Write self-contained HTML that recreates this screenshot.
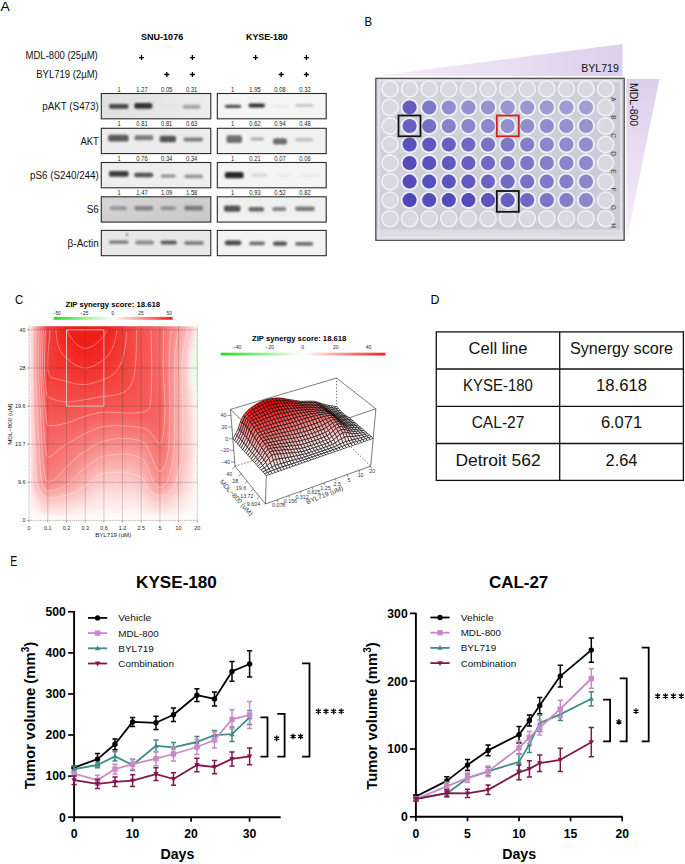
<!DOCTYPE html>
<html><head><meta charset="utf-8"><style>
html,body{margin:0;padding:0;background:#fff;}
svg{display:block;font-family:"Liberation Sans", sans-serif;}
</style></head><body>
<svg width="685" height="864" viewBox="0 0 685 864">
<defs><linearGradient id="gL0" x1="0" y1="0" x2="1" y2="0"><stop offset="0" stop-color="#e0e0e0"/><stop offset="1" stop-color="#ededed"/></linearGradient><linearGradient id="gL3" x1="0" y1="0" x2="1" y2="1"><stop offset="0" stop-color="#d6d6d6"/><stop offset="1" stop-color="#c8c8c8"/></linearGradient><filter id="bb" x="-30%" y="-80%" width="160%" height="260%"><feGaussianBlur stdDeviation="1.2 0.9"/></filter><linearGradient id="wedgeH" x1="0" y1="0" x2="1" y2="0"><stop offset="0" stop-color="#f6eefa"/><stop offset="1" stop-color="#ddd0ec"/></linearGradient><linearGradient id="wedgeV" x1="0" y1="0" x2="0" y2="1"><stop offset="0" stop-color="#dccfeb"/><stop offset="1" stop-color="#f6eefa"/></linearGradient><linearGradient id="plate" x1="0" y1="0" x2="1" y2="1"><stop offset="0" stop-color="#d4d4da"/><stop offset="1" stop-color="#c9c8d4"/></linearGradient><linearGradient id="cb" x1="0" y1="0" x2="1" y2="0"><stop offset="0" stop-color="#22dd22"/><stop offset="0.5" stop-color="#ffffff"/><stop offset="1" stop-color="#ff1a1a"/></linearGradient><clipPath id="hmclip"><rect x="29.1" y="326.2" width="168.6" height="194.3"/></clipPath><filter id="hmb" x="-5%" y="-5%" width="110%" height="110%"><feGaussianBlur stdDeviation="2.2"/></filter><linearGradient id="cb2" x1="0" y1="0" x2="1" y2="0"><stop offset="0" stop-color="#22dd22"/><stop offset="0.5" stop-color="#ffffff"/><stop offset="1" stop-color="#ff1a1a"/></linearGradient></defs>
<rect width="685" height="864" fill="#fff"/>
<text x="0.6" y="11.0" font-size="13" textLength="9.3" lengthAdjust="spacingAndGlyphs">A</text>
<text x="141.0" y="40.1" font-size="9" font-weight="bold" textLength="42.2" lengthAdjust="spacingAndGlyphs">SNU-1076</text>
<text x="246.0" y="40.1" font-size="9" font-weight="bold" textLength="41.8" lengthAdjust="spacingAndGlyphs">KYSE-180</text>
<text x="97.8" y="58.8" font-size="10.3" text-anchor="end" textLength="72.3" lengthAdjust="spacingAndGlyphs" fill="#111">MDL-800 (25µM)</text>
<text x="97.8" y="78.1" font-size="10.3" text-anchor="end" textLength="61.6" lengthAdjust="spacingAndGlyphs" fill="#111">BYL719 (2µM)</text>
<path d="M139.0 57.6h5M141.5 55.1v5" stroke="#000" stroke-width="1.3"/>
<path d="M189.9 57.6h5M192.4 55.1v5" stroke="#000" stroke-width="1.3"/>
<path d="M253.1 57.6h5M255.6 55.1v5" stroke="#000" stroke-width="1.3"/>
<path d="M303.9 57.6h5M306.4 55.1v5" stroke="#000" stroke-width="1.3"/>
<path d="M164.3 74.5h5M166.8 72.0v5" stroke="#000" stroke-width="1.3"/>
<path d="M189.9 74.5h5M192.4 72.0v5" stroke="#000" stroke-width="1.3"/>
<path d="M278.7 74.5h5M281.2 72.0v5" stroke="#000" stroke-width="1.3"/>
<path d="M303.9 74.5h5M306.4 72.0v5" stroke="#000" stroke-width="1.3"/>
<text x="98.8" y="109.8" font-size="10.0" text-anchor="end" textLength="56.6" lengthAdjust="spacingAndGlyphs" fill="#111">pAKT (S473)</text>
<rect x="101.3" y="93.5" width="109.5" height="25.3" fill="url(#gL0)" stroke="#2a2a2a" stroke-width="1.1"/>
<rect x="109.0" y="103.9" width="19.6" height="4.8" rx="2" fill="#464646" filter="url(#bb)"/>
<rect x="134.3" y="103.1" width="18.0" height="5.6" rx="2" fill="#303030" filter="url(#bb)"/>
<rect x="160.8" y="105.0" width="14.4" height="3.0" rx="2" fill="#e4e4e4" filter="url(#bb)"/>
<rect x="182.6" y="104.8" width="18.0" height="3.9" rx="2" fill="#a5a5a5" filter="url(#bb)"/>
<text x="119.2" y="91.5" font-size="6.6" text-anchor="middle" textLength="3.2" lengthAdjust="spacingAndGlyphs" fill="#222">1</text>
<text x="142.0" y="91.5" font-size="6.6" text-anchor="middle" textLength="11.3" lengthAdjust="spacingAndGlyphs" fill="#222">1.27</text>
<text x="166.7" y="91.5" font-size="6.6" text-anchor="middle" textLength="11.3" lengthAdjust="spacingAndGlyphs" fill="#222">0.05</text>
<text x="191.7" y="91.5" font-size="6.6" text-anchor="middle" textLength="11.3" lengthAdjust="spacingAndGlyphs" fill="#222">0.31</text>
<rect x="217.3" y="93.5" width="108.9" height="25.3" fill="#f5f5f5" stroke="#2a2a2a" stroke-width="1.1"/>
<rect x="224.8" y="104.8" width="16.4" height="3.1" rx="2" fill="#505050" filter="url(#bb)"/>
<rect x="248.5" y="103.6" width="16.4" height="3.9" rx="2" fill="#323232" filter="url(#bb)"/>
<rect x="272.8" y="105.0" width="16.4" height="2.5" rx="2" fill="#e8e8e8" filter="url(#bb)"/>
<rect x="295.1" y="103.9" width="18.8" height="3.1" rx="2" fill="#c8c8c8" filter="url(#bb)"/>
<text x="232.6" y="91.5" font-size="6.6" text-anchor="middle" textLength="3.2" lengthAdjust="spacingAndGlyphs" fill="#222">1</text>
<text x="255.0" y="91.5" font-size="6.6" text-anchor="middle" textLength="11.3" lengthAdjust="spacingAndGlyphs" fill="#222">1.95</text>
<text x="280.0" y="91.5" font-size="6.6" text-anchor="middle" textLength="11.3" lengthAdjust="spacingAndGlyphs" fill="#222">0.08</text>
<text x="305.0" y="91.5" font-size="6.6" text-anchor="middle" textLength="11.3" lengthAdjust="spacingAndGlyphs" fill="#222">0.32</text>
<text x="98.8" y="144.6" font-size="10.0" text-anchor="end" textLength="18.4" lengthAdjust="spacingAndGlyphs" fill="#111">AKT</text>
<rect x="101.3" y="128.3" width="109.5" height="25.3" fill="#ececec" stroke="#2a2a2a" stroke-width="1.1"/>
<rect x="108.2" y="134.7" width="20.4" height="6.7" rx="2" fill="#5a5a5a" filter="url(#bb)"/>
<rect x="134.3" y="135.3" width="18.9" height="4.9" rx="2" fill="#7a7a7a" filter="url(#bb)"/>
<rect x="159.7" y="135.8" width="16.3" height="6.4" rx="2" fill="#525252" filter="url(#bb)"/>
<rect x="183.4" y="137.5" width="19.6" height="3.9" rx="2" fill="#7a7a7a" filter="url(#bb)"/>
<text x="119.2" y="126.3" font-size="6.6" text-anchor="middle" textLength="3.2" lengthAdjust="spacingAndGlyphs" fill="#222">1</text>
<text x="142.0" y="126.3" font-size="6.6" text-anchor="middle" textLength="11.3" lengthAdjust="spacingAndGlyphs" fill="#222">0.81</text>
<text x="166.7" y="126.3" font-size="6.6" text-anchor="middle" textLength="11.3" lengthAdjust="spacingAndGlyphs" fill="#222">0.81</text>
<text x="191.7" y="126.3" font-size="6.6" text-anchor="middle" textLength="11.3" lengthAdjust="spacingAndGlyphs" fill="#222">0.63</text>
<rect x="217.3" y="128.3" width="108.9" height="25.3" fill="#f2f2f2" stroke="#2a2a2a" stroke-width="1.1"/>
<rect x="226.4" y="135.3" width="15.6" height="7.7" rx="2" fill="#6e6e6e" filter="url(#bb)"/>
<rect x="250.1" y="137.5" width="14.0" height="3.0" rx="2" fill="#aaaaaa" filter="url(#bb)"/>
<rect x="273.0" y="138.3" width="14.0" height="6.3" rx="2" fill="#6c6c6c" filter="url(#bb)"/>
<rect x="295.1" y="138.0" width="18.1" height="3.4" rx="2" fill="#c0c0c0" filter="url(#bb)"/>
<text x="232.6" y="126.3" font-size="6.6" text-anchor="middle" textLength="3.2" lengthAdjust="spacingAndGlyphs" fill="#222">1</text>
<text x="255.0" y="126.3" font-size="6.6" text-anchor="middle" textLength="11.3" lengthAdjust="spacingAndGlyphs" fill="#222">0.62</text>
<text x="280.0" y="126.3" font-size="6.6" text-anchor="middle" textLength="11.3" lengthAdjust="spacingAndGlyphs" fill="#222">0.94</text>
<text x="305.0" y="126.3" font-size="6.6" text-anchor="middle" textLength="11.3" lengthAdjust="spacingAndGlyphs" fill="#222">0.48</text>
<text x="98.8" y="178.8" font-size="10.0" text-anchor="end" textLength="68.7" lengthAdjust="spacingAndGlyphs" fill="#111">pS6 (S240/244)</text>
<rect x="101.3" y="162.5" width="109.5" height="25.3" fill="#efefef" stroke="#2a2a2a" stroke-width="1.1"/>
<rect x="109.0" y="171.1" width="19.6" height="5.6" rx="2" fill="#3c3c3c" filter="url(#bb)"/>
<rect x="134.3" y="172.8" width="18.9" height="4.4" rx="2" fill="#525252" filter="url(#bb)"/>
<rect x="160.5" y="174.4" width="15.5" height="3.1" rx="2" fill="#8c8c8c" filter="url(#bb)"/>
<rect x="184.2" y="174.4" width="18.8" height="3.9" rx="2" fill="#969696" filter="url(#bb)"/>
<text x="119.2" y="160.5" font-size="6.6" text-anchor="middle" textLength="3.2" lengthAdjust="spacingAndGlyphs" fill="#222">1</text>
<text x="142.0" y="160.5" font-size="6.6" text-anchor="middle" textLength="11.3" lengthAdjust="spacingAndGlyphs" fill="#222">0.76</text>
<text x="166.7" y="160.5" font-size="6.6" text-anchor="middle" textLength="11.3" lengthAdjust="spacingAndGlyphs" fill="#222">0.34</text>
<text x="191.7" y="160.5" font-size="6.6" text-anchor="middle" textLength="11.3" lengthAdjust="spacingAndGlyphs" fill="#222">0.34</text>
<rect x="217.3" y="162.5" width="108.9" height="25.3" fill="#f4f4f4" stroke="#2a2a2a" stroke-width="1.1"/>
<rect x="224.8" y="171.9" width="18.8" height="6.4" rx="2" fill="#282828" filter="url(#bb)"/>
<rect x="251.0" y="173.5" width="16.3" height="3.2" rx="2" fill="#d7d7d7" filter="url(#bb)"/>
<rect x="277.1" y="174.0" width="13.1" height="2.5" rx="2" fill="#e6e6e6" filter="url(#bb)"/>
<rect x="300.0" y="174.0" width="18.8" height="3.0" rx="2" fill="#eaeaea" filter="url(#bb)"/>
<text x="232.6" y="160.5" font-size="6.6" text-anchor="middle" textLength="3.2" lengthAdjust="spacingAndGlyphs" fill="#222">1</text>
<text x="255.0" y="160.5" font-size="6.6" text-anchor="middle" textLength="11.3" lengthAdjust="spacingAndGlyphs" fill="#222">0.21</text>
<text x="280.0" y="160.5" font-size="6.6" text-anchor="middle" textLength="11.3" lengthAdjust="spacingAndGlyphs" fill="#222">0.07</text>
<text x="305.0" y="160.5" font-size="6.6" text-anchor="middle" textLength="11.3" lengthAdjust="spacingAndGlyphs" fill="#222">0.06</text>
<text x="98.8" y="213.1" font-size="10.0" text-anchor="end" textLength="12.0" lengthAdjust="spacingAndGlyphs" fill="#111">S6</text>
<rect x="101.3" y="196.8" width="109.5" height="25.3" fill="url(#gL3)" stroke="#2a2a2a" stroke-width="1.1"/>
<rect x="109.8" y="206.3" width="17.2" height="3.9" rx="2" fill="#969696" filter="url(#bb)"/>
<rect x="134.3" y="206.0" width="18.9" height="4.5" rx="2" fill="#848484" filter="url(#bb)"/>
<rect x="160.5" y="206.3" width="15.5" height="3.9" rx="2" fill="#929292" filter="url(#bb)"/>
<rect x="184.2" y="205.7" width="18.8" height="4.8" rx="2" fill="#7a7a7a" filter="url(#bb)"/>
<text x="119.2" y="194.8" font-size="6.6" text-anchor="middle" textLength="3.2" lengthAdjust="spacingAndGlyphs" fill="#222">1</text>
<text x="142.0" y="194.8" font-size="6.6" text-anchor="middle" textLength="11.3" lengthAdjust="spacingAndGlyphs" fill="#222">1.47</text>
<text x="166.7" y="194.8" font-size="6.6" text-anchor="middle" textLength="11.3" lengthAdjust="spacingAndGlyphs" fill="#222">1.09</text>
<text x="191.7" y="194.8" font-size="6.6" text-anchor="middle" textLength="11.3" lengthAdjust="spacingAndGlyphs" fill="#222">1.58</text>
<rect x="217.3" y="196.8" width="108.9" height="25.3" fill="#f0f0f0" stroke="#2a2a2a" stroke-width="1.1"/>
<rect x="224.0" y="205.5" width="16.4" height="6.3" rx="2" fill="#525252" filter="url(#bb)"/>
<rect x="248.5" y="207.1" width="15.6" height="4.4" rx="2" fill="#666666" filter="url(#bb)"/>
<rect x="272.2" y="207.1" width="14.0" height="3.9" rx="2" fill="#828282" filter="url(#bb)"/>
<rect x="295.1" y="206.5" width="19.7" height="4.5" rx="2" fill="#787878" filter="url(#bb)"/>
<text x="232.6" y="194.8" font-size="6.6" text-anchor="middle" textLength="3.2" lengthAdjust="spacingAndGlyphs" fill="#222">1</text>
<text x="255.0" y="194.8" font-size="6.6" text-anchor="middle" textLength="11.3" lengthAdjust="spacingAndGlyphs" fill="#222">0.93</text>
<text x="280.0" y="194.8" font-size="6.6" text-anchor="middle" textLength="11.3" lengthAdjust="spacingAndGlyphs" fill="#222">0.52</text>
<text x="305.0" y="194.8" font-size="6.6" text-anchor="middle" textLength="11.3" lengthAdjust="spacingAndGlyphs" fill="#222">0.82</text>
<text x="98.8" y="246.7" font-size="10.0" text-anchor="end" textLength="31.2" lengthAdjust="spacingAndGlyphs" fill="#111">β-Actin</text>
<rect x="101.3" y="230.4" width="109.5" height="25.3" fill="#e8e8e8" stroke="#2a2a2a" stroke-width="1.1"/>
<rect x="109.0" y="240.6" width="19.6" height="3.1" rx="2" fill="#767676" filter="url(#bb)"/>
<rect x="135.1" y="240.6" width="18.9" height="3.9" rx="2" fill="#8c8c8c" filter="url(#bb)"/>
<rect x="160.5" y="240.6" width="16.4" height="3.9" rx="2" fill="#5c5c5c" filter="url(#bb)"/>
<rect x="184.2" y="241.1" width="19.6" height="3.9" rx="2" fill="#828282" filter="url(#bb)"/>
<rect x="217.3" y="230.4" width="108.9" height="25.3" fill="#f3f3f3" stroke="#2a2a2a" stroke-width="1.1"/>
<rect x="224.8" y="240.6" width="16.4" height="4.7" rx="2" fill="#484848" filter="url(#bb)"/>
<rect x="249.3" y="241.5" width="15.6" height="3.8" rx="2" fill="#6e6e6e" filter="url(#bb)"/>
<rect x="273.0" y="241.5" width="14.0" height="4.2" rx="2" fill="#525252" filter="url(#bb)"/>
<rect x="295.1" y="242.0" width="18.1" height="3.7" rx="2" fill="#6e6e6e" filter="url(#bb)"/>
<circle cx="127" cy="234.6" r="1.1" fill="#444" filter="url(#bb)"/>
<text x="364.6" y="25.7" font-size="13" textLength="7.6" lengthAdjust="spacingAndGlyphs">B</text>
<polygon points="376,76 622.5,44 622.5,76" fill="url(#wedgeH)"/>
<polygon points="626.5,79 659.5,79 626.5,240" fill="url(#wedgeV)"/>
<text x="618.8" y="71.8" font-size="10.5" text-anchor="end" textLength="37.6" lengthAdjust="spacingAndGlyphs" fill="#111">BYL719</text>
<text x="630.0" y="83.0" font-size="10.5" textLength="43.2" lengthAdjust="spacingAndGlyphs" fill="#111" transform="rotate(90 630.0 83.0)">MDL-800</text>
<rect x="375.8" y="78.3" width="248.4" height="162" fill="url(#plate)" stroke="#444" stroke-width="1.2"/>
<rect x="377" y="229.5" width="246" height="10" fill="#dcdce0"/>
<rect x="379" y="81" width="242" height="156" fill="none" stroke="#e6e6ea" stroke-width="1.5"/>
<circle cx="390.0" cy="88.9" r="8.0" fill="none" stroke="#efeff6" stroke-width="1.9"/>
<circle cx="390.0" cy="88.9" r="7.0" fill="#d9d9df"/>
<circle cx="409.6" cy="88.9" r="8.0" fill="none" stroke="#efeff6" stroke-width="1.9"/>
<circle cx="409.6" cy="88.9" r="7.0" fill="#d9d9df"/>
<circle cx="429.2" cy="88.9" r="8.0" fill="none" stroke="#efeff6" stroke-width="1.9"/>
<circle cx="429.2" cy="88.9" r="7.0" fill="#d9d9df"/>
<circle cx="448.8" cy="88.9" r="8.0" fill="none" stroke="#efeff6" stroke-width="1.9"/>
<circle cx="448.8" cy="88.9" r="7.0" fill="#d9d9df"/>
<circle cx="468.4" cy="88.9" r="8.0" fill="none" stroke="#efeff6" stroke-width="1.9"/>
<circle cx="468.4" cy="88.9" r="7.0" fill="#d9d9df"/>
<circle cx="488.0" cy="88.9" r="8.0" fill="none" stroke="#efeff6" stroke-width="1.9"/>
<circle cx="488.0" cy="88.9" r="7.0" fill="#d9d9df"/>
<circle cx="507.6" cy="88.9" r="8.0" fill="none" stroke="#efeff6" stroke-width="1.9"/>
<circle cx="507.6" cy="88.9" r="7.0" fill="#d9d9df"/>
<circle cx="527.2" cy="88.9" r="8.0" fill="none" stroke="#efeff6" stroke-width="1.9"/>
<circle cx="527.2" cy="88.9" r="7.0" fill="#d9d9df"/>
<circle cx="546.8" cy="88.9" r="8.0" fill="none" stroke="#efeff6" stroke-width="1.9"/>
<circle cx="546.8" cy="88.9" r="7.0" fill="#d9d9df"/>
<circle cx="566.4" cy="88.9" r="8.0" fill="none" stroke="#efeff6" stroke-width="1.9"/>
<circle cx="566.4" cy="88.9" r="7.0" fill="#d9d9df"/>
<circle cx="586.0" cy="88.9" r="8.0" fill="none" stroke="#efeff6" stroke-width="1.9"/>
<circle cx="586.0" cy="88.9" r="7.0" fill="#d9d9df"/>
<circle cx="605.6" cy="88.9" r="8.0" fill="none" stroke="#efeff6" stroke-width="1.9"/>
<circle cx="605.6" cy="88.9" r="7.0" fill="#d9d9df"/>
<circle cx="390.0" cy="107.4" r="8.0" fill="none" stroke="#efeff6" stroke-width="1.9"/>
<circle cx="390.0" cy="107.4" r="7.0" fill="#d9d9df"/>
<circle cx="409.6" cy="107.4" r="8.0" fill="none" stroke="#efeff6" stroke-width="1.9"/>
<circle cx="409.6" cy="107.4" r="7.0" fill="#645cc0"/>
<circle cx="429.2" cy="107.4" r="8.0" fill="none" stroke="#efeff6" stroke-width="1.9"/>
<circle cx="429.2" cy="107.4" r="7.0" fill="#7e78c8"/>
<circle cx="448.8" cy="107.4" r="8.0" fill="none" stroke="#efeff6" stroke-width="1.9"/>
<circle cx="448.8" cy="107.4" r="7.0" fill="#928dce"/>
<circle cx="468.4" cy="107.4" r="8.0" fill="none" stroke="#efeff6" stroke-width="1.9"/>
<circle cx="468.4" cy="107.4" r="7.0" fill="#9590cf"/>
<circle cx="488.0" cy="107.4" r="8.0" fill="none" stroke="#efeff6" stroke-width="1.9"/>
<circle cx="488.0" cy="107.4" r="7.0" fill="#9893d0"/>
<circle cx="507.6" cy="107.4" r="8.0" fill="none" stroke="#efeff6" stroke-width="1.9"/>
<circle cx="507.6" cy="107.4" r="7.0" fill="#9a96d0"/>
<circle cx="527.2" cy="107.4" r="8.0" fill="none" stroke="#efeff6" stroke-width="1.9"/>
<circle cx="527.2" cy="107.4" r="7.0" fill="#9c97d1"/>
<circle cx="546.8" cy="107.4" r="8.0" fill="none" stroke="#efeff6" stroke-width="1.9"/>
<circle cx="546.8" cy="107.4" r="7.0" fill="#9d99d1"/>
<circle cx="566.4" cy="107.4" r="8.0" fill="none" stroke="#efeff6" stroke-width="1.9"/>
<circle cx="566.4" cy="107.4" r="7.0" fill="#a09bd2"/>
<circle cx="586.0" cy="107.4" r="8.0" fill="none" stroke="#efeff6" stroke-width="1.9"/>
<circle cx="586.0" cy="107.4" r="7.0" fill="#a29ed3"/>
<circle cx="605.6" cy="107.4" r="8.0" fill="none" stroke="#efeff6" stroke-width="1.9"/>
<circle cx="605.6" cy="107.4" r="7.0" fill="#d9d9df"/>
<circle cx="390.0" cy="126.0" r="8.0" fill="none" stroke="#efeff6" stroke-width="1.9"/>
<circle cx="390.0" cy="126.0" r="7.0" fill="#d9d9df"/>
<circle cx="409.6" cy="126.0" r="8.0" fill="none" stroke="#efeff6" stroke-width="1.9"/>
<circle cx="409.6" cy="126.0" r="7.0" fill="#6860c1"/>
<circle cx="429.2" cy="126.0" r="8.0" fill="none" stroke="#efeff6" stroke-width="1.9"/>
<circle cx="429.2" cy="126.0" r="7.0" fill="#756ec5"/>
<circle cx="448.8" cy="126.0" r="8.0" fill="none" stroke="#efeff6" stroke-width="1.9"/>
<circle cx="448.8" cy="126.0" r="7.0" fill="#8882cb"/>
<circle cx="468.4" cy="126.0" r="8.0" fill="none" stroke="#efeff6" stroke-width="1.9"/>
<circle cx="468.4" cy="126.0" r="7.0" fill="#8a85cc"/>
<circle cx="488.0" cy="126.0" r="8.0" fill="none" stroke="#efeff6" stroke-width="1.9"/>
<circle cx="488.0" cy="126.0" r="7.0" fill="#8c86cc"/>
<circle cx="507.6" cy="126.0" r="8.0" fill="none" stroke="#efeff6" stroke-width="1.9"/>
<circle cx="507.6" cy="126.0" r="7.0" fill="#928dce"/>
<circle cx="527.2" cy="126.0" r="8.0" fill="none" stroke="#efeff6" stroke-width="1.9"/>
<circle cx="527.2" cy="126.0" r="7.0" fill="#928dce"/>
<circle cx="546.8" cy="126.0" r="8.0" fill="none" stroke="#efeff6" stroke-width="1.9"/>
<circle cx="546.8" cy="126.0" r="7.0" fill="#928dce"/>
<circle cx="566.4" cy="126.0" r="8.0" fill="none" stroke="#efeff6" stroke-width="1.9"/>
<circle cx="566.4" cy="126.0" r="7.0" fill="#9590cf"/>
<circle cx="586.0" cy="126.0" r="8.0" fill="none" stroke="#efeff6" stroke-width="1.9"/>
<circle cx="586.0" cy="126.0" r="7.0" fill="#9994d0"/>
<circle cx="605.6" cy="126.0" r="8.0" fill="none" stroke="#efeff6" stroke-width="1.9"/>
<circle cx="605.6" cy="126.0" r="7.0" fill="#d9d9df"/>
<circle cx="390.0" cy="144.5" r="8.0" fill="none" stroke="#efeff6" stroke-width="1.9"/>
<circle cx="390.0" cy="144.5" r="7.0" fill="#d9d9df"/>
<circle cx="409.6" cy="144.5" r="8.0" fill="none" stroke="#efeff6" stroke-width="1.9"/>
<circle cx="409.6" cy="144.5" r="7.0" fill="#5a52bd"/>
<circle cx="429.2" cy="144.5" r="8.0" fill="none" stroke="#efeff6" stroke-width="1.9"/>
<circle cx="429.2" cy="144.5" r="7.0" fill="#5f57bf"/>
<circle cx="448.8" cy="144.5" r="8.0" fill="none" stroke="#efeff6" stroke-width="1.9"/>
<circle cx="448.8" cy="144.5" r="7.0" fill="#6860c1"/>
<circle cx="468.4" cy="144.5" r="8.0" fill="none" stroke="#efeff6" stroke-width="1.9"/>
<circle cx="468.4" cy="144.5" r="7.0" fill="#7068c4"/>
<circle cx="488.0" cy="144.5" r="8.0" fill="none" stroke="#efeff6" stroke-width="1.9"/>
<circle cx="488.0" cy="144.5" r="7.0" fill="#7871c6"/>
<circle cx="507.6" cy="144.5" r="8.0" fill="none" stroke="#efeff6" stroke-width="1.9"/>
<circle cx="507.6" cy="144.5" r="7.0" fill="#7e78c8"/>
<circle cx="527.2" cy="144.5" r="8.0" fill="none" stroke="#efeff6" stroke-width="1.9"/>
<circle cx="527.2" cy="144.5" r="7.0" fill="#857fca"/>
<circle cx="546.8" cy="144.5" r="8.0" fill="none" stroke="#efeff6" stroke-width="1.9"/>
<circle cx="546.8" cy="144.5" r="7.0" fill="#8a85cc"/>
<circle cx="566.4" cy="144.5" r="8.0" fill="none" stroke="#efeff6" stroke-width="1.9"/>
<circle cx="566.4" cy="144.5" r="7.0" fill="#908acd"/>
<circle cx="586.0" cy="144.5" r="8.0" fill="none" stroke="#efeff6" stroke-width="1.9"/>
<circle cx="586.0" cy="144.5" r="7.0" fill="#928dce"/>
<circle cx="605.6" cy="144.5" r="8.0" fill="none" stroke="#efeff6" stroke-width="1.9"/>
<circle cx="605.6" cy="144.5" r="7.0" fill="#d9d9df"/>
<circle cx="390.0" cy="163.0" r="8.0" fill="none" stroke="#efeff6" stroke-width="1.9"/>
<circle cx="390.0" cy="163.0" r="7.0" fill="#d9d9df"/>
<circle cx="409.6" cy="163.0" r="8.0" fill="none" stroke="#efeff6" stroke-width="1.9"/>
<circle cx="409.6" cy="163.0" r="7.0" fill="#554cbc"/>
<circle cx="429.2" cy="163.0" r="8.0" fill="none" stroke="#efeff6" stroke-width="1.9"/>
<circle cx="429.2" cy="163.0" r="7.0" fill="#5a52bd"/>
<circle cx="448.8" cy="163.0" r="8.0" fill="none" stroke="#efeff6" stroke-width="1.9"/>
<circle cx="448.8" cy="163.0" r="7.0" fill="#625ac0"/>
<circle cx="468.4" cy="163.0" r="8.0" fill="none" stroke="#efeff6" stroke-width="1.9"/>
<circle cx="468.4" cy="163.0" r="7.0" fill="#6860c1"/>
<circle cx="488.0" cy="163.0" r="8.0" fill="none" stroke="#efeff6" stroke-width="1.9"/>
<circle cx="488.0" cy="163.0" r="7.0" fill="#7068c4"/>
<circle cx="507.6" cy="163.0" r="8.0" fill="none" stroke="#efeff6" stroke-width="1.9"/>
<circle cx="507.6" cy="163.0" r="7.0" fill="#7871c6"/>
<circle cx="527.2" cy="163.0" r="8.0" fill="none" stroke="#efeff6" stroke-width="1.9"/>
<circle cx="527.2" cy="163.0" r="7.0" fill="#7d76c8"/>
<circle cx="546.8" cy="163.0" r="8.0" fill="none" stroke="#efeff6" stroke-width="1.9"/>
<circle cx="546.8" cy="163.0" r="7.0" fill="#857fca"/>
<circle cx="566.4" cy="163.0" r="8.0" fill="none" stroke="#efeff6" stroke-width="1.9"/>
<circle cx="566.4" cy="163.0" r="7.0" fill="#8a85cc"/>
<circle cx="586.0" cy="163.0" r="8.0" fill="none" stroke="#efeff6" stroke-width="1.9"/>
<circle cx="586.0" cy="163.0" r="7.0" fill="#908acd"/>
<circle cx="605.6" cy="163.0" r="8.0" fill="none" stroke="#efeff6" stroke-width="1.9"/>
<circle cx="605.6" cy="163.0" r="7.0" fill="#d9d9df"/>
<circle cx="390.0" cy="181.6" r="8.0" fill="none" stroke="#efeff6" stroke-width="1.9"/>
<circle cx="390.0" cy="181.6" r="7.0" fill="#d9d9df"/>
<circle cx="409.6" cy="181.6" r="8.0" fill="none" stroke="#efeff6" stroke-width="1.9"/>
<circle cx="409.6" cy="181.6" r="7.0" fill="#554cbc"/>
<circle cx="429.2" cy="181.6" r="8.0" fill="none" stroke="#efeff6" stroke-width="1.9"/>
<circle cx="429.2" cy="181.6" r="7.0" fill="#574fbc"/>
<circle cx="448.8" cy="181.6" r="8.0" fill="none" stroke="#efeff6" stroke-width="1.9"/>
<circle cx="448.8" cy="181.6" r="7.0" fill="#5d54be"/>
<circle cx="468.4" cy="181.6" r="8.0" fill="none" stroke="#efeff6" stroke-width="1.9"/>
<circle cx="468.4" cy="181.6" r="7.0" fill="#625ac0"/>
<circle cx="488.0" cy="181.6" r="8.0" fill="none" stroke="#efeff6" stroke-width="1.9"/>
<circle cx="488.0" cy="181.6" r="7.0" fill="#6a63c2"/>
<circle cx="507.6" cy="181.6" r="8.0" fill="none" stroke="#efeff6" stroke-width="1.9"/>
<circle cx="507.6" cy="181.6" r="7.0" fill="#726bc4"/>
<circle cx="527.2" cy="181.6" r="8.0" fill="none" stroke="#efeff6" stroke-width="1.9"/>
<circle cx="527.2" cy="181.6" r="7.0" fill="#7871c6"/>
<circle cx="546.8" cy="181.6" r="8.0" fill="none" stroke="#efeff6" stroke-width="1.9"/>
<circle cx="546.8" cy="181.6" r="7.0" fill="#8079c8"/>
<circle cx="566.4" cy="181.6" r="8.0" fill="none" stroke="#efeff6" stroke-width="1.9"/>
<circle cx="566.4" cy="181.6" r="7.0" fill="#857fca"/>
<circle cx="586.0" cy="181.6" r="8.0" fill="none" stroke="#efeff6" stroke-width="1.9"/>
<circle cx="586.0" cy="181.6" r="7.0" fill="#8c86cc"/>
<circle cx="605.6" cy="181.6" r="8.0" fill="none" stroke="#efeff6" stroke-width="1.9"/>
<circle cx="605.6" cy="181.6" r="7.0" fill="#d9d9df"/>
<circle cx="390.0" cy="200.1" r="8.0" fill="none" stroke="#efeff6" stroke-width="1.9"/>
<circle cx="390.0" cy="200.1" r="7.0" fill="#d9d9df"/>
<circle cx="409.6" cy="200.1" r="8.0" fill="none" stroke="#efeff6" stroke-width="1.9"/>
<circle cx="409.6" cy="200.1" r="7.0" fill="#4f46ba"/>
<circle cx="429.2" cy="200.1" r="8.0" fill="none" stroke="#efeff6" stroke-width="1.9"/>
<circle cx="429.2" cy="200.1" r="7.0" fill="#554cbc"/>
<circle cx="448.8" cy="200.1" r="8.0" fill="none" stroke="#efeff6" stroke-width="1.9"/>
<circle cx="448.8" cy="200.1" r="7.0" fill="#554cbc"/>
<circle cx="468.4" cy="200.1" r="8.0" fill="none" stroke="#efeff6" stroke-width="1.9"/>
<circle cx="468.4" cy="200.1" r="7.0" fill="#554cbc"/>
<circle cx="488.0" cy="200.1" r="8.0" fill="none" stroke="#efeff6" stroke-width="1.9"/>
<circle cx="488.0" cy="200.1" r="7.0" fill="#5d54be"/>
<circle cx="507.6" cy="200.1" r="8.0" fill="none" stroke="#efeff6" stroke-width="1.9"/>
<circle cx="507.6" cy="200.1" r="7.0" fill="#6860c1"/>
<circle cx="527.2" cy="200.1" r="8.0" fill="none" stroke="#efeff6" stroke-width="1.9"/>
<circle cx="527.2" cy="200.1" r="7.0" fill="#7068c4"/>
<circle cx="546.8" cy="200.1" r="8.0" fill="none" stroke="#efeff6" stroke-width="1.9"/>
<circle cx="546.8" cy="200.1" r="7.0" fill="#7d76c8"/>
<circle cx="566.4" cy="200.1" r="8.0" fill="none" stroke="#efeff6" stroke-width="1.9"/>
<circle cx="566.4" cy="200.1" r="7.0" fill="#857fca"/>
<circle cx="586.0" cy="200.1" r="8.0" fill="none" stroke="#efeff6" stroke-width="1.9"/>
<circle cx="586.0" cy="200.1" r="7.0" fill="#8c86cc"/>
<circle cx="605.6" cy="200.1" r="8.0" fill="none" stroke="#efeff6" stroke-width="1.9"/>
<circle cx="605.6" cy="200.1" r="7.0" fill="#d9d9df"/>
<circle cx="390.0" cy="218.6" r="8.0" fill="none" stroke="#efeff6" stroke-width="1.9"/>
<circle cx="390.0" cy="218.6" r="7.0" fill="#d9d9df"/>
<circle cx="409.6" cy="218.6" r="8.0" fill="none" stroke="#efeff6" stroke-width="1.9"/>
<circle cx="409.6" cy="218.6" r="7.0" fill="#d9d9df"/>
<circle cx="429.2" cy="218.6" r="8.0" fill="none" stroke="#efeff6" stroke-width="1.9"/>
<circle cx="429.2" cy="218.6" r="7.0" fill="#d9d9df"/>
<circle cx="448.8" cy="218.6" r="8.0" fill="none" stroke="#efeff6" stroke-width="1.9"/>
<circle cx="448.8" cy="218.6" r="7.0" fill="#d9d9df"/>
<circle cx="468.4" cy="218.6" r="8.0" fill="none" stroke="#efeff6" stroke-width="1.9"/>
<circle cx="468.4" cy="218.6" r="7.0" fill="#d9d9df"/>
<circle cx="488.0" cy="218.6" r="8.0" fill="none" stroke="#efeff6" stroke-width="1.9"/>
<circle cx="488.0" cy="218.6" r="7.0" fill="#d9d9df"/>
<circle cx="507.6" cy="218.6" r="8.0" fill="none" stroke="#efeff6" stroke-width="1.9"/>
<circle cx="507.6" cy="218.6" r="7.0" fill="#d9d9df"/>
<circle cx="527.2" cy="218.6" r="8.0" fill="none" stroke="#efeff6" stroke-width="1.9"/>
<circle cx="527.2" cy="218.6" r="7.0" fill="#d9d9df"/>
<circle cx="546.8" cy="218.6" r="8.0" fill="none" stroke="#efeff6" stroke-width="1.9"/>
<circle cx="546.8" cy="218.6" r="7.0" fill="#d9d9df"/>
<circle cx="566.4" cy="218.6" r="8.0" fill="none" stroke="#efeff6" stroke-width="1.9"/>
<circle cx="566.4" cy="218.6" r="7.0" fill="#d9d9df"/>
<circle cx="586.0" cy="218.6" r="8.0" fill="none" stroke="#efeff6" stroke-width="1.9"/>
<circle cx="586.0" cy="218.6" r="7.0" fill="#d9d9df"/>
<circle cx="605.6" cy="218.6" r="8.0" fill="none" stroke="#efeff6" stroke-width="1.9"/>
<circle cx="605.6" cy="218.6" r="7.0" fill="#d9d9df"/>
<text x="613.2" y="99.5" font-size="6.5" text-anchor="middle" fill="#444" transform="rotate(90 613.2 99.5)" dominant-baseline="central">A</text>
<text x="613.2" y="117.5" font-size="6.5" text-anchor="middle" fill="#444" transform="rotate(90 613.2 117.5)" dominant-baseline="central">B</text>
<text x="613.2" y="135.5" font-size="6.5" text-anchor="middle" fill="#444" transform="rotate(90 613.2 135.5)" dominant-baseline="central">C</text>
<text x="613.2" y="153.5" font-size="6.5" text-anchor="middle" fill="#444" transform="rotate(90 613.2 153.5)" dominant-baseline="central">D</text>
<text x="613.2" y="171.5" font-size="6.5" text-anchor="middle" fill="#444" transform="rotate(90 613.2 171.5)" dominant-baseline="central">E</text>
<text x="613.2" y="189.5" font-size="6.5" text-anchor="middle" fill="#444" transform="rotate(90 613.2 189.5)" dominant-baseline="central">F</text>
<text x="613.2" y="207.5" font-size="6.5" text-anchor="middle" fill="#444" transform="rotate(90 613.2 207.5)" dominant-baseline="central">G</text>
<text x="613.2" y="225.5" font-size="6.5" text-anchor="middle" fill="#444" transform="rotate(90 613.2 225.5)" dominant-baseline="central">H</text>
<rect x="398.5" y="115.5" width="22" height="20.8" fill="none" stroke="#111" stroke-width="1.8"/>
<rect x="496.8" y="115.5" width="22" height="20.8" fill="none" stroke="#d42020" stroke-width="1.8"/>
<rect x="496.8" y="191.0" width="22" height="20.8" fill="none" stroke="#111" stroke-width="1.8"/>
<text x="15.0" y="304.2" font-size="13.5" textLength="8.2" lengthAdjust="spacingAndGlyphs">C</text>
<text x="112.8" y="306.6" font-size="7.6" text-anchor="middle" font-weight="bold" textLength="94.6" lengthAdjust="spacingAndGlyphs">ZIP synergy score: 18.618</text>
<rect x="53.6" y="316.9" width="119" height="2.9" fill="url(#cb)"/>
<text x="56.7" y="315.0" font-size="4.8" text-anchor="middle" fill="#222">−50</text>
<text x="84.3" y="315.0" font-size="4.8" text-anchor="middle" fill="#222">−25</text>
<text x="112.8" y="315.0" font-size="4.8" text-anchor="middle" fill="#222">0</text>
<text x="141.0" y="315.0" font-size="4.8" text-anchor="middle" fill="#222">25</text>
<text x="169.2" y="315.0" font-size="4.8" text-anchor="middle" fill="#222">50</text>
<g clip-path="url(#hmclip)"><g filter="url(#hmb)">
<rect x="23.1" y="320.2" width="4.3" height="4.3" fill="#ffffff"/>
<rect x="27.1" y="320.2" width="4.3" height="4.3" fill="#ffffff"/>
<rect x="31.1" y="320.2" width="4.3" height="4.3" fill="#fbb8b7"/>
<rect x="35.1" y="320.2" width="4.3" height="4.3" fill="#f99290"/>
<rect x="39.1" y="320.2" width="4.3" height="4.3" fill="#f66f6c"/>
<rect x="43.1" y="320.2" width="4.3" height="4.3" fill="#f44c48"/>
<rect x="47.1" y="320.2" width="4.3" height="4.3" fill="#f33a35"/>
<rect x="51.1" y="320.2" width="4.3" height="4.3" fill="#f32f2a"/>
<rect x="55.1" y="320.2" width="4.3" height="4.3" fill="#f22721"/>
<rect x="59.1" y="320.2" width="4.3" height="4.3" fill="#f2201b"/>
<rect x="63.1" y="320.2" width="4.3" height="4.3" fill="#f21b16"/>
<rect x="67.1" y="320.2" width="4.3" height="4.3" fill="#f11812"/>
<rect x="71.1" y="320.2" width="4.3" height="4.3" fill="#f1140f"/>
<rect x="75.1" y="320.2" width="4.3" height="4.3" fill="#f1120c"/>
<rect x="79.1" y="320.2" width="4.3" height="4.3" fill="#f1120c"/>
<rect x="83.1" y="320.2" width="4.3" height="4.3" fill="#f1120c"/>
<rect x="87.1" y="320.2" width="4.3" height="4.3" fill="#f1120c"/>
<rect x="91.1" y="320.2" width="4.3" height="4.3" fill="#f1120c"/>
<rect x="95.1" y="320.2" width="4.3" height="4.3" fill="#f1130e"/>
<rect x="99.1" y="320.2" width="4.3" height="4.3" fill="#f11610"/>
<rect x="103.1" y="320.2" width="4.3" height="4.3" fill="#f11813"/>
<rect x="107.1" y="320.2" width="4.3" height="4.3" fill="#f21d17"/>
<rect x="111.1" y="320.2" width="4.3" height="4.3" fill="#f2221d"/>
<rect x="115.1" y="320.2" width="4.3" height="4.3" fill="#f22924"/>
<rect x="119.1" y="320.2" width="4.3" height="4.3" fill="#f32f2a"/>
<rect x="123.1" y="320.2" width="4.3" height="4.3" fill="#f33531"/>
<rect x="127.1" y="320.2" width="4.3" height="4.3" fill="#f33c37"/>
<rect x="131.1" y="320.2" width="4.3" height="4.3" fill="#f4423e"/>
<rect x="135.1" y="320.2" width="4.3" height="4.3" fill="#f44944"/>
<rect x="139.1" y="320.2" width="4.3" height="4.3" fill="#f54f4a"/>
<rect x="143.1" y="320.2" width="4.3" height="4.3" fill="#f5534f"/>
<rect x="147.1" y="320.2" width="4.3" height="4.3" fill="#f55754"/>
<rect x="151.1" y="320.2" width="4.3" height="4.3" fill="#f55c58"/>
<rect x="155.1" y="320.2" width="4.3" height="4.3" fill="#f6605d"/>
<rect x="159.1" y="320.2" width="4.3" height="4.3" fill="#f66763"/>
<rect x="163.1" y="320.2" width="4.3" height="4.3" fill="#f7706c"/>
<rect x="167.1" y="320.2" width="4.3" height="4.3" fill="#f77b78"/>
<rect x="171.1" y="320.2" width="4.3" height="4.3" fill="#f88886"/>
<rect x="175.1" y="320.2" width="4.3" height="4.3" fill="#f99693"/>
<rect x="179.1" y="320.2" width="4.3" height="4.3" fill="#faa3a1"/>
<rect x="183.1" y="320.2" width="4.3" height="4.3" fill="#fab1af"/>
<rect x="187.1" y="320.2" width="4.3" height="4.3" fill="#fbc1c0"/>
<rect x="191.1" y="320.2" width="4.3" height="4.3" fill="#fdd5d4"/>
<rect x="195.1" y="320.2" width="4.3" height="4.3" fill="#fff7f7"/>
<rect x="199.1" y="320.2" width="4.3" height="4.3" fill="#ffffff"/>
<rect x="203.1" y="320.2" width="4.3" height="4.3" fill="#ffffff"/>
<rect x="23.1" y="324.2" width="4.3" height="4.3" fill="#ffffff"/>
<rect x="27.1" y="324.2" width="4.3" height="4.3" fill="#ffffff"/>
<rect x="31.1" y="324.2" width="4.3" height="4.3" fill="#fbb8b7"/>
<rect x="35.1" y="324.2" width="4.3" height="4.3" fill="#f99290"/>
<rect x="39.1" y="324.2" width="4.3" height="4.3" fill="#f66f6c"/>
<rect x="43.1" y="324.2" width="4.3" height="4.3" fill="#f44c48"/>
<rect x="47.1" y="324.2" width="4.3" height="4.3" fill="#f33a35"/>
<rect x="51.1" y="324.2" width="4.3" height="4.3" fill="#f32f2a"/>
<rect x="55.1" y="324.2" width="4.3" height="4.3" fill="#f22721"/>
<rect x="59.1" y="324.2" width="4.3" height="4.3" fill="#f2201b"/>
<rect x="63.1" y="324.2" width="4.3" height="4.3" fill="#f21b16"/>
<rect x="67.1" y="324.2" width="4.3" height="4.3" fill="#f11812"/>
<rect x="71.1" y="324.2" width="4.3" height="4.3" fill="#f1140f"/>
<rect x="75.1" y="324.2" width="4.3" height="4.3" fill="#f1120c"/>
<rect x="79.1" y="324.2" width="4.3" height="4.3" fill="#f1120c"/>
<rect x="83.1" y="324.2" width="4.3" height="4.3" fill="#f1120c"/>
<rect x="87.1" y="324.2" width="4.3" height="4.3" fill="#f1120c"/>
<rect x="91.1" y="324.2" width="4.3" height="4.3" fill="#f1120c"/>
<rect x="95.1" y="324.2" width="4.3" height="4.3" fill="#f1130e"/>
<rect x="99.1" y="324.2" width="4.3" height="4.3" fill="#f11610"/>
<rect x="103.1" y="324.2" width="4.3" height="4.3" fill="#f11813"/>
<rect x="107.1" y="324.2" width="4.3" height="4.3" fill="#f21d17"/>
<rect x="111.1" y="324.2" width="4.3" height="4.3" fill="#f2221d"/>
<rect x="115.1" y="324.2" width="4.3" height="4.3" fill="#f22924"/>
<rect x="119.1" y="324.2" width="4.3" height="4.3" fill="#f32f2a"/>
<rect x="123.1" y="324.2" width="4.3" height="4.3" fill="#f33531"/>
<rect x="127.1" y="324.2" width="4.3" height="4.3" fill="#f33c37"/>
<rect x="131.1" y="324.2" width="4.3" height="4.3" fill="#f4423e"/>
<rect x="135.1" y="324.2" width="4.3" height="4.3" fill="#f44944"/>
<rect x="139.1" y="324.2" width="4.3" height="4.3" fill="#f54f4a"/>
<rect x="143.1" y="324.2" width="4.3" height="4.3" fill="#f5534f"/>
<rect x="147.1" y="324.2" width="4.3" height="4.3" fill="#f55754"/>
<rect x="151.1" y="324.2" width="4.3" height="4.3" fill="#f55c58"/>
<rect x="155.1" y="324.2" width="4.3" height="4.3" fill="#f6605d"/>
<rect x="159.1" y="324.2" width="4.3" height="4.3" fill="#f66763"/>
<rect x="163.1" y="324.2" width="4.3" height="4.3" fill="#f7706c"/>
<rect x="167.1" y="324.2" width="4.3" height="4.3" fill="#f77b78"/>
<rect x="171.1" y="324.2" width="4.3" height="4.3" fill="#f88886"/>
<rect x="175.1" y="324.2" width="4.3" height="4.3" fill="#f99693"/>
<rect x="179.1" y="324.2" width="4.3" height="4.3" fill="#faa3a1"/>
<rect x="183.1" y="324.2" width="4.3" height="4.3" fill="#fab1af"/>
<rect x="187.1" y="324.2" width="4.3" height="4.3" fill="#fbc1c0"/>
<rect x="191.1" y="324.2" width="4.3" height="4.3" fill="#fdd5d4"/>
<rect x="195.1" y="324.2" width="4.3" height="4.3" fill="#fff7f7"/>
<rect x="199.1" y="324.2" width="4.3" height="4.3" fill="#ffffff"/>
<rect x="203.1" y="324.2" width="4.3" height="4.3" fill="#ffffff"/>
<rect x="23.1" y="328.2" width="4.3" height="4.3" fill="#ffffff"/>
<rect x="27.1" y="328.2" width="4.3" height="4.3" fill="#ffffff"/>
<rect x="31.1" y="328.2" width="4.3" height="4.3" fill="#fbb8b6"/>
<rect x="35.1" y="328.2" width="4.3" height="4.3" fill="#f99290"/>
<rect x="39.1" y="328.2" width="4.3" height="4.3" fill="#f66f6b"/>
<rect x="43.1" y="328.2" width="4.3" height="4.3" fill="#f44c48"/>
<rect x="47.1" y="328.2" width="4.3" height="4.3" fill="#f33a35"/>
<rect x="51.1" y="328.2" width="4.3" height="4.3" fill="#f32f2a"/>
<rect x="55.1" y="328.2" width="4.3" height="4.3" fill="#f22721"/>
<rect x="59.1" y="328.2" width="4.3" height="4.3" fill="#f2201b"/>
<rect x="63.1" y="328.2" width="4.3" height="4.3" fill="#f21c16"/>
<rect x="67.1" y="328.2" width="4.3" height="4.3" fill="#f11812"/>
<rect x="71.1" y="328.2" width="4.3" height="4.3" fill="#f1150f"/>
<rect x="75.1" y="328.2" width="4.3" height="4.3" fill="#f1120c"/>
<rect x="79.1" y="328.2" width="4.3" height="4.3" fill="#f1120c"/>
<rect x="83.1" y="328.2" width="4.3" height="4.3" fill="#f1120c"/>
<rect x="87.1" y="328.2" width="4.3" height="4.3" fill="#f1120c"/>
<rect x="91.1" y="328.2" width="4.3" height="4.3" fill="#f1120c"/>
<rect x="95.1" y="328.2" width="4.3" height="4.3" fill="#f1130e"/>
<rect x="99.1" y="328.2" width="4.3" height="4.3" fill="#f11610"/>
<rect x="103.1" y="328.2" width="4.3" height="4.3" fill="#f11813"/>
<rect x="107.1" y="328.2" width="4.3" height="4.3" fill="#f21d17"/>
<rect x="111.1" y="328.2" width="4.3" height="4.3" fill="#f2221d"/>
<rect x="115.1" y="328.2" width="4.3" height="4.3" fill="#f22924"/>
<rect x="119.1" y="328.2" width="4.3" height="4.3" fill="#f32f2a"/>
<rect x="123.1" y="328.2" width="4.3" height="4.3" fill="#f33531"/>
<rect x="127.1" y="328.2" width="4.3" height="4.3" fill="#f33c37"/>
<rect x="131.1" y="328.2" width="4.3" height="4.3" fill="#f4423e"/>
<rect x="135.1" y="328.2" width="4.3" height="4.3" fill="#f44944"/>
<rect x="139.1" y="328.2" width="4.3" height="4.3" fill="#f54f4a"/>
<rect x="143.1" y="328.2" width="4.3" height="4.3" fill="#f5534f"/>
<rect x="147.1" y="328.2" width="4.3" height="4.3" fill="#f55754"/>
<rect x="151.1" y="328.2" width="4.3" height="4.3" fill="#f55c58"/>
<rect x="155.1" y="328.2" width="4.3" height="4.3" fill="#f6605d"/>
<rect x="159.1" y="328.2" width="4.3" height="4.3" fill="#f66763"/>
<rect x="163.1" y="328.2" width="4.3" height="4.3" fill="#f7706c"/>
<rect x="167.1" y="328.2" width="4.3" height="4.3" fill="#f77b78"/>
<rect x="171.1" y="328.2" width="4.3" height="4.3" fill="#f88986"/>
<rect x="175.1" y="328.2" width="4.3" height="4.3" fill="#f99694"/>
<rect x="179.1" y="328.2" width="4.3" height="4.3" fill="#faa3a1"/>
<rect x="183.1" y="328.2" width="4.3" height="4.3" fill="#fab2b0"/>
<rect x="187.1" y="328.2" width="4.3" height="4.3" fill="#fbc2c0"/>
<rect x="191.1" y="328.2" width="4.3" height="4.3" fill="#fdd5d4"/>
<rect x="195.1" y="328.2" width="4.3" height="4.3" fill="#fff9f9"/>
<rect x="199.1" y="328.2" width="4.3" height="4.3" fill="#fbfffb"/>
<rect x="203.1" y="328.2" width="4.3" height="4.3" fill="#fbfffb"/>
<rect x="23.1" y="332.2" width="4.3" height="4.3" fill="#ffffff"/>
<rect x="27.1" y="332.2" width="4.3" height="4.3" fill="#ffffff"/>
<rect x="31.1" y="332.2" width="4.3" height="4.3" fill="#fbb7b6"/>
<rect x="35.1" y="332.2" width="4.3" height="4.3" fill="#f9918f"/>
<rect x="39.1" y="332.2" width="4.3" height="4.3" fill="#f66d6a"/>
<rect x="43.1" y="332.2" width="4.3" height="4.3" fill="#f44a46"/>
<rect x="47.1" y="332.2" width="4.3" height="4.3" fill="#f33934"/>
<rect x="51.1" y="332.2" width="4.3" height="4.3" fill="#f32f2a"/>
<rect x="55.1" y="332.2" width="4.3" height="4.3" fill="#f22722"/>
<rect x="59.1" y="332.2" width="4.3" height="4.3" fill="#f2221c"/>
<rect x="63.1" y="332.2" width="4.3" height="4.3" fill="#f21d18"/>
<rect x="67.1" y="332.2" width="4.3" height="4.3" fill="#f11a14"/>
<rect x="71.1" y="332.2" width="4.3" height="4.3" fill="#f11711"/>
<rect x="75.1" y="332.2" width="4.3" height="4.3" fill="#f1140f"/>
<rect x="79.1" y="332.2" width="4.3" height="4.3" fill="#f1120d"/>
<rect x="83.1" y="332.2" width="4.3" height="4.3" fill="#f1120c"/>
<rect x="87.1" y="332.2" width="4.3" height="4.3" fill="#f1120c"/>
<rect x="91.1" y="332.2" width="4.3" height="4.3" fill="#f1130e"/>
<rect x="95.1" y="332.2" width="4.3" height="4.3" fill="#f11510"/>
<rect x="99.1" y="332.2" width="4.3" height="4.3" fill="#f11812"/>
<rect x="103.1" y="332.2" width="4.3" height="4.3" fill="#f21a15"/>
<rect x="107.1" y="332.2" width="4.3" height="4.3" fill="#f21e19"/>
<rect x="111.1" y="332.2" width="4.3" height="4.3" fill="#f2241f"/>
<rect x="115.1" y="332.2" width="4.3" height="4.3" fill="#f22a25"/>
<rect x="119.1" y="332.2" width="4.3" height="4.3" fill="#f3302b"/>
<rect x="123.1" y="332.2" width="4.3" height="4.3" fill="#f33631"/>
<rect x="127.1" y="332.2" width="4.3" height="4.3" fill="#f33c37"/>
<rect x="131.1" y="332.2" width="4.3" height="4.3" fill="#f4423e"/>
<rect x="135.1" y="332.2" width="4.3" height="4.3" fill="#f44944"/>
<rect x="139.1" y="332.2" width="4.3" height="4.3" fill="#f54f4a"/>
<rect x="143.1" y="332.2" width="4.3" height="4.3" fill="#f5534f"/>
<rect x="147.1" y="332.2" width="4.3" height="4.3" fill="#f55753"/>
<rect x="151.1" y="332.2" width="4.3" height="4.3" fill="#f55b58"/>
<rect x="155.1" y="332.2" width="4.3" height="4.3" fill="#f6605d"/>
<rect x="159.1" y="332.2" width="4.3" height="4.3" fill="#f66763"/>
<rect x="163.1" y="332.2" width="4.3" height="4.3" fill="#f7706d"/>
<rect x="167.1" y="332.2" width="4.3" height="4.3" fill="#f77d79"/>
<rect x="171.1" y="332.2" width="4.3" height="4.3" fill="#f88a88"/>
<rect x="175.1" y="332.2" width="4.3" height="4.3" fill="#f99996"/>
<rect x="179.1" y="332.2" width="4.3" height="4.3" fill="#faa6a4"/>
<rect x="183.1" y="332.2" width="4.3" height="4.3" fill="#fbb5b3"/>
<rect x="187.1" y="332.2" width="4.3" height="4.3" fill="#fcc6c4"/>
<rect x="191.1" y="332.2" width="4.3" height="4.3" fill="#fddbda"/>
<rect x="195.1" y="332.2" width="4.3" height="4.3" fill="#f0fef0"/>
<rect x="199.1" y="332.2" width="4.3" height="4.3" fill="#eefeee"/>
<rect x="203.1" y="332.2" width="4.3" height="4.3" fill="#eefeee"/>
<rect x="23.1" y="336.2" width="4.3" height="4.3" fill="#ffffff"/>
<rect x="27.1" y="336.2" width="4.3" height="4.3" fill="#ffffff"/>
<rect x="31.1" y="336.2" width="4.3" height="4.3" fill="#fbb7b5"/>
<rect x="35.1" y="336.2" width="4.3" height="4.3" fill="#f8918e"/>
<rect x="39.1" y="336.2" width="4.3" height="4.3" fill="#f66c68"/>
<rect x="43.1" y="336.2" width="4.3" height="4.3" fill="#f44844"/>
<rect x="47.1" y="336.2" width="4.3" height="4.3" fill="#f33833"/>
<rect x="51.1" y="336.2" width="4.3" height="4.3" fill="#f32f2a"/>
<rect x="55.1" y="336.2" width="4.3" height="4.3" fill="#f22823"/>
<rect x="59.1" y="336.2" width="4.3" height="4.3" fill="#f2231e"/>
<rect x="63.1" y="336.2" width="4.3" height="4.3" fill="#f21f1a"/>
<rect x="67.1" y="336.2" width="4.3" height="4.3" fill="#f21c17"/>
<rect x="71.1" y="336.2" width="4.3" height="4.3" fill="#f11913"/>
<rect x="75.1" y="336.2" width="4.3" height="4.3" fill="#f11611"/>
<rect x="79.1" y="336.2" width="4.3" height="4.3" fill="#f1150f"/>
<rect x="83.1" y="336.2" width="4.3" height="4.3" fill="#f1140e"/>
<rect x="87.1" y="336.2" width="4.3" height="4.3" fill="#f1140f"/>
<rect x="91.1" y="336.2" width="4.3" height="4.3" fill="#f11610"/>
<rect x="95.1" y="336.2" width="4.3" height="4.3" fill="#f11712"/>
<rect x="99.1" y="336.2" width="4.3" height="4.3" fill="#f11a14"/>
<rect x="103.1" y="336.2" width="4.3" height="4.3" fill="#f21c17"/>
<rect x="107.1" y="336.2" width="4.3" height="4.3" fill="#f2201b"/>
<rect x="111.1" y="336.2" width="4.3" height="4.3" fill="#f22520"/>
<rect x="115.1" y="336.2" width="4.3" height="4.3" fill="#f22b26"/>
<rect x="119.1" y="336.2" width="4.3" height="4.3" fill="#f3312c"/>
<rect x="123.1" y="336.2" width="4.3" height="4.3" fill="#f33631"/>
<rect x="127.1" y="336.2" width="4.3" height="4.3" fill="#f33c38"/>
<rect x="131.1" y="336.2" width="4.3" height="4.3" fill="#f4433e"/>
<rect x="135.1" y="336.2" width="4.3" height="4.3" fill="#f44944"/>
<rect x="139.1" y="336.2" width="4.3" height="4.3" fill="#f54f4a"/>
<rect x="143.1" y="336.2" width="4.3" height="4.3" fill="#f5534f"/>
<rect x="147.1" y="336.2" width="4.3" height="4.3" fill="#f55753"/>
<rect x="151.1" y="336.2" width="4.3" height="4.3" fill="#f55b58"/>
<rect x="155.1" y="336.2" width="4.3" height="4.3" fill="#f6605d"/>
<rect x="159.1" y="336.2" width="4.3" height="4.3" fill="#f66763"/>
<rect x="163.1" y="336.2" width="4.3" height="4.3" fill="#f7716e"/>
<rect x="167.1" y="336.2" width="4.3" height="4.3" fill="#f77e7b"/>
<rect x="171.1" y="336.2" width="4.3" height="4.3" fill="#f88c89"/>
<rect x="175.1" y="336.2" width="4.3" height="4.3" fill="#f99b99"/>
<rect x="179.1" y="336.2" width="4.3" height="4.3" fill="#faa9a7"/>
<rect x="183.1" y="336.2" width="4.3" height="4.3" fill="#fbb8b7"/>
<rect x="187.1" y="336.2" width="4.3" height="4.3" fill="#fccac9"/>
<rect x="191.1" y="336.2" width="4.3" height="4.3" fill="#fde0e0"/>
<rect x="195.1" y="336.2" width="4.3" height="4.3" fill="#e9fde9"/>
<rect x="199.1" y="336.2" width="4.3" height="4.3" fill="#e7fde7"/>
<rect x="203.1" y="336.2" width="4.3" height="4.3" fill="#e7fde7"/>
<rect x="23.1" y="340.2" width="4.3" height="4.3" fill="#ffffff"/>
<rect x="27.1" y="340.2" width="4.3" height="4.3" fill="#ffffff"/>
<rect x="31.1" y="340.2" width="4.3" height="4.3" fill="#fbb7b5"/>
<rect x="35.1" y="340.2" width="4.3" height="4.3" fill="#f8908d"/>
<rect x="39.1" y="340.2" width="4.3" height="4.3" fill="#f66b67"/>
<rect x="43.1" y="340.2" width="4.3" height="4.3" fill="#f44642"/>
<rect x="47.1" y="340.2" width="4.3" height="4.3" fill="#f33733"/>
<rect x="51.1" y="340.2" width="4.3" height="4.3" fill="#f3302b"/>
<rect x="55.1" y="340.2" width="4.3" height="4.3" fill="#f22924"/>
<rect x="59.1" y="340.2" width="4.3" height="4.3" fill="#f2241f"/>
<rect x="63.1" y="340.2" width="4.3" height="4.3" fill="#f2211c"/>
<rect x="67.1" y="340.2" width="4.3" height="4.3" fill="#f21e19"/>
<rect x="71.1" y="340.2" width="4.3" height="4.3" fill="#f21b16"/>
<rect x="75.1" y="340.2" width="4.3" height="4.3" fill="#f11913"/>
<rect x="79.1" y="340.2" width="4.3" height="4.3" fill="#f11711"/>
<rect x="83.1" y="340.2" width="4.3" height="4.3" fill="#f11611"/>
<rect x="87.1" y="340.2" width="4.3" height="4.3" fill="#f11711"/>
<rect x="91.1" y="340.2" width="4.3" height="4.3" fill="#f11812"/>
<rect x="95.1" y="340.2" width="4.3" height="4.3" fill="#f11a14"/>
<rect x="99.1" y="340.2" width="4.3" height="4.3" fill="#f21c17"/>
<rect x="103.1" y="340.2" width="4.3" height="4.3" fill="#f21f19"/>
<rect x="107.1" y="340.2" width="4.3" height="4.3" fill="#f2221d"/>
<rect x="111.1" y="340.2" width="4.3" height="4.3" fill="#f22722"/>
<rect x="115.1" y="340.2" width="4.3" height="4.3" fill="#f32c27"/>
<rect x="119.1" y="340.2" width="4.3" height="4.3" fill="#f3312d"/>
<rect x="123.1" y="340.2" width="4.3" height="4.3" fill="#f33732"/>
<rect x="127.1" y="340.2" width="4.3" height="4.3" fill="#f43c38"/>
<rect x="131.1" y="340.2" width="4.3" height="4.3" fill="#f4433e"/>
<rect x="135.1" y="340.2" width="4.3" height="4.3" fill="#f44945"/>
<rect x="139.1" y="340.2" width="4.3" height="4.3" fill="#f54f4a"/>
<rect x="143.1" y="340.2" width="4.3" height="4.3" fill="#f5534f"/>
<rect x="147.1" y="340.2" width="4.3" height="4.3" fill="#f55753"/>
<rect x="151.1" y="340.2" width="4.3" height="4.3" fill="#f55b57"/>
<rect x="155.1" y="340.2" width="4.3" height="4.3" fill="#f6605d"/>
<rect x="159.1" y="340.2" width="4.3" height="4.3" fill="#f66763"/>
<rect x="163.1" y="340.2" width="4.3" height="4.3" fill="#f7716e"/>
<rect x="167.1" y="340.2" width="4.3" height="4.3" fill="#f77f7c"/>
<rect x="171.1" y="340.2" width="4.3" height="4.3" fill="#f88e8b"/>
<rect x="175.1" y="340.2" width="4.3" height="4.3" fill="#f99d9b"/>
<rect x="179.1" y="340.2" width="4.3" height="4.3" fill="#faacaa"/>
<rect x="183.1" y="340.2" width="4.3" height="4.3" fill="#fbbcba"/>
<rect x="187.1" y="340.2" width="4.3" height="4.3" fill="#fccecd"/>
<rect x="191.1" y="340.2" width="4.3" height="4.3" fill="#fee6e6"/>
<rect x="195.1" y="340.2" width="4.3" height="4.3" fill="#e4fde4"/>
<rect x="199.1" y="340.2" width="4.3" height="4.3" fill="#e2fde2"/>
<rect x="203.1" y="340.2" width="4.3" height="4.3" fill="#e2fde2"/>
<rect x="23.1" y="344.2" width="4.3" height="4.3" fill="#ffffff"/>
<rect x="27.1" y="344.2" width="4.3" height="4.3" fill="#ffffff"/>
<rect x="31.1" y="344.2" width="4.3" height="4.3" fill="#fbb6b5"/>
<rect x="35.1" y="344.2" width="4.3" height="4.3" fill="#f8908d"/>
<rect x="39.1" y="344.2" width="4.3" height="4.3" fill="#f66a66"/>
<rect x="43.1" y="344.2" width="4.3" height="4.3" fill="#f44541"/>
<rect x="47.1" y="344.2" width="4.3" height="4.3" fill="#f33732"/>
<rect x="51.1" y="344.2" width="4.3" height="4.3" fill="#f3302b"/>
<rect x="55.1" y="344.2" width="4.3" height="4.3" fill="#f22a25"/>
<rect x="59.1" y="344.2" width="4.3" height="4.3" fill="#f22621"/>
<rect x="63.1" y="344.2" width="4.3" height="4.3" fill="#f2231e"/>
<rect x="67.1" y="344.2" width="4.3" height="4.3" fill="#f2201b"/>
<rect x="71.1" y="344.2" width="4.3" height="4.3" fill="#f21d18"/>
<rect x="75.1" y="344.2" width="4.3" height="4.3" fill="#f21b16"/>
<rect x="79.1" y="344.2" width="4.3" height="4.3" fill="#f11914"/>
<rect x="83.1" y="344.2" width="4.3" height="4.3" fill="#f11913"/>
<rect x="87.1" y="344.2" width="4.3" height="4.3" fill="#f11914"/>
<rect x="91.1" y="344.2" width="4.3" height="4.3" fill="#f21a15"/>
<rect x="95.1" y="344.2" width="4.3" height="4.3" fill="#f21c17"/>
<rect x="99.1" y="344.2" width="4.3" height="4.3" fill="#f21e19"/>
<rect x="103.1" y="344.2" width="4.3" height="4.3" fill="#f2211c"/>
<rect x="107.1" y="344.2" width="4.3" height="4.3" fill="#f2241f"/>
<rect x="111.1" y="344.2" width="4.3" height="4.3" fill="#f22823"/>
<rect x="115.1" y="344.2" width="4.3" height="4.3" fill="#f32d28"/>
<rect x="119.1" y="344.2" width="4.3" height="4.3" fill="#f3322e"/>
<rect x="123.1" y="344.2" width="4.3" height="4.3" fill="#f33733"/>
<rect x="127.1" y="344.2" width="4.3" height="4.3" fill="#f43d38"/>
<rect x="131.1" y="344.2" width="4.3" height="4.3" fill="#f4433f"/>
<rect x="135.1" y="344.2" width="4.3" height="4.3" fill="#f44945"/>
<rect x="139.1" y="344.2" width="4.3" height="4.3" fill="#f54f4a"/>
<rect x="143.1" y="344.2" width="4.3" height="4.3" fill="#f5534f"/>
<rect x="147.1" y="344.2" width="4.3" height="4.3" fill="#f55753"/>
<rect x="151.1" y="344.2" width="4.3" height="4.3" fill="#f55b57"/>
<rect x="155.1" y="344.2" width="4.3" height="4.3" fill="#f6605d"/>
<rect x="159.1" y="344.2" width="4.3" height="4.3" fill="#f66763"/>
<rect x="163.1" y="344.2" width="4.3" height="4.3" fill="#f7726e"/>
<rect x="167.1" y="344.2" width="4.3" height="4.3" fill="#f7807d"/>
<rect x="171.1" y="344.2" width="4.3" height="4.3" fill="#f88f8d"/>
<rect x="175.1" y="344.2" width="4.3" height="4.3" fill="#f9a09d"/>
<rect x="179.1" y="344.2" width="4.3" height="4.3" fill="#faafad"/>
<rect x="183.1" y="344.2" width="4.3" height="4.3" fill="#fbbfbd"/>
<rect x="187.1" y="344.2" width="4.3" height="4.3" fill="#fcd2d1"/>
<rect x="191.1" y="344.2" width="4.3" height="4.3" fill="#feedec"/>
<rect x="195.1" y="344.2" width="4.3" height="4.3" fill="#e0fde0"/>
<rect x="199.1" y="344.2" width="4.3" height="4.3" fill="#dffcdf"/>
<rect x="203.1" y="344.2" width="4.3" height="4.3" fill="#dffcdf"/>
<rect x="23.1" y="348.2" width="4.3" height="4.3" fill="#ffffff"/>
<rect x="27.1" y="348.2" width="4.3" height="4.3" fill="#ffffff"/>
<rect x="31.1" y="348.2" width="4.3" height="4.3" fill="#fbb6b4"/>
<rect x="35.1" y="348.2" width="4.3" height="4.3" fill="#f88f8d"/>
<rect x="39.1" y="348.2" width="4.3" height="4.3" fill="#f66966"/>
<rect x="43.1" y="348.2" width="4.3" height="4.3" fill="#f44440"/>
<rect x="47.1" y="348.2" width="4.3" height="4.3" fill="#f33732"/>
<rect x="51.1" y="348.2" width="4.3" height="4.3" fill="#f3302c"/>
<rect x="55.1" y="348.2" width="4.3" height="4.3" fill="#f22b26"/>
<rect x="59.1" y="348.2" width="4.3" height="4.3" fill="#f22823"/>
<rect x="63.1" y="348.2" width="4.3" height="4.3" fill="#f22520"/>
<rect x="67.1" y="348.2" width="4.3" height="4.3" fill="#f2221d"/>
<rect x="71.1" y="348.2" width="4.3" height="4.3" fill="#f2201b"/>
<rect x="75.1" y="348.2" width="4.3" height="4.3" fill="#f21e18"/>
<rect x="79.1" y="348.2" width="4.3" height="4.3" fill="#f21c17"/>
<rect x="83.1" y="348.2" width="4.3" height="4.3" fill="#f21b16"/>
<rect x="87.1" y="348.2" width="4.3" height="4.3" fill="#f21c16"/>
<rect x="91.1" y="348.2" width="4.3" height="4.3" fill="#f21d18"/>
<rect x="95.1" y="348.2" width="4.3" height="4.3" fill="#f21f19"/>
<rect x="99.1" y="348.2" width="4.3" height="4.3" fill="#f2211c"/>
<rect x="103.1" y="348.2" width="4.3" height="4.3" fill="#f2231e"/>
<rect x="107.1" y="348.2" width="4.3" height="4.3" fill="#f22621"/>
<rect x="111.1" y="348.2" width="4.3" height="4.3" fill="#f22a25"/>
<rect x="115.1" y="348.2" width="4.3" height="4.3" fill="#f32f2a"/>
<rect x="119.1" y="348.2" width="4.3" height="4.3" fill="#f3342f"/>
<rect x="123.1" y="348.2" width="4.3" height="4.3" fill="#f33834"/>
<rect x="127.1" y="348.2" width="4.3" height="4.3" fill="#f43e39"/>
<rect x="131.1" y="348.2" width="4.3" height="4.3" fill="#f4433f"/>
<rect x="135.1" y="348.2" width="4.3" height="4.3" fill="#f44945"/>
<rect x="139.1" y="348.2" width="4.3" height="4.3" fill="#f54f4a"/>
<rect x="143.1" y="348.2" width="4.3" height="4.3" fill="#f5534f"/>
<rect x="147.1" y="348.2" width="4.3" height="4.3" fill="#f55753"/>
<rect x="151.1" y="348.2" width="4.3" height="4.3" fill="#f55b57"/>
<rect x="155.1" y="348.2" width="4.3" height="4.3" fill="#f6605d"/>
<rect x="159.1" y="348.2" width="4.3" height="4.3" fill="#f66763"/>
<rect x="163.1" y="348.2" width="4.3" height="4.3" fill="#f7726f"/>
<rect x="167.1" y="348.2" width="4.3" height="4.3" fill="#f8807d"/>
<rect x="171.1" y="348.2" width="4.3" height="4.3" fill="#f8918e"/>
<rect x="175.1" y="348.2" width="4.3" height="4.3" fill="#f9a29f"/>
<rect x="179.1" y="348.2" width="4.3" height="4.3" fill="#fab1af"/>
<rect x="183.1" y="348.2" width="4.3" height="4.3" fill="#fbc2c0"/>
<rect x="187.1" y="348.2" width="4.3" height="4.3" fill="#fdd5d4"/>
<rect x="191.1" y="348.2" width="4.3" height="4.3" fill="#fef5f5"/>
<rect x="195.1" y="348.2" width="4.3" height="4.3" fill="#ddfcdd"/>
<rect x="199.1" y="348.2" width="4.3" height="4.3" fill="#dcfcdc"/>
<rect x="203.1" y="348.2" width="4.3" height="4.3" fill="#dcfcdc"/>
<rect x="23.1" y="352.2" width="4.3" height="4.3" fill="#ffffff"/>
<rect x="27.1" y="352.2" width="4.3" height="4.3" fill="#ffffff"/>
<rect x="31.1" y="352.2" width="4.3" height="4.3" fill="#fbb6b4"/>
<rect x="35.1" y="352.2" width="4.3" height="4.3" fill="#f88f8c"/>
<rect x="39.1" y="352.2" width="4.3" height="4.3" fill="#f66965"/>
<rect x="43.1" y="352.2" width="4.3" height="4.3" fill="#f4443f"/>
<rect x="47.1" y="352.2" width="4.3" height="4.3" fill="#f33732"/>
<rect x="51.1" y="352.2" width="4.3" height="4.3" fill="#f3312c"/>
<rect x="55.1" y="352.2" width="4.3" height="4.3" fill="#f32c27"/>
<rect x="59.1" y="352.2" width="4.3" height="4.3" fill="#f22924"/>
<rect x="63.1" y="352.2" width="4.3" height="4.3" fill="#f22722"/>
<rect x="67.1" y="352.2" width="4.3" height="4.3" fill="#f22520"/>
<rect x="71.1" y="352.2" width="4.3" height="4.3" fill="#f2221d"/>
<rect x="75.1" y="352.2" width="4.3" height="4.3" fill="#f2201b"/>
<rect x="79.1" y="352.2" width="4.3" height="4.3" fill="#f21f19"/>
<rect x="83.1" y="352.2" width="4.3" height="4.3" fill="#f21e19"/>
<rect x="87.1" y="352.2" width="4.3" height="4.3" fill="#f21f19"/>
<rect x="91.1" y="352.2" width="4.3" height="4.3" fill="#f2201a"/>
<rect x="95.1" y="352.2" width="4.3" height="4.3" fill="#f2211c"/>
<rect x="99.1" y="352.2" width="4.3" height="4.3" fill="#f2231e"/>
<rect x="103.1" y="352.2" width="4.3" height="4.3" fill="#f22621"/>
<rect x="107.1" y="352.2" width="4.3" height="4.3" fill="#f22924"/>
<rect x="111.1" y="352.2" width="4.3" height="4.3" fill="#f32c27"/>
<rect x="115.1" y="352.2" width="4.3" height="4.3" fill="#f3302c"/>
<rect x="119.1" y="352.2" width="4.3" height="4.3" fill="#f33530"/>
<rect x="123.1" y="352.2" width="4.3" height="4.3" fill="#f33935"/>
<rect x="127.1" y="352.2" width="4.3" height="4.3" fill="#f43e3a"/>
<rect x="131.1" y="352.2" width="4.3" height="4.3" fill="#f4443f"/>
<rect x="135.1" y="352.2" width="4.3" height="4.3" fill="#f44945"/>
<rect x="139.1" y="352.2" width="4.3" height="4.3" fill="#f54f4a"/>
<rect x="143.1" y="352.2" width="4.3" height="4.3" fill="#f5534f"/>
<rect x="147.1" y="352.2" width="4.3" height="4.3" fill="#f55753"/>
<rect x="151.1" y="352.2" width="4.3" height="4.3" fill="#f55b57"/>
<rect x="155.1" y="352.2" width="4.3" height="4.3" fill="#f6605d"/>
<rect x="159.1" y="352.2" width="4.3" height="4.3" fill="#f66763"/>
<rect x="163.1" y="352.2" width="4.3" height="4.3" fill="#f7726f"/>
<rect x="167.1" y="352.2" width="4.3" height="4.3" fill="#f8817e"/>
<rect x="171.1" y="352.2" width="4.3" height="4.3" fill="#f99290"/>
<rect x="175.1" y="352.2" width="4.3" height="4.3" fill="#faa3a1"/>
<rect x="179.1" y="352.2" width="4.3" height="4.3" fill="#fbb3b1"/>
<rect x="183.1" y="352.2" width="4.3" height="4.3" fill="#fcc4c3"/>
<rect x="187.1" y="352.2" width="4.3" height="4.3" fill="#fdd9d8"/>
<rect x="191.1" y="352.2" width="4.3" height="4.3" fill="#f8fef8"/>
<rect x="195.1" y="352.2" width="4.3" height="4.3" fill="#dbfcdb"/>
<rect x="199.1" y="352.2" width="4.3" height="4.3" fill="#dafcda"/>
<rect x="203.1" y="352.2" width="4.3" height="4.3" fill="#dafcda"/>
<rect x="23.1" y="356.2" width="4.3" height="4.3" fill="#ffffff"/>
<rect x="27.1" y="356.2" width="4.3" height="4.3" fill="#ffffff"/>
<rect x="31.1" y="356.2" width="4.3" height="4.3" fill="#fbb6b4"/>
<rect x="35.1" y="356.2" width="4.3" height="4.3" fill="#f88f8c"/>
<rect x="39.1" y="356.2" width="4.3" height="4.3" fill="#f66965"/>
<rect x="43.1" y="356.2" width="4.3" height="4.3" fill="#f4433f"/>
<rect x="47.1" y="356.2" width="4.3" height="4.3" fill="#f33632"/>
<rect x="51.1" y="356.2" width="4.3" height="4.3" fill="#f3322d"/>
<rect x="55.1" y="356.2" width="4.3" height="4.3" fill="#f32e29"/>
<rect x="59.1" y="356.2" width="4.3" height="4.3" fill="#f32b26"/>
<rect x="63.1" y="356.2" width="4.3" height="4.3" fill="#f22924"/>
<rect x="67.1" y="356.2" width="4.3" height="4.3" fill="#f22722"/>
<rect x="71.1" y="356.2" width="4.3" height="4.3" fill="#f22520"/>
<rect x="75.1" y="356.2" width="4.3" height="4.3" fill="#f2231e"/>
<rect x="79.1" y="356.2" width="4.3" height="4.3" fill="#f2221c"/>
<rect x="83.1" y="356.2" width="4.3" height="4.3" fill="#f2211c"/>
<rect x="87.1" y="356.2" width="4.3" height="4.3" fill="#f2211c"/>
<rect x="91.1" y="356.2" width="4.3" height="4.3" fill="#f2231d"/>
<rect x="95.1" y="356.2" width="4.3" height="4.3" fill="#f2241f"/>
<rect x="99.1" y="356.2" width="4.3" height="4.3" fill="#f22621"/>
<rect x="103.1" y="356.2" width="4.3" height="4.3" fill="#f22823"/>
<rect x="107.1" y="356.2" width="4.3" height="4.3" fill="#f22b26"/>
<rect x="111.1" y="356.2" width="4.3" height="4.3" fill="#f32e29"/>
<rect x="115.1" y="356.2" width="4.3" height="4.3" fill="#f3322d"/>
<rect x="119.1" y="356.2" width="4.3" height="4.3" fill="#f33631"/>
<rect x="123.1" y="356.2" width="4.3" height="4.3" fill="#f33a36"/>
<rect x="127.1" y="356.2" width="4.3" height="4.3" fill="#f43f3a"/>
<rect x="131.1" y="356.2" width="4.3" height="4.3" fill="#f44440"/>
<rect x="135.1" y="356.2" width="4.3" height="4.3" fill="#f44945"/>
<rect x="139.1" y="356.2" width="4.3" height="4.3" fill="#f54f4a"/>
<rect x="143.1" y="356.2" width="4.3" height="4.3" fill="#f5534f"/>
<rect x="147.1" y="356.2" width="4.3" height="4.3" fill="#f55753"/>
<rect x="151.1" y="356.2" width="4.3" height="4.3" fill="#f55b57"/>
<rect x="155.1" y="356.2" width="4.3" height="4.3" fill="#f6605c"/>
<rect x="159.1" y="356.2" width="4.3" height="4.3" fill="#f66763"/>
<rect x="163.1" y="356.2" width="4.3" height="4.3" fill="#f7726f"/>
<rect x="167.1" y="356.2" width="4.3" height="4.3" fill="#f8817e"/>
<rect x="171.1" y="356.2" width="4.3" height="4.3" fill="#f99391"/>
<rect x="175.1" y="356.2" width="4.3" height="4.3" fill="#faa5a3"/>
<rect x="179.1" y="356.2" width="4.3" height="4.3" fill="#fbb5b3"/>
<rect x="183.1" y="356.2" width="4.3" height="4.3" fill="#fcc6c5"/>
<rect x="187.1" y="356.2" width="4.3" height="4.3" fill="#fddbdb"/>
<rect x="191.1" y="356.2" width="4.3" height="4.3" fill="#f2fef2"/>
<rect x="195.1" y="356.2" width="4.3" height="4.3" fill="#d9fcd9"/>
<rect x="199.1" y="356.2" width="4.3" height="4.3" fill="#d9fcd9"/>
<rect x="203.1" y="356.2" width="4.3" height="4.3" fill="#d9fcd9"/>
<rect x="23.1" y="360.2" width="4.3" height="4.3" fill="#ffffff"/>
<rect x="27.1" y="360.2" width="4.3" height="4.3" fill="#ffffff"/>
<rect x="31.1" y="360.2" width="4.3" height="4.3" fill="#fbb6b4"/>
<rect x="35.1" y="360.2" width="4.3" height="4.3" fill="#f88f8c"/>
<rect x="39.1" y="360.2" width="4.3" height="4.3" fill="#f66965"/>
<rect x="43.1" y="360.2" width="4.3" height="4.3" fill="#f4433f"/>
<rect x="47.1" y="360.2" width="4.3" height="4.3" fill="#f33632"/>
<rect x="51.1" y="360.2" width="4.3" height="4.3" fill="#f3322e"/>
<rect x="55.1" y="360.2" width="4.3" height="4.3" fill="#f32f2a"/>
<rect x="59.1" y="360.2" width="4.3" height="4.3" fill="#f32d28"/>
<rect x="63.1" y="360.2" width="4.3" height="4.3" fill="#f32c27"/>
<rect x="67.1" y="360.2" width="4.3" height="4.3" fill="#f22a25"/>
<rect x="71.1" y="360.2" width="4.3" height="4.3" fill="#f22823"/>
<rect x="75.1" y="360.2" width="4.3" height="4.3" fill="#f22621"/>
<rect x="79.1" y="360.2" width="4.3" height="4.3" fill="#f2251f"/>
<rect x="83.1" y="360.2" width="4.3" height="4.3" fill="#f2241f"/>
<rect x="87.1" y="360.2" width="4.3" height="4.3" fill="#f2241f"/>
<rect x="91.1" y="360.2" width="4.3" height="4.3" fill="#f22520"/>
<rect x="95.1" y="360.2" width="4.3" height="4.3" fill="#f22722"/>
<rect x="99.1" y="360.2" width="4.3" height="4.3" fill="#f22924"/>
<rect x="103.1" y="360.2" width="4.3" height="4.3" fill="#f22b26"/>
<rect x="107.1" y="360.2" width="4.3" height="4.3" fill="#f32d28"/>
<rect x="111.1" y="360.2" width="4.3" height="4.3" fill="#f3302c"/>
<rect x="115.1" y="360.2" width="4.3" height="4.3" fill="#f3342f"/>
<rect x="119.1" y="360.2" width="4.3" height="4.3" fill="#f33733"/>
<rect x="123.1" y="360.2" width="4.3" height="4.3" fill="#f33b37"/>
<rect x="127.1" y="360.2" width="4.3" height="4.3" fill="#f4403b"/>
<rect x="131.1" y="360.2" width="4.3" height="4.3" fill="#f44540"/>
<rect x="135.1" y="360.2" width="4.3" height="4.3" fill="#f44a45"/>
<rect x="139.1" y="360.2" width="4.3" height="4.3" fill="#f54f4a"/>
<rect x="143.1" y="360.2" width="4.3" height="4.3" fill="#f5534f"/>
<rect x="147.1" y="360.2" width="4.3" height="4.3" fill="#f55753"/>
<rect x="151.1" y="360.2" width="4.3" height="4.3" fill="#f55b57"/>
<rect x="155.1" y="360.2" width="4.3" height="4.3" fill="#f6605c"/>
<rect x="159.1" y="360.2" width="4.3" height="4.3" fill="#f66763"/>
<rect x="163.1" y="360.2" width="4.3" height="4.3" fill="#f7726f"/>
<rect x="167.1" y="360.2" width="4.3" height="4.3" fill="#f8827f"/>
<rect x="171.1" y="360.2" width="4.3" height="4.3" fill="#f99491"/>
<rect x="175.1" y="360.2" width="4.3" height="4.3" fill="#faa6a4"/>
<rect x="179.1" y="360.2" width="4.3" height="4.3" fill="#fbb6b4"/>
<rect x="183.1" y="360.2" width="4.3" height="4.3" fill="#fcc8c6"/>
<rect x="187.1" y="360.2" width="4.3" height="4.3" fill="#fddddd"/>
<rect x="191.1" y="360.2" width="4.3" height="4.3" fill="#effeef"/>
<rect x="195.1" y="360.2" width="4.3" height="4.3" fill="#d8fcd8"/>
<rect x="199.1" y="360.2" width="4.3" height="4.3" fill="#d8fcd8"/>
<rect x="203.1" y="360.2" width="4.3" height="4.3" fill="#d8fcd8"/>
<rect x="23.1" y="364.2" width="4.3" height="4.3" fill="#ffffff"/>
<rect x="27.1" y="364.2" width="4.3" height="4.3" fill="#ffffff"/>
<rect x="31.1" y="364.2" width="4.3" height="4.3" fill="#fbb6b4"/>
<rect x="35.1" y="364.2" width="4.3" height="4.3" fill="#f88f8c"/>
<rect x="39.1" y="364.2" width="4.3" height="4.3" fill="#f66965"/>
<rect x="43.1" y="364.2" width="4.3" height="4.3" fill="#f4433f"/>
<rect x="47.1" y="364.2" width="4.3" height="4.3" fill="#f33632"/>
<rect x="51.1" y="364.2" width="4.3" height="4.3" fill="#f3332e"/>
<rect x="55.1" y="364.2" width="4.3" height="4.3" fill="#f3312c"/>
<rect x="59.1" y="364.2" width="4.3" height="4.3" fill="#f32f2a"/>
<rect x="63.1" y="364.2" width="4.3" height="4.3" fill="#f32e29"/>
<rect x="67.1" y="364.2" width="4.3" height="4.3" fill="#f32c27"/>
<rect x="71.1" y="364.2" width="4.3" height="4.3" fill="#f22a25"/>
<rect x="75.1" y="364.2" width="4.3" height="4.3" fill="#f22924"/>
<rect x="79.1" y="364.2" width="4.3" height="4.3" fill="#f22822"/>
<rect x="83.1" y="364.2" width="4.3" height="4.3" fill="#f22722"/>
<rect x="87.1" y="364.2" width="4.3" height="4.3" fill="#f22722"/>
<rect x="91.1" y="364.2" width="4.3" height="4.3" fill="#f22923"/>
<rect x="95.1" y="364.2" width="4.3" height="4.3" fill="#f22a25"/>
<rect x="99.1" y="364.2" width="4.3" height="4.3" fill="#f32c27"/>
<rect x="103.1" y="364.2" width="4.3" height="4.3" fill="#f32e29"/>
<rect x="107.1" y="364.2" width="4.3" height="4.3" fill="#f3302b"/>
<rect x="111.1" y="364.2" width="4.3" height="4.3" fill="#f3332e"/>
<rect x="115.1" y="364.2" width="4.3" height="4.3" fill="#f33631"/>
<rect x="119.1" y="364.2" width="4.3" height="4.3" fill="#f33934"/>
<rect x="123.1" y="364.2" width="4.3" height="4.3" fill="#f43d38"/>
<rect x="127.1" y="364.2" width="4.3" height="4.3" fill="#f4413c"/>
<rect x="131.1" y="364.2" width="4.3" height="4.3" fill="#f44541"/>
<rect x="135.1" y="364.2" width="4.3" height="4.3" fill="#f44a46"/>
<rect x="139.1" y="364.2" width="4.3" height="4.3" fill="#f54f4a"/>
<rect x="143.1" y="364.2" width="4.3" height="4.3" fill="#f5534f"/>
<rect x="147.1" y="364.2" width="4.3" height="4.3" fill="#f55753"/>
<rect x="151.1" y="364.2" width="4.3" height="4.3" fill="#f55b57"/>
<rect x="155.1" y="364.2" width="4.3" height="4.3" fill="#f6605c"/>
<rect x="159.1" y="364.2" width="4.3" height="4.3" fill="#f66763"/>
<rect x="163.1" y="364.2" width="4.3" height="4.3" fill="#f7726f"/>
<rect x="167.1" y="364.2" width="4.3" height="4.3" fill="#f8827f"/>
<rect x="171.1" y="364.2" width="4.3" height="4.3" fill="#f99492"/>
<rect x="175.1" y="364.2" width="4.3" height="4.3" fill="#faa6a4"/>
<rect x="179.1" y="364.2" width="4.3" height="4.3" fill="#fbb7b5"/>
<rect x="183.1" y="364.2" width="4.3" height="4.3" fill="#fcc8c7"/>
<rect x="187.1" y="364.2" width="4.3" height="4.3" fill="#fddede"/>
<rect x="191.1" y="364.2" width="4.3" height="4.3" fill="#edfeed"/>
<rect x="195.1" y="364.2" width="4.3" height="4.3" fill="#d8fcd8"/>
<rect x="199.1" y="364.2" width="4.3" height="4.3" fill="#d7fcd7"/>
<rect x="203.1" y="364.2" width="4.3" height="4.3" fill="#d7fcd7"/>
<rect x="23.1" y="368.2" width="4.3" height="4.3" fill="#ffffff"/>
<rect x="27.1" y="368.2" width="4.3" height="4.3" fill="#ffffff"/>
<rect x="31.1" y="368.2" width="4.3" height="4.3" fill="#fbb6b4"/>
<rect x="35.1" y="368.2" width="4.3" height="4.3" fill="#f88f8c"/>
<rect x="39.1" y="368.2" width="4.3" height="4.3" fill="#f66965"/>
<rect x="43.1" y="368.2" width="4.3" height="4.3" fill="#f4433f"/>
<rect x="47.1" y="368.2" width="4.3" height="4.3" fill="#f33732"/>
<rect x="51.1" y="368.2" width="4.3" height="4.3" fill="#f3342f"/>
<rect x="55.1" y="368.2" width="4.3" height="4.3" fill="#f3332e"/>
<rect x="59.1" y="368.2" width="4.3" height="4.3" fill="#f3312d"/>
<rect x="63.1" y="368.2" width="4.3" height="4.3" fill="#f3302b"/>
<rect x="67.1" y="368.2" width="4.3" height="4.3" fill="#f32f2a"/>
<rect x="71.1" y="368.2" width="4.3" height="4.3" fill="#f32d28"/>
<rect x="75.1" y="368.2" width="4.3" height="4.3" fill="#f32c27"/>
<rect x="79.1" y="368.2" width="4.3" height="4.3" fill="#f22b26"/>
<rect x="83.1" y="368.2" width="4.3" height="4.3" fill="#f22a25"/>
<rect x="87.1" y="368.2" width="4.3" height="4.3" fill="#f22b26"/>
<rect x="91.1" y="368.2" width="4.3" height="4.3" fill="#f32c27"/>
<rect x="95.1" y="368.2" width="4.3" height="4.3" fill="#f32d28"/>
<rect x="99.1" y="368.2" width="4.3" height="4.3" fill="#f32f2a"/>
<rect x="103.1" y="368.2" width="4.3" height="4.3" fill="#f3312c"/>
<rect x="107.1" y="368.2" width="4.3" height="4.3" fill="#f3332e"/>
<rect x="111.1" y="368.2" width="4.3" height="4.3" fill="#f33530"/>
<rect x="115.1" y="368.2" width="4.3" height="4.3" fill="#f33833"/>
<rect x="119.1" y="368.2" width="4.3" height="4.3" fill="#f33b36"/>
<rect x="123.1" y="368.2" width="4.3" height="4.3" fill="#f43e39"/>
<rect x="127.1" y="368.2" width="4.3" height="4.3" fill="#f4423d"/>
<rect x="131.1" y="368.2" width="4.3" height="4.3" fill="#f44641"/>
<rect x="135.1" y="368.2" width="4.3" height="4.3" fill="#f44a46"/>
<rect x="139.1" y="368.2" width="4.3" height="4.3" fill="#f54f4a"/>
<rect x="143.1" y="368.2" width="4.3" height="4.3" fill="#f5534f"/>
<rect x="147.1" y="368.2" width="4.3" height="4.3" fill="#f55753"/>
<rect x="151.1" y="368.2" width="4.3" height="4.3" fill="#f55b57"/>
<rect x="155.1" y="368.2" width="4.3" height="4.3" fill="#f6605c"/>
<rect x="159.1" y="368.2" width="4.3" height="4.3" fill="#f66763"/>
<rect x="163.1" y="368.2" width="4.3" height="4.3" fill="#f7726f"/>
<rect x="167.1" y="368.2" width="4.3" height="4.3" fill="#f8827f"/>
<rect x="171.1" y="368.2" width="4.3" height="4.3" fill="#f99492"/>
<rect x="175.1" y="368.2" width="4.3" height="4.3" fill="#faa7a4"/>
<rect x="179.1" y="368.2" width="4.3" height="4.3" fill="#fbb7b5"/>
<rect x="183.1" y="368.2" width="4.3" height="4.3" fill="#fcc9c7"/>
<rect x="187.1" y="368.2" width="4.3" height="4.3" fill="#fddede"/>
<rect x="191.1" y="368.2" width="4.3" height="4.3" fill="#edfeed"/>
<rect x="195.1" y="368.2" width="4.3" height="4.3" fill="#d8fcd8"/>
<rect x="199.1" y="368.2" width="4.3" height="4.3" fill="#d7fcd7"/>
<rect x="203.1" y="368.2" width="4.3" height="4.3" fill="#d7fcd7"/>
<rect x="23.1" y="372.2" width="4.3" height="4.3" fill="#ffffff"/>
<rect x="27.1" y="372.2" width="4.3" height="4.3" fill="#ffffff"/>
<rect x="31.1" y="372.2" width="4.3" height="4.3" fill="#fbb6b5"/>
<rect x="35.1" y="372.2" width="4.3" height="4.3" fill="#f8908d"/>
<rect x="39.1" y="372.2" width="4.3" height="4.3" fill="#f66966"/>
<rect x="43.1" y="372.2" width="4.3" height="4.3" fill="#f44440"/>
<rect x="47.1" y="372.2" width="4.3" height="4.3" fill="#f33833"/>
<rect x="51.1" y="372.2" width="4.3" height="4.3" fill="#f33631"/>
<rect x="55.1" y="372.2" width="4.3" height="4.3" fill="#f33530"/>
<rect x="59.1" y="372.2" width="4.3" height="4.3" fill="#f3342f"/>
<rect x="63.1" y="372.2" width="4.3" height="4.3" fill="#f3332e"/>
<rect x="67.1" y="372.2" width="4.3" height="4.3" fill="#f3322d"/>
<rect x="71.1" y="372.2" width="4.3" height="4.3" fill="#f3302b"/>
<rect x="75.1" y="372.2" width="4.3" height="4.3" fill="#f32f2a"/>
<rect x="79.1" y="372.2" width="4.3" height="4.3" fill="#f32e29"/>
<rect x="83.1" y="372.2" width="4.3" height="4.3" fill="#f32e29"/>
<rect x="87.1" y="372.2" width="4.3" height="4.3" fill="#f32e29"/>
<rect x="91.1" y="372.2" width="4.3" height="4.3" fill="#f32f2a"/>
<rect x="95.1" y="372.2" width="4.3" height="4.3" fill="#f3312c"/>
<rect x="99.1" y="372.2" width="4.3" height="4.3" fill="#f3322d"/>
<rect x="103.1" y="372.2" width="4.3" height="4.3" fill="#f3342f"/>
<rect x="107.1" y="372.2" width="4.3" height="4.3" fill="#f33531"/>
<rect x="111.1" y="372.2" width="4.3" height="4.3" fill="#f33733"/>
<rect x="115.1" y="372.2" width="4.3" height="4.3" fill="#f33a35"/>
<rect x="119.1" y="372.2" width="4.3" height="4.3" fill="#f43c38"/>
<rect x="123.1" y="372.2" width="4.3" height="4.3" fill="#f43f3b"/>
<rect x="127.1" y="372.2" width="4.3" height="4.3" fill="#f4433e"/>
<rect x="131.1" y="372.2" width="4.3" height="4.3" fill="#f44642"/>
<rect x="135.1" y="372.2" width="4.3" height="4.3" fill="#f44b46"/>
<rect x="139.1" y="372.2" width="4.3" height="4.3" fill="#f54f4b"/>
<rect x="143.1" y="372.2" width="4.3" height="4.3" fill="#f5534f"/>
<rect x="147.1" y="372.2" width="4.3" height="4.3" fill="#f55753"/>
<rect x="151.1" y="372.2" width="4.3" height="4.3" fill="#f55b57"/>
<rect x="155.1" y="372.2" width="4.3" height="4.3" fill="#f6605c"/>
<rect x="159.1" y="372.2" width="4.3" height="4.3" fill="#f66763"/>
<rect x="163.1" y="372.2" width="4.3" height="4.3" fill="#f7726f"/>
<rect x="167.1" y="372.2" width="4.3" height="4.3" fill="#f8827f"/>
<rect x="171.1" y="372.2" width="4.3" height="4.3" fill="#f99492"/>
<rect x="175.1" y="372.2" width="4.3" height="4.3" fill="#faa7a5"/>
<rect x="179.1" y="372.2" width="4.3" height="4.3" fill="#fbb7b5"/>
<rect x="183.1" y="372.2" width="4.3" height="4.3" fill="#fcc8c7"/>
<rect x="187.1" y="372.2" width="4.3" height="4.3" fill="#fddedd"/>
<rect x="191.1" y="372.2" width="4.3" height="4.3" fill="#effeef"/>
<rect x="195.1" y="372.2" width="4.3" height="4.3" fill="#d9fcd9"/>
<rect x="199.1" y="372.2" width="4.3" height="4.3" fill="#d9fcd9"/>
<rect x="203.1" y="372.2" width="4.3" height="4.3" fill="#d9fcd9"/>
<rect x="23.1" y="376.2" width="4.3" height="4.3" fill="#ffffff"/>
<rect x="27.1" y="376.2" width="4.3" height="4.3" fill="#ffffff"/>
<rect x="31.1" y="376.2" width="4.3" height="4.3" fill="#fbb7b5"/>
<rect x="35.1" y="376.2" width="4.3" height="4.3" fill="#f8918e"/>
<rect x="39.1" y="376.2" width="4.3" height="4.3" fill="#f66b67"/>
<rect x="43.1" y="376.2" width="4.3" height="4.3" fill="#f44641"/>
<rect x="47.1" y="376.2" width="4.3" height="4.3" fill="#f33935"/>
<rect x="51.1" y="376.2" width="4.3" height="4.3" fill="#f33833"/>
<rect x="55.1" y="376.2" width="4.3" height="4.3" fill="#f33732"/>
<rect x="59.1" y="376.2" width="4.3" height="4.3" fill="#f33632"/>
<rect x="63.1" y="376.2" width="4.3" height="4.3" fill="#f33631"/>
<rect x="67.1" y="376.2" width="4.3" height="4.3" fill="#f33530"/>
<rect x="71.1" y="376.2" width="4.3" height="4.3" fill="#f3332f"/>
<rect x="75.1" y="376.2" width="4.3" height="4.3" fill="#f3322e"/>
<rect x="79.1" y="376.2" width="4.3" height="4.3" fill="#f3322d"/>
<rect x="83.1" y="376.2" width="4.3" height="4.3" fill="#f3312d"/>
<rect x="87.1" y="376.2" width="4.3" height="4.3" fill="#f3322d"/>
<rect x="91.1" y="376.2" width="4.3" height="4.3" fill="#f3332e"/>
<rect x="95.1" y="376.2" width="4.3" height="4.3" fill="#f3342f"/>
<rect x="99.1" y="376.2" width="4.3" height="4.3" fill="#f33631"/>
<rect x="103.1" y="376.2" width="4.3" height="4.3" fill="#f33732"/>
<rect x="107.1" y="376.2" width="4.3" height="4.3" fill="#f33834"/>
<rect x="111.1" y="376.2" width="4.3" height="4.3" fill="#f33a36"/>
<rect x="115.1" y="376.2" width="4.3" height="4.3" fill="#f33c38"/>
<rect x="119.1" y="376.2" width="4.3" height="4.3" fill="#f43e3a"/>
<rect x="123.1" y="376.2" width="4.3" height="4.3" fill="#f4413c"/>
<rect x="127.1" y="376.2" width="4.3" height="4.3" fill="#f44440"/>
<rect x="131.1" y="376.2" width="4.3" height="4.3" fill="#f44743"/>
<rect x="135.1" y="376.2" width="4.3" height="4.3" fill="#f44b47"/>
<rect x="139.1" y="376.2" width="4.3" height="4.3" fill="#f54f4b"/>
<rect x="143.1" y="376.2" width="4.3" height="4.3" fill="#f5534f"/>
<rect x="147.1" y="376.2" width="4.3" height="4.3" fill="#f55753"/>
<rect x="151.1" y="376.2" width="4.3" height="4.3" fill="#f55b57"/>
<rect x="155.1" y="376.2" width="4.3" height="4.3" fill="#f6605c"/>
<rect x="159.1" y="376.2" width="4.3" height="4.3" fill="#f66663"/>
<rect x="163.1" y="376.2" width="4.3" height="4.3" fill="#f7716e"/>
<rect x="167.1" y="376.2" width="4.3" height="4.3" fill="#f8817e"/>
<rect x="171.1" y="376.2" width="4.3" height="4.3" fill="#f99491"/>
<rect x="175.1" y="376.2" width="4.3" height="4.3" fill="#faa7a5"/>
<rect x="179.1" y="376.2" width="4.3" height="4.3" fill="#fbb7b5"/>
<rect x="183.1" y="376.2" width="4.3" height="4.3" fill="#fcc8c7"/>
<rect x="187.1" y="376.2" width="4.3" height="4.3" fill="#fddddc"/>
<rect x="191.1" y="376.2" width="4.3" height="4.3" fill="#f2fef2"/>
<rect x="195.1" y="376.2" width="4.3" height="4.3" fill="#dcfcdc"/>
<rect x="199.1" y="376.2" width="4.3" height="4.3" fill="#dbfcdb"/>
<rect x="203.1" y="376.2" width="4.3" height="4.3" fill="#dbfcdb"/>
<rect x="23.1" y="380.2" width="4.3" height="4.3" fill="#ffffff"/>
<rect x="27.1" y="380.2" width="4.3" height="4.3" fill="#ffffff"/>
<rect x="31.1" y="380.2" width="4.3" height="4.3" fill="#fbb8b6"/>
<rect x="35.1" y="380.2" width="4.3" height="4.3" fill="#f9928f"/>
<rect x="39.1" y="380.2" width="4.3" height="4.3" fill="#f66c69"/>
<rect x="43.1" y="380.2" width="4.3" height="4.3" fill="#f44843"/>
<rect x="47.1" y="380.2" width="4.3" height="4.3" fill="#f33c37"/>
<rect x="51.1" y="380.2" width="4.3" height="4.3" fill="#f33a36"/>
<rect x="55.1" y="380.2" width="4.3" height="4.3" fill="#f33a35"/>
<rect x="59.1" y="380.2" width="4.3" height="4.3" fill="#f33935"/>
<rect x="63.1" y="380.2" width="4.3" height="4.3" fill="#f33934"/>
<rect x="67.1" y="380.2" width="4.3" height="4.3" fill="#f33833"/>
<rect x="71.1" y="380.2" width="4.3" height="4.3" fill="#f33732"/>
<rect x="75.1" y="380.2" width="4.3" height="4.3" fill="#f33631"/>
<rect x="79.1" y="380.2" width="4.3" height="4.3" fill="#f33531"/>
<rect x="83.1" y="380.2" width="4.3" height="4.3" fill="#f33531"/>
<rect x="87.1" y="380.2" width="4.3" height="4.3" fill="#f33631"/>
<rect x="91.1" y="380.2" width="4.3" height="4.3" fill="#f33732"/>
<rect x="95.1" y="380.2" width="4.3" height="4.3" fill="#f33833"/>
<rect x="99.1" y="380.2" width="4.3" height="4.3" fill="#f33935"/>
<rect x="103.1" y="380.2" width="4.3" height="4.3" fill="#f33a36"/>
<rect x="107.1" y="380.2" width="4.3" height="4.3" fill="#f33c37"/>
<rect x="111.1" y="380.2" width="4.3" height="4.3" fill="#f43d39"/>
<rect x="115.1" y="380.2" width="4.3" height="4.3" fill="#f43f3a"/>
<rect x="119.1" y="380.2" width="4.3" height="4.3" fill="#f4413c"/>
<rect x="123.1" y="380.2" width="4.3" height="4.3" fill="#f4433e"/>
<rect x="127.1" y="380.2" width="4.3" height="4.3" fill="#f44541"/>
<rect x="131.1" y="380.2" width="4.3" height="4.3" fill="#f44944"/>
<rect x="135.1" y="380.2" width="4.3" height="4.3" fill="#f44c48"/>
<rect x="139.1" y="380.2" width="4.3" height="4.3" fill="#f5504c"/>
<rect x="143.1" y="380.2" width="4.3" height="4.3" fill="#f5534f"/>
<rect x="147.1" y="380.2" width="4.3" height="4.3" fill="#f55753"/>
<rect x="151.1" y="380.2" width="4.3" height="4.3" fill="#f55b57"/>
<rect x="155.1" y="380.2" width="4.3" height="4.3" fill="#f65f5c"/>
<rect x="159.1" y="380.2" width="4.3" height="4.3" fill="#f66562"/>
<rect x="163.1" y="380.2" width="4.3" height="4.3" fill="#f7716d"/>
<rect x="167.1" y="380.2" width="4.3" height="4.3" fill="#f8817e"/>
<rect x="171.1" y="380.2" width="4.3" height="4.3" fill="#f99491"/>
<rect x="175.1" y="380.2" width="4.3" height="4.3" fill="#faa7a5"/>
<rect x="179.1" y="380.2" width="4.3" height="4.3" fill="#fbb6b5"/>
<rect x="183.1" y="380.2" width="4.3" height="4.3" fill="#fcc7c6"/>
<rect x="187.1" y="380.2" width="4.3" height="4.3" fill="#fddbdb"/>
<rect x="191.1" y="380.2" width="4.3" height="4.3" fill="#f8fef8"/>
<rect x="195.1" y="380.2" width="4.3" height="4.3" fill="#dffddf"/>
<rect x="199.1" y="380.2" width="4.3" height="4.3" fill="#defcde"/>
<rect x="203.1" y="380.2" width="4.3" height="4.3" fill="#defcde"/>
<rect x="23.1" y="384.2" width="4.3" height="4.3" fill="#ffffff"/>
<rect x="27.1" y="384.2" width="4.3" height="4.3" fill="#ffffff"/>
<rect x="31.1" y="384.2" width="4.3" height="4.3" fill="#fbb9b7"/>
<rect x="35.1" y="384.2" width="4.3" height="4.3" fill="#f99391"/>
<rect x="39.1" y="384.2" width="4.3" height="4.3" fill="#f66e6b"/>
<rect x="43.1" y="384.2" width="4.3" height="4.3" fill="#f44a46"/>
<rect x="47.1" y="384.2" width="4.3" height="4.3" fill="#f43f3a"/>
<rect x="51.1" y="384.2" width="4.3" height="4.3" fill="#f43d39"/>
<rect x="55.1" y="384.2" width="4.3" height="4.3" fill="#f43d38"/>
<rect x="59.1" y="384.2" width="4.3" height="4.3" fill="#f33c38"/>
<rect x="63.1" y="384.2" width="4.3" height="4.3" fill="#f33c37"/>
<rect x="67.1" y="384.2" width="4.3" height="4.3" fill="#f33b36"/>
<rect x="71.1" y="384.2" width="4.3" height="4.3" fill="#f33a36"/>
<rect x="75.1" y="384.2" width="4.3" height="4.3" fill="#f33a35"/>
<rect x="79.1" y="384.2" width="4.3" height="4.3" fill="#f33935"/>
<rect x="83.1" y="384.2" width="4.3" height="4.3" fill="#f33935"/>
<rect x="87.1" y="384.2" width="4.3" height="4.3" fill="#f33a35"/>
<rect x="91.1" y="384.2" width="4.3" height="4.3" fill="#f33b36"/>
<rect x="95.1" y="384.2" width="4.3" height="4.3" fill="#f33c37"/>
<rect x="99.1" y="384.2" width="4.3" height="4.3" fill="#f43d39"/>
<rect x="103.1" y="384.2" width="4.3" height="4.3" fill="#f43e39"/>
<rect x="107.1" y="384.2" width="4.3" height="4.3" fill="#f43f3a"/>
<rect x="111.1" y="384.2" width="4.3" height="4.3" fill="#f4403c"/>
<rect x="115.1" y="384.2" width="4.3" height="4.3" fill="#f4413d"/>
<rect x="119.1" y="384.2" width="4.3" height="4.3" fill="#f4433f"/>
<rect x="123.1" y="384.2" width="4.3" height="4.3" fill="#f44540"/>
<rect x="127.1" y="384.2" width="4.3" height="4.3" fill="#f44743"/>
<rect x="131.1" y="384.2" width="4.3" height="4.3" fill="#f44a46"/>
<rect x="135.1" y="384.2" width="4.3" height="4.3" fill="#f54d49"/>
<rect x="139.1" y="384.2" width="4.3" height="4.3" fill="#f5504c"/>
<rect x="143.1" y="384.2" width="4.3" height="4.3" fill="#f55450"/>
<rect x="147.1" y="384.2" width="4.3" height="4.3" fill="#f55753"/>
<rect x="151.1" y="384.2" width="4.3" height="4.3" fill="#f55b57"/>
<rect x="155.1" y="384.2" width="4.3" height="4.3" fill="#f65f5b"/>
<rect x="159.1" y="384.2" width="4.3" height="4.3" fill="#f66561"/>
<rect x="163.1" y="384.2" width="4.3" height="4.3" fill="#f7706d"/>
<rect x="167.1" y="384.2" width="4.3" height="4.3" fill="#f8807d"/>
<rect x="171.1" y="384.2" width="4.3" height="4.3" fill="#f99491"/>
<rect x="175.1" y="384.2" width="4.3" height="4.3" fill="#faa7a5"/>
<rect x="179.1" y="384.2" width="4.3" height="4.3" fill="#fbb6b4"/>
<rect x="183.1" y="384.2" width="4.3" height="4.3" fill="#fcc7c5"/>
<rect x="187.1" y="384.2" width="4.3" height="4.3" fill="#fddad9"/>
<rect x="191.1" y="384.2" width="4.3" height="4.3" fill="#fff7f7"/>
<rect x="195.1" y="384.2" width="4.3" height="4.3" fill="#e3fde3"/>
<rect x="199.1" y="384.2" width="4.3" height="4.3" fill="#e3fde3"/>
<rect x="203.1" y="384.2" width="4.3" height="4.3" fill="#e3fde3"/>
<rect x="23.1" y="388.2" width="4.3" height="4.3" fill="#ffffff"/>
<rect x="27.1" y="388.2" width="4.3" height="4.3" fill="#ffffff"/>
<rect x="31.1" y="388.2" width="4.3" height="4.3" fill="#fbbab8"/>
<rect x="35.1" y="388.2" width="4.3" height="4.3" fill="#f99593"/>
<rect x="39.1" y="388.2" width="4.3" height="4.3" fill="#f7716d"/>
<rect x="43.1" y="388.2" width="4.3" height="4.3" fill="#f44d49"/>
<rect x="47.1" y="388.2" width="4.3" height="4.3" fill="#f4423d"/>
<rect x="51.1" y="388.2" width="4.3" height="4.3" fill="#f4403c"/>
<rect x="55.1" y="388.2" width="4.3" height="4.3" fill="#f4403b"/>
<rect x="59.1" y="388.2" width="4.3" height="4.3" fill="#f43f3b"/>
<rect x="63.1" y="388.2" width="4.3" height="4.3" fill="#f43f3a"/>
<rect x="67.1" y="388.2" width="4.3" height="4.3" fill="#f43e3a"/>
<rect x="71.1" y="388.2" width="4.3" height="4.3" fill="#f43e39"/>
<rect x="75.1" y="388.2" width="4.3" height="4.3" fill="#f43d39"/>
<rect x="79.1" y="388.2" width="4.3" height="4.3" fill="#f43d39"/>
<rect x="83.1" y="388.2" width="4.3" height="4.3" fill="#f43e39"/>
<rect x="87.1" y="388.2" width="4.3" height="4.3" fill="#f43e3a"/>
<rect x="91.1" y="388.2" width="4.3" height="4.3" fill="#f43f3b"/>
<rect x="95.1" y="388.2" width="4.3" height="4.3" fill="#f4403c"/>
<rect x="99.1" y="388.2" width="4.3" height="4.3" fill="#f4413d"/>
<rect x="103.1" y="388.2" width="4.3" height="4.3" fill="#f4423d"/>
<rect x="107.1" y="388.2" width="4.3" height="4.3" fill="#f4433e"/>
<rect x="111.1" y="388.2" width="4.3" height="4.3" fill="#f4433f"/>
<rect x="115.1" y="388.2" width="4.3" height="4.3" fill="#f44440"/>
<rect x="119.1" y="388.2" width="4.3" height="4.3" fill="#f44641"/>
<rect x="123.1" y="388.2" width="4.3" height="4.3" fill="#f44743"/>
<rect x="127.1" y="388.2" width="4.3" height="4.3" fill="#f44945"/>
<rect x="131.1" y="388.2" width="4.3" height="4.3" fill="#f44c47"/>
<rect x="135.1" y="388.2" width="4.3" height="4.3" fill="#f54e4a"/>
<rect x="139.1" y="388.2" width="4.3" height="4.3" fill="#f5514d"/>
<rect x="143.1" y="388.2" width="4.3" height="4.3" fill="#f55450"/>
<rect x="147.1" y="388.2" width="4.3" height="4.3" fill="#f55753"/>
<rect x="151.1" y="388.2" width="4.3" height="4.3" fill="#f55b57"/>
<rect x="155.1" y="388.2" width="4.3" height="4.3" fill="#f65f5b"/>
<rect x="159.1" y="388.2" width="4.3" height="4.3" fill="#f66460"/>
<rect x="163.1" y="388.2" width="4.3" height="4.3" fill="#f76f6c"/>
<rect x="167.1" y="388.2" width="4.3" height="4.3" fill="#f7807d"/>
<rect x="171.1" y="388.2" width="4.3" height="4.3" fill="#f99391"/>
<rect x="175.1" y="388.2" width="4.3" height="4.3" fill="#faa7a5"/>
<rect x="179.1" y="388.2" width="4.3" height="4.3" fill="#fbb6b4"/>
<rect x="183.1" y="388.2" width="4.3" height="4.3" fill="#fcc6c5"/>
<rect x="187.1" y="388.2" width="4.3" height="4.3" fill="#fdd8d7"/>
<rect x="191.1" y="388.2" width="4.3" height="4.3" fill="#fef0f0"/>
<rect x="195.1" y="388.2" width="4.3" height="4.3" fill="#e8fde8"/>
<rect x="199.1" y="388.2" width="4.3" height="4.3" fill="#e8fde8"/>
<rect x="203.1" y="388.2" width="4.3" height="4.3" fill="#e8fde8"/>
<rect x="23.1" y="392.2" width="4.3" height="4.3" fill="#ffffff"/>
<rect x="27.1" y="392.2" width="4.3" height="4.3" fill="#ffffff"/>
<rect x="31.1" y="392.2" width="4.3" height="4.3" fill="#fbbbba"/>
<rect x="35.1" y="392.2" width="4.3" height="4.3" fill="#f99794"/>
<rect x="39.1" y="392.2" width="4.3" height="4.3" fill="#f77370"/>
<rect x="43.1" y="392.2" width="4.3" height="4.3" fill="#f5504c"/>
<rect x="47.1" y="392.2" width="4.3" height="4.3" fill="#f44541"/>
<rect x="51.1" y="392.2" width="4.3" height="4.3" fill="#f4443f"/>
<rect x="55.1" y="392.2" width="4.3" height="4.3" fill="#f4433f"/>
<rect x="59.1" y="392.2" width="4.3" height="4.3" fill="#f4423e"/>
<rect x="63.1" y="392.2" width="4.3" height="4.3" fill="#f4423d"/>
<rect x="67.1" y="392.2" width="4.3" height="4.3" fill="#f4413d"/>
<rect x="71.1" y="392.2" width="4.3" height="4.3" fill="#f4413d"/>
<rect x="75.1" y="392.2" width="4.3" height="4.3" fill="#f4413d"/>
<rect x="79.1" y="392.2" width="4.3" height="4.3" fill="#f4423d"/>
<rect x="83.1" y="392.2" width="4.3" height="4.3" fill="#f4423d"/>
<rect x="87.1" y="392.2" width="4.3" height="4.3" fill="#f4433e"/>
<rect x="91.1" y="392.2" width="4.3" height="4.3" fill="#f4433f"/>
<rect x="95.1" y="392.2" width="4.3" height="4.3" fill="#f44440"/>
<rect x="99.1" y="392.2" width="4.3" height="4.3" fill="#f44541"/>
<rect x="103.1" y="392.2" width="4.3" height="4.3" fill="#f44641"/>
<rect x="107.1" y="392.2" width="4.3" height="4.3" fill="#f44642"/>
<rect x="111.1" y="392.2" width="4.3" height="4.3" fill="#f44743"/>
<rect x="115.1" y="392.2" width="4.3" height="4.3" fill="#f44843"/>
<rect x="119.1" y="392.2" width="4.3" height="4.3" fill="#f44844"/>
<rect x="123.1" y="392.2" width="4.3" height="4.3" fill="#f44a45"/>
<rect x="127.1" y="392.2" width="4.3" height="4.3" fill="#f44b47"/>
<rect x="131.1" y="392.2" width="4.3" height="4.3" fill="#f54d49"/>
<rect x="135.1" y="392.2" width="4.3" height="4.3" fill="#f5504c"/>
<rect x="139.1" y="392.2" width="4.3" height="4.3" fill="#f5524e"/>
<rect x="143.1" y="392.2" width="4.3" height="4.3" fill="#f55551"/>
<rect x="147.1" y="392.2" width="4.3" height="4.3" fill="#f55854"/>
<rect x="151.1" y="392.2" width="4.3" height="4.3" fill="#f55b57"/>
<rect x="155.1" y="392.2" width="4.3" height="4.3" fill="#f65f5b"/>
<rect x="159.1" y="392.2" width="4.3" height="4.3" fill="#f66360"/>
<rect x="163.1" y="392.2" width="4.3" height="4.3" fill="#f66e6b"/>
<rect x="167.1" y="392.2" width="4.3" height="4.3" fill="#f77f7c"/>
<rect x="171.1" y="392.2" width="4.3" height="4.3" fill="#f99391"/>
<rect x="175.1" y="392.2" width="4.3" height="4.3" fill="#faa7a5"/>
<rect x="179.1" y="392.2" width="4.3" height="4.3" fill="#fbb6b4"/>
<rect x="183.1" y="392.2" width="4.3" height="4.3" fill="#fcc6c4"/>
<rect x="187.1" y="392.2" width="4.3" height="4.3" fill="#fdd7d6"/>
<rect x="191.1" y="392.2" width="4.3" height="4.3" fill="#feeceb"/>
<rect x="195.1" y="392.2" width="4.3" height="4.3" fill="#eefeee"/>
<rect x="199.1" y="392.2" width="4.3" height="4.3" fill="#edfeed"/>
<rect x="203.1" y="392.2" width="4.3" height="4.3" fill="#edfeed"/>
<rect x="23.1" y="396.2" width="4.3" height="4.3" fill="#ffffff"/>
<rect x="27.1" y="396.2" width="4.3" height="4.3" fill="#ffffff"/>
<rect x="31.1" y="396.2" width="4.3" height="4.3" fill="#fbbcbb"/>
<rect x="35.1" y="396.2" width="4.3" height="4.3" fill="#f99996"/>
<rect x="39.1" y="396.2" width="4.3" height="4.3" fill="#f77572"/>
<rect x="43.1" y="396.2" width="4.3" height="4.3" fill="#f5534f"/>
<rect x="47.1" y="396.2" width="4.3" height="4.3" fill="#f44844"/>
<rect x="51.1" y="396.2" width="4.3" height="4.3" fill="#f44743"/>
<rect x="55.1" y="396.2" width="4.3" height="4.3" fill="#f44642"/>
<rect x="59.1" y="396.2" width="4.3" height="4.3" fill="#f44541"/>
<rect x="63.1" y="396.2" width="4.3" height="4.3" fill="#f44541"/>
<rect x="67.1" y="396.2" width="4.3" height="4.3" fill="#f44540"/>
<rect x="71.1" y="396.2" width="4.3" height="4.3" fill="#f44540"/>
<rect x="75.1" y="396.2" width="4.3" height="4.3" fill="#f44541"/>
<rect x="79.1" y="396.2" width="4.3" height="4.3" fill="#f44641"/>
<rect x="83.1" y="396.2" width="4.3" height="4.3" fill="#f44642"/>
<rect x="87.1" y="396.2" width="4.3" height="4.3" fill="#f44743"/>
<rect x="91.1" y="396.2" width="4.3" height="4.3" fill="#f44843"/>
<rect x="95.1" y="396.2" width="4.3" height="4.3" fill="#f44944"/>
<rect x="99.1" y="396.2" width="4.3" height="4.3" fill="#f44945"/>
<rect x="103.1" y="396.2" width="4.3" height="4.3" fill="#f44a46"/>
<rect x="107.1" y="396.2" width="4.3" height="4.3" fill="#f44a46"/>
<rect x="111.1" y="396.2" width="4.3" height="4.3" fill="#f44a46"/>
<rect x="115.1" y="396.2" width="4.3" height="4.3" fill="#f44b47"/>
<rect x="119.1" y="396.2" width="4.3" height="4.3" fill="#f44c47"/>
<rect x="123.1" y="396.2" width="4.3" height="4.3" fill="#f44c48"/>
<rect x="127.1" y="396.2" width="4.3" height="4.3" fill="#f54e49"/>
<rect x="131.1" y="396.2" width="4.3" height="4.3" fill="#f54f4b"/>
<rect x="135.1" y="396.2" width="4.3" height="4.3" fill="#f5514d"/>
<rect x="139.1" y="396.2" width="4.3" height="4.3" fill="#f5534f"/>
<rect x="143.1" y="396.2" width="4.3" height="4.3" fill="#f55652"/>
<rect x="147.1" y="396.2" width="4.3" height="4.3" fill="#f55854"/>
<rect x="151.1" y="396.2" width="4.3" height="4.3" fill="#f55b57"/>
<rect x="155.1" y="396.2" width="4.3" height="4.3" fill="#f65e5b"/>
<rect x="159.1" y="396.2" width="4.3" height="4.3" fill="#f6635f"/>
<rect x="163.1" y="396.2" width="4.3" height="4.3" fill="#f66e6a"/>
<rect x="167.1" y="396.2" width="4.3" height="4.3" fill="#f77f7c"/>
<rect x="171.1" y="396.2" width="4.3" height="4.3" fill="#f99391"/>
<rect x="175.1" y="396.2" width="4.3" height="4.3" fill="#faa7a5"/>
<rect x="179.1" y="396.2" width="4.3" height="4.3" fill="#fbb6b4"/>
<rect x="183.1" y="396.2" width="4.3" height="4.3" fill="#fcc5c4"/>
<rect x="187.1" y="396.2" width="4.3" height="4.3" fill="#fdd6d5"/>
<rect x="191.1" y="396.2" width="4.3" height="4.3" fill="#fee9e8"/>
<rect x="195.1" y="396.2" width="4.3" height="4.3" fill="#f4fef4"/>
<rect x="199.1" y="396.2" width="4.3" height="4.3" fill="#f3fef3"/>
<rect x="203.1" y="396.2" width="4.3" height="4.3" fill="#f3fef3"/>
<rect x="23.1" y="400.2" width="4.3" height="4.3" fill="#ffffff"/>
<rect x="27.1" y="400.2" width="4.3" height="4.3" fill="#ffffff"/>
<rect x="31.1" y="400.2" width="4.3" height="4.3" fill="#fbbdbc"/>
<rect x="35.1" y="400.2" width="4.3" height="4.3" fill="#f99a98"/>
<rect x="39.1" y="400.2" width="4.3" height="4.3" fill="#f77874"/>
<rect x="43.1" y="400.2" width="4.3" height="4.3" fill="#f55652"/>
<rect x="47.1" y="400.2" width="4.3" height="4.3" fill="#f44c47"/>
<rect x="51.1" y="400.2" width="4.3" height="4.3" fill="#f44a46"/>
<rect x="55.1" y="400.2" width="4.3" height="4.3" fill="#f44945"/>
<rect x="59.1" y="400.2" width="4.3" height="4.3" fill="#f44944"/>
<rect x="63.1" y="400.2" width="4.3" height="4.3" fill="#f44844"/>
<rect x="67.1" y="400.2" width="4.3" height="4.3" fill="#f44844"/>
<rect x="71.1" y="400.2" width="4.3" height="4.3" fill="#f44844"/>
<rect x="75.1" y="400.2" width="4.3" height="4.3" fill="#f44945"/>
<rect x="79.1" y="400.2" width="4.3" height="4.3" fill="#f44a46"/>
<rect x="83.1" y="400.2" width="4.3" height="4.3" fill="#f44b46"/>
<rect x="87.1" y="400.2" width="4.3" height="4.3" fill="#f44b47"/>
<rect x="91.1" y="400.2" width="4.3" height="4.3" fill="#f44c48"/>
<rect x="95.1" y="400.2" width="4.3" height="4.3" fill="#f44d49"/>
<rect x="99.1" y="400.2" width="4.3" height="4.3" fill="#f54e4a"/>
<rect x="103.1" y="400.2" width="4.3" height="4.3" fill="#f54e4a"/>
<rect x="107.1" y="400.2" width="4.3" height="4.3" fill="#f54e4a"/>
<rect x="111.1" y="400.2" width="4.3" height="4.3" fill="#f54e4a"/>
<rect x="115.1" y="400.2" width="4.3" height="4.3" fill="#f54f4a"/>
<rect x="119.1" y="400.2" width="4.3" height="4.3" fill="#f54f4b"/>
<rect x="123.1" y="400.2" width="4.3" height="4.3" fill="#f54f4b"/>
<rect x="127.1" y="400.2" width="4.3" height="4.3" fill="#f5504c"/>
<rect x="131.1" y="400.2" width="4.3" height="4.3" fill="#f5514d"/>
<rect x="135.1" y="400.2" width="4.3" height="4.3" fill="#f5534f"/>
<rect x="139.1" y="400.2" width="4.3" height="4.3" fill="#f55450"/>
<rect x="143.1" y="400.2" width="4.3" height="4.3" fill="#f55652"/>
<rect x="147.1" y="400.2" width="4.3" height="4.3" fill="#f55854"/>
<rect x="151.1" y="400.2" width="4.3" height="4.3" fill="#f55b57"/>
<rect x="155.1" y="400.2" width="4.3" height="4.3" fill="#f65e5a"/>
<rect x="159.1" y="400.2" width="4.3" height="4.3" fill="#f6635f"/>
<rect x="163.1" y="400.2" width="4.3" height="4.3" fill="#f66d6a"/>
<rect x="167.1" y="400.2" width="4.3" height="4.3" fill="#f77f7c"/>
<rect x="171.1" y="400.2" width="4.3" height="4.3" fill="#f99391"/>
<rect x="175.1" y="400.2" width="4.3" height="4.3" fill="#faa7a5"/>
<rect x="179.1" y="400.2" width="4.3" height="4.3" fill="#fbb5b4"/>
<rect x="183.1" y="400.2" width="4.3" height="4.3" fill="#fcc4c3"/>
<rect x="187.1" y="400.2" width="4.3" height="4.3" fill="#fcd5d4"/>
<rect x="191.1" y="400.2" width="4.3" height="4.3" fill="#fee6e6"/>
<rect x="195.1" y="400.2" width="4.3" height="4.3" fill="#fbfffb"/>
<rect x="199.1" y="400.2" width="4.3" height="4.3" fill="#f9fff9"/>
<rect x="203.1" y="400.2" width="4.3" height="4.3" fill="#f9fff9"/>
<rect x="23.1" y="404.2" width="4.3" height="4.3" fill="#ffffff"/>
<rect x="27.1" y="404.2" width="4.3" height="4.3" fill="#ffffff"/>
<rect x="31.1" y="404.2" width="4.3" height="4.3" fill="#fbbebd"/>
<rect x="35.1" y="404.2" width="4.3" height="4.3" fill="#f99c9a"/>
<rect x="39.1" y="404.2" width="4.3" height="4.3" fill="#f77a76"/>
<rect x="43.1" y="404.2" width="4.3" height="4.3" fill="#f55854"/>
<rect x="47.1" y="404.2" width="4.3" height="4.3" fill="#f54e4a"/>
<rect x="51.1" y="404.2" width="4.3" height="4.3" fill="#f44d49"/>
<rect x="55.1" y="404.2" width="4.3" height="4.3" fill="#f44c48"/>
<rect x="59.1" y="404.2" width="4.3" height="4.3" fill="#f44c47"/>
<rect x="63.1" y="404.2" width="4.3" height="4.3" fill="#f44b47"/>
<rect x="67.1" y="404.2" width="4.3" height="4.3" fill="#f44b47"/>
<rect x="71.1" y="404.2" width="4.3" height="4.3" fill="#f44c48"/>
<rect x="75.1" y="404.2" width="4.3" height="4.3" fill="#f44d49"/>
<rect x="79.1" y="404.2" width="4.3" height="4.3" fill="#f54e4a"/>
<rect x="83.1" y="404.2" width="4.3" height="4.3" fill="#f54f4b"/>
<rect x="87.1" y="404.2" width="4.3" height="4.3" fill="#f5504c"/>
<rect x="91.1" y="404.2" width="4.3" height="4.3" fill="#f5514d"/>
<rect x="95.1" y="404.2" width="4.3" height="4.3" fill="#f5524d"/>
<rect x="99.1" y="404.2" width="4.3" height="4.3" fill="#f5524e"/>
<rect x="103.1" y="404.2" width="4.3" height="4.3" fill="#f5524e"/>
<rect x="107.1" y="404.2" width="4.3" height="4.3" fill="#f5524e"/>
<rect x="111.1" y="404.2" width="4.3" height="4.3" fill="#f5524e"/>
<rect x="115.1" y="404.2" width="4.3" height="4.3" fill="#f5524e"/>
<rect x="119.1" y="404.2" width="4.3" height="4.3" fill="#f5524e"/>
<rect x="123.1" y="404.2" width="4.3" height="4.3" fill="#f5524e"/>
<rect x="127.1" y="404.2" width="4.3" height="4.3" fill="#f5534f"/>
<rect x="131.1" y="404.2" width="4.3" height="4.3" fill="#f55450"/>
<rect x="135.1" y="404.2" width="4.3" height="4.3" fill="#f55551"/>
<rect x="139.1" y="404.2" width="4.3" height="4.3" fill="#f55652"/>
<rect x="143.1" y="404.2" width="4.3" height="4.3" fill="#f55753"/>
<rect x="147.1" y="404.2" width="4.3" height="4.3" fill="#f55955"/>
<rect x="151.1" y="404.2" width="4.3" height="4.3" fill="#f55b57"/>
<rect x="155.1" y="404.2" width="4.3" height="4.3" fill="#f65e5a"/>
<rect x="159.1" y="404.2" width="4.3" height="4.3" fill="#f6625f"/>
<rect x="163.1" y="404.2" width="4.3" height="4.3" fill="#f66d6a"/>
<rect x="167.1" y="404.2" width="4.3" height="4.3" fill="#f77e7b"/>
<rect x="171.1" y="404.2" width="4.3" height="4.3" fill="#f99391"/>
<rect x="175.1" y="404.2" width="4.3" height="4.3" fill="#faa7a5"/>
<rect x="179.1" y="404.2" width="4.3" height="4.3" fill="#fbb5b4"/>
<rect x="183.1" y="404.2" width="4.3" height="4.3" fill="#fcc4c3"/>
<rect x="187.1" y="404.2" width="4.3" height="4.3" fill="#fcd4d3"/>
<rect x="191.1" y="404.2" width="4.3" height="4.3" fill="#fde5e4"/>
<rect x="195.1" y="404.2" width="4.3" height="4.3" fill="#fffbfb"/>
<rect x="199.1" y="404.2" width="4.3" height="4.3" fill="#ffffff"/>
<rect x="203.1" y="404.2" width="4.3" height="4.3" fill="#ffffff"/>
<rect x="23.1" y="408.2" width="4.3" height="4.3" fill="#ffffff"/>
<rect x="27.1" y="408.2" width="4.3" height="4.3" fill="#ffffff"/>
<rect x="31.1" y="408.2" width="4.3" height="4.3" fill="#fbbfbe"/>
<rect x="35.1" y="408.2" width="4.3" height="4.3" fill="#f99d9b"/>
<rect x="39.1" y="408.2" width="4.3" height="4.3" fill="#f77b78"/>
<rect x="43.1" y="408.2" width="4.3" height="4.3" fill="#f55a56"/>
<rect x="47.1" y="408.2" width="4.3" height="4.3" fill="#f5514d"/>
<rect x="51.1" y="408.2" width="4.3" height="4.3" fill="#f5504b"/>
<rect x="55.1" y="408.2" width="4.3" height="4.3" fill="#f54f4b"/>
<rect x="59.1" y="408.2" width="4.3" height="4.3" fill="#f54f4a"/>
<rect x="63.1" y="408.2" width="4.3" height="4.3" fill="#f54f4a"/>
<rect x="67.1" y="408.2" width="4.3" height="4.3" fill="#f54f4b"/>
<rect x="71.1" y="408.2" width="4.3" height="4.3" fill="#f5504c"/>
<rect x="75.1" y="408.2" width="4.3" height="4.3" fill="#f5514d"/>
<rect x="79.1" y="408.2" width="4.3" height="4.3" fill="#f5524e"/>
<rect x="83.1" y="408.2" width="4.3" height="4.3" fill="#f5534f"/>
<rect x="87.1" y="408.2" width="4.3" height="4.3" fill="#f55450"/>
<rect x="91.1" y="408.2" width="4.3" height="4.3" fill="#f55551"/>
<rect x="95.1" y="408.2" width="4.3" height="4.3" fill="#f55652"/>
<rect x="99.1" y="408.2" width="4.3" height="4.3" fill="#f55753"/>
<rect x="103.1" y="408.2" width="4.3" height="4.3" fill="#f55753"/>
<rect x="107.1" y="408.2" width="4.3" height="4.3" fill="#f55753"/>
<rect x="111.1" y="408.2" width="4.3" height="4.3" fill="#f55753"/>
<rect x="115.1" y="408.2" width="4.3" height="4.3" fill="#f55753"/>
<rect x="119.1" y="408.2" width="4.3" height="4.3" fill="#f55652"/>
<rect x="123.1" y="408.2" width="4.3" height="4.3" fill="#f55652"/>
<rect x="127.1" y="408.2" width="4.3" height="4.3" fill="#f55652"/>
<rect x="131.1" y="408.2" width="4.3" height="4.3" fill="#f55753"/>
<rect x="135.1" y="408.2" width="4.3" height="4.3" fill="#f55753"/>
<rect x="139.1" y="408.2" width="4.3" height="4.3" fill="#f55854"/>
<rect x="143.1" y="408.2" width="4.3" height="4.3" fill="#f55955"/>
<rect x="147.1" y="408.2" width="4.3" height="4.3" fill="#f55a56"/>
<rect x="151.1" y="408.2" width="4.3" height="4.3" fill="#f55c58"/>
<rect x="155.1" y="408.2" width="4.3" height="4.3" fill="#f65e5b"/>
<rect x="159.1" y="408.2" width="4.3" height="4.3" fill="#f6635f"/>
<rect x="163.1" y="408.2" width="4.3" height="4.3" fill="#f66d6a"/>
<rect x="167.1" y="408.2" width="4.3" height="4.3" fill="#f77f7b"/>
<rect x="171.1" y="408.2" width="4.3" height="4.3" fill="#f99391"/>
<rect x="175.1" y="408.2" width="4.3" height="4.3" fill="#faa7a5"/>
<rect x="179.1" y="408.2" width="4.3" height="4.3" fill="#fbb5b4"/>
<rect x="183.1" y="408.2" width="4.3" height="4.3" fill="#fcc4c2"/>
<rect x="187.1" y="408.2" width="4.3" height="4.3" fill="#fcd4d2"/>
<rect x="191.1" y="408.2" width="4.3" height="4.3" fill="#fde4e4"/>
<rect x="195.1" y="408.2" width="4.3" height="4.3" fill="#fffbfb"/>
<rect x="199.1" y="408.2" width="4.3" height="4.3" fill="#ffffff"/>
<rect x="203.1" y="408.2" width="4.3" height="4.3" fill="#ffffff"/>
<rect x="23.1" y="412.2" width="4.3" height="4.3" fill="#ffffff"/>
<rect x="27.1" y="412.2" width="4.3" height="4.3" fill="#ffffff"/>
<rect x="31.1" y="412.2" width="4.3" height="4.3" fill="#fbc0bf"/>
<rect x="35.1" y="412.2" width="4.3" height="4.3" fill="#f99e9c"/>
<rect x="39.1" y="412.2" width="4.3" height="4.3" fill="#f77d7a"/>
<rect x="43.1" y="412.2" width="4.3" height="4.3" fill="#f55c58"/>
<rect x="47.1" y="412.2" width="4.3" height="4.3" fill="#f5534f"/>
<rect x="51.1" y="412.2" width="4.3" height="4.3" fill="#f5524e"/>
<rect x="55.1" y="412.2" width="4.3" height="4.3" fill="#f5524e"/>
<rect x="59.1" y="412.2" width="4.3" height="4.3" fill="#f5524d"/>
<rect x="63.1" y="412.2" width="4.3" height="4.3" fill="#f5524e"/>
<rect x="67.1" y="412.2" width="4.3" height="4.3" fill="#f5524e"/>
<rect x="71.1" y="412.2" width="4.3" height="4.3" fill="#f5534f"/>
<rect x="75.1" y="412.2" width="4.3" height="4.3" fill="#f55551"/>
<rect x="79.1" y="412.2" width="4.3" height="4.3" fill="#f55652"/>
<rect x="83.1" y="412.2" width="4.3" height="4.3" fill="#f55753"/>
<rect x="87.1" y="412.2" width="4.3" height="4.3" fill="#f55854"/>
<rect x="91.1" y="412.2" width="4.3" height="4.3" fill="#f55a56"/>
<rect x="95.1" y="412.2" width="4.3" height="4.3" fill="#f55b57"/>
<rect x="99.1" y="412.2" width="4.3" height="4.3" fill="#f55c58"/>
<rect x="103.1" y="412.2" width="4.3" height="4.3" fill="#f55c58"/>
<rect x="107.1" y="412.2" width="4.3" height="4.3" fill="#f55c58"/>
<rect x="111.1" y="412.2" width="4.3" height="4.3" fill="#f55c58"/>
<rect x="115.1" y="412.2" width="4.3" height="4.3" fill="#f55b58"/>
<rect x="119.1" y="412.2" width="4.3" height="4.3" fill="#f55b57"/>
<rect x="123.1" y="412.2" width="4.3" height="4.3" fill="#f55b57"/>
<rect x="127.1" y="412.2" width="4.3" height="4.3" fill="#f55b57"/>
<rect x="131.1" y="412.2" width="4.3" height="4.3" fill="#f55b57"/>
<rect x="135.1" y="412.2" width="4.3" height="4.3" fill="#f55b57"/>
<rect x="139.1" y="412.2" width="4.3" height="4.3" fill="#f55b57"/>
<rect x="143.1" y="412.2" width="4.3" height="4.3" fill="#f55b57"/>
<rect x="147.1" y="412.2" width="4.3" height="4.3" fill="#f55c58"/>
<rect x="151.1" y="412.2" width="4.3" height="4.3" fill="#f55d59"/>
<rect x="155.1" y="412.2" width="4.3" height="4.3" fill="#f65f5b"/>
<rect x="159.1" y="412.2" width="4.3" height="4.3" fill="#f6635f"/>
<rect x="163.1" y="412.2" width="4.3" height="4.3" fill="#f66e6a"/>
<rect x="167.1" y="412.2" width="4.3" height="4.3" fill="#f77f7c"/>
<rect x="171.1" y="412.2" width="4.3" height="4.3" fill="#f99391"/>
<rect x="175.1" y="412.2" width="4.3" height="4.3" fill="#faa7a5"/>
<rect x="179.1" y="412.2" width="4.3" height="4.3" fill="#fbb5b3"/>
<rect x="183.1" y="412.2" width="4.3" height="4.3" fill="#fbc4c2"/>
<rect x="187.1" y="412.2" width="4.3" height="4.3" fill="#fcd3d2"/>
<rect x="191.1" y="412.2" width="4.3" height="4.3" fill="#fde4e3"/>
<rect x="195.1" y="412.2" width="4.3" height="4.3" fill="#fffbfb"/>
<rect x="199.1" y="412.2" width="4.3" height="4.3" fill="#ffffff"/>
<rect x="203.1" y="412.2" width="4.3" height="4.3" fill="#ffffff"/>
<rect x="23.1" y="416.2" width="4.3" height="4.3" fill="#ffffff"/>
<rect x="27.1" y="416.2" width="4.3" height="4.3" fill="#ffffff"/>
<rect x="31.1" y="416.2" width="4.3" height="4.3" fill="#fbc1bf"/>
<rect x="35.1" y="416.2" width="4.3" height="4.3" fill="#f9a09d"/>
<rect x="39.1" y="416.2" width="4.3" height="4.3" fill="#f77f7c"/>
<rect x="43.1" y="416.2" width="4.3" height="4.3" fill="#f65e5a"/>
<rect x="47.1" y="416.2" width="4.3" height="4.3" fill="#f55551"/>
<rect x="51.1" y="416.2" width="4.3" height="4.3" fill="#f55551"/>
<rect x="55.1" y="416.2" width="4.3" height="4.3" fill="#f55450"/>
<rect x="59.1" y="416.2" width="4.3" height="4.3" fill="#f55551"/>
<rect x="63.1" y="416.2" width="4.3" height="4.3" fill="#f55551"/>
<rect x="67.1" y="416.2" width="4.3" height="4.3" fill="#f55652"/>
<rect x="71.1" y="416.2" width="4.3" height="4.3" fill="#f55753"/>
<rect x="75.1" y="416.2" width="4.3" height="4.3" fill="#f55854"/>
<rect x="79.1" y="416.2" width="4.3" height="4.3" fill="#f55a56"/>
<rect x="83.1" y="416.2" width="4.3" height="4.3" fill="#f55b58"/>
<rect x="87.1" y="416.2" width="4.3" height="4.3" fill="#f55d59"/>
<rect x="91.1" y="416.2" width="4.3" height="4.3" fill="#f65e5b"/>
<rect x="95.1" y="416.2" width="4.3" height="4.3" fill="#f6605c"/>
<rect x="99.1" y="416.2" width="4.3" height="4.3" fill="#f6615d"/>
<rect x="103.1" y="416.2" width="4.3" height="4.3" fill="#f6615d"/>
<rect x="107.1" y="416.2" width="4.3" height="4.3" fill="#f6615d"/>
<rect x="111.1" y="416.2" width="4.3" height="4.3" fill="#f6615d"/>
<rect x="115.1" y="416.2" width="4.3" height="4.3" fill="#f6615d"/>
<rect x="119.1" y="416.2" width="4.3" height="4.3" fill="#f6615d"/>
<rect x="123.1" y="416.2" width="4.3" height="4.3" fill="#f6605c"/>
<rect x="127.1" y="416.2" width="4.3" height="4.3" fill="#f6605c"/>
<rect x="131.1" y="416.2" width="4.3" height="4.3" fill="#f6605c"/>
<rect x="135.1" y="416.2" width="4.3" height="4.3" fill="#f65f5c"/>
<rect x="139.1" y="416.2" width="4.3" height="4.3" fill="#f65f5c"/>
<rect x="143.1" y="416.2" width="4.3" height="4.3" fill="#f65f5b"/>
<rect x="147.1" y="416.2" width="4.3" height="4.3" fill="#f65f5b"/>
<rect x="151.1" y="416.2" width="4.3" height="4.3" fill="#f65f5b"/>
<rect x="155.1" y="416.2" width="4.3" height="4.3" fill="#f6605d"/>
<rect x="159.1" y="416.2" width="4.3" height="4.3" fill="#f66460"/>
<rect x="163.1" y="416.2" width="4.3" height="4.3" fill="#f66e6b"/>
<rect x="167.1" y="416.2" width="4.3" height="4.3" fill="#f77f7c"/>
<rect x="171.1" y="416.2" width="4.3" height="4.3" fill="#f99391"/>
<rect x="175.1" y="416.2" width="4.3" height="4.3" fill="#faa7a5"/>
<rect x="179.1" y="416.2" width="4.3" height="4.3" fill="#fbb5b3"/>
<rect x="183.1" y="416.2" width="4.3" height="4.3" fill="#fbc3c2"/>
<rect x="187.1" y="416.2" width="4.3" height="4.3" fill="#fcd3d2"/>
<rect x="191.1" y="416.2" width="4.3" height="4.3" fill="#fde3e3"/>
<rect x="195.1" y="416.2" width="4.3" height="4.3" fill="#fffafa"/>
<rect x="199.1" y="416.2" width="4.3" height="4.3" fill="#ffffff"/>
<rect x="203.1" y="416.2" width="4.3" height="4.3" fill="#ffffff"/>
<rect x="23.1" y="420.2" width="4.3" height="4.3" fill="#ffffff"/>
<rect x="27.1" y="420.2" width="4.3" height="4.3" fill="#ffffff"/>
<rect x="31.1" y="420.2" width="4.3" height="4.3" fill="#fbc2c0"/>
<rect x="35.1" y="420.2" width="4.3" height="4.3" fill="#f9a19f"/>
<rect x="39.1" y="420.2" width="4.3" height="4.3" fill="#f8807d"/>
<rect x="43.1" y="420.2" width="4.3" height="4.3" fill="#f6605d"/>
<rect x="47.1" y="420.2" width="4.3" height="4.3" fill="#f55754"/>
<rect x="51.1" y="420.2" width="4.3" height="4.3" fill="#f55753"/>
<rect x="55.1" y="420.2" width="4.3" height="4.3" fill="#f55753"/>
<rect x="59.1" y="420.2" width="4.3" height="4.3" fill="#f55854"/>
<rect x="63.1" y="420.2" width="4.3" height="4.3" fill="#f55854"/>
<rect x="67.1" y="420.2" width="4.3" height="4.3" fill="#f55955"/>
<rect x="71.1" y="420.2" width="4.3" height="4.3" fill="#f55b57"/>
<rect x="75.1" y="420.2" width="4.3" height="4.3" fill="#f55c58"/>
<rect x="79.1" y="420.2" width="4.3" height="4.3" fill="#f55e5a"/>
<rect x="83.1" y="420.2" width="4.3" height="4.3" fill="#f6605c"/>
<rect x="87.1" y="420.2" width="4.3" height="4.3" fill="#f6615e"/>
<rect x="91.1" y="420.2" width="4.3" height="4.3" fill="#f6635f"/>
<rect x="95.1" y="420.2" width="4.3" height="4.3" fill="#f66561"/>
<rect x="99.1" y="420.2" width="4.3" height="4.3" fill="#f66662"/>
<rect x="103.1" y="420.2" width="4.3" height="4.3" fill="#f66663"/>
<rect x="107.1" y="420.2" width="4.3" height="4.3" fill="#f66763"/>
<rect x="111.1" y="420.2" width="4.3" height="4.3" fill="#f66763"/>
<rect x="115.1" y="420.2" width="4.3" height="4.3" fill="#f66763"/>
<rect x="119.1" y="420.2" width="4.3" height="4.3" fill="#f66763"/>
<rect x="123.1" y="420.2" width="4.3" height="4.3" fill="#f66663"/>
<rect x="127.1" y="420.2" width="4.3" height="4.3" fill="#f66662"/>
<rect x="131.1" y="420.2" width="4.3" height="4.3" fill="#f66562"/>
<rect x="135.1" y="420.2" width="4.3" height="4.3" fill="#f66561"/>
<rect x="139.1" y="420.2" width="4.3" height="4.3" fill="#f66561"/>
<rect x="143.1" y="420.2" width="4.3" height="4.3" fill="#f66460"/>
<rect x="147.1" y="420.2" width="4.3" height="4.3" fill="#f6625f"/>
<rect x="151.1" y="420.2" width="4.3" height="4.3" fill="#f6615e"/>
<rect x="155.1" y="420.2" width="4.3" height="4.3" fill="#f6625e"/>
<rect x="159.1" y="420.2" width="4.3" height="4.3" fill="#f66561"/>
<rect x="163.1" y="420.2" width="4.3" height="4.3" fill="#f66f6b"/>
<rect x="167.1" y="420.2" width="4.3" height="4.3" fill="#f77f7c"/>
<rect x="171.1" y="420.2" width="4.3" height="4.3" fill="#f99391"/>
<rect x="175.1" y="420.2" width="4.3" height="4.3" fill="#faa7a5"/>
<rect x="179.1" y="420.2" width="4.3" height="4.3" fill="#fbb5b3"/>
<rect x="183.1" y="420.2" width="4.3" height="4.3" fill="#fbc3c2"/>
<rect x="187.1" y="420.2" width="4.3" height="4.3" fill="#fcd2d1"/>
<rect x="191.1" y="420.2" width="4.3" height="4.3" fill="#fde3e2"/>
<rect x="195.1" y="420.2" width="4.3" height="4.3" fill="#fffafa"/>
<rect x="199.1" y="420.2" width="4.3" height="4.3" fill="#ffffff"/>
<rect x="203.1" y="420.2" width="4.3" height="4.3" fill="#ffffff"/>
<rect x="23.1" y="424.2" width="4.3" height="4.3" fill="#ffffff"/>
<rect x="27.1" y="424.2" width="4.3" height="4.3" fill="#ffffff"/>
<rect x="31.1" y="424.2" width="4.3" height="4.3" fill="#fbc2c1"/>
<rect x="35.1" y="424.2" width="4.3" height="4.3" fill="#faa2a0"/>
<rect x="39.1" y="424.2" width="4.3" height="4.3" fill="#f8827f"/>
<rect x="43.1" y="424.2" width="4.3" height="4.3" fill="#f6625f"/>
<rect x="47.1" y="424.2" width="4.3" height="4.3" fill="#f55a56"/>
<rect x="51.1" y="424.2" width="4.3" height="4.3" fill="#f55a56"/>
<rect x="55.1" y="424.2" width="4.3" height="4.3" fill="#f55a56"/>
<rect x="59.1" y="424.2" width="4.3" height="4.3" fill="#f55b57"/>
<rect x="63.1" y="424.2" width="4.3" height="4.3" fill="#f55c58"/>
<rect x="67.1" y="424.2" width="4.3" height="4.3" fill="#f55d59"/>
<rect x="71.1" y="424.2" width="4.3" height="4.3" fill="#f65e5b"/>
<rect x="75.1" y="424.2" width="4.3" height="4.3" fill="#f6605d"/>
<rect x="79.1" y="424.2" width="4.3" height="4.3" fill="#f6625e"/>
<rect x="83.1" y="424.2" width="4.3" height="4.3" fill="#f66460"/>
<rect x="87.1" y="424.2" width="4.3" height="4.3" fill="#f66662"/>
<rect x="91.1" y="424.2" width="4.3" height="4.3" fill="#f66864"/>
<rect x="95.1" y="424.2" width="4.3" height="4.3" fill="#f66a66"/>
<rect x="99.1" y="424.2" width="4.3" height="4.3" fill="#f66b68"/>
<rect x="103.1" y="424.2" width="4.3" height="4.3" fill="#f66c69"/>
<rect x="107.1" y="424.2" width="4.3" height="4.3" fill="#f66d69"/>
<rect x="111.1" y="424.2" width="4.3" height="4.3" fill="#f66d6a"/>
<rect x="115.1" y="424.2" width="4.3" height="4.3" fill="#f66d6a"/>
<rect x="119.1" y="424.2" width="4.3" height="4.3" fill="#f66d6a"/>
<rect x="123.1" y="424.2" width="4.3" height="4.3" fill="#f66d69"/>
<rect x="127.1" y="424.2" width="4.3" height="4.3" fill="#f66c69"/>
<rect x="131.1" y="424.2" width="4.3" height="4.3" fill="#f66c68"/>
<rect x="135.1" y="424.2" width="4.3" height="4.3" fill="#f66b68"/>
<rect x="139.1" y="424.2" width="4.3" height="4.3" fill="#f66a67"/>
<rect x="143.1" y="424.2" width="4.3" height="4.3" fill="#f66965"/>
<rect x="147.1" y="424.2" width="4.3" height="4.3" fill="#f66663"/>
<rect x="151.1" y="424.2" width="4.3" height="4.3" fill="#f66461"/>
<rect x="155.1" y="424.2" width="4.3" height="4.3" fill="#f66460"/>
<rect x="159.1" y="424.2" width="4.3" height="4.3" fill="#f66662"/>
<rect x="163.1" y="424.2" width="4.3" height="4.3" fill="#f7706c"/>
<rect x="167.1" y="424.2" width="4.3" height="4.3" fill="#f7807d"/>
<rect x="171.1" y="424.2" width="4.3" height="4.3" fill="#f99491"/>
<rect x="175.1" y="424.2" width="4.3" height="4.3" fill="#faa7a5"/>
<rect x="179.1" y="424.2" width="4.3" height="4.3" fill="#fbb5b3"/>
<rect x="183.1" y="424.2" width="4.3" height="4.3" fill="#fbc3c1"/>
<rect x="187.1" y="424.2" width="4.3" height="4.3" fill="#fcd2d1"/>
<rect x="191.1" y="424.2" width="4.3" height="4.3" fill="#fde2e2"/>
<rect x="195.1" y="424.2" width="4.3" height="4.3" fill="#fffafa"/>
<rect x="199.1" y="424.2" width="4.3" height="4.3" fill="#ffffff"/>
<rect x="203.1" y="424.2" width="4.3" height="4.3" fill="#ffffff"/>
<rect x="23.1" y="428.2" width="4.3" height="4.3" fill="#ffffff"/>
<rect x="27.1" y="428.2" width="4.3" height="4.3" fill="#ffffff"/>
<rect x="31.1" y="428.2" width="4.3" height="4.3" fill="#fbc3c2"/>
<rect x="35.1" y="428.2" width="4.3" height="4.3" fill="#faa3a1"/>
<rect x="39.1" y="428.2" width="4.3" height="4.3" fill="#f88481"/>
<rect x="43.1" y="428.2" width="4.3" height="4.3" fill="#f66461"/>
<rect x="47.1" y="428.2" width="4.3" height="4.3" fill="#f55c58"/>
<rect x="51.1" y="428.2" width="4.3" height="4.3" fill="#f55c58"/>
<rect x="55.1" y="428.2" width="4.3" height="4.3" fill="#f55d59"/>
<rect x="59.1" y="428.2" width="4.3" height="4.3" fill="#f55e5a"/>
<rect x="63.1" y="428.2" width="4.3" height="4.3" fill="#f65f5b"/>
<rect x="67.1" y="428.2" width="4.3" height="4.3" fill="#f6615d"/>
<rect x="71.1" y="428.2" width="4.3" height="4.3" fill="#f6625f"/>
<rect x="75.1" y="428.2" width="4.3" height="4.3" fill="#f66461"/>
<rect x="79.1" y="428.2" width="4.3" height="4.3" fill="#f66663"/>
<rect x="83.1" y="428.2" width="4.3" height="4.3" fill="#f66865"/>
<rect x="87.1" y="428.2" width="4.3" height="4.3" fill="#f66b67"/>
<rect x="91.1" y="428.2" width="4.3" height="4.3" fill="#f66d69"/>
<rect x="95.1" y="428.2" width="4.3" height="4.3" fill="#f76f6c"/>
<rect x="99.1" y="428.2" width="4.3" height="4.3" fill="#f7716e"/>
<rect x="103.1" y="428.2" width="4.3" height="4.3" fill="#f7726f"/>
<rect x="107.1" y="428.2" width="4.3" height="4.3" fill="#f77370"/>
<rect x="111.1" y="428.2" width="4.3" height="4.3" fill="#f77470"/>
<rect x="115.1" y="428.2" width="4.3" height="4.3" fill="#f77471"/>
<rect x="119.1" y="428.2" width="4.3" height="4.3" fill="#f77471"/>
<rect x="123.1" y="428.2" width="4.3" height="4.3" fill="#f77470"/>
<rect x="127.1" y="428.2" width="4.3" height="4.3" fill="#f77370"/>
<rect x="131.1" y="428.2" width="4.3" height="4.3" fill="#f7726f"/>
<rect x="135.1" y="428.2" width="4.3" height="4.3" fill="#f7726e"/>
<rect x="139.1" y="428.2" width="4.3" height="4.3" fill="#f7716d"/>
<rect x="143.1" y="428.2" width="4.3" height="4.3" fill="#f66f6b"/>
<rect x="147.1" y="428.2" width="4.3" height="4.3" fill="#f66b67"/>
<rect x="151.1" y="428.2" width="4.3" height="4.3" fill="#f66764"/>
<rect x="155.1" y="428.2" width="4.3" height="4.3" fill="#f66662"/>
<rect x="159.1" y="428.2" width="4.3" height="4.3" fill="#f66764"/>
<rect x="163.1" y="428.2" width="4.3" height="4.3" fill="#f7716d"/>
<rect x="167.1" y="428.2" width="4.3" height="4.3" fill="#f8807d"/>
<rect x="171.1" y="428.2" width="4.3" height="4.3" fill="#f99491"/>
<rect x="175.1" y="428.2" width="4.3" height="4.3" fill="#faa7a5"/>
<rect x="179.1" y="428.2" width="4.3" height="4.3" fill="#fbb5b3"/>
<rect x="183.1" y="428.2" width="4.3" height="4.3" fill="#fbc3c1"/>
<rect x="187.1" y="428.2" width="4.3" height="4.3" fill="#fcd2d0"/>
<rect x="191.1" y="428.2" width="4.3" height="4.3" fill="#fde2e1"/>
<rect x="195.1" y="428.2" width="4.3" height="4.3" fill="#fffafa"/>
<rect x="199.1" y="428.2" width="4.3" height="4.3" fill="#ffffff"/>
<rect x="203.1" y="428.2" width="4.3" height="4.3" fill="#ffffff"/>
<rect x="23.1" y="432.2" width="4.3" height="4.3" fill="#ffffff"/>
<rect x="27.1" y="432.2" width="4.3" height="4.3" fill="#ffffff"/>
<rect x="31.1" y="432.2" width="4.3" height="4.3" fill="#fcc4c3"/>
<rect x="35.1" y="432.2" width="4.3" height="4.3" fill="#faa5a3"/>
<rect x="39.1" y="432.2" width="4.3" height="4.3" fill="#f88582"/>
<rect x="43.1" y="432.2" width="4.3" height="4.3" fill="#f66663"/>
<rect x="47.1" y="432.2" width="4.3" height="4.3" fill="#f65e5b"/>
<rect x="51.1" y="432.2" width="4.3" height="4.3" fill="#f65f5b"/>
<rect x="55.1" y="432.2" width="4.3" height="4.3" fill="#f6605c"/>
<rect x="59.1" y="432.2" width="4.3" height="4.3" fill="#f6615d"/>
<rect x="63.1" y="432.2" width="4.3" height="4.3" fill="#f6635f"/>
<rect x="67.1" y="432.2" width="4.3" height="4.3" fill="#f66461"/>
<rect x="71.1" y="432.2" width="4.3" height="4.3" fill="#f66663"/>
<rect x="75.1" y="432.2" width="4.3" height="4.3" fill="#f66865"/>
<rect x="79.1" y="432.2" width="4.3" height="4.3" fill="#f66b67"/>
<rect x="83.1" y="432.2" width="4.3" height="4.3" fill="#f66d6a"/>
<rect x="87.1" y="432.2" width="4.3" height="4.3" fill="#f76f6c"/>
<rect x="91.1" y="432.2" width="4.3" height="4.3" fill="#f7726f"/>
<rect x="95.1" y="432.2" width="4.3" height="4.3" fill="#f77571"/>
<rect x="99.1" y="432.2" width="4.3" height="4.3" fill="#f77773"/>
<rect x="103.1" y="432.2" width="4.3" height="4.3" fill="#f77875"/>
<rect x="107.1" y="432.2" width="4.3" height="4.3" fill="#f77976"/>
<rect x="111.1" y="432.2" width="4.3" height="4.3" fill="#f77a77"/>
<rect x="115.1" y="432.2" width="4.3" height="4.3" fill="#f77b78"/>
<rect x="119.1" y="432.2" width="4.3" height="4.3" fill="#f77b78"/>
<rect x="123.1" y="432.2" width="4.3" height="4.3" fill="#f77b78"/>
<rect x="127.1" y="432.2" width="4.3" height="4.3" fill="#f77a77"/>
<rect x="131.1" y="432.2" width="4.3" height="4.3" fill="#f77976"/>
<rect x="135.1" y="432.2" width="4.3" height="4.3" fill="#f77875"/>
<rect x="139.1" y="432.2" width="4.3" height="4.3" fill="#f77774"/>
<rect x="143.1" y="432.2" width="4.3" height="4.3" fill="#f77471"/>
<rect x="147.1" y="432.2" width="4.3" height="4.3" fill="#f7706c"/>
<rect x="151.1" y="432.2" width="4.3" height="4.3" fill="#f66b67"/>
<rect x="155.1" y="432.2" width="4.3" height="4.3" fill="#f66864"/>
<rect x="159.1" y="432.2" width="4.3" height="4.3" fill="#f66965"/>
<rect x="163.1" y="432.2" width="4.3" height="4.3" fill="#f7726e"/>
<rect x="167.1" y="432.2" width="4.3" height="4.3" fill="#f8817e"/>
<rect x="171.1" y="432.2" width="4.3" height="4.3" fill="#f99492"/>
<rect x="175.1" y="432.2" width="4.3" height="4.3" fill="#faa7a5"/>
<rect x="179.1" y="432.2" width="4.3" height="4.3" fill="#fbb5b3"/>
<rect x="183.1" y="432.2" width="4.3" height="4.3" fill="#fbc3c1"/>
<rect x="187.1" y="432.2" width="4.3" height="4.3" fill="#fcd1d0"/>
<rect x="191.1" y="432.2" width="4.3" height="4.3" fill="#fde2e1"/>
<rect x="195.1" y="432.2" width="4.3" height="4.3" fill="#fffafa"/>
<rect x="199.1" y="432.2" width="4.3" height="4.3" fill="#ffffff"/>
<rect x="203.1" y="432.2" width="4.3" height="4.3" fill="#ffffff"/>
<rect x="23.1" y="436.2" width="4.3" height="4.3" fill="#ffffff"/>
<rect x="27.1" y="436.2" width="4.3" height="4.3" fill="#ffffff"/>
<rect x="31.1" y="436.2" width="4.3" height="4.3" fill="#fcc5c4"/>
<rect x="35.1" y="436.2" width="4.3" height="4.3" fill="#faa6a4"/>
<rect x="39.1" y="436.2" width="4.3" height="4.3" fill="#f88784"/>
<rect x="43.1" y="436.2" width="4.3" height="4.3" fill="#f66965"/>
<rect x="47.1" y="436.2" width="4.3" height="4.3" fill="#f6615d"/>
<rect x="51.1" y="436.2" width="4.3" height="4.3" fill="#f6615e"/>
<rect x="55.1" y="436.2" width="4.3" height="4.3" fill="#f6635f"/>
<rect x="59.1" y="436.2" width="4.3" height="4.3" fill="#f66461"/>
<rect x="63.1" y="436.2" width="4.3" height="4.3" fill="#f66663"/>
<rect x="67.1" y="436.2" width="4.3" height="4.3" fill="#f66865"/>
<rect x="71.1" y="436.2" width="4.3" height="4.3" fill="#f66a67"/>
<rect x="75.1" y="436.2" width="4.3" height="4.3" fill="#f66d69"/>
<rect x="79.1" y="436.2" width="4.3" height="4.3" fill="#f76f6c"/>
<rect x="83.1" y="436.2" width="4.3" height="4.3" fill="#f7726e"/>
<rect x="87.1" y="436.2" width="4.3" height="4.3" fill="#f77471"/>
<rect x="91.1" y="436.2" width="4.3" height="4.3" fill="#f77774"/>
<rect x="95.1" y="436.2" width="4.3" height="4.3" fill="#f77a77"/>
<rect x="99.1" y="436.2" width="4.3" height="4.3" fill="#f77c79"/>
<rect x="103.1" y="436.2" width="4.3" height="4.3" fill="#f77e7b"/>
<rect x="107.1" y="436.2" width="4.3" height="4.3" fill="#f77f7c"/>
<rect x="111.1" y="436.2" width="4.3" height="4.3" fill="#f8807e"/>
<rect x="115.1" y="436.2" width="4.3" height="4.3" fill="#f8817e"/>
<rect x="119.1" y="436.2" width="4.3" height="4.3" fill="#f8827f"/>
<rect x="123.1" y="436.2" width="4.3" height="4.3" fill="#f8827f"/>
<rect x="127.1" y="436.2" width="4.3" height="4.3" fill="#f8817e"/>
<rect x="131.1" y="436.2" width="4.3" height="4.3" fill="#f8807d"/>
<rect x="135.1" y="436.2" width="4.3" height="4.3" fill="#f77f7c"/>
<rect x="139.1" y="436.2" width="4.3" height="4.3" fill="#f77e7b"/>
<rect x="143.1" y="436.2" width="4.3" height="4.3" fill="#f77a77"/>
<rect x="147.1" y="436.2" width="4.3" height="4.3" fill="#f77471"/>
<rect x="151.1" y="436.2" width="4.3" height="4.3" fill="#f66e6b"/>
<rect x="155.1" y="436.2" width="4.3" height="4.3" fill="#f66a67"/>
<rect x="159.1" y="436.2" width="4.3" height="4.3" fill="#f66a67"/>
<rect x="163.1" y="436.2" width="4.3" height="4.3" fill="#f7736f"/>
<rect x="167.1" y="436.2" width="4.3" height="4.3" fill="#f8827f"/>
<rect x="171.1" y="436.2" width="4.3" height="4.3" fill="#f99592"/>
<rect x="175.1" y="436.2" width="4.3" height="4.3" fill="#faa7a5"/>
<rect x="179.1" y="436.2" width="4.3" height="4.3" fill="#fbb5b3"/>
<rect x="183.1" y="436.2" width="4.3" height="4.3" fill="#fbc2c1"/>
<rect x="187.1" y="436.2" width="4.3" height="4.3" fill="#fcd1d0"/>
<rect x="191.1" y="436.2" width="4.3" height="4.3" fill="#fde2e1"/>
<rect x="195.1" y="436.2" width="4.3" height="4.3" fill="#fffafa"/>
<rect x="199.1" y="436.2" width="4.3" height="4.3" fill="#ffffff"/>
<rect x="203.1" y="436.2" width="4.3" height="4.3" fill="#ffffff"/>
<rect x="23.1" y="440.2" width="4.3" height="4.3" fill="#ffffff"/>
<rect x="27.1" y="440.2" width="4.3" height="4.3" fill="#ffffff"/>
<rect x="31.1" y="440.2" width="4.3" height="4.3" fill="#fcc6c5"/>
<rect x="35.1" y="440.2" width="4.3" height="4.3" fill="#faa7a5"/>
<rect x="39.1" y="440.2" width="4.3" height="4.3" fill="#f88986"/>
<rect x="43.1" y="440.2" width="4.3" height="4.3" fill="#f66b68"/>
<rect x="47.1" y="440.2" width="4.3" height="4.3" fill="#f66360"/>
<rect x="51.1" y="440.2" width="4.3" height="4.3" fill="#f66461"/>
<rect x="55.1" y="440.2" width="4.3" height="4.3" fill="#f66662"/>
<rect x="59.1" y="440.2" width="4.3" height="4.3" fill="#f66864"/>
<rect x="63.1" y="440.2" width="4.3" height="4.3" fill="#f66a66"/>
<rect x="67.1" y="440.2" width="4.3" height="4.3" fill="#f66c68"/>
<rect x="71.1" y="440.2" width="4.3" height="4.3" fill="#f66e6b"/>
<rect x="75.1" y="440.2" width="4.3" height="4.3" fill="#f7716e"/>
<rect x="79.1" y="440.2" width="4.3" height="4.3" fill="#f77470"/>
<rect x="83.1" y="440.2" width="4.3" height="4.3" fill="#f77673"/>
<rect x="87.1" y="440.2" width="4.3" height="4.3" fill="#f77976"/>
<rect x="91.1" y="440.2" width="4.3" height="4.3" fill="#f77d7a"/>
<rect x="95.1" y="440.2" width="4.3" height="4.3" fill="#f7807d"/>
<rect x="99.1" y="440.2" width="4.3" height="4.3" fill="#f8827f"/>
<rect x="103.1" y="440.2" width="4.3" height="4.3" fill="#f88481"/>
<rect x="107.1" y="440.2" width="4.3" height="4.3" fill="#f88683"/>
<rect x="111.1" y="440.2" width="4.3" height="4.3" fill="#f88784"/>
<rect x="115.1" y="440.2" width="4.3" height="4.3" fill="#f88885"/>
<rect x="119.1" y="440.2" width="4.3" height="4.3" fill="#f88885"/>
<rect x="123.1" y="440.2" width="4.3" height="4.3" fill="#f88885"/>
<rect x="127.1" y="440.2" width="4.3" height="4.3" fill="#f88885"/>
<rect x="131.1" y="440.2" width="4.3" height="4.3" fill="#f88784"/>
<rect x="135.1" y="440.2" width="4.3" height="4.3" fill="#f88582"/>
<rect x="139.1" y="440.2" width="4.3" height="4.3" fill="#f88481"/>
<rect x="143.1" y="440.2" width="4.3" height="4.3" fill="#f7807d"/>
<rect x="147.1" y="440.2" width="4.3" height="4.3" fill="#f77976"/>
<rect x="151.1" y="440.2" width="4.3" height="4.3" fill="#f7726e"/>
<rect x="155.1" y="440.2" width="4.3" height="4.3" fill="#f66d69"/>
<rect x="159.1" y="440.2" width="4.3" height="4.3" fill="#f66c69"/>
<rect x="163.1" y="440.2" width="4.3" height="4.3" fill="#f77471"/>
<rect x="167.1" y="440.2" width="4.3" height="4.3" fill="#f88280"/>
<rect x="171.1" y="440.2" width="4.3" height="4.3" fill="#f99593"/>
<rect x="175.1" y="440.2" width="4.3" height="4.3" fill="#faa7a5"/>
<rect x="179.1" y="440.2" width="4.3" height="4.3" fill="#fbb5b3"/>
<rect x="183.1" y="440.2" width="4.3" height="4.3" fill="#fbc2c1"/>
<rect x="187.1" y="440.2" width="4.3" height="4.3" fill="#fcd1d0"/>
<rect x="191.1" y="440.2" width="4.3" height="4.3" fill="#fde2e1"/>
<rect x="195.1" y="440.2" width="4.3" height="4.3" fill="#fffafa"/>
<rect x="199.1" y="440.2" width="4.3" height="4.3" fill="#ffffff"/>
<rect x="203.1" y="440.2" width="4.3" height="4.3" fill="#ffffff"/>
<rect x="23.1" y="444.2" width="4.3" height="4.3" fill="#ffffff"/>
<rect x="27.1" y="444.2" width="4.3" height="4.3" fill="#ffffff"/>
<rect x="31.1" y="444.2" width="4.3" height="4.3" fill="#fcc7c5"/>
<rect x="35.1" y="444.2" width="4.3" height="4.3" fill="#faa9a7"/>
<rect x="39.1" y="444.2" width="4.3" height="4.3" fill="#f88b88"/>
<rect x="43.1" y="444.2" width="4.3" height="4.3" fill="#f66d6a"/>
<rect x="47.1" y="444.2" width="4.3" height="4.3" fill="#f66662"/>
<rect x="51.1" y="444.2" width="4.3" height="4.3" fill="#f66763"/>
<rect x="55.1" y="444.2" width="4.3" height="4.3" fill="#f66965"/>
<rect x="59.1" y="444.2" width="4.3" height="4.3" fill="#f66b68"/>
<rect x="63.1" y="444.2" width="4.3" height="4.3" fill="#f66e6a"/>
<rect x="67.1" y="444.2" width="4.3" height="4.3" fill="#f7706d"/>
<rect x="71.1" y="444.2" width="4.3" height="4.3" fill="#f7736f"/>
<rect x="75.1" y="444.2" width="4.3" height="4.3" fill="#f77572"/>
<rect x="79.1" y="444.2" width="4.3" height="4.3" fill="#f77975"/>
<rect x="83.1" y="444.2" width="4.3" height="4.3" fill="#f77b78"/>
<rect x="87.1" y="444.2" width="4.3" height="4.3" fill="#f77f7c"/>
<rect x="91.1" y="444.2" width="4.3" height="4.3" fill="#f8827f"/>
<rect x="95.1" y="444.2" width="4.3" height="4.3" fill="#f88583"/>
<rect x="99.1" y="444.2" width="4.3" height="4.3" fill="#f88885"/>
<rect x="103.1" y="444.2" width="4.3" height="4.3" fill="#f88a87"/>
<rect x="107.1" y="444.2" width="4.3" height="4.3" fill="#f88c89"/>
<rect x="111.1" y="444.2" width="4.3" height="4.3" fill="#f88d8a"/>
<rect x="115.1" y="444.2" width="4.3" height="4.3" fill="#f88e8b"/>
<rect x="119.1" y="444.2" width="4.3" height="4.3" fill="#f88e8c"/>
<rect x="123.1" y="444.2" width="4.3" height="4.3" fill="#f88e8c"/>
<rect x="127.1" y="444.2" width="4.3" height="4.3" fill="#f88e8b"/>
<rect x="131.1" y="444.2" width="4.3" height="4.3" fill="#f88d8a"/>
<rect x="135.1" y="444.2" width="4.3" height="4.3" fill="#f88b88"/>
<rect x="139.1" y="444.2" width="4.3" height="4.3" fill="#f88987"/>
<rect x="143.1" y="444.2" width="4.3" height="4.3" fill="#f88582"/>
<rect x="147.1" y="444.2" width="4.3" height="4.3" fill="#f77d7a"/>
<rect x="151.1" y="444.2" width="4.3" height="4.3" fill="#f77572"/>
<rect x="155.1" y="444.2" width="4.3" height="4.3" fill="#f66f6c"/>
<rect x="159.1" y="444.2" width="4.3" height="4.3" fill="#f66e6a"/>
<rect x="163.1" y="444.2" width="4.3" height="4.3" fill="#f77572"/>
<rect x="167.1" y="444.2" width="4.3" height="4.3" fill="#f88380"/>
<rect x="171.1" y="444.2" width="4.3" height="4.3" fill="#f99693"/>
<rect x="175.1" y="444.2" width="4.3" height="4.3" fill="#faa7a5"/>
<rect x="179.1" y="444.2" width="4.3" height="4.3" fill="#fbb5b3"/>
<rect x="183.1" y="444.2" width="4.3" height="4.3" fill="#fbc2c1"/>
<rect x="187.1" y="444.2" width="4.3" height="4.3" fill="#fcd1d0"/>
<rect x="191.1" y="444.2" width="4.3" height="4.3" fill="#fde2e1"/>
<rect x="195.1" y="444.2" width="4.3" height="4.3" fill="#fffafa"/>
<rect x="199.1" y="444.2" width="4.3" height="4.3" fill="#ffffff"/>
<rect x="203.1" y="444.2" width="4.3" height="4.3" fill="#ffffff"/>
<rect x="23.1" y="448.2" width="4.3" height="4.3" fill="#ffffff"/>
<rect x="27.1" y="448.2" width="4.3" height="4.3" fill="#ffffff"/>
<rect x="31.1" y="448.2" width="4.3" height="4.3" fill="#fcc8c6"/>
<rect x="35.1" y="448.2" width="4.3" height="4.3" fill="#faaaa8"/>
<rect x="39.1" y="448.2" width="4.3" height="4.3" fill="#f88d8a"/>
<rect x="43.1" y="448.2" width="4.3" height="4.3" fill="#f7706c"/>
<rect x="47.1" y="448.2" width="4.3" height="4.3" fill="#f66865"/>
<rect x="51.1" y="448.2" width="4.3" height="4.3" fill="#f66a66"/>
<rect x="55.1" y="448.2" width="4.3" height="4.3" fill="#f66c68"/>
<rect x="59.1" y="448.2" width="4.3" height="4.3" fill="#f66e6b"/>
<rect x="63.1" y="448.2" width="4.3" height="4.3" fill="#f7716e"/>
<rect x="67.1" y="448.2" width="4.3" height="4.3" fill="#f77470"/>
<rect x="71.1" y="448.2" width="4.3" height="4.3" fill="#f77774"/>
<rect x="75.1" y="448.2" width="4.3" height="4.3" fill="#f77a77"/>
<rect x="79.1" y="448.2" width="4.3" height="4.3" fill="#f77d7a"/>
<rect x="83.1" y="448.2" width="4.3" height="4.3" fill="#f8817e"/>
<rect x="87.1" y="448.2" width="4.3" height="4.3" fill="#f88481"/>
<rect x="91.1" y="448.2" width="4.3" height="4.3" fill="#f88885"/>
<rect x="95.1" y="448.2" width="4.3" height="4.3" fill="#f88c89"/>
<rect x="99.1" y="448.2" width="4.3" height="4.3" fill="#f88f8c"/>
<rect x="103.1" y="448.2" width="4.3" height="4.3" fill="#f8918e"/>
<rect x="107.1" y="448.2" width="4.3" height="4.3" fill="#f9928f"/>
<rect x="111.1" y="448.2" width="4.3" height="4.3" fill="#f99391"/>
<rect x="115.1" y="448.2" width="4.3" height="4.3" fill="#f99492"/>
<rect x="119.1" y="448.2" width="4.3" height="4.3" fill="#f99592"/>
<rect x="123.1" y="448.2" width="4.3" height="4.3" fill="#f99592"/>
<rect x="127.1" y="448.2" width="4.3" height="4.3" fill="#f99491"/>
<rect x="131.1" y="448.2" width="4.3" height="4.3" fill="#f99390"/>
<rect x="135.1" y="448.2" width="4.3" height="4.3" fill="#f9918e"/>
<rect x="139.1" y="448.2" width="4.3" height="4.3" fill="#f88f8c"/>
<rect x="143.1" y="448.2" width="4.3" height="4.3" fill="#f88a87"/>
<rect x="147.1" y="448.2" width="4.3" height="4.3" fill="#f8817e"/>
<rect x="151.1" y="448.2" width="4.3" height="4.3" fill="#f77875"/>
<rect x="155.1" y="448.2" width="4.3" height="4.3" fill="#f7726e"/>
<rect x="159.1" y="448.2" width="4.3" height="4.3" fill="#f7706d"/>
<rect x="163.1" y="448.2" width="4.3" height="4.3" fill="#f77774"/>
<rect x="167.1" y="448.2" width="4.3" height="4.3" fill="#f88582"/>
<rect x="171.1" y="448.2" width="4.3" height="4.3" fill="#f99794"/>
<rect x="175.1" y="448.2" width="4.3" height="4.3" fill="#faa8a6"/>
<rect x="179.1" y="448.2" width="4.3" height="4.3" fill="#fbb5b4"/>
<rect x="183.1" y="448.2" width="4.3" height="4.3" fill="#fbc3c1"/>
<rect x="187.1" y="448.2" width="4.3" height="4.3" fill="#fcd1d0"/>
<rect x="191.1" y="448.2" width="4.3" height="4.3" fill="#fde2e1"/>
<rect x="195.1" y="448.2" width="4.3" height="4.3" fill="#fffafa"/>
<rect x="199.1" y="448.2" width="4.3" height="4.3" fill="#ffffff"/>
<rect x="203.1" y="448.2" width="4.3" height="4.3" fill="#ffffff"/>
<rect x="23.1" y="452.2" width="4.3" height="4.3" fill="#ffffff"/>
<rect x="27.1" y="452.2" width="4.3" height="4.3" fill="#ffffff"/>
<rect x="31.1" y="452.2" width="4.3" height="4.3" fill="#fcc9c7"/>
<rect x="35.1" y="452.2" width="4.3" height="4.3" fill="#faacaa"/>
<rect x="39.1" y="452.2" width="4.3" height="4.3" fill="#f88e8c"/>
<rect x="43.1" y="452.2" width="4.3" height="4.3" fill="#f7726f"/>
<rect x="47.1" y="452.2" width="4.3" height="4.3" fill="#f66b67"/>
<rect x="51.1" y="452.2" width="4.3" height="4.3" fill="#f66c69"/>
<rect x="55.1" y="452.2" width="4.3" height="4.3" fill="#f66f6b"/>
<rect x="59.1" y="452.2" width="4.3" height="4.3" fill="#f7726e"/>
<rect x="63.1" y="452.2" width="4.3" height="4.3" fill="#f77571"/>
<rect x="67.1" y="452.2" width="4.3" height="4.3" fill="#f77874"/>
<rect x="71.1" y="452.2" width="4.3" height="4.3" fill="#f77b78"/>
<rect x="75.1" y="452.2" width="4.3" height="4.3" fill="#f77f7c"/>
<rect x="79.1" y="452.2" width="4.3" height="4.3" fill="#f88380"/>
<rect x="83.1" y="452.2" width="4.3" height="4.3" fill="#f88683"/>
<rect x="87.1" y="452.2" width="4.3" height="4.3" fill="#f88a87"/>
<rect x="91.1" y="452.2" width="4.3" height="4.3" fill="#f88e8c"/>
<rect x="95.1" y="452.2" width="4.3" height="4.3" fill="#f99290"/>
<rect x="99.1" y="452.2" width="4.3" height="4.3" fill="#f99693"/>
<rect x="103.1" y="452.2" width="4.3" height="4.3" fill="#f99795"/>
<rect x="107.1" y="452.2" width="4.3" height="4.3" fill="#f99996"/>
<rect x="111.1" y="452.2" width="4.3" height="4.3" fill="#f99a98"/>
<rect x="115.1" y="452.2" width="4.3" height="4.3" fill="#f99b98"/>
<rect x="119.1" y="452.2" width="4.3" height="4.3" fill="#f99b99"/>
<rect x="123.1" y="452.2" width="4.3" height="4.3" fill="#f99b99"/>
<rect x="127.1" y="452.2" width="4.3" height="4.3" fill="#f99a98"/>
<rect x="131.1" y="452.2" width="4.3" height="4.3" fill="#f99997"/>
<rect x="135.1" y="452.2" width="4.3" height="4.3" fill="#f99795"/>
<rect x="139.1" y="452.2" width="4.3" height="4.3" fill="#f99593"/>
<rect x="143.1" y="452.2" width="4.3" height="4.3" fill="#f88f8d"/>
<rect x="147.1" y="452.2" width="4.3" height="4.3" fill="#f88683"/>
<rect x="151.1" y="452.2" width="4.3" height="4.3" fill="#f77c79"/>
<rect x="155.1" y="452.2" width="4.3" height="4.3" fill="#f77471"/>
<rect x="159.1" y="452.2" width="4.3" height="4.3" fill="#f7726f"/>
<rect x="163.1" y="452.2" width="4.3" height="4.3" fill="#f77976"/>
<rect x="167.1" y="452.2" width="4.3" height="4.3" fill="#f88784"/>
<rect x="171.1" y="452.2" width="4.3" height="4.3" fill="#f99896"/>
<rect x="175.1" y="452.2" width="4.3" height="4.3" fill="#faaaa7"/>
<rect x="179.1" y="452.2" width="4.3" height="4.3" fill="#fbb7b5"/>
<rect x="183.1" y="452.2" width="4.3" height="4.3" fill="#fcc4c2"/>
<rect x="187.1" y="452.2" width="4.3" height="4.3" fill="#fcd2d1"/>
<rect x="191.1" y="452.2" width="4.3" height="4.3" fill="#fde2e2"/>
<rect x="195.1" y="452.2" width="4.3" height="4.3" fill="#fffafa"/>
<rect x="199.1" y="452.2" width="4.3" height="4.3" fill="#ffffff"/>
<rect x="203.1" y="452.2" width="4.3" height="4.3" fill="#ffffff"/>
<rect x="23.1" y="456.2" width="4.3" height="4.3" fill="#ffffff"/>
<rect x="27.1" y="456.2" width="4.3" height="4.3" fill="#ffffff"/>
<rect x="31.1" y="456.2" width="4.3" height="4.3" fill="#fcc9c8"/>
<rect x="35.1" y="456.2" width="4.3" height="4.3" fill="#faadab"/>
<rect x="39.1" y="456.2" width="4.3" height="4.3" fill="#f8908e"/>
<rect x="43.1" y="456.2" width="4.3" height="4.3" fill="#f77471"/>
<rect x="47.1" y="456.2" width="4.3" height="4.3" fill="#f66d6a"/>
<rect x="51.1" y="456.2" width="4.3" height="4.3" fill="#f66f6b"/>
<rect x="55.1" y="456.2" width="4.3" height="4.3" fill="#f7716e"/>
<rect x="59.1" y="456.2" width="4.3" height="4.3" fill="#f77571"/>
<rect x="63.1" y="456.2" width="4.3" height="4.3" fill="#f77875"/>
<rect x="67.1" y="456.2" width="4.3" height="4.3" fill="#f77b78"/>
<rect x="71.1" y="456.2" width="4.3" height="4.3" fill="#f77f7c"/>
<rect x="75.1" y="456.2" width="4.3" height="4.3" fill="#f88481"/>
<rect x="79.1" y="456.2" width="4.3" height="4.3" fill="#f88885"/>
<rect x="83.1" y="456.2" width="4.3" height="4.3" fill="#f88c89"/>
<rect x="87.1" y="456.2" width="4.3" height="4.3" fill="#f8908e"/>
<rect x="91.1" y="456.2" width="4.3" height="4.3" fill="#f99592"/>
<rect x="95.1" y="456.2" width="4.3" height="4.3" fill="#f99997"/>
<rect x="99.1" y="456.2" width="4.3" height="4.3" fill="#f99d9b"/>
<rect x="103.1" y="456.2" width="4.3" height="4.3" fill="#f99f9c"/>
<rect x="107.1" y="456.2" width="4.3" height="4.3" fill="#f9a09e"/>
<rect x="111.1" y="456.2" width="4.3" height="4.3" fill="#f9a19f"/>
<rect x="115.1" y="456.2" width="4.3" height="4.3" fill="#f9a29f"/>
<rect x="119.1" y="456.2" width="4.3" height="4.3" fill="#faa2a0"/>
<rect x="123.1" y="456.2" width="4.3" height="4.3" fill="#faa2a0"/>
<rect x="127.1" y="456.2" width="4.3" height="4.3" fill="#f9a19f"/>
<rect x="131.1" y="456.2" width="4.3" height="4.3" fill="#f9a09d"/>
<rect x="135.1" y="456.2" width="4.3" height="4.3" fill="#f99e9b"/>
<rect x="139.1" y="456.2" width="4.3" height="4.3" fill="#f99b99"/>
<rect x="143.1" y="456.2" width="4.3" height="4.3" fill="#f99592"/>
<rect x="147.1" y="456.2" width="4.3" height="4.3" fill="#f88a87"/>
<rect x="151.1" y="456.2" width="4.3" height="4.3" fill="#f77f7c"/>
<rect x="155.1" y="456.2" width="4.3" height="4.3" fill="#f77774"/>
<rect x="159.1" y="456.2" width="4.3" height="4.3" fill="#f77572"/>
<rect x="163.1" y="456.2" width="4.3" height="4.3" fill="#f77c79"/>
<rect x="167.1" y="456.2" width="4.3" height="4.3" fill="#f88986"/>
<rect x="171.1" y="456.2" width="4.3" height="4.3" fill="#f99a98"/>
<rect x="175.1" y="456.2" width="4.3" height="4.3" fill="#faaba9"/>
<rect x="179.1" y="456.2" width="4.3" height="4.3" fill="#fbb8b6"/>
<rect x="183.1" y="456.2" width="4.3" height="4.3" fill="#fcc5c4"/>
<rect x="187.1" y="456.2" width="4.3" height="4.3" fill="#fcd3d2"/>
<rect x="191.1" y="456.2" width="4.3" height="4.3" fill="#fde3e2"/>
<rect x="195.1" y="456.2" width="4.3" height="4.3" fill="#fffafa"/>
<rect x="199.1" y="456.2" width="4.3" height="4.3" fill="#ffffff"/>
<rect x="203.1" y="456.2" width="4.3" height="4.3" fill="#ffffff"/>
<rect x="23.1" y="460.2" width="4.3" height="4.3" fill="#ffffff"/>
<rect x="27.1" y="460.2" width="4.3" height="4.3" fill="#ffffff"/>
<rect x="31.1" y="460.2" width="4.3" height="4.3" fill="#fccac9"/>
<rect x="35.1" y="460.2" width="4.3" height="4.3" fill="#faaeac"/>
<rect x="39.1" y="460.2" width="4.3" height="4.3" fill="#f99290"/>
<rect x="43.1" y="460.2" width="4.3" height="4.3" fill="#f77673"/>
<rect x="47.1" y="460.2" width="4.3" height="4.3" fill="#f7706c"/>
<rect x="51.1" y="460.2" width="4.3" height="4.3" fill="#f7716e"/>
<rect x="55.1" y="460.2" width="4.3" height="4.3" fill="#f77471"/>
<rect x="59.1" y="460.2" width="4.3" height="4.3" fill="#f77875"/>
<rect x="63.1" y="460.2" width="4.3" height="4.3" fill="#f77c79"/>
<rect x="67.1" y="460.2" width="4.3" height="4.3" fill="#f77f7c"/>
<rect x="71.1" y="460.2" width="4.3" height="4.3" fill="#f88481"/>
<rect x="75.1" y="460.2" width="4.3" height="4.3" fill="#f88886"/>
<rect x="79.1" y="460.2" width="4.3" height="4.3" fill="#f88d8b"/>
<rect x="83.1" y="460.2" width="4.3" height="4.3" fill="#f9928f"/>
<rect x="87.1" y="460.2" width="4.3" height="4.3" fill="#f99794"/>
<rect x="91.1" y="460.2" width="4.3" height="4.3" fill="#f99c9a"/>
<rect x="95.1" y="460.2" width="4.3" height="4.3" fill="#f9a19f"/>
<rect x="99.1" y="460.2" width="4.3" height="4.3" fill="#faa4a2"/>
<rect x="103.1" y="460.2" width="4.3" height="4.3" fill="#faa6a4"/>
<rect x="107.1" y="460.2" width="4.3" height="4.3" fill="#faa7a5"/>
<rect x="111.1" y="460.2" width="4.3" height="4.3" fill="#faa8a6"/>
<rect x="115.1" y="460.2" width="4.3" height="4.3" fill="#faa9a7"/>
<rect x="119.1" y="460.2" width="4.3" height="4.3" fill="#faa9a7"/>
<rect x="123.1" y="460.2" width="4.3" height="4.3" fill="#faa9a7"/>
<rect x="127.1" y="460.2" width="4.3" height="4.3" fill="#faa8a6"/>
<rect x="131.1" y="460.2" width="4.3" height="4.3" fill="#faa6a4"/>
<rect x="135.1" y="460.2" width="4.3" height="4.3" fill="#faa4a2"/>
<rect x="139.1" y="460.2" width="4.3" height="4.3" fill="#f9a29f"/>
<rect x="143.1" y="460.2" width="4.3" height="4.3" fill="#f99b98"/>
<rect x="147.1" y="460.2" width="4.3" height="4.3" fill="#f88f8c"/>
<rect x="151.1" y="460.2" width="4.3" height="4.3" fill="#f88380"/>
<rect x="155.1" y="460.2" width="4.3" height="4.3" fill="#f77b78"/>
<rect x="159.1" y="460.2" width="4.3" height="4.3" fill="#f77976"/>
<rect x="163.1" y="460.2" width="4.3" height="4.3" fill="#f77f7c"/>
<rect x="167.1" y="460.2" width="4.3" height="4.3" fill="#f88c8a"/>
<rect x="171.1" y="460.2" width="4.3" height="4.3" fill="#f99d9b"/>
<rect x="175.1" y="460.2" width="4.3" height="4.3" fill="#faaeac"/>
<rect x="179.1" y="460.2" width="4.3" height="4.3" fill="#fbbab9"/>
<rect x="183.1" y="460.2" width="4.3" height="4.3" fill="#fcc7c6"/>
<rect x="187.1" y="460.2" width="4.3" height="4.3" fill="#fcd5d4"/>
<rect x="191.1" y="460.2" width="4.3" height="4.3" fill="#fde4e3"/>
<rect x="195.1" y="460.2" width="4.3" height="4.3" fill="#fffafa"/>
<rect x="199.1" y="460.2" width="4.3" height="4.3" fill="#ffffff"/>
<rect x="203.1" y="460.2" width="4.3" height="4.3" fill="#ffffff"/>
<rect x="23.1" y="464.2" width="4.3" height="4.3" fill="#ffffff"/>
<rect x="27.1" y="464.2" width="4.3" height="4.3" fill="#ffffff"/>
<rect x="31.1" y="464.2" width="4.3" height="4.3" fill="#fccbca"/>
<rect x="35.1" y="464.2" width="4.3" height="4.3" fill="#fab0ae"/>
<rect x="39.1" y="464.2" width="4.3" height="4.3" fill="#f99492"/>
<rect x="43.1" y="464.2" width="4.3" height="4.3" fill="#f77976"/>
<rect x="47.1" y="464.2" width="4.3" height="4.3" fill="#f7726f"/>
<rect x="51.1" y="464.2" width="4.3" height="4.3" fill="#f77471"/>
<rect x="55.1" y="464.2" width="4.3" height="4.3" fill="#f77774"/>
<rect x="59.1" y="464.2" width="4.3" height="4.3" fill="#f77b78"/>
<rect x="63.1" y="464.2" width="4.3" height="4.3" fill="#f77f7c"/>
<rect x="67.1" y="464.2" width="4.3" height="4.3" fill="#f88481"/>
<rect x="71.1" y="464.2" width="4.3" height="4.3" fill="#f88886"/>
<rect x="75.1" y="464.2" width="4.3" height="4.3" fill="#f88e8b"/>
<rect x="79.1" y="464.2" width="4.3" height="4.3" fill="#f99391"/>
<rect x="83.1" y="464.2" width="4.3" height="4.3" fill="#f99896"/>
<rect x="87.1" y="464.2" width="4.3" height="4.3" fill="#f99d9b"/>
<rect x="91.1" y="464.2" width="4.3" height="4.3" fill="#faa3a1"/>
<rect x="95.1" y="464.2" width="4.3" height="4.3" fill="#faa8a6"/>
<rect x="99.1" y="464.2" width="4.3" height="4.3" fill="#faacaa"/>
<rect x="103.1" y="464.2" width="4.3" height="4.3" fill="#faaeac"/>
<rect x="107.1" y="464.2" width="4.3" height="4.3" fill="#faafad"/>
<rect x="111.1" y="464.2" width="4.3" height="4.3" fill="#faafad"/>
<rect x="115.1" y="464.2" width="4.3" height="4.3" fill="#fab0ae"/>
<rect x="119.1" y="464.2" width="4.3" height="4.3" fill="#fab0ae"/>
<rect x="123.1" y="464.2" width="4.3" height="4.3" fill="#fab0ae"/>
<rect x="127.1" y="464.2" width="4.3" height="4.3" fill="#faafad"/>
<rect x="131.1" y="464.2" width="4.3" height="4.3" fill="#faadab"/>
<rect x="135.1" y="464.2" width="4.3" height="4.3" fill="#faaba9"/>
<rect x="139.1" y="464.2" width="4.3" height="4.3" fill="#faa8a6"/>
<rect x="143.1" y="464.2" width="4.3" height="4.3" fill="#f9a09e"/>
<rect x="147.1" y="464.2" width="4.3" height="4.3" fill="#f99491"/>
<rect x="151.1" y="464.2" width="4.3" height="4.3" fill="#f88784"/>
<rect x="155.1" y="464.2" width="4.3" height="4.3" fill="#f77f7c"/>
<rect x="159.1" y="464.2" width="4.3" height="4.3" fill="#f77d79"/>
<rect x="163.1" y="464.2" width="4.3" height="4.3" fill="#f88380"/>
<rect x="167.1" y="464.2" width="4.3" height="4.3" fill="#f8908d"/>
<rect x="171.1" y="464.2" width="4.3" height="4.3" fill="#f9a09e"/>
<rect x="175.1" y="464.2" width="4.3" height="4.3" fill="#fab0af"/>
<rect x="179.1" y="464.2" width="4.3" height="4.3" fill="#fbbdbb"/>
<rect x="183.1" y="464.2" width="4.3" height="4.3" fill="#fcc9c8"/>
<rect x="187.1" y="464.2" width="4.3" height="4.3" fill="#fdd6d5"/>
<rect x="191.1" y="464.2" width="4.3" height="4.3" fill="#fde5e4"/>
<rect x="195.1" y="464.2" width="4.3" height="4.3" fill="#fffbfb"/>
<rect x="199.1" y="464.2" width="4.3" height="4.3" fill="#ffffff"/>
<rect x="203.1" y="464.2" width="4.3" height="4.3" fill="#ffffff"/>
<rect x="23.1" y="468.2" width="4.3" height="4.3" fill="#ffffff"/>
<rect x="27.1" y="468.2" width="4.3" height="4.3" fill="#ffffff"/>
<rect x="31.1" y="468.2" width="4.3" height="4.3" fill="#fccccb"/>
<rect x="35.1" y="468.2" width="4.3" height="4.3" fill="#fab1b0"/>
<rect x="39.1" y="468.2" width="4.3" height="4.3" fill="#f99694"/>
<rect x="43.1" y="468.2" width="4.3" height="4.3" fill="#f77c79"/>
<rect x="47.1" y="468.2" width="4.3" height="4.3" fill="#f77572"/>
<rect x="51.1" y="468.2" width="4.3" height="4.3" fill="#f77774"/>
<rect x="55.1" y="468.2" width="4.3" height="4.3" fill="#f77b77"/>
<rect x="59.1" y="468.2" width="4.3" height="4.3" fill="#f77f7c"/>
<rect x="63.1" y="468.2" width="4.3" height="4.3" fill="#f88481"/>
<rect x="67.1" y="468.2" width="4.3" height="4.3" fill="#f88885"/>
<rect x="71.1" y="468.2" width="4.3" height="4.3" fill="#f88d8b"/>
<rect x="75.1" y="468.2" width="4.3" height="4.3" fill="#f99391"/>
<rect x="79.1" y="468.2" width="4.3" height="4.3" fill="#f99997"/>
<rect x="83.1" y="468.2" width="4.3" height="4.3" fill="#f99f9c"/>
<rect x="87.1" y="468.2" width="4.3" height="4.3" fill="#faa4a2"/>
<rect x="91.1" y="468.2" width="4.3" height="4.3" fill="#faaaa8"/>
<rect x="95.1" y="468.2" width="4.3" height="4.3" fill="#fab0ae"/>
<rect x="99.1" y="468.2" width="4.3" height="4.3" fill="#fbb4b2"/>
<rect x="103.1" y="468.2" width="4.3" height="4.3" fill="#fbb6b4"/>
<rect x="107.1" y="468.2" width="4.3" height="4.3" fill="#fbb6b4"/>
<rect x="111.1" y="468.2" width="4.3" height="4.3" fill="#fbb7b5"/>
<rect x="115.1" y="468.2" width="4.3" height="4.3" fill="#fbb7b5"/>
<rect x="119.1" y="468.2" width="4.3" height="4.3" fill="#fbb7b6"/>
<rect x="123.1" y="468.2" width="4.3" height="4.3" fill="#fbb7b5"/>
<rect x="127.1" y="468.2" width="4.3" height="4.3" fill="#fbb6b4"/>
<rect x="131.1" y="468.2" width="4.3" height="4.3" fill="#fbb4b2"/>
<rect x="135.1" y="468.2" width="4.3" height="4.3" fill="#fab2b0"/>
<rect x="139.1" y="468.2" width="4.3" height="4.3" fill="#faafad"/>
<rect x="143.1" y="468.2" width="4.3" height="4.3" fill="#faa6a4"/>
<rect x="147.1" y="468.2" width="4.3" height="4.3" fill="#f99996"/>
<rect x="151.1" y="468.2" width="4.3" height="4.3" fill="#f88c89"/>
<rect x="155.1" y="468.2" width="4.3" height="4.3" fill="#f88380"/>
<rect x="159.1" y="468.2" width="4.3" height="4.3" fill="#f8817e"/>
<rect x="163.1" y="468.2" width="4.3" height="4.3" fill="#f88784"/>
<rect x="167.1" y="468.2" width="4.3" height="4.3" fill="#f99491"/>
<rect x="171.1" y="468.2" width="4.3" height="4.3" fill="#faa4a2"/>
<rect x="175.1" y="468.2" width="4.3" height="4.3" fill="#fbb3b2"/>
<rect x="179.1" y="468.2" width="4.3" height="4.3" fill="#fbbfbe"/>
<rect x="183.1" y="468.2" width="4.3" height="4.3" fill="#fccbca"/>
<rect x="187.1" y="468.2" width="4.3" height="4.3" fill="#fdd8d7"/>
<rect x="191.1" y="468.2" width="4.3" height="4.3" fill="#fee6e6"/>
<rect x="195.1" y="468.2" width="4.3" height="4.3" fill="#fffbfb"/>
<rect x="199.1" y="468.2" width="4.3" height="4.3" fill="#ffffff"/>
<rect x="203.1" y="468.2" width="4.3" height="4.3" fill="#ffffff"/>
<rect x="23.1" y="472.2" width="4.3" height="4.3" fill="#ffffff"/>
<rect x="27.1" y="472.2" width="4.3" height="4.3" fill="#ffffff"/>
<rect x="31.1" y="472.2" width="4.3" height="4.3" fill="#fccecd"/>
<rect x="35.1" y="472.2" width="4.3" height="4.3" fill="#fbb3b2"/>
<rect x="39.1" y="472.2" width="4.3" height="4.3" fill="#f99997"/>
<rect x="43.1" y="472.2" width="4.3" height="4.3" fill="#f77f7c"/>
<rect x="47.1" y="472.2" width="4.3" height="4.3" fill="#f77976"/>
<rect x="51.1" y="472.2" width="4.3" height="4.3" fill="#f77b78"/>
<rect x="55.1" y="472.2" width="4.3" height="4.3" fill="#f77f7b"/>
<rect x="59.1" y="472.2" width="4.3" height="4.3" fill="#f88380"/>
<rect x="63.1" y="472.2" width="4.3" height="4.3" fill="#f88885"/>
<rect x="67.1" y="472.2" width="4.3" height="4.3" fill="#f88d8a"/>
<rect x="71.1" y="472.2" width="4.3" height="4.3" fill="#f99390"/>
<rect x="75.1" y="472.2" width="4.3" height="4.3" fill="#f99997"/>
<rect x="79.1" y="472.2" width="4.3" height="4.3" fill="#f99f9d"/>
<rect x="83.1" y="472.2" width="4.3" height="4.3" fill="#faa5a3"/>
<rect x="87.1" y="472.2" width="4.3" height="4.3" fill="#faaba9"/>
<rect x="91.1" y="472.2" width="4.3" height="4.3" fill="#fab2b0"/>
<rect x="95.1" y="472.2" width="4.3" height="4.3" fill="#fbb8b6"/>
<rect x="99.1" y="472.2" width="4.3" height="4.3" fill="#fbbcba"/>
<rect x="103.1" y="472.2" width="4.3" height="4.3" fill="#fbbdbc"/>
<rect x="107.1" y="472.2" width="4.3" height="4.3" fill="#fbbebc"/>
<rect x="111.1" y="472.2" width="4.3" height="4.3" fill="#fbbebc"/>
<rect x="115.1" y="472.2" width="4.3" height="4.3" fill="#fbbebd"/>
<rect x="119.1" y="472.2" width="4.3" height="4.3" fill="#fbbebd"/>
<rect x="123.1" y="472.2" width="4.3" height="4.3" fill="#fbbebc"/>
<rect x="127.1" y="472.2" width="4.3" height="4.3" fill="#fbbdbb"/>
<rect x="131.1" y="472.2" width="4.3" height="4.3" fill="#fbbbb9"/>
<rect x="135.1" y="472.2" width="4.3" height="4.3" fill="#fbb8b7"/>
<rect x="139.1" y="472.2" width="4.3" height="4.3" fill="#fbb5b4"/>
<rect x="143.1" y="472.2" width="4.3" height="4.3" fill="#faadab"/>
<rect x="147.1" y="472.2" width="4.3" height="4.3" fill="#f99e9c"/>
<rect x="151.1" y="472.2" width="4.3" height="4.3" fill="#f8918e"/>
<rect x="155.1" y="472.2" width="4.3" height="4.3" fill="#f88785"/>
<rect x="159.1" y="472.2" width="4.3" height="4.3" fill="#f88683"/>
<rect x="163.1" y="472.2" width="4.3" height="4.3" fill="#f88c89"/>
<rect x="167.1" y="472.2" width="4.3" height="4.3" fill="#f99896"/>
<rect x="171.1" y="472.2" width="4.3" height="4.3" fill="#faa8a6"/>
<rect x="175.1" y="472.2" width="4.3" height="4.3" fill="#fbb7b5"/>
<rect x="179.1" y="472.2" width="4.3" height="4.3" fill="#fbc2c1"/>
<rect x="183.1" y="472.2" width="4.3" height="4.3" fill="#fccecc"/>
<rect x="187.1" y="472.2" width="4.3" height="4.3" fill="#fddad9"/>
<rect x="191.1" y="472.2" width="4.3" height="4.3" fill="#fee7e7"/>
<rect x="195.1" y="472.2" width="4.3" height="4.3" fill="#fffbfb"/>
<rect x="199.1" y="472.2" width="4.3" height="4.3" fill="#ffffff"/>
<rect x="203.1" y="472.2" width="4.3" height="4.3" fill="#ffffff"/>
<rect x="23.1" y="476.2" width="4.3" height="4.3" fill="#ffffff"/>
<rect x="27.1" y="476.2" width="4.3" height="4.3" fill="#ffffff"/>
<rect x="31.1" y="476.2" width="4.3" height="4.3" fill="#fccfce"/>
<rect x="35.1" y="476.2" width="4.3" height="4.3" fill="#fbb6b4"/>
<rect x="39.1" y="476.2" width="4.3" height="4.3" fill="#f99c9a"/>
<rect x="43.1" y="476.2" width="4.3" height="4.3" fill="#f88380"/>
<rect x="47.1" y="476.2" width="4.3" height="4.3" fill="#f77d7a"/>
<rect x="51.1" y="476.2" width="4.3" height="4.3" fill="#f77f7c"/>
<rect x="55.1" y="476.2" width="4.3" height="4.3" fill="#f88380"/>
<rect x="59.1" y="476.2" width="4.3" height="4.3" fill="#f88885"/>
<rect x="63.1" y="476.2" width="4.3" height="4.3" fill="#f88e8b"/>
<rect x="67.1" y="476.2" width="4.3" height="4.3" fill="#f99390"/>
<rect x="71.1" y="476.2" width="4.3" height="4.3" fill="#f99996"/>
<rect x="75.1" y="476.2" width="4.3" height="4.3" fill="#f99f9d"/>
<rect x="79.1" y="476.2" width="4.3" height="4.3" fill="#faa6a4"/>
<rect x="83.1" y="476.2" width="4.3" height="4.3" fill="#faacaa"/>
<rect x="87.1" y="476.2" width="4.3" height="4.3" fill="#fab2b0"/>
<rect x="91.1" y="476.2" width="4.3" height="4.3" fill="#fbb9b7"/>
<rect x="95.1" y="476.2" width="4.3" height="4.3" fill="#fbbfbe"/>
<rect x="99.1" y="476.2" width="4.3" height="4.3" fill="#fbc4c2"/>
<rect x="103.1" y="476.2" width="4.3" height="4.3" fill="#fcc5c3"/>
<rect x="107.1" y="476.2" width="4.3" height="4.3" fill="#fcc5c3"/>
<rect x="111.1" y="476.2" width="4.3" height="4.3" fill="#fcc5c3"/>
<rect x="115.1" y="476.2" width="4.3" height="4.3" fill="#fcc5c4"/>
<rect x="119.1" y="476.2" width="4.3" height="4.3" fill="#fcc5c4"/>
<rect x="123.1" y="476.2" width="4.3" height="4.3" fill="#fcc5c3"/>
<rect x="127.1" y="476.2" width="4.3" height="4.3" fill="#fbc4c2"/>
<rect x="131.1" y="476.2" width="4.3" height="4.3" fill="#fbc2c0"/>
<rect x="135.1" y="476.2" width="4.3" height="4.3" fill="#fbbfbe"/>
<rect x="139.1" y="476.2" width="4.3" height="4.3" fill="#fbbcba"/>
<rect x="143.1" y="476.2" width="4.3" height="4.3" fill="#fbb3b1"/>
<rect x="147.1" y="476.2" width="4.3" height="4.3" fill="#faa4a2"/>
<rect x="151.1" y="476.2" width="4.3" height="4.3" fill="#f99694"/>
<rect x="155.1" y="476.2" width="4.3" height="4.3" fill="#f88d8a"/>
<rect x="159.1" y="476.2" width="4.3" height="4.3" fill="#f88b88"/>
<rect x="163.1" y="476.2" width="4.3" height="4.3" fill="#f8918e"/>
<rect x="167.1" y="476.2" width="4.3" height="4.3" fill="#f99d9a"/>
<rect x="171.1" y="476.2" width="4.3" height="4.3" fill="#faacaa"/>
<rect x="175.1" y="476.2" width="4.3" height="4.3" fill="#fbbbb9"/>
<rect x="179.1" y="476.2" width="4.3" height="4.3" fill="#fcc5c4"/>
<rect x="183.1" y="476.2" width="4.3" height="4.3" fill="#fcd0cf"/>
<rect x="187.1" y="476.2" width="4.3" height="4.3" fill="#fddcdb"/>
<rect x="191.1" y="476.2" width="4.3" height="4.3" fill="#fee9e8"/>
<rect x="195.1" y="476.2" width="4.3" height="4.3" fill="#fffbfb"/>
<rect x="199.1" y="476.2" width="4.3" height="4.3" fill="#ffffff"/>
<rect x="203.1" y="476.2" width="4.3" height="4.3" fill="#ffffff"/>
<rect x="23.1" y="480.2" width="4.3" height="4.3" fill="#ffffff"/>
<rect x="27.1" y="480.2" width="4.3" height="4.3" fill="#ffffff"/>
<rect x="31.1" y="480.2" width="4.3" height="4.3" fill="#fcd1d0"/>
<rect x="35.1" y="480.2" width="4.3" height="4.3" fill="#fbb9b7"/>
<rect x="39.1" y="480.2" width="4.3" height="4.3" fill="#f9a09e"/>
<rect x="43.1" y="480.2" width="4.3" height="4.3" fill="#f88885"/>
<rect x="47.1" y="480.2" width="4.3" height="4.3" fill="#f8827f"/>
<rect x="51.1" y="480.2" width="4.3" height="4.3" fill="#f88481"/>
<rect x="55.1" y="480.2" width="4.3" height="4.3" fill="#f88986"/>
<rect x="59.1" y="480.2" width="4.3" height="4.3" fill="#f88e8b"/>
<rect x="63.1" y="480.2" width="4.3" height="4.3" fill="#f99491"/>
<rect x="67.1" y="480.2" width="4.3" height="4.3" fill="#f99997"/>
<rect x="71.1" y="480.2" width="4.3" height="4.3" fill="#f99f9d"/>
<rect x="75.1" y="480.2" width="4.3" height="4.3" fill="#faa6a4"/>
<rect x="79.1" y="480.2" width="4.3" height="4.3" fill="#faadab"/>
<rect x="83.1" y="480.2" width="4.3" height="4.3" fill="#fbb3b1"/>
<rect x="87.1" y="480.2" width="4.3" height="4.3" fill="#fbb9b8"/>
<rect x="91.1" y="480.2" width="4.3" height="4.3" fill="#fbc0be"/>
<rect x="95.1" y="480.2" width="4.3" height="4.3" fill="#fcc6c5"/>
<rect x="99.1" y="480.2" width="4.3" height="4.3" fill="#fccac9"/>
<rect x="103.1" y="480.2" width="4.3" height="4.3" fill="#fccbca"/>
<rect x="107.1" y="480.2" width="4.3" height="4.3" fill="#fccbca"/>
<rect x="111.1" y="480.2" width="4.3" height="4.3" fill="#fccbca"/>
<rect x="115.1" y="480.2" width="4.3" height="4.3" fill="#fccbca"/>
<rect x="119.1" y="480.2" width="4.3" height="4.3" fill="#fccbca"/>
<rect x="123.1" y="480.2" width="4.3" height="4.3" fill="#fccbca"/>
<rect x="127.1" y="480.2" width="4.3" height="4.3" fill="#fccac9"/>
<rect x="131.1" y="480.2" width="4.3" height="4.3" fill="#fcc8c7"/>
<rect x="135.1" y="480.2" width="4.3" height="4.3" fill="#fcc5c4"/>
<rect x="139.1" y="480.2" width="4.3" height="4.3" fill="#fbc2c1"/>
<rect x="143.1" y="480.2" width="4.3" height="4.3" fill="#fbbab8"/>
<rect x="147.1" y="480.2" width="4.3" height="4.3" fill="#faaba9"/>
<rect x="151.1" y="480.2" width="4.3" height="4.3" fill="#f99c9a"/>
<rect x="155.1" y="480.2" width="4.3" height="4.3" fill="#f99390"/>
<rect x="159.1" y="480.2" width="4.3" height="4.3" fill="#f8918e"/>
<rect x="163.1" y="480.2" width="4.3" height="4.3" fill="#f99694"/>
<rect x="167.1" y="480.2" width="4.3" height="4.3" fill="#f9a2a0"/>
<rect x="171.1" y="480.2" width="4.3" height="4.3" fill="#fab0ae"/>
<rect x="175.1" y="480.2" width="4.3" height="4.3" fill="#fbbebd"/>
<rect x="179.1" y="480.2" width="4.3" height="4.3" fill="#fcc8c7"/>
<rect x="183.1" y="480.2" width="4.3" height="4.3" fill="#fcd3d2"/>
<rect x="187.1" y="480.2" width="4.3" height="4.3" fill="#fddedd"/>
<rect x="191.1" y="480.2" width="4.3" height="4.3" fill="#feeaea"/>
<rect x="195.1" y="480.2" width="4.3" height="4.3" fill="#fffcfb"/>
<rect x="199.1" y="480.2" width="4.3" height="4.3" fill="#ffffff"/>
<rect x="203.1" y="480.2" width="4.3" height="4.3" fill="#ffffff"/>
<rect x="23.1" y="484.2" width="4.3" height="4.3" fill="#ffffff"/>
<rect x="27.1" y="484.2" width="4.3" height="4.3" fill="#ffffff"/>
<rect x="31.1" y="484.2" width="4.3" height="4.3" fill="#fcd4d3"/>
<rect x="35.1" y="484.2" width="4.3" height="4.3" fill="#fbbdbc"/>
<rect x="39.1" y="484.2" width="4.3" height="4.3" fill="#faa6a4"/>
<rect x="43.1" y="484.2" width="4.3" height="4.3" fill="#f8908d"/>
<rect x="47.1" y="484.2" width="4.3" height="4.3" fill="#f88a88"/>
<rect x="51.1" y="484.2" width="4.3" height="4.3" fill="#f88d8a"/>
<rect x="55.1" y="484.2" width="4.3" height="4.3" fill="#f9918e"/>
<rect x="59.1" y="484.2" width="4.3" height="4.3" fill="#f99794"/>
<rect x="63.1" y="484.2" width="4.3" height="4.3" fill="#f99c9a"/>
<rect x="67.1" y="484.2" width="4.3" height="4.3" fill="#f9a19f"/>
<rect x="71.1" y="484.2" width="4.3" height="4.3" fill="#faa8a6"/>
<rect x="75.1" y="484.2" width="4.3" height="4.3" fill="#faaeac"/>
<rect x="79.1" y="484.2" width="4.3" height="4.3" fill="#fbb5b3"/>
<rect x="83.1" y="484.2" width="4.3" height="4.3" fill="#fbbbb9"/>
<rect x="87.1" y="484.2" width="4.3" height="4.3" fill="#fbc1bf"/>
<rect x="91.1" y="484.2" width="4.3" height="4.3" fill="#fcc7c6"/>
<rect x="95.1" y="484.2" width="4.3" height="4.3" fill="#fccdcb"/>
<rect x="99.1" y="484.2" width="4.3" height="4.3" fill="#fcd0cf"/>
<rect x="103.1" y="484.2" width="4.3" height="4.3" fill="#fcd1d0"/>
<rect x="107.1" y="484.2" width="4.3" height="4.3" fill="#fcd1d0"/>
<rect x="111.1" y="484.2" width="4.3" height="4.3" fill="#fcd1d0"/>
<rect x="115.1" y="484.2" width="4.3" height="4.3" fill="#fcd1d0"/>
<rect x="119.1" y="484.2" width="4.3" height="4.3" fill="#fcd1d0"/>
<rect x="123.1" y="484.2" width="4.3" height="4.3" fill="#fcd1d0"/>
<rect x="127.1" y="484.2" width="4.3" height="4.3" fill="#fcd0cf"/>
<rect x="131.1" y="484.2" width="4.3" height="4.3" fill="#fccecd"/>
<rect x="135.1" y="484.2" width="4.3" height="4.3" fill="#fccccb"/>
<rect x="139.1" y="484.2" width="4.3" height="4.3" fill="#fcc9c8"/>
<rect x="143.1" y="484.2" width="4.3" height="4.3" fill="#fbc1bf"/>
<rect x="147.1" y="484.2" width="4.3" height="4.3" fill="#fab2b1"/>
<rect x="151.1" y="484.2" width="4.3" height="4.3" fill="#faa4a2"/>
<rect x="155.1" y="484.2" width="4.3" height="4.3" fill="#f99b99"/>
<rect x="159.1" y="484.2" width="4.3" height="4.3" fill="#f99997"/>
<rect x="163.1" y="484.2" width="4.3" height="4.3" fill="#f99e9c"/>
<rect x="167.1" y="484.2" width="4.3" height="4.3" fill="#faa9a7"/>
<rect x="171.1" y="484.2" width="4.3" height="4.3" fill="#fbb6b5"/>
<rect x="175.1" y="484.2" width="4.3" height="4.3" fill="#fbc3c2"/>
<rect x="179.1" y="484.2" width="4.3" height="4.3" fill="#fccdcc"/>
<rect x="183.1" y="484.2" width="4.3" height="4.3" fill="#fdd6d5"/>
<rect x="187.1" y="484.2" width="4.3" height="4.3" fill="#fde1e0"/>
<rect x="191.1" y="484.2" width="4.3" height="4.3" fill="#feeceb"/>
<rect x="195.1" y="484.2" width="4.3" height="4.3" fill="#fffcfc"/>
<rect x="199.1" y="484.2" width="4.3" height="4.3" fill="#ffffff"/>
<rect x="203.1" y="484.2" width="4.3" height="4.3" fill="#ffffff"/>
<rect x="23.1" y="488.2" width="4.3" height="4.3" fill="#ffffff"/>
<rect x="27.1" y="488.2" width="4.3" height="4.3" fill="#ffffff"/>
<rect x="31.1" y="488.2" width="4.3" height="4.3" fill="#fdd9d8"/>
<rect x="35.1" y="488.2" width="4.3" height="4.3" fill="#fcc5c4"/>
<rect x="39.1" y="488.2" width="4.3" height="4.3" fill="#fab1af"/>
<rect x="43.1" y="488.2" width="4.3" height="4.3" fill="#f99d9b"/>
<rect x="47.1" y="488.2" width="4.3" height="4.3" fill="#f99896"/>
<rect x="51.1" y="488.2" width="4.3" height="4.3" fill="#f99a98"/>
<rect x="55.1" y="488.2" width="4.3" height="4.3" fill="#f99e9c"/>
<rect x="59.1" y="488.2" width="4.3" height="4.3" fill="#faa3a1"/>
<rect x="63.1" y="488.2" width="4.3" height="4.3" fill="#faa8a6"/>
<rect x="67.1" y="488.2" width="4.3" height="4.3" fill="#faadab"/>
<rect x="71.1" y="488.2" width="4.3" height="4.3" fill="#fab2b1"/>
<rect x="75.1" y="488.2" width="4.3" height="4.3" fill="#fbb8b7"/>
<rect x="79.1" y="488.2" width="4.3" height="4.3" fill="#fbbebd"/>
<rect x="83.1" y="488.2" width="4.3" height="4.3" fill="#fbc4c2"/>
<rect x="87.1" y="488.2" width="4.3" height="4.3" fill="#fcc9c8"/>
<rect x="91.1" y="488.2" width="4.3" height="4.3" fill="#fccecd"/>
<rect x="95.1" y="488.2" width="4.3" height="4.3" fill="#fcd3d2"/>
<rect x="99.1" y="488.2" width="4.3" height="4.3" fill="#fdd7d6"/>
<rect x="103.1" y="488.2" width="4.3" height="4.3" fill="#fdd8d7"/>
<rect x="107.1" y="488.2" width="4.3" height="4.3" fill="#fdd8d7"/>
<rect x="111.1" y="488.2" width="4.3" height="4.3" fill="#fdd7d7"/>
<rect x="115.1" y="488.2" width="4.3" height="4.3" fill="#fdd7d7"/>
<rect x="119.1" y="488.2" width="4.3" height="4.3" fill="#fdd7d7"/>
<rect x="123.1" y="488.2" width="4.3" height="4.3" fill="#fdd7d6"/>
<rect x="127.1" y="488.2" width="4.3" height="4.3" fill="#fdd6d5"/>
<rect x="131.1" y="488.2" width="4.3" height="4.3" fill="#fdd5d4"/>
<rect x="135.1" y="488.2" width="4.3" height="4.3" fill="#fcd3d2"/>
<rect x="139.1" y="488.2" width="4.3" height="4.3" fill="#fcd0cf"/>
<rect x="143.1" y="488.2" width="4.3" height="4.3" fill="#fcc9c8"/>
<rect x="147.1" y="488.2" width="4.3" height="4.3" fill="#fbbcba"/>
<rect x="151.1" y="488.2" width="4.3" height="4.3" fill="#faafae"/>
<rect x="155.1" y="488.2" width="4.3" height="4.3" fill="#faa7a5"/>
<rect x="159.1" y="488.2" width="4.3" height="4.3" fill="#faa5a3"/>
<rect x="163.1" y="488.2" width="4.3" height="4.3" fill="#faaaa8"/>
<rect x="167.1" y="488.2" width="4.3" height="4.3" fill="#fbb3b1"/>
<rect x="171.1" y="488.2" width="4.3" height="4.3" fill="#fbbfbe"/>
<rect x="175.1" y="488.2" width="4.3" height="4.3" fill="#fccbc9"/>
<rect x="179.1" y="488.2" width="4.3" height="4.3" fill="#fcd3d2"/>
<rect x="183.1" y="488.2" width="4.3" height="4.3" fill="#fddbda"/>
<rect x="187.1" y="488.2" width="4.3" height="4.3" fill="#fde4e4"/>
<rect x="191.1" y="488.2" width="4.3" height="4.3" fill="#feeeee"/>
<rect x="195.1" y="488.2" width="4.3" height="4.3" fill="#fffcfc"/>
<rect x="199.1" y="488.2" width="4.3" height="4.3" fill="#ffffff"/>
<rect x="203.1" y="488.2" width="4.3" height="4.3" fill="#ffffff"/>
<rect x="23.1" y="492.2" width="4.3" height="4.3" fill="#ffffff"/>
<rect x="27.1" y="492.2" width="4.3" height="4.3" fill="#ffffff"/>
<rect x="31.1" y="492.2" width="4.3" height="4.3" fill="#fddfdf"/>
<rect x="35.1" y="492.2" width="4.3" height="4.3" fill="#fccecd"/>
<rect x="39.1" y="492.2" width="4.3" height="4.3" fill="#fbbebc"/>
<rect x="43.1" y="492.2" width="4.3" height="4.3" fill="#faadab"/>
<rect x="47.1" y="492.2" width="4.3" height="4.3" fill="#faa9a7"/>
<rect x="51.1" y="492.2" width="4.3" height="4.3" fill="#faaba9"/>
<rect x="55.1" y="492.2" width="4.3" height="4.3" fill="#faaeac"/>
<rect x="59.1" y="492.2" width="4.3" height="4.3" fill="#fab2b0"/>
<rect x="63.1" y="492.2" width="4.3" height="4.3" fill="#fbb6b4"/>
<rect x="67.1" y="492.2" width="4.3" height="4.3" fill="#fbbab8"/>
<rect x="71.1" y="492.2" width="4.3" height="4.3" fill="#fbbfbd"/>
<rect x="75.1" y="492.2" width="4.3" height="4.3" fill="#fbc4c2"/>
<rect x="79.1" y="492.2" width="4.3" height="4.3" fill="#fcc9c7"/>
<rect x="83.1" y="492.2" width="4.3" height="4.3" fill="#fccdcc"/>
<rect x="87.1" y="492.2" width="4.3" height="4.3" fill="#fcd1d0"/>
<rect x="91.1" y="492.2" width="4.3" height="4.3" fill="#fdd6d5"/>
<rect x="95.1" y="492.2" width="4.3" height="4.3" fill="#fddad9"/>
<rect x="99.1" y="492.2" width="4.3" height="4.3" fill="#fddddc"/>
<rect x="103.1" y="492.2" width="4.3" height="4.3" fill="#fddedd"/>
<rect x="107.1" y="492.2" width="4.3" height="4.3" fill="#fddedd"/>
<rect x="111.1" y="492.2" width="4.3" height="4.3" fill="#fddedd"/>
<rect x="115.1" y="492.2" width="4.3" height="4.3" fill="#fddedd"/>
<rect x="119.1" y="492.2" width="4.3" height="4.3" fill="#fddedd"/>
<rect x="123.1" y="492.2" width="4.3" height="4.3" fill="#fddddd"/>
<rect x="127.1" y="492.2" width="4.3" height="4.3" fill="#fddddc"/>
<rect x="131.1" y="492.2" width="4.3" height="4.3" fill="#fddbda"/>
<rect x="135.1" y="492.2" width="4.3" height="4.3" fill="#fddad9"/>
<rect x="139.1" y="492.2" width="4.3" height="4.3" fill="#fdd8d7"/>
<rect x="143.1" y="492.2" width="4.3" height="4.3" fill="#fcd1d0"/>
<rect x="147.1" y="492.2" width="4.3" height="4.3" fill="#fcc7c5"/>
<rect x="151.1" y="492.2" width="4.3" height="4.3" fill="#fbbcbb"/>
<rect x="155.1" y="492.2" width="4.3" height="4.3" fill="#fbb5b3"/>
<rect x="159.1" y="492.2" width="4.3" height="4.3" fill="#fbb4b2"/>
<rect x="163.1" y="492.2" width="4.3" height="4.3" fill="#fbb8b6"/>
<rect x="167.1" y="492.2" width="4.3" height="4.3" fill="#fbbfbe"/>
<rect x="171.1" y="492.2" width="4.3" height="4.3" fill="#fcc9c8"/>
<rect x="175.1" y="492.2" width="4.3" height="4.3" fill="#fcd3d2"/>
<rect x="179.1" y="492.2" width="4.3" height="4.3" fill="#fddad9"/>
<rect x="183.1" y="492.2" width="4.3" height="4.3" fill="#fde1e0"/>
<rect x="187.1" y="492.2" width="4.3" height="4.3" fill="#fee9e8"/>
<rect x="191.1" y="492.2" width="4.3" height="4.3" fill="#fef1f1"/>
<rect x="195.1" y="492.2" width="4.3" height="4.3" fill="#fffdfd"/>
<rect x="199.1" y="492.2" width="4.3" height="4.3" fill="#ffffff"/>
<rect x="203.1" y="492.2" width="4.3" height="4.3" fill="#ffffff"/>
<rect x="23.1" y="496.2" width="4.3" height="4.3" fill="#ffffff"/>
<rect x="27.1" y="496.2" width="4.3" height="4.3" fill="#ffffff"/>
<rect x="31.1" y="496.2" width="4.3" height="4.3" fill="#fee6e5"/>
<rect x="35.1" y="496.2" width="4.3" height="4.3" fill="#fdd8d7"/>
<rect x="39.1" y="496.2" width="4.3" height="4.3" fill="#fccbc9"/>
<rect x="43.1" y="496.2" width="4.3" height="4.3" fill="#fbbdbc"/>
<rect x="47.1" y="496.2" width="4.3" height="4.3" fill="#fbbab8"/>
<rect x="51.1" y="496.2" width="4.3" height="4.3" fill="#fbbbba"/>
<rect x="55.1" y="496.2" width="4.3" height="4.3" fill="#fbbebc"/>
<rect x="59.1" y="496.2" width="4.3" height="4.3" fill="#fbc1bf"/>
<rect x="63.1" y="496.2" width="4.3" height="4.3" fill="#fcc4c3"/>
<rect x="67.1" y="496.2" width="4.3" height="4.3" fill="#fcc7c6"/>
<rect x="71.1" y="496.2" width="4.3" height="4.3" fill="#fccbc9"/>
<rect x="75.1" y="496.2" width="4.3" height="4.3" fill="#fccfcd"/>
<rect x="79.1" y="496.2" width="4.3" height="4.3" fill="#fcd2d1"/>
<rect x="83.1" y="496.2" width="4.3" height="4.3" fill="#fdd6d5"/>
<rect x="87.1" y="496.2" width="4.3" height="4.3" fill="#fdd9d8"/>
<rect x="91.1" y="496.2" width="4.3" height="4.3" fill="#fddddc"/>
<rect x="95.1" y="496.2" width="4.3" height="4.3" fill="#fde0e0"/>
<rect x="99.1" y="496.2" width="4.3" height="4.3" fill="#fde3e2"/>
<rect x="103.1" y="496.2" width="4.3" height="4.3" fill="#fde3e3"/>
<rect x="107.1" y="496.2" width="4.3" height="4.3" fill="#fde3e3"/>
<rect x="111.1" y="496.2" width="4.3" height="4.3" fill="#fde3e3"/>
<rect x="115.1" y="496.2" width="4.3" height="4.3" fill="#fde3e3"/>
<rect x="119.1" y="496.2" width="4.3" height="4.3" fill="#fde3e3"/>
<rect x="123.1" y="496.2" width="4.3" height="4.3" fill="#fde3e2"/>
<rect x="127.1" y="496.2" width="4.3" height="4.3" fill="#fde2e2"/>
<rect x="131.1" y="496.2" width="4.3" height="4.3" fill="#fde1e1"/>
<rect x="135.1" y="496.2" width="4.3" height="4.3" fill="#fde0df"/>
<rect x="139.1" y="496.2" width="4.3" height="4.3" fill="#fddede"/>
<rect x="143.1" y="496.2" width="4.3" height="4.3" fill="#fdd9d9"/>
<rect x="147.1" y="496.2" width="4.3" height="4.3" fill="#fcd1d0"/>
<rect x="151.1" y="496.2" width="4.3" height="4.3" fill="#fcc9c8"/>
<rect x="155.1" y="496.2" width="4.3" height="4.3" fill="#fbc4c2"/>
<rect x="159.1" y="496.2" width="4.3" height="4.3" fill="#fbc2c1"/>
<rect x="163.1" y="496.2" width="4.3" height="4.3" fill="#fcc6c4"/>
<rect x="167.1" y="496.2" width="4.3" height="4.3" fill="#fccccb"/>
<rect x="171.1" y="496.2" width="4.3" height="4.3" fill="#fcd4d3"/>
<rect x="175.1" y="496.2" width="4.3" height="4.3" fill="#fddcdb"/>
<rect x="179.1" y="496.2" width="4.3" height="4.3" fill="#fde1e0"/>
<rect x="183.1" y="496.2" width="4.3" height="4.3" fill="#fee7e6"/>
<rect x="187.1" y="496.2" width="4.3" height="4.3" fill="#feedec"/>
<rect x="191.1" y="496.2" width="4.3" height="4.3" fill="#fef4f3"/>
<rect x="195.1" y="496.2" width="4.3" height="4.3" fill="#fffdfd"/>
<rect x="199.1" y="496.2" width="4.3" height="4.3" fill="#ffffff"/>
<rect x="203.1" y="496.2" width="4.3" height="4.3" fill="#ffffff"/>
<rect x="23.1" y="500.2" width="4.3" height="4.3" fill="#ffffff"/>
<rect x="27.1" y="500.2" width="4.3" height="4.3" fill="#ffffff"/>
<rect x="31.1" y="500.2" width="4.3" height="4.3" fill="#feeaea"/>
<rect x="35.1" y="500.2" width="4.3" height="4.3" fill="#fddfdf"/>
<rect x="39.1" y="500.2" width="4.3" height="4.3" fill="#fcd4d3"/>
<rect x="43.1" y="500.2" width="4.3" height="4.3" fill="#fccac8"/>
<rect x="47.1" y="500.2" width="4.3" height="4.3" fill="#fcc7c6"/>
<rect x="51.1" y="500.2" width="4.3" height="4.3" fill="#fcc8c7"/>
<rect x="55.1" y="500.2" width="4.3" height="4.3" fill="#fccac9"/>
<rect x="59.1" y="500.2" width="4.3" height="4.3" fill="#fccccb"/>
<rect x="63.1" y="500.2" width="4.3" height="4.3" fill="#fccfce"/>
<rect x="67.1" y="500.2" width="4.3" height="4.3" fill="#fcd1d0"/>
<rect x="71.1" y="500.2" width="4.3" height="4.3" fill="#fcd4d3"/>
<rect x="75.1" y="500.2" width="4.3" height="4.3" fill="#fdd7d6"/>
<rect x="79.1" y="500.2" width="4.3" height="4.3" fill="#fddad9"/>
<rect x="83.1" y="500.2" width="4.3" height="4.3" fill="#fddddc"/>
<rect x="87.1" y="500.2" width="4.3" height="4.3" fill="#fde0df"/>
<rect x="91.1" y="500.2" width="4.3" height="4.3" fill="#fde3e2"/>
<rect x="95.1" y="500.2" width="4.3" height="4.3" fill="#fde5e5"/>
<rect x="99.1" y="500.2" width="4.3" height="4.3" fill="#fee7e7"/>
<rect x="103.1" y="500.2" width="4.3" height="4.3" fill="#fee8e7"/>
<rect x="107.1" y="500.2" width="4.3" height="4.3" fill="#fee8e7"/>
<rect x="111.1" y="500.2" width="4.3" height="4.3" fill="#fee8e7"/>
<rect x="115.1" y="500.2" width="4.3" height="4.3" fill="#fee8e7"/>
<rect x="119.1" y="500.2" width="4.3" height="4.3" fill="#fee8e7"/>
<rect x="123.1" y="500.2" width="4.3" height="4.3" fill="#fee8e7"/>
<rect x="127.1" y="500.2" width="4.3" height="4.3" fill="#fee7e7"/>
<rect x="131.1" y="500.2" width="4.3" height="4.3" fill="#fee6e6"/>
<rect x="135.1" y="500.2" width="4.3" height="4.3" fill="#fde5e5"/>
<rect x="139.1" y="500.2" width="4.3" height="4.3" fill="#fde4e3"/>
<rect x="143.1" y="500.2" width="4.3" height="4.3" fill="#fde0df"/>
<rect x="147.1" y="500.2" width="4.3" height="4.3" fill="#fdd9d8"/>
<rect x="151.1" y="500.2" width="4.3" height="4.3" fill="#fcd3d2"/>
<rect x="155.1" y="500.2" width="4.3" height="4.3" fill="#fccecd"/>
<rect x="159.1" y="500.2" width="4.3" height="4.3" fill="#fccdcc"/>
<rect x="163.1" y="500.2" width="4.3" height="4.3" fill="#fcd0cf"/>
<rect x="167.1" y="500.2" width="4.3" height="4.3" fill="#fdd5d4"/>
<rect x="171.1" y="500.2" width="4.3" height="4.3" fill="#fddcdb"/>
<rect x="175.1" y="500.2" width="4.3" height="4.3" fill="#fde2e1"/>
<rect x="179.1" y="500.2" width="4.3" height="4.3" fill="#fee7e6"/>
<rect x="183.1" y="500.2" width="4.3" height="4.3" fill="#feebeb"/>
<rect x="187.1" y="500.2" width="4.3" height="4.3" fill="#fef0f0"/>
<rect x="191.1" y="500.2" width="4.3" height="4.3" fill="#fef6f5"/>
<rect x="195.1" y="500.2" width="4.3" height="4.3" fill="#fffdfd"/>
<rect x="199.1" y="500.2" width="4.3" height="4.3" fill="#ffffff"/>
<rect x="203.1" y="500.2" width="4.3" height="4.3" fill="#ffffff"/>
<rect x="23.1" y="504.2" width="4.3" height="4.3" fill="#ffffff"/>
<rect x="27.1" y="504.2" width="4.3" height="4.3" fill="#ffffff"/>
<rect x="31.1" y="504.2" width="4.3" height="4.3" fill="#feeeee"/>
<rect x="35.1" y="504.2" width="4.3" height="4.3" fill="#fee6e5"/>
<rect x="39.1" y="504.2" width="4.3" height="4.3" fill="#fddddc"/>
<rect x="43.1" y="504.2" width="4.3" height="4.3" fill="#fcd4d3"/>
<rect x="47.1" y="504.2" width="4.3" height="4.3" fill="#fcd2d1"/>
<rect x="51.1" y="504.2" width="4.3" height="4.3" fill="#fcd3d2"/>
<rect x="55.1" y="504.2" width="4.3" height="4.3" fill="#fcd4d3"/>
<rect x="59.1" y="504.2" width="4.3" height="4.3" fill="#fdd6d5"/>
<rect x="63.1" y="504.2" width="4.3" height="4.3" fill="#fdd8d7"/>
<rect x="67.1" y="504.2" width="4.3" height="4.3" fill="#fddad9"/>
<rect x="71.1" y="504.2" width="4.3" height="4.3" fill="#fddddc"/>
<rect x="75.1" y="504.2" width="4.3" height="4.3" fill="#fddfde"/>
<rect x="79.1" y="504.2" width="4.3" height="4.3" fill="#fde1e1"/>
<rect x="83.1" y="504.2" width="4.3" height="4.3" fill="#fde4e3"/>
<rect x="87.1" y="504.2" width="4.3" height="4.3" fill="#fee6e5"/>
<rect x="91.1" y="504.2" width="4.3" height="4.3" fill="#fee8e8"/>
<rect x="95.1" y="504.2" width="4.3" height="4.3" fill="#feeaea"/>
<rect x="99.1" y="504.2" width="4.3" height="4.3" fill="#feecec"/>
<rect x="103.1" y="504.2" width="4.3" height="4.3" fill="#feecec"/>
<rect x="107.1" y="504.2" width="4.3" height="4.3" fill="#feecec"/>
<rect x="111.1" y="504.2" width="4.3" height="4.3" fill="#feecec"/>
<rect x="115.1" y="504.2" width="4.3" height="4.3" fill="#feecec"/>
<rect x="119.1" y="504.2" width="4.3" height="4.3" fill="#feecec"/>
<rect x="123.1" y="504.2" width="4.3" height="4.3" fill="#feecec"/>
<rect x="127.1" y="504.2" width="4.3" height="4.3" fill="#feeceb"/>
<rect x="131.1" y="504.2" width="4.3" height="4.3" fill="#feebeb"/>
<rect x="135.1" y="504.2" width="4.3" height="4.3" fill="#feeaea"/>
<rect x="139.1" y="504.2" width="4.3" height="4.3" fill="#fee9e9"/>
<rect x="143.1" y="504.2" width="4.3" height="4.3" fill="#fee6e5"/>
<rect x="147.1" y="504.2" width="4.3" height="4.3" fill="#fde1e0"/>
<rect x="151.1" y="504.2" width="4.3" height="4.3" fill="#fddbdb"/>
<rect x="155.1" y="504.2" width="4.3" height="4.3" fill="#fdd8d7"/>
<rect x="159.1" y="504.2" width="4.3" height="4.3" fill="#fdd7d6"/>
<rect x="163.1" y="504.2" width="4.3" height="4.3" fill="#fdd9d8"/>
<rect x="167.1" y="504.2" width="4.3" height="4.3" fill="#fddddd"/>
<rect x="171.1" y="504.2" width="4.3" height="4.3" fill="#fde3e2"/>
<rect x="175.1" y="504.2" width="4.3" height="4.3" fill="#fee8e7"/>
<rect x="179.1" y="504.2" width="4.3" height="4.3" fill="#feebeb"/>
<rect x="183.1" y="504.2" width="4.3" height="4.3" fill="#feefef"/>
<rect x="187.1" y="504.2" width="4.3" height="4.3" fill="#fef3f3"/>
<rect x="191.1" y="504.2" width="4.3" height="4.3" fill="#fff7f7"/>
<rect x="195.1" y="504.2" width="4.3" height="4.3" fill="#fffefe"/>
<rect x="199.1" y="504.2" width="4.3" height="4.3" fill="#ffffff"/>
<rect x="203.1" y="504.2" width="4.3" height="4.3" fill="#ffffff"/>
<rect x="23.1" y="508.2" width="4.3" height="4.3" fill="#ffffff"/>
<rect x="27.1" y="508.2" width="4.3" height="4.3" fill="#ffffff"/>
<rect x="31.1" y="508.2" width="4.3" height="4.3" fill="#fef3f3"/>
<rect x="35.1" y="508.2" width="4.3" height="4.3" fill="#feecec"/>
<rect x="39.1" y="508.2" width="4.3" height="4.3" fill="#fee6e5"/>
<rect x="43.1" y="508.2" width="4.3" height="4.3" fill="#fde0df"/>
<rect x="47.1" y="508.2" width="4.3" height="4.3" fill="#fddedd"/>
<rect x="51.1" y="508.2" width="4.3" height="4.3" fill="#fddfde"/>
<rect x="55.1" y="508.2" width="4.3" height="4.3" fill="#fde0df"/>
<rect x="59.1" y="508.2" width="4.3" height="4.3" fill="#fde1e1"/>
<rect x="63.1" y="508.2" width="4.3" height="4.3" fill="#fde3e2"/>
<rect x="67.1" y="508.2" width="4.3" height="4.3" fill="#fde4e4"/>
<rect x="71.1" y="508.2" width="4.3" height="4.3" fill="#fee6e5"/>
<rect x="75.1" y="508.2" width="4.3" height="4.3" fill="#fee8e7"/>
<rect x="79.1" y="508.2" width="4.3" height="4.3" fill="#fee9e9"/>
<rect x="83.1" y="508.2" width="4.3" height="4.3" fill="#feebeb"/>
<rect x="87.1" y="508.2" width="4.3" height="4.3" fill="#feedec"/>
<rect x="91.1" y="508.2" width="4.3" height="4.3" fill="#feeeee"/>
<rect x="95.1" y="508.2" width="4.3" height="4.3" fill="#fef0f0"/>
<rect x="99.1" y="508.2" width="4.3" height="4.3" fill="#fef1f1"/>
<rect x="103.1" y="508.2" width="4.3" height="4.3" fill="#fef1f1"/>
<rect x="107.1" y="508.2" width="4.3" height="4.3" fill="#fef1f1"/>
<rect x="111.1" y="508.2" width="4.3" height="4.3" fill="#fef1f1"/>
<rect x="115.1" y="508.2" width="4.3" height="4.3" fill="#fef1f1"/>
<rect x="119.1" y="508.2" width="4.3" height="4.3" fill="#fef1f1"/>
<rect x="123.1" y="508.2" width="4.3" height="4.3" fill="#fef1f1"/>
<rect x="127.1" y="508.2" width="4.3" height="4.3" fill="#fef1f1"/>
<rect x="131.1" y="508.2" width="4.3" height="4.3" fill="#fef1f0"/>
<rect x="135.1" y="508.2" width="4.3" height="4.3" fill="#fef0f0"/>
<rect x="139.1" y="508.2" width="4.3" height="4.3" fill="#feefef"/>
<rect x="143.1" y="508.2" width="4.3" height="4.3" fill="#feedec"/>
<rect x="147.1" y="508.2" width="4.3" height="4.3" fill="#fee9e8"/>
<rect x="151.1" y="508.2" width="4.3" height="4.3" fill="#fde5e4"/>
<rect x="155.1" y="508.2" width="4.3" height="4.3" fill="#fde2e2"/>
<rect x="159.1" y="508.2" width="4.3" height="4.3" fill="#fde2e1"/>
<rect x="163.1" y="508.2" width="4.3" height="4.3" fill="#fde4e3"/>
<rect x="167.1" y="508.2" width="4.3" height="4.3" fill="#fee7e6"/>
<rect x="171.1" y="508.2" width="4.3" height="4.3" fill="#feeaea"/>
<rect x="175.1" y="508.2" width="4.3" height="4.3" fill="#feeeee"/>
<rect x="179.1" y="508.2" width="4.3" height="4.3" fill="#fef1f0"/>
<rect x="183.1" y="508.2" width="4.3" height="4.3" fill="#fef3f3"/>
<rect x="187.1" y="508.2" width="4.3" height="4.3" fill="#fef6f6"/>
<rect x="191.1" y="508.2" width="4.3" height="4.3" fill="#fffaf9"/>
<rect x="195.1" y="508.2" width="4.3" height="4.3" fill="#fffefe"/>
<rect x="199.1" y="508.2" width="4.3" height="4.3" fill="#ffffff"/>
<rect x="203.1" y="508.2" width="4.3" height="4.3" fill="#ffffff"/>
<rect x="23.1" y="512.2" width="4.3" height="4.3" fill="#ffffff"/>
<rect x="27.1" y="512.2" width="4.3" height="4.3" fill="#ffffff"/>
<rect x="31.1" y="512.2" width="4.3" height="4.3" fill="#fff8f8"/>
<rect x="35.1" y="512.2" width="4.3" height="4.3" fill="#fef4f4"/>
<rect x="39.1" y="512.2" width="4.3" height="4.3" fill="#fef0f0"/>
<rect x="43.1" y="512.2" width="4.3" height="4.3" fill="#feecec"/>
<rect x="47.1" y="512.2" width="4.3" height="4.3" fill="#feebeb"/>
<rect x="51.1" y="512.2" width="4.3" height="4.3" fill="#feebeb"/>
<rect x="55.1" y="512.2" width="4.3" height="4.3" fill="#feecec"/>
<rect x="59.1" y="512.2" width="4.3" height="4.3" fill="#feeded"/>
<rect x="63.1" y="512.2" width="4.3" height="4.3" fill="#feeeee"/>
<rect x="67.1" y="512.2" width="4.3" height="4.3" fill="#feefee"/>
<rect x="71.1" y="512.2" width="4.3" height="4.3" fill="#fef0ef"/>
<rect x="75.1" y="512.2" width="4.3" height="4.3" fill="#fef1f1"/>
<rect x="79.1" y="512.2" width="4.3" height="4.3" fill="#fef2f2"/>
<rect x="83.1" y="512.2" width="4.3" height="4.3" fill="#fef3f3"/>
<rect x="87.1" y="512.2" width="4.3" height="4.3" fill="#fef4f4"/>
<rect x="91.1" y="512.2" width="4.3" height="4.3" fill="#fef5f5"/>
<rect x="95.1" y="512.2" width="4.3" height="4.3" fill="#fef6f6"/>
<rect x="99.1" y="512.2" width="4.3" height="4.3" fill="#fff7f6"/>
<rect x="103.1" y="512.2" width="4.3" height="4.3" fill="#fff7f7"/>
<rect x="107.1" y="512.2" width="4.3" height="4.3" fill="#fff7f7"/>
<rect x="111.1" y="512.2" width="4.3" height="4.3" fill="#fff7f7"/>
<rect x="115.1" y="512.2" width="4.3" height="4.3" fill="#fff7f7"/>
<rect x="119.1" y="512.2" width="4.3" height="4.3" fill="#fff7f7"/>
<rect x="123.1" y="512.2" width="4.3" height="4.3" fill="#fff7f7"/>
<rect x="127.1" y="512.2" width="4.3" height="4.3" fill="#fff7f6"/>
<rect x="131.1" y="512.2" width="4.3" height="4.3" fill="#fef6f6"/>
<rect x="135.1" y="512.2" width="4.3" height="4.3" fill="#fef6f6"/>
<rect x="139.1" y="512.2" width="4.3" height="4.3" fill="#fef5f5"/>
<rect x="143.1" y="512.2" width="4.3" height="4.3" fill="#fef4f4"/>
<rect x="147.1" y="512.2" width="4.3" height="4.3" fill="#fef2f1"/>
<rect x="151.1" y="512.2" width="4.3" height="4.3" fill="#feefef"/>
<rect x="155.1" y="512.2" width="4.3" height="4.3" fill="#feeeed"/>
<rect x="159.1" y="512.2" width="4.3" height="4.3" fill="#feeded"/>
<rect x="163.1" y="512.2" width="4.3" height="4.3" fill="#feeeee"/>
<rect x="167.1" y="512.2" width="4.3" height="4.3" fill="#fef0f0"/>
<rect x="171.1" y="512.2" width="4.3" height="4.3" fill="#fef2f2"/>
<rect x="175.1" y="512.2" width="4.3" height="4.3" fill="#fef5f4"/>
<rect x="179.1" y="512.2" width="4.3" height="4.3" fill="#fef6f6"/>
<rect x="183.1" y="512.2" width="4.3" height="4.3" fill="#fff8f8"/>
<rect x="187.1" y="512.2" width="4.3" height="4.3" fill="#fffafa"/>
<rect x="191.1" y="512.2" width="4.3" height="4.3" fill="#fffcfc"/>
<rect x="195.1" y="512.2" width="4.3" height="4.3" fill="#fffefe"/>
<rect x="199.1" y="512.2" width="4.3" height="4.3" fill="#ffffff"/>
<rect x="203.1" y="512.2" width="4.3" height="4.3" fill="#ffffff"/>
<rect x="23.1" y="516.2" width="4.3" height="4.3" fill="#ffffff"/>
<rect x="27.1" y="516.2" width="4.3" height="4.3" fill="#ffffff"/>
<rect x="31.1" y="516.2" width="4.3" height="4.3" fill="#fffdfd"/>
<rect x="35.1" y="516.2" width="4.3" height="4.3" fill="#fffbfb"/>
<rect x="39.1" y="516.2" width="4.3" height="4.3" fill="#fffafa"/>
<rect x="43.1" y="516.2" width="4.3" height="4.3" fill="#fff9f9"/>
<rect x="47.1" y="516.2" width="4.3" height="4.3" fill="#fff8f8"/>
<rect x="51.1" y="516.2" width="4.3" height="4.3" fill="#fff8f8"/>
<rect x="55.1" y="516.2" width="4.3" height="4.3" fill="#fff9f9"/>
<rect x="59.1" y="516.2" width="4.3" height="4.3" fill="#fff9f9"/>
<rect x="63.1" y="516.2" width="4.3" height="4.3" fill="#fff9f9"/>
<rect x="67.1" y="516.2" width="4.3" height="4.3" fill="#fffaf9"/>
<rect x="71.1" y="516.2" width="4.3" height="4.3" fill="#fffafa"/>
<rect x="75.1" y="516.2" width="4.3" height="4.3" fill="#fffafa"/>
<rect x="79.1" y="516.2" width="4.3" height="4.3" fill="#fffbfb"/>
<rect x="83.1" y="516.2" width="4.3" height="4.3" fill="#fffbfb"/>
<rect x="87.1" y="516.2" width="4.3" height="4.3" fill="#fffbfb"/>
<rect x="91.1" y="516.2" width="4.3" height="4.3" fill="#fffcfc"/>
<rect x="95.1" y="516.2" width="4.3" height="4.3" fill="#fffcfc"/>
<rect x="99.1" y="516.2" width="4.3" height="4.3" fill="#fffcfc"/>
<rect x="103.1" y="516.2" width="4.3" height="4.3" fill="#fffcfc"/>
<rect x="107.1" y="516.2" width="4.3" height="4.3" fill="#fffcfc"/>
<rect x="111.1" y="516.2" width="4.3" height="4.3" fill="#fffcfc"/>
<rect x="115.1" y="516.2" width="4.3" height="4.3" fill="#fffcfc"/>
<rect x="119.1" y="516.2" width="4.3" height="4.3" fill="#fffcfc"/>
<rect x="123.1" y="516.2" width="4.3" height="4.3" fill="#fffcfc"/>
<rect x="127.1" y="516.2" width="4.3" height="4.3" fill="#fffcfc"/>
<rect x="131.1" y="516.2" width="4.3" height="4.3" fill="#fffcfc"/>
<rect x="135.1" y="516.2" width="4.3" height="4.3" fill="#fffcfc"/>
<rect x="139.1" y="516.2" width="4.3" height="4.3" fill="#fffcfc"/>
<rect x="143.1" y="516.2" width="4.3" height="4.3" fill="#fffbfb"/>
<rect x="147.1" y="516.2" width="4.3" height="4.3" fill="#fffbfa"/>
<rect x="151.1" y="516.2" width="4.3" height="4.3" fill="#fffafa"/>
<rect x="155.1" y="516.2" width="4.3" height="4.3" fill="#fff9f9"/>
<rect x="159.1" y="516.2" width="4.3" height="4.3" fill="#fff9f9"/>
<rect x="163.1" y="516.2" width="4.3" height="4.3" fill="#fff9f9"/>
<rect x="167.1" y="516.2" width="4.3" height="4.3" fill="#fffafa"/>
<rect x="171.1" y="516.2" width="4.3" height="4.3" fill="#fffbfb"/>
<rect x="175.1" y="516.2" width="4.3" height="4.3" fill="#fffcfb"/>
<rect x="179.1" y="516.2" width="4.3" height="4.3" fill="#fffcfc"/>
<rect x="183.1" y="516.2" width="4.3" height="4.3" fill="#fffdfd"/>
<rect x="187.1" y="516.2" width="4.3" height="4.3" fill="#fffdfd"/>
<rect x="191.1" y="516.2" width="4.3" height="4.3" fill="#fffefe"/>
<rect x="195.1" y="516.2" width="4.3" height="4.3" fill="#ffffff"/>
<rect x="199.1" y="516.2" width="4.3" height="4.3" fill="#ffffff"/>
<rect x="203.1" y="516.2" width="4.3" height="4.3" fill="#ffffff"/>
<rect x="23.1" y="520.2" width="4.3" height="4.3" fill="#ffffff"/>
<rect x="27.1" y="520.2" width="4.3" height="4.3" fill="#ffffff"/>
<rect x="31.1" y="520.2" width="4.3" height="4.3" fill="#ffffff"/>
<rect x="35.1" y="520.2" width="4.3" height="4.3" fill="#ffffff"/>
<rect x="39.1" y="520.2" width="4.3" height="4.3" fill="#ffffff"/>
<rect x="43.1" y="520.2" width="4.3" height="4.3" fill="#ffffff"/>
<rect x="47.1" y="520.2" width="4.3" height="4.3" fill="#ffffff"/>
<rect x="51.1" y="520.2" width="4.3" height="4.3" fill="#ffffff"/>
<rect x="55.1" y="520.2" width="4.3" height="4.3" fill="#ffffff"/>
<rect x="59.1" y="520.2" width="4.3" height="4.3" fill="#ffffff"/>
<rect x="63.1" y="520.2" width="4.3" height="4.3" fill="#ffffff"/>
<rect x="67.1" y="520.2" width="4.3" height="4.3" fill="#ffffff"/>
<rect x="71.1" y="520.2" width="4.3" height="4.3" fill="#ffffff"/>
<rect x="75.1" y="520.2" width="4.3" height="4.3" fill="#ffffff"/>
<rect x="79.1" y="520.2" width="4.3" height="4.3" fill="#ffffff"/>
<rect x="83.1" y="520.2" width="4.3" height="4.3" fill="#ffffff"/>
<rect x="87.1" y="520.2" width="4.3" height="4.3" fill="#ffffff"/>
<rect x="91.1" y="520.2" width="4.3" height="4.3" fill="#ffffff"/>
<rect x="95.1" y="520.2" width="4.3" height="4.3" fill="#ffffff"/>
<rect x="99.1" y="520.2" width="4.3" height="4.3" fill="#ffffff"/>
<rect x="103.1" y="520.2" width="4.3" height="4.3" fill="#ffffff"/>
<rect x="107.1" y="520.2" width="4.3" height="4.3" fill="#ffffff"/>
<rect x="111.1" y="520.2" width="4.3" height="4.3" fill="#ffffff"/>
<rect x="115.1" y="520.2" width="4.3" height="4.3" fill="#ffffff"/>
<rect x="119.1" y="520.2" width="4.3" height="4.3" fill="#ffffff"/>
<rect x="123.1" y="520.2" width="4.3" height="4.3" fill="#ffffff"/>
<rect x="127.1" y="520.2" width="4.3" height="4.3" fill="#ffffff"/>
<rect x="131.1" y="520.2" width="4.3" height="4.3" fill="#ffffff"/>
<rect x="135.1" y="520.2" width="4.3" height="4.3" fill="#ffffff"/>
<rect x="139.1" y="520.2" width="4.3" height="4.3" fill="#ffffff"/>
<rect x="143.1" y="520.2" width="4.3" height="4.3" fill="#ffffff"/>
<rect x="147.1" y="520.2" width="4.3" height="4.3" fill="#ffffff"/>
<rect x="151.1" y="520.2" width="4.3" height="4.3" fill="#ffffff"/>
<rect x="155.1" y="520.2" width="4.3" height="4.3" fill="#ffffff"/>
<rect x="159.1" y="520.2" width="4.3" height="4.3" fill="#ffffff"/>
<rect x="163.1" y="520.2" width="4.3" height="4.3" fill="#ffffff"/>
<rect x="167.1" y="520.2" width="4.3" height="4.3" fill="#ffffff"/>
<rect x="171.1" y="520.2" width="4.3" height="4.3" fill="#ffffff"/>
<rect x="175.1" y="520.2" width="4.3" height="4.3" fill="#ffffff"/>
<rect x="179.1" y="520.2" width="4.3" height="4.3" fill="#ffffff"/>
<rect x="183.1" y="520.2" width="4.3" height="4.3" fill="#ffffff"/>
<rect x="187.1" y="520.2" width="4.3" height="4.3" fill="#ffffff"/>
<rect x="191.1" y="520.2" width="4.3" height="4.3" fill="#ffffff"/>
<rect x="195.1" y="520.2" width="4.3" height="4.3" fill="#ffffff"/>
<rect x="199.1" y="520.2" width="4.3" height="4.3" fill="#ffffff"/>
<rect x="203.1" y="520.2" width="4.3" height="4.3" fill="#ffffff"/>
<rect x="23.1" y="524.2" width="4.3" height="4.3" fill="#ffffff"/>
<rect x="27.1" y="524.2" width="4.3" height="4.3" fill="#ffffff"/>
<rect x="31.1" y="524.2" width="4.3" height="4.3" fill="#ffffff"/>
<rect x="35.1" y="524.2" width="4.3" height="4.3" fill="#ffffff"/>
<rect x="39.1" y="524.2" width="4.3" height="4.3" fill="#ffffff"/>
<rect x="43.1" y="524.2" width="4.3" height="4.3" fill="#ffffff"/>
<rect x="47.1" y="524.2" width="4.3" height="4.3" fill="#ffffff"/>
<rect x="51.1" y="524.2" width="4.3" height="4.3" fill="#ffffff"/>
<rect x="55.1" y="524.2" width="4.3" height="4.3" fill="#ffffff"/>
<rect x="59.1" y="524.2" width="4.3" height="4.3" fill="#ffffff"/>
<rect x="63.1" y="524.2" width="4.3" height="4.3" fill="#ffffff"/>
<rect x="67.1" y="524.2" width="4.3" height="4.3" fill="#ffffff"/>
<rect x="71.1" y="524.2" width="4.3" height="4.3" fill="#ffffff"/>
<rect x="75.1" y="524.2" width="4.3" height="4.3" fill="#ffffff"/>
<rect x="79.1" y="524.2" width="4.3" height="4.3" fill="#ffffff"/>
<rect x="83.1" y="524.2" width="4.3" height="4.3" fill="#ffffff"/>
<rect x="87.1" y="524.2" width="4.3" height="4.3" fill="#ffffff"/>
<rect x="91.1" y="524.2" width="4.3" height="4.3" fill="#ffffff"/>
<rect x="95.1" y="524.2" width="4.3" height="4.3" fill="#ffffff"/>
<rect x="99.1" y="524.2" width="4.3" height="4.3" fill="#ffffff"/>
<rect x="103.1" y="524.2" width="4.3" height="4.3" fill="#ffffff"/>
<rect x="107.1" y="524.2" width="4.3" height="4.3" fill="#ffffff"/>
<rect x="111.1" y="524.2" width="4.3" height="4.3" fill="#ffffff"/>
<rect x="115.1" y="524.2" width="4.3" height="4.3" fill="#ffffff"/>
<rect x="119.1" y="524.2" width="4.3" height="4.3" fill="#ffffff"/>
<rect x="123.1" y="524.2" width="4.3" height="4.3" fill="#ffffff"/>
<rect x="127.1" y="524.2" width="4.3" height="4.3" fill="#ffffff"/>
<rect x="131.1" y="524.2" width="4.3" height="4.3" fill="#ffffff"/>
<rect x="135.1" y="524.2" width="4.3" height="4.3" fill="#ffffff"/>
<rect x="139.1" y="524.2" width="4.3" height="4.3" fill="#ffffff"/>
<rect x="143.1" y="524.2" width="4.3" height="4.3" fill="#ffffff"/>
<rect x="147.1" y="524.2" width="4.3" height="4.3" fill="#ffffff"/>
<rect x="151.1" y="524.2" width="4.3" height="4.3" fill="#ffffff"/>
<rect x="155.1" y="524.2" width="4.3" height="4.3" fill="#ffffff"/>
<rect x="159.1" y="524.2" width="4.3" height="4.3" fill="#ffffff"/>
<rect x="163.1" y="524.2" width="4.3" height="4.3" fill="#ffffff"/>
<rect x="167.1" y="524.2" width="4.3" height="4.3" fill="#ffffff"/>
<rect x="171.1" y="524.2" width="4.3" height="4.3" fill="#ffffff"/>
<rect x="175.1" y="524.2" width="4.3" height="4.3" fill="#ffffff"/>
<rect x="179.1" y="524.2" width="4.3" height="4.3" fill="#ffffff"/>
<rect x="183.1" y="524.2" width="4.3" height="4.3" fill="#ffffff"/>
<rect x="187.1" y="524.2" width="4.3" height="4.3" fill="#ffffff"/>
<rect x="191.1" y="524.2" width="4.3" height="4.3" fill="#ffffff"/>
<rect x="195.1" y="524.2" width="4.3" height="4.3" fill="#ffffff"/>
<rect x="199.1" y="524.2" width="4.3" height="4.3" fill="#ffffff"/>
<rect x="203.1" y="524.2" width="4.3" height="4.3" fill="#ffffff"/>
</g>
<path d="M32.9,329.9 32.8,332.1 32.8,335.6 32.8,339.4 32.7,343.2 32.7,347.0 32.7,350.9 32.7,354.7 32.7,358.5 32.7,362.3 32.7,366.1 32.7,369.9 32.7,373.7 32.7,377.5 32.8,381.3 32.9,383.2 32.9,387.0 33.0,390.9 33.2,394.7 33.3,398.5 33.4,402.3 33.5,406.1 33.6,409.9 33.7,413.7 33.8,417.5 33.8,419.4 33.9,423.2 34.0,427.1 34.1,430.9 34.2,434.7 34.3,438.5 34.5,442.3 34.6,446.1 34.7,448.5 34.8,451.8 35.0,455.6 35.1,459.4 35.3,463.2 35.5,467.1 35.6,470.1 35.8,472.8 36.1,476.6 36.5,480.4 36.7,482.3 37.5,485.8 38.3,488.0 39.2,489.9 40.2,491.8 41.2,493.6 42.2,494.8 43.1,495.9 45.0,497.4 45.9,498.0 47.8,498.4 49.7,498.4 51.5,498.2 53.4,498.0 55.3,497.7 56.2,497.5 58.1,497.2 59.9,496.8 61.8,496.3 63.7,495.8 64.6,495.6 66.5,495.1 68.3,494.6 70.2,494.0 71.2,493.7 73.0,493.0 74.9,492.1 75.8,491.7 77.7,490.7 79.0,489.9 80.5,489.0 82.1,488.0 83.3,487.2 85.0,486.1 86.1,485.4 87.7,484.2 88.9,483.2 89.9,482.3 91.7,480.5 92.6,479.6 93.9,478.5 95.4,477.1 96.4,476.3 98.2,475.0 99.2,474.4 101.1,473.5 102.9,473.0 104.8,472.8 105.7,472.7 107.6,472.7 109.5,472.6 111.3,472.5 113.2,472.4 115.1,472.3 116.9,472.2 118.8,472.2 120.7,472.2 122.5,472.1 124.4,472.2 126.3,472.4 128.2,472.7 129.1,472.9 131.0,473.4 132.8,473.9 134.7,474.6 135.6,474.9 137.5,475.7 139.4,476.6 140.3,477.0 142.2,478.2 143.1,479.3 144.0,480.8 145.0,482.6 145.9,484.4 146.8,486.1 148.0,488.0 149.3,489.9 150.6,491.5 151.5,492.4 153.1,493.7 154.3,494.5 156.2,495.4 157.1,495.7 159.0,496.1 160.9,496.1 162.7,495.8 163.7,495.5 165.5,494.9 167.4,493.9 168.3,493.2 170.1,491.8 171.1,490.8 172.1,489.7 173.3,488.0 174.4,486.1 175.3,484.2 176.0,482.3 176.7,479.6 177.6,476.6 178.2,474.7 178.8,472.8 179.5,470.0 180.3,467.1 180.7,465.2 181.4,461.3 181.7,459.4 182.2,455.6 182.4,453.7 182.7,449.9 182.9,446.1 182.9,442.3 182.9,438.5 182.8,434.7 182.8,430.9 182.8,427.1 182.7,423.2 182.7,419.4 182.7,415.6 182.6,411.8 182.6,408.0 182.5,404.2 182.5,400.4 182.4,396.6 182.3,393.0 182.3,390.9 182.2,387.0 182.2,383.2 182.1,379.4 182.1,375.6 182.0,371.8 182.0,368.0 182.1,364.2 182.3,360.4 182.5,358.5 182.9,354.7 183.3,351.6 183.7,348.9 184.2,345.7 184.7,343.2 185.2,340.7 185.8,337.5 186.2,335.6 187.0,332.0 187.5,329.9 M36.1,329.9 36.0,333.7 36.0,337.5 35.9,341.3 35.8,345.1 35.8,348.9 35.8,352.8 35.8,356.6 35.8,360.4 35.8,364.2 35.8,368.0 35.8,371.8 35.9,375.6 36.0,379.4 36.1,383.2 36.3,387.0 36.4,390.9 36.6,393.4 36.7,396.6 36.9,400.4 37.1,404.2 37.3,408.0 37.5,411.8 37.5,413.7 37.7,417.5 37.9,421.3 38.1,425.1 38.2,429.0 38.4,432.8 38.5,434.7 38.7,438.5 38.9,442.3 39.1,446.1 39.4,449.9 39.4,451.8 39.6,455.6 39.8,459.4 40.0,463.2 40.3,467.1 40.4,469.0 40.7,472.8 41.1,476.6 41.3,478.5 41.8,482.3 42.3,484.2 43.1,486.6 44.1,488.3 45.4,489.9 46.9,490.8 48.7,490.9 50.6,490.8 52.5,490.5 54.3,490.1 55.3,489.9 57.1,489.3 59.0,488.6 60.5,488.0 61.8,487.4 63.7,486.5 64.6,486.0 66.5,484.9 67.8,484.2 69.3,483.1 70.3,482.3 72.1,480.7 73.0,479.7 74.3,478.5 75.8,476.8 76.8,475.8 77.9,474.7 79.6,472.9 80.5,472.0 81.6,470.9 83.3,469.4 84.2,468.6 86.1,467.1 87.0,466.4 88.6,465.2 89.8,464.1 91.0,463.2 92.6,462.0 93.6,461.3 95.4,460.0 96.4,459.4 98.2,458.4 100.1,457.5 101.1,457.2 102.9,456.6 104.8,456.2 106.7,455.9 108.1,455.6 109.5,455.4 111.3,455.1 113.2,454.8 115.1,454.5 116.9,454.3 118.8,454.1 120.7,454.0 122.5,454.0 124.4,454.0 126.3,454.2 128.2,454.4 130.0,454.7 131.9,455.1 133.8,455.6 134.7,455.8 136.6,456.4 138.4,457.0 139.9,457.5 141.2,458.1 143.1,459.4 144.0,460.7 145.0,462.2 145.9,464.0 146.8,466.1 147.8,468.3 148.7,470.8 149.5,472.8 150.2,474.7 151.0,476.6 151.8,478.5 152.6,480.4 153.6,482.3 154.9,484.2 156.2,485.5 157.1,486.2 159.0,486.9 160.9,486.9 162.7,486.4 163.7,485.8 165.5,484.2 166.5,482.9 167.4,481.1 168.3,478.8 169.1,476.6 169.8,474.7 170.3,472.8 171.1,469.5 171.7,467.1 172.1,465.2 172.8,461.3 173.0,459.4 173.5,455.6 173.9,451.8 174.1,449.9 174.3,446.1 174.3,442.3 174.4,438.5 174.4,434.7 174.5,430.9 174.5,427.1 174.5,423.2 174.6,419.4 174.6,415.6 174.6,411.8 174.6,408.0 174.6,404.2 174.6,400.4 174.6,396.6 174.6,392.8 174.6,389.0 174.6,385.1 174.6,381.3 174.6,377.5 174.6,373.7 174.6,369.9 174.6,366.1 174.7,362.3 174.8,358.5 174.9,356.6 175.2,352.8 175.6,348.9 175.8,347.0 176.3,343.2 176.7,340.3 177.2,337.5 177.7,334.8 178.2,331.8 M39.1,329.9 38.9,333.7 38.8,337.5 38.7,341.3 38.7,345.1 38.6,348.9 38.6,352.8 38.6,356.6 38.6,360.4 38.6,364.2 38.6,368.0 38.6,371.8 38.7,375.6 38.8,379.4 39.0,383.2 39.2,387.0 39.4,390.1 39.5,392.8 39.7,396.6 39.9,400.4 40.1,404.2 40.3,407.9 40.4,409.9 40.6,413.7 40.7,417.5 40.9,421.3 41.0,425.1 41.2,429.0 41.3,430.9 41.5,434.7 41.7,438.5 41.9,442.3 42.1,446.1 42.3,448.0 42.5,451.8 42.7,455.6 43.0,459.4 43.1,461.3 43.5,465.2 43.8,469.0 44.1,470.9 44.7,474.7 45.0,476.6 45.9,479.8 46.9,481.7 48.7,482.2 50.6,481.8 52.5,480.9 53.4,480.3 55.3,478.9 56.2,478.1 57.8,476.6 59.0,475.3 59.9,474.3 61.3,472.8 62.7,471.1 63.7,470.1 64.7,469.0 66.5,467.2 67.4,466.3 68.6,465.2 70.2,463.5 71.2,462.6 72.4,461.3 74.0,459.8 74.9,458.9 76.4,457.5 77.7,456.4 78.6,455.6 80.5,454.2 81.4,453.5 83.3,452.2 84.2,451.6 86.1,450.4 87.0,449.9 88.9,448.7 90.0,448.0 91.7,446.9 93.0,446.1 94.5,445.2 96.3,444.2 97.3,443.6 99.2,442.7 100.2,442.3 102.0,441.6 103.9,441.1 105.7,440.6 106.7,440.4 108.5,440.0 110.4,439.6 112.3,439.2 114.1,438.9 116.0,438.7 117.9,438.5 118.8,438.4 120.7,438.3 122.5,438.3 124.4,438.4 126.3,438.5 127.2,438.5 129.1,438.7 131.0,438.9 132.8,439.2 134.7,439.5 136.6,439.9 138.4,440.3 139.4,440.5 141.2,441.0 143.1,441.9 144.0,442.6 145.4,444.2 146.7,446.1 147.8,448.0 148.7,449.9 149.5,451.8 150.3,453.7 151.1,455.6 151.8,457.5 152.5,459.4 153.4,461.8 154.3,464.1 155.2,466.2 156.2,468.0 157.1,469.4 158.5,470.9 159.9,471.5 161.6,470.9 162.7,469.7 163.7,468.3 164.6,466.4 165.5,463.9 166.3,461.3 166.8,459.4 167.4,456.7 167.9,453.7 168.3,450.6 168.6,448.0 168.9,444.2 169.0,440.4 169.2,436.6 169.3,434.7 169.4,430.9 169.5,427.1 169.6,423.2 169.7,419.4 169.7,415.6 169.8,411.8 169.8,408.0 169.8,404.2 169.8,400.4 169.7,396.6 169.6,392.8 169.5,389.0 169.4,385.1 169.3,381.3 169.3,379.4 169.2,375.6 169.1,371.8 169.1,368.0 169.1,364.2 169.2,360.4 169.3,356.6 169.3,354.7 169.5,350.9 169.7,347.0 169.9,343.2 170.2,339.7 170.4,337.5 170.8,333.7 171.1,330.2 M41.4,329.9 41.2,332.1 41.1,335.6 41.0,339.4 40.9,343.2 40.8,347.0 40.8,350.9 40.8,354.7 40.7,358.5 40.7,362.3 40.7,366.1 40.7,369.9 40.8,373.7 40.9,377.5 41.0,381.3 41.2,385.1 41.3,387.0 41.5,390.9 41.8,394.7 42.0,398.5 42.2,401.0 42.4,404.2 42.6,408.0 42.8,411.8 43.0,415.6 43.1,418.3 43.3,421.3 43.5,425.1 43.8,429.0 44.0,432.8 44.2,434.7 44.5,438.5 44.8,442.3 45.1,444.2 45.5,448.0 45.9,451.0 46.4,453.7 46.9,455.8 48.7,457.2 50.6,456.5 52.0,455.6 53.4,454.6 54.4,453.7 56.2,452.1 57.1,451.2 58.6,449.9 59.9,448.8 60.9,448.0 62.7,446.6 63.7,445.9 65.5,444.7 66.5,444.2 68.3,443.2 69.9,442.3 71.2,441.5 73.0,440.4 74.0,439.9 75.8,438.8 76.8,438.3 78.6,437.2 79.7,436.6 81.4,435.6 83.2,434.7 84.2,434.2 86.1,433.3 87.1,432.8 88.9,431.9 90.8,431.0 91.7,430.5 93.6,429.6 95.1,429.0 96.4,428.5 98.2,427.8 100.1,427.3 101.1,427.0 102.9,426.7 104.8,426.5 106.7,426.3 108.5,426.1 110.4,425.9 112.3,425.8 114.1,425.7 116.0,425.7 117.9,425.7 119.7,425.7 121.6,425.8 123.5,425.9 125.3,426.0 127.2,426.2 129.1,426.3 131.0,426.5 132.8,426.7 134.7,426.8 136.6,427.0 137.5,427.1 139.4,427.4 141.2,427.6 143.1,428.0 145.0,428.7 145.9,429.2 147.8,430.4 148.7,431.2 150.4,432.8 151.5,434.1 152.4,435.2 153.5,436.6 154.8,438.5 156.1,440.4 157.1,441.9 158.1,443.0 159.9,444.2 161.4,442.3 162.0,440.4 162.7,437.4 163.2,434.7 163.7,430.9 163.8,429.0 164.2,425.1 164.4,421.3 164.6,418.4 164.7,415.6 164.8,411.8 164.9,408.0 164.9,404.2 164.8,400.4 164.6,396.6 164.6,394.7 164.3,390.9 164.1,387.0 163.9,383.2 163.7,379.8 163.5,377.5 163.4,373.7 163.3,369.9 163.2,366.1 163.2,362.3 163.3,358.5 163.3,354.7 163.3,350.9 163.3,347.0 163.4,343.2 163.4,339.4 163.6,335.6 163.7,332.7 163.8,329.9 M43.4,329.9 43.2,333.7 43.1,335.6 42.9,339.4 42.8,343.2 42.7,347.0 42.6,350.9 42.6,354.7 42.6,358.5 42.5,362.3 42.5,366.1 42.6,369.9 42.6,373.7 42.7,377.5 42.9,381.3 43.1,384.8 43.3,387.0 43.6,390.9 43.9,394.7 44.1,396.8 44.4,400.4 44.7,404.2 45.0,407.4 45.2,409.9 45.6,413.7 45.9,416.9 46.3,419.4 46.9,422.9 47.8,425.1 48.7,425.4 50.6,425.7 52.5,425.7 54.3,425.6 56.2,425.4 57.4,425.1 59.0,424.8 60.9,424.4 62.7,424.0 64.6,423.5 65.6,423.2 67.4,422.8 69.3,422.2 71.2,421.6 72.1,421.2 74.0,420.5 75.8,419.7 76.8,419.3 78.6,418.5 80.5,417.8 81.4,417.5 83.3,416.8 85.2,416.3 87.0,415.7 88.0,415.4 89.8,414.9 91.7,414.3 93.6,413.8 94.5,413.6 96.4,413.1 98.2,412.8 100.1,412.5 102.0,412.3 103.9,412.2 105.7,412.3 107.6,412.3 109.5,412.3 111.3,412.3 113.2,412.4 115.1,412.4 116.9,412.5 118.8,412.6 120.7,412.8 122.5,412.9 124.4,413.0 126.3,413.1 128.2,413.1 130.0,413.1 131.9,413.1 133.8,413.0 135.6,412.8 137.5,412.7 139.4,412.5 141.2,412.3 143.1,412.0 144.1,411.8 145.9,411.2 147.8,410.2 148.7,409.3 149.6,408.0 150.4,404.2 150.6,402.3 150.9,398.5 151.2,394.7 151.3,390.9 151.5,387.0 151.5,384.6 151.6,381.3 151.6,377.5 151.7,373.7 151.7,369.9 151.7,366.1 151.7,362.3 151.6,358.5 151.6,354.7 151.5,350.9 151.5,348.9 151.4,345.1 151.3,341.3 151.2,337.5 151.1,333.7 150.9,329.9 M45.8,329.9 45.4,333.7 45.2,337.5 45.0,340.3 44.9,343.2 44.7,347.0 44.6,350.9 44.5,354.7 44.5,358.5 44.5,362.3 44.5,366.1 44.5,369.9 44.6,373.7 44.7,377.5 45.0,381.2 45.2,383.2 45.6,387.0 45.9,389.7 46.5,392.8 46.9,394.7 47.8,396.6 49.7,397.8 51.0,398.5 52.5,399.0 54.3,399.6 56.2,400.2 57.1,400.5 59.0,400.9 60.9,401.3 62.7,401.6 64.6,401.8 66.5,401.9 68.3,402.0 70.2,401.9 72.1,401.7 74.0,401.4 75.8,401.1 77.7,400.8 79.6,400.5 80.5,400.4 82.4,400.1 84.2,399.8 86.1,399.6 88.0,399.3 89.8,398.9 91.7,398.6 92.6,398.4 94.5,398.0 96.4,397.6 98.2,397.2 100.1,396.9 102.0,396.6 102.9,396.5 104.8,396.4 106.7,396.2 108.5,396.0 110.4,395.8 112.3,395.5 114.1,395.2 116.0,394.8 116.9,394.6 118.8,394.1 120.7,393.5 122.5,392.9 123.5,392.4 125.3,391.3 126.3,390.6 128.0,389.0 129.1,387.7 130.0,386.4 131.0,384.8 131.9,382.9 132.8,380.5 133.7,377.5 134.2,375.6 134.7,372.8 135.1,369.9 135.4,366.1 135.6,362.9 135.8,360.4 136.0,356.6 136.1,352.8 136.3,348.9 136.4,345.1 136.5,341.3 136.5,337.5 136.5,333.7 136.6,329.9 M49.8,329.9 49.7,332.8 49.5,335.6 49.2,339.4 48.9,343.2 48.7,345.1 48.4,348.9 48.1,352.8 48.0,356.6 47.8,360.4 47.8,364.2 47.8,368.0 48.2,371.8 48.8,373.7 49.7,375.7 51.2,377.5 52.5,377.9 54.3,378.5 56.2,378.9 58.1,379.4 59.0,379.6 60.9,380.0 62.7,380.4 64.6,380.8 66.3,381.3 67.4,381.7 69.3,382.3 71.2,382.8 72.8,383.2 74.0,383.5 75.8,383.9 77.7,384.1 79.6,384.3 81.4,384.5 83.3,384.5 85.2,384.5 87.0,384.3 88.9,384.0 90.8,383.7 92.5,383.2 93.6,383.0 95.4,382.4 97.3,381.8 98.7,381.3 100.1,380.8 102.0,380.1 103.9,379.5 104.8,379.1 106.7,378.4 108.4,377.5 109.5,377.0 111.3,375.8 112.3,375.1 114.0,373.7 115.1,372.7 116.0,371.7 117.4,369.9 118.6,368.0 119.6,366.1 120.5,364.2 121.3,362.3 122.0,360.4 122.6,358.5 123.5,355.3 124.1,352.8 124.5,350.9 125.2,347.0 125.4,345.1 125.9,341.3 126.2,337.5 126.4,335.6 126.5,331.8 M56.1,329.9 56.2,332.6 56.4,335.6 56.9,339.4 57.2,341.3 58.0,345.1 58.7,347.0 59.4,348.9 60.3,350.9 61.5,352.8 62.7,354.4 63.7,355.4 64.8,356.6 66.5,358.1 67.4,358.9 69.1,360.4 70.2,361.3 71.5,362.3 73.0,363.4 74.2,364.2 75.8,365.2 77.6,366.1 78.6,366.5 80.5,367.2 82.4,367.7 84.2,368.0 86.1,368.0 88.0,367.7 89.8,367.3 91.7,366.7 93.2,366.1 94.5,365.5 96.4,364.5 97.3,363.9 99.2,362.8 100.1,362.2 102.0,360.9 102.9,360.2 104.8,358.8 105.7,358.0 107.1,356.6 108.5,354.9 109.5,353.5 110.4,352.0 111.3,350.3 112.3,348.3 113.2,346.0 114.1,343.2 114.7,341.3 115.2,339.4 116.0,335.7 116.4,333.7 116.9,329.9 M66.5,329.9 67.5,331.8 68.5,333.7 69.7,335.6 70.9,337.5 72.1,339.1 73.0,340.3 74.0,341.4 75.7,343.2 76.8,344.3 77.8,345.1 79.6,346.4 80.7,347.0 82.4,347.8 84.2,348.2 86.1,348.3 88.0,348.0 89.8,347.4 90.8,347.0 92.6,346.1 94.1,345.1 95.4,344.1 96.6,343.2 98.2,341.7 99.2,340.8 100.5,339.4 102.0,337.8 102.9,336.7 103.9,335.5 105.1,333.7 106.2,331.8 107.0,329.9" fill="none" stroke="#fff" stroke-opacity="0.6" stroke-width="0.6"/>
</g>
<path d="M29.1 326.2V520.5M47.8 326.2V520.5M66.5 326.2V520.5M85.2 326.2V520.5M103.9 326.2V520.5M122.5 326.2V520.5M141.2 326.2V520.5M159.9 326.2V520.5M178.6 326.2V520.5M197.3 326.2V520.5M29.1 329.9H197.7M29.1 368.0H197.7M29.1 406.1H197.7M29.1 444.2H197.7M29.1 482.3H197.7M29.1 520.4H197.7" stroke="#333" stroke-opacity="0.7" stroke-width="0.55" stroke-dasharray="1 0.8"/>
<rect x="66.5" y="329.9" width="37.4" height="76.2" fill="none" stroke="#e2e2e2" stroke-width="0.8"/>
<path d="M29.1 520.5v1.8" stroke="#333" stroke-width="0.5"/>
<text x="29.1" y="530.4" font-size="5.4" text-anchor="middle" fill="#222">0</text>
<path d="M47.8 520.5v1.8" stroke="#333" stroke-width="0.5"/>
<text x="47.8" y="530.4" font-size="5.4" text-anchor="middle" fill="#222">0.1</text>
<path d="M66.5 520.5v1.8" stroke="#333" stroke-width="0.5"/>
<text x="66.5" y="530.4" font-size="5.4" text-anchor="middle" fill="#222">0.2</text>
<path d="M85.2 520.5v1.8" stroke="#333" stroke-width="0.5"/>
<text x="85.2" y="530.4" font-size="5.4" text-anchor="middle" fill="#222">0.3</text>
<path d="M103.9 520.5v1.8" stroke="#333" stroke-width="0.5"/>
<text x="103.9" y="530.4" font-size="5.4" text-anchor="middle" fill="#222">0.6</text>
<path d="M122.5 520.5v1.8" stroke="#333" stroke-width="0.5"/>
<text x="122.5" y="530.4" font-size="5.4" text-anchor="middle" fill="#222">1.2</text>
<path d="M141.2 520.5v1.8" stroke="#333" stroke-width="0.5"/>
<text x="141.2" y="530.4" font-size="5.4" text-anchor="middle" fill="#222">2.5</text>
<path d="M159.9 520.5v1.8" stroke="#333" stroke-width="0.5"/>
<text x="159.9" y="530.4" font-size="5.4" text-anchor="middle" fill="#222">5</text>
<path d="M178.6 520.5v1.8" stroke="#333" stroke-width="0.5"/>
<text x="178.6" y="530.4" font-size="5.4" text-anchor="middle" fill="#222">10</text>
<path d="M197.3 520.5v1.8" stroke="#333" stroke-width="0.5"/>
<text x="197.3" y="530.4" font-size="5.4" text-anchor="middle" fill="#222">20</text>
<path d="M29.1 520.4h-1.8" stroke="#333" stroke-width="0.5"/>
<text x="25.4" y="522.3" font-size="5.4" text-anchor="end" fill="#222">0</text>
<path d="M29.1 482.3h-1.8" stroke="#333" stroke-width="0.5"/>
<text x="25.4" y="484.2" font-size="5.4" text-anchor="end" fill="#222">9.6</text>
<path d="M29.1 444.2h-1.8" stroke="#333" stroke-width="0.5"/>
<text x="25.4" y="446.1" font-size="5.4" text-anchor="end" fill="#222">13.7</text>
<path d="M29.1 406.1h-1.8" stroke="#333" stroke-width="0.5"/>
<text x="25.4" y="408.0" font-size="5.4" text-anchor="end" fill="#222">19.6</text>
<path d="M29.1 368.0h-1.8" stroke="#333" stroke-width="0.5"/>
<text x="25.4" y="369.9" font-size="5.4" text-anchor="end" fill="#222">28</text>
<path d="M29.1 329.9h-1.8" stroke="#333" stroke-width="0.5"/>
<text x="25.4" y="331.8" font-size="5.4" text-anchor="end" fill="#222">40</text>
<text x="113.2" y="537.4" font-size="5.9" text-anchor="middle" textLength="36.0" lengthAdjust="spacingAndGlyphs" fill="#222">BYL719 (uM)</text>
<text x="11.6" y="424.1" font-size="5.9" text-anchor="middle" textLength="41.4" lengthAdjust="spacingAndGlyphs" fill="#222" transform="rotate(-90 11.6 424.1)">MDL−800 (uM)</text>
<text x="299.2" y="341.4" font-size="7.6" text-anchor="middle" font-weight="bold" textLength="94.4" lengthAdjust="spacingAndGlyphs">ZIP synergy score: 18.618</text>
<rect x="220.7" y="352.7" width="164.7" height="2.8" fill="url(#cb2)"/>
<text x="237.0" y="349.3" font-size="5.0" text-anchor="middle" fill="#222">−40</text>
<text x="269.8" y="349.3" font-size="5.0" text-anchor="middle" fill="#222">−20</text>
<text x="302.6" y="349.3" font-size="5.0" text-anchor="middle" fill="#222">0</text>
<text x="335.7" y="349.3" font-size="5.0" text-anchor="middle" fill="#222">20</text>
<text x="368.5" y="349.3" font-size="5.0" text-anchor="middle" fill="#222">40</text>
<path d="M337.0 433.5L336.5 378.1" stroke="#222" stroke-width="0.6" stroke-dasharray="1.6 1.6"/>
<path d="M235.0 466.2L337.0 433.5" stroke="#222" stroke-width="0.6" stroke-dasharray="1.6 1.6"/>
<path d="M337.0 433.5L370.7 466.1" stroke="#222" stroke-width="0.6" stroke-dasharray="1.6 1.6"/>
<path d="M230.5 409.4L267.3 445.3" stroke="#222" stroke-width="0.6"/>
<path d="M375.9 408.8L267.3 445.3" stroke="#222" stroke-width="0.6"/>
<path d="M265.4 504.0L267.3 445.3" stroke="#222" stroke-width="0.6"/>
<g stroke="#000" stroke-width="0.6" stroke-linejoin="round">
<path d="M335.7 408.4L338.6 408.7L336.8 406.7L333.9 406.2z" fill="#fffbfb"/>
<path d="M332.8 408.0L335.7 408.4L333.9 406.2L330.9 405.7z" fill="#ffefef"/>
<path d="M337.5 410.5L340.4 410.7L338.6 408.7L335.7 408.4z" fill="#fefffe"/>
<path d="M329.9 407.4L332.8 408.0L330.9 405.7L328.0 405.1z" fill="#ffe1e1"/>
<path d="M334.6 410.1L337.5 410.5L335.7 408.4L332.8 408.0z" fill="#fff4f4"/>
<path d="M327.0 406.7L329.9 407.4L328.0 405.1L325.1 404.5z" fill="#ffd3d3"/>
<path d="M339.3 412.4L342.2 412.5L340.4 410.7L337.5 410.5z" fill="#fbfffb"/>
<path d="M331.7 409.5L334.6 410.1L332.8 408.0L329.9 407.4z" fill="#ffe7e7"/>
<path d="M324.0 405.8L327.0 406.7L325.1 404.5L322.2 403.7z" fill="#ffc3c3"/>
<path d="M336.4 412.0L339.3 412.4L337.5 410.5L334.6 410.1z" fill="#fff8f8"/>
<path d="M328.8 408.9L331.7 409.5L329.9 407.4L327.0 406.7z" fill="#ffd9d9"/>
<path d="M321.1 404.6L324.0 405.8L322.2 403.7L319.2 402.6z" fill="#ffb1b1"/>
<path d="M341.1 414.1L344.0 414.1L342.2 412.5L339.3 412.4z" fill="#f9fff9"/>
<path d="M333.5 411.5L336.4 412.0L334.6 410.1L331.7 409.5z" fill="#ffebeb"/>
<path d="M325.9 407.9L328.8 408.9L327.0 406.7L324.0 405.8z" fill="#ffc8c8"/>
<path d="M318.1 403.5L321.1 404.6L319.2 402.6L316.3 401.7z" fill="#ff9f9f"/>
<path d="M338.3 413.8L341.1 414.1L339.3 412.4L336.4 412.0z" fill="#fffafa"/>
<path d="M330.6 410.9L333.5 411.5L331.7 409.5L328.8 408.9z" fill="#ffdddd"/>
<path d="M322.9 406.5L325.9 407.9L324.0 405.8L321.1 404.6z" fill="#ffb5b5"/>
<path d="M315.2 402.8L318.1 403.5L316.3 401.7L313.3 401.2z" fill="#ff8e8e"/>
<path d="M343.0 415.6L345.9 415.5L344.0 414.1L341.1 414.1z" fill="#f9fff9"/>
<path d="M335.4 413.3L338.3 413.8L336.4 412.0L333.5 411.5z" fill="#ffeeee"/>
<path d="M327.7 409.8L330.6 410.9L328.8 408.9L325.9 407.9z" fill="#ffcccc"/>
<path d="M320.0 405.2L322.9 406.5L321.1 404.6L318.1 403.5z" fill="#ffa1a1"/>
<path d="M312.3 402.7L315.2 402.8L313.3 401.2L310.4 401.1z" fill="#ff8282"/>
<path d="M340.1 415.3L343.0 415.6L341.1 414.1L338.3 413.8z" fill="#fffafa"/>
<path d="M332.5 412.6L335.4 413.3L333.5 411.5L330.6 410.9z" fill="#ffe0e0"/>
<path d="M324.8 408.3L327.7 409.8L325.9 407.9L322.9 406.5z" fill="#ffb8b8"/>
<path d="M317.1 404.4L320.0 405.2L318.1 403.5L315.2 402.8z" fill="#ff8f8f"/>
<path d="M309.3 402.7L312.3 402.7L310.4 401.1L307.5 401.2z" fill="#ff7a7a"/>
<path d="M344.8 416.9L347.7 416.7L345.9 415.5L343.0 415.6z" fill="#fbfffb"/>
<path d="M337.2 414.9L340.1 415.3L338.3 413.8L335.4 413.3z" fill="#ffeeee"/>
<path d="M329.5 411.5L332.5 412.6L330.6 410.9L327.7 409.8z" fill="#ffcfcf"/>
<path d="M321.9 406.9L324.8 408.3L322.9 406.5L320.0 405.2z" fill="#ffa2a2"/>
<path d="M314.1 404.3L317.1 404.4L315.2 402.8L312.3 402.7z" fill="#ff8282"/>
<path d="M306.4 402.9L309.3 402.7L307.5 401.2L304.5 401.3z" fill="#ff7272"/>
<path d="M341.9 416.8L344.8 416.9L343.0 415.6L340.1 415.3z" fill="#fff9f9"/>
<path d="M334.3 414.2L337.2 414.9L335.4 413.3L332.5 412.6z" fill="#ffe0e0"/>
<path d="M326.6 410.0L329.5 411.5L327.7 409.8L324.8 408.3z" fill="#ffbaba"/>
<path d="M318.9 406.0L321.9 406.9L320.0 405.2L317.1 404.4z" fill="#ff8f8f"/>
<path d="M311.2 404.3L314.1 404.3L312.3 402.7L309.3 402.7z" fill="#ff7a7a"/>
<path d="M346.6 418.3L349.5 417.9L347.7 416.7L344.8 416.9z" fill="#ffffff"/>
<path d="M303.4 402.9L306.4 402.9L304.5 401.3L301.6 401.3z" fill="#ff6b6b"/>
<path d="M339.0 416.4L341.9 416.8L340.1 415.3L337.2 414.9z" fill="#ffeded"/>
<path d="M331.4 413.1L334.3 414.2L332.5 412.6L329.5 411.5z" fill="#ffcfcf"/>
<path d="M323.7 408.5L326.6 410.0L324.8 408.3L321.9 406.9z" fill="#ffa3a3"/>
<path d="M316.0 405.9L318.9 406.0L317.1 404.4L314.1 404.3z" fill="#ff8282"/>
<path d="M308.2 404.5L311.2 404.3L309.3 402.7L306.4 402.9z" fill="#ff7272"/>
<path d="M343.7 418.2L346.6 418.3L344.8 416.9L341.9 416.8z" fill="#fff7f7"/>
<path d="M300.5 402.7L303.4 402.9L301.6 401.3L298.6 401.0z" fill="#ff6161"/>
<path d="M336.1 415.9L339.0 416.4L337.2 414.9L334.3 414.2z" fill="#ffe0e0"/>
<path d="M328.5 411.5L331.4 413.1L329.5 411.5L326.6 410.0z" fill="#ffbaba"/>
<path d="M320.8 407.7L323.7 408.5L321.9 406.9L318.9 406.0z" fill="#ff8f8f"/>
<path d="M313.0 405.9L316.0 405.9L314.1 404.3L311.2 404.3z" fill="#ff7979"/>
<path d="M348.4 419.7L351.3 419.3L349.5 417.9L346.6 418.3z" fill="#fffdfd"/>
<path d="M305.3 404.6L308.2 404.5L306.4 402.9L303.4 402.9z" fill="#ff6a6a"/>
<path d="M340.8 417.9L343.7 418.2L341.9 416.8L339.0 416.4z" fill="#ffecec"/>
<path d="M297.5 402.3L300.5 402.7L298.6 401.0L295.7 400.6z" fill="#ff5656"/>
<path d="M333.2 414.7L336.1 415.9L334.3 414.2L331.4 413.1z" fill="#ffcfcf"/>
<path d="M325.6 410.0L328.5 411.5L326.6 410.0L323.7 408.5z" fill="#ffa3a3"/>
<path d="M317.8 407.5L320.8 407.7L318.9 406.0L316.0 405.9z" fill="#ff8282"/>
<path d="M310.1 406.1L313.0 405.9L311.2 404.3L308.2 404.5z" fill="#ff7272"/>
<path d="M345.5 419.7L348.4 419.7L346.6 418.3L343.7 418.2z" fill="#fff6f6"/>
<path d="M302.3 404.4L305.3 404.6L303.4 402.9L300.5 402.7z" fill="#ff6161"/>
<path d="M337.9 417.5L340.8 417.9L339.0 416.4L336.1 415.9z" fill="#ffe0e0"/>
<path d="M294.6 401.8L297.5 402.3L295.7 400.6L292.7 400.1z" fill="#ff4949"/>
<path d="M330.3 413.0L333.2 414.7L331.4 413.1L328.5 411.5z" fill="#ffb9b9"/>
<path d="M322.6 409.2L325.6 410.0L323.7 408.5L320.8 407.7z" fill="#ff8f8f"/>
<path d="M314.9 407.6L317.8 407.5L316.0 405.9L313.0 405.9z" fill="#ff7979"/>
<path d="M350.3 421.2L353.2 420.9L351.3 419.3L348.4 419.7z" fill="#fffcfc"/>
<path d="M307.2 406.2L310.1 406.1L308.2 404.5L305.3 404.6z" fill="#ff6a6a"/>
<path d="M342.7 419.5L345.5 419.7L343.7 418.2L340.8 417.9z" fill="#ffecec"/>
<path d="M299.4 404.1L302.3 404.4L300.5 402.7L297.5 402.3z" fill="#ff5656"/>
<path d="M335.0 416.3L337.9 417.5L336.1 415.9L333.2 414.7z" fill="#ffcfcf"/>
<path d="M291.6 401.5L294.6 401.8L292.7 400.1L289.7 399.6z" fill="#ff3d3d"/>
<path d="M327.4 411.4L330.3 413.0L328.5 411.5L325.6 410.0z" fill="#ffa1a1"/>
<path d="M319.7 409.1L322.6 409.2L320.8 407.7L317.8 407.5z" fill="#ff8282"/>
<path d="M312.0 407.7L314.9 407.6L313.0 405.9L310.1 406.1z" fill="#ff7272"/>
<path d="M347.4 421.3L350.3 421.2L348.4 419.7L345.5 419.7z" fill="#fff5f5"/>
<path d="M304.2 406.1L307.2 406.2L305.3 404.6L302.3 404.4z" fill="#ff6262"/>
<path d="M339.8 419.1L342.7 419.5L340.8 417.9L337.9 417.5z" fill="#ffdfdf"/>
<path d="M296.4 403.8L299.4 404.1L297.5 402.3L294.6 401.8z" fill="#ff4a4a"/>
<path d="M332.2 414.4L335.0 416.3L333.2 414.7L330.3 413.0z" fill="#ffb8b8"/>
<path d="M288.6 401.2L291.6 401.5L289.7 399.6L286.7 399.1z" fill="#ff3030"/>
<path d="M324.5 410.6L327.4 411.4L325.6 410.0L322.6 409.2z" fill="#ff8d8d"/>
<path d="M316.8 409.2L319.7 409.1L317.8 407.5L314.9 407.6z" fill="#ff7979"/>
<path d="M352.1 422.8L355.0 422.5L353.2 420.9L350.3 421.2z" fill="#fffcfc"/>
<path d="M309.0 407.8L312.0 407.7L310.1 406.1L307.2 406.2z" fill="#ff6a6a"/>
<path d="M344.5 421.0L347.4 421.3L345.5 419.7L342.7 419.5z" fill="#ffebeb"/>
<path d="M301.3 405.9L304.2 406.1L302.3 404.4L299.4 404.1z" fill="#ff5757"/>
<path d="M336.9 417.9L339.8 419.1L337.9 417.5L335.0 416.3z" fill="#ffcfcf"/>
<path d="M293.5 403.6L296.4 403.8L294.6 401.8L291.6 401.5z" fill="#ff3f3f"/>
<path d="M329.3 412.7L332.2 414.4L330.3 413.0L327.4 411.4z" fill="#ff9f9f"/>
<path d="M285.6 400.8L288.6 401.2L286.7 399.1L283.7 398.4z" fill="#ff2424"/>
<path d="M321.6 410.7L324.5 410.6L322.6 409.2L319.7 409.1z" fill="#ff8181"/>
<path d="M313.8 409.4L316.8 409.2L314.9 407.6L312.0 407.7z" fill="#ff7272"/>
<path d="M349.2 422.8L352.1 422.8L350.3 421.2L347.4 421.3z" fill="#fff5f5"/>
<path d="M306.1 407.8L309.0 407.8L307.2 406.2L304.2 406.1z" fill="#ff6262"/>
<path d="M341.6 420.7L344.5 421.0L342.7 419.5L339.8 419.1z" fill="#ffdfdf"/>
<path d="M298.3 405.8L301.3 405.9L299.4 404.1L296.4 403.8z" fill="#ff4d4d"/>
<path d="M334.0 416.0L336.9 417.9L335.0 416.3L332.2 414.4z" fill="#ffb8b8"/>
<path d="M290.5 403.4L293.5 403.6L291.6 401.5L288.6 401.2z" fill="#ff3434"/>
<path d="M326.3 412.0L329.3 412.7L327.4 411.4L324.5 410.6z" fill="#ff8b8b"/>
<path d="M282.6 400.5L285.6 400.8L283.7 398.4L280.7 398.0z" fill="#ff1717"/>
<path d="M318.6 410.9L321.6 410.7L319.7 409.1L316.8 409.2z" fill="#ff7979"/>
<path d="M353.9 424.3L356.8 424.1L355.0 422.5L352.1 422.8z" fill="#fffcfc"/>
<path d="M310.9 409.6L313.8 409.4L312.0 407.7L309.0 407.8z" fill="#ff6b6b"/>
<path d="M346.3 422.6L349.2 422.8L347.4 421.3L344.5 421.0z" fill="#ffebeb"/>
<path d="M303.1 407.8L306.1 407.8L304.2 406.1L301.3 405.9z" fill="#ff5959"/>
<path d="M338.7 419.5L341.6 420.7L339.8 419.1L336.9 417.9z" fill="#ffcfcf"/>
<path d="M295.3 405.7L298.3 405.8L296.4 403.8L293.5 403.6z" fill="#ff4343"/>
<path d="M331.1 414.2L334.0 416.0L332.2 414.4L329.3 412.7z" fill="#ff9e9e"/>
<path d="M287.5 403.2L290.5 403.4L288.6 401.2L285.6 400.8z" fill="#ff2929"/>
<path d="M323.4 412.3L326.3 412.0L324.5 410.6L321.6 410.7z" fill="#ff8080"/>
<path d="M279.7 400.6L282.6 400.5L280.7 398.0L277.7 397.9z" fill="#ff0d0d"/>
<path d="M315.7 411.2L318.6 410.9L316.8 409.2L313.8 409.4z" fill="#ff7272"/>
<path d="M351.0 424.4L353.9 424.3L352.1 422.8L349.2 422.8z" fill="#fff4f4"/>
<path d="M307.9 409.7L310.9 409.6L309.0 407.8L306.1 407.8z" fill="#ff6363"/>
<path d="M343.4 422.3L346.3 422.6L344.5 421.0L341.6 420.7z" fill="#ffdfdf"/>
<path d="M300.2 407.9L303.1 407.8L301.3 405.9L298.3 405.8z" fill="#ff5050"/>
<path d="M335.9 417.6L338.7 419.5L336.9 417.9L334.0 416.0z" fill="#ffb8b8"/>
<path d="M292.4 405.8L295.3 405.7L293.5 403.6L290.5 403.4z" fill="#ff3939"/>
<path d="M328.2 413.6L331.1 414.2L329.3 412.7L326.3 412.0z" fill="#ff8a8a"/>
<path d="M284.5 403.2L287.5 403.2L285.6 400.8L282.6 400.5z" fill="#ff1f1f"/>
<path d="M320.5 412.6L323.4 412.3L321.6 410.7L318.6 410.9z" fill="#ff7979"/>
<path d="M355.7 425.9L358.6 425.7L356.8 424.1L353.9 424.3z" fill="#fffcfc"/>
<path d="M276.7 400.9L279.7 400.6L277.7 397.9L274.8 398.1z" fill="#ff0a0a"/>
<path d="M312.7 411.5L315.7 411.2L313.8 409.4L310.9 409.6z" fill="#ff6c6c"/>
<path d="M348.1 424.2L351.0 424.4L349.2 422.8L346.3 422.6z" fill="#ffeaea"/>
<path d="M305.0 409.9L307.9 409.7L306.1 407.8L303.1 407.8z" fill="#ff5b5b"/>
<path d="M340.5 421.2L343.4 422.3L341.6 420.7L338.7 419.5z" fill="#ffcfcf"/>
<path d="M297.2 408.0L300.2 407.9L298.3 405.8L295.3 405.7z" fill="#ff4747"/>
<path d="M333.0 415.9L335.9 417.6L334.0 416.0L331.1 414.2z" fill="#ff9e9e"/>
<path d="M289.4 405.8L292.4 405.8L290.5 403.4L287.5 403.2z" fill="#ff3030"/>
<path d="M325.3 413.9L328.2 413.6L326.3 412.0L323.4 412.3z" fill="#ff7f7f"/>
<path d="M281.6 403.4L284.5 403.2L282.6 400.5L279.7 400.6z" fill="#ff1717"/>
<path d="M317.5 413.0L320.5 412.6L318.6 410.9L315.7 411.2z" fill="#ff7373"/>
<path d="M352.8 425.9L355.7 425.9L353.9 424.3L351.0 424.4z" fill="#fff4f4"/>
<path d="M273.7 401.3L276.7 400.9L274.8 398.1L271.8 398.5z" fill="#ff0a0a"/>
<path d="M309.8 411.8L312.7 411.5L310.9 409.6L307.9 409.7z" fill="#ff6565"/>
<path d="M345.2 423.9L348.1 424.2L346.3 422.6L343.4 422.3z" fill="#ffdfdf"/>
<path d="M302.0 410.1L305.0 409.9L303.1 407.8L300.2 407.9z" fill="#ff5353"/>
<path d="M337.7 419.4L340.5 421.2L338.7 419.5L335.9 417.6z" fill="#ffb8b8"/>
<path d="M294.3 408.2L297.2 408.0L295.3 405.7L292.4 405.8z" fill="#ff3f3f"/>
<path d="M330.1 415.3L333.0 415.9L331.1 414.2L328.2 413.6z" fill="#ff8a8a"/>
<path d="M286.5 406.0L289.4 405.8L287.5 403.2L284.5 403.2z" fill="#ff2828"/>
<path d="M322.3 414.3L325.3 413.9L323.4 412.3L320.5 412.6z" fill="#ff7979"/>
<path d="M357.6 427.5L360.5 427.2L358.6 425.7L355.7 425.9z" fill="#fffcfc"/>
<path d="M278.6 403.8L281.6 403.4L279.7 400.6L276.7 400.9z" fill="#ff1111"/>
<path d="M314.6 413.5L317.5 413.0L315.7 411.2L312.7 411.5z" fill="#ff6e6e"/>
<path d="M350.0 425.8L352.8 425.9L351.0 424.4L348.1 424.2z" fill="#ffeaea"/>
<path d="M270.8 401.8L273.7 401.3L271.8 398.5L268.8 398.9z" fill="#ff0a0a"/>
<path d="M306.9 412.1L309.8 411.8L307.9 409.7L305.0 409.9z" fill="#ff5f5f"/>
<path d="M342.4 422.8L345.2 423.9L343.4 422.3L340.5 421.2z" fill="#ffcfcf"/>
<path d="M299.1 410.4L302.0 410.1L300.2 407.9L297.2 408.0z" fill="#ff4c4c"/>
<path d="M334.8 417.8L337.7 419.4L335.9 417.6L333.0 415.9z" fill="#ff9f9f"/>
<path d="M291.3 408.5L294.3 408.2L292.4 405.8L289.4 405.8z" fill="#ff3838"/>
<path d="M327.1 415.8L330.1 415.3L328.2 413.6L325.3 413.9z" fill="#ff8080"/>
<path d="M283.5 406.3L286.5 406.0L284.5 403.2L281.6 403.4z" fill="#ff2121"/>
<path d="M319.4 414.9L322.3 414.3L320.5 412.6L317.5 413.0z" fill="#ff7575"/>
<path d="M354.7 427.6L357.6 427.5L355.7 425.9L352.8 425.9z" fill="#fff4f4"/>
<path d="M275.7 404.2L278.6 403.8L276.7 400.9L273.7 401.3z" fill="#ff0c0c"/>
<path d="M311.7 414.0L314.6 413.5L312.7 411.5L309.8 411.8z" fill="#ff6969"/>
<path d="M347.1 425.5L350.0 425.8L348.1 424.2L345.2 423.9z" fill="#ffdfdf"/>
<path d="M267.8 402.5L270.8 401.8L268.8 398.9L265.9 399.7z" fill="#ff0a0a"/>
<path d="M303.9 412.5L306.9 412.1L305.0 409.9L302.0 410.1z" fill="#ff5959"/>
<path d="M339.5 421.2L342.4 422.8L340.5 421.2L337.7 419.4z" fill="#ffb9b9"/>
<path d="M296.1 410.8L299.1 410.4L297.2 408.0L294.3 408.2z" fill="#ff4747"/>
<path d="M331.9 417.4L334.8 417.8L333.0 415.9L330.1 415.3z" fill="#ff8c8c"/>
<path d="M288.3 408.8L291.3 408.5L289.4 405.8L286.5 406.0z" fill="#ff3232"/>
<path d="M324.2 416.5L327.1 415.8L325.3 413.9L322.3 414.3z" fill="#ff7b7b"/>
<path d="M359.4 429.2L362.3 428.8L360.5 427.2L357.6 427.5z" fill="#fffcfc"/>
<path d="M280.5 406.7L283.5 406.3L281.6 403.4L278.6 403.8z" fill="#ff1c1c"/>
<path d="M316.4 415.6L319.4 414.9L317.5 413.0L314.6 413.5z" fill="#ff7171"/>
<path d="M351.8 427.5L354.7 427.6L352.8 425.9L350.0 425.8z" fill="#ffebeb"/>
<path d="M272.7 404.7L275.7 404.2L273.7 401.3L270.8 401.8z" fill="#ff0a0a"/>
<path d="M308.7 414.5L311.7 414.0L309.8 411.8L306.9 412.1z" fill="#ff6464"/>
<path d="M344.2 424.5L347.1 425.5L345.2 423.9L342.4 422.8z" fill="#ffd0d0"/>
<path d="M264.9 403.6L267.8 402.5L265.9 399.7L262.9 400.7z" fill="#ff0a0a"/>
<path d="M301.0 413.0L303.9 412.5L302.0 410.1L299.1 410.4z" fill="#ff5353"/>
<path d="M336.7 419.7L339.5 421.2L337.7 419.4L334.8 417.8z" fill="#ffa1a1"/>
<path d="M293.2 411.3L296.1 410.8L294.3 408.2L291.3 408.5z" fill="#ff4141"/>
<path d="M329.0 418.1L331.9 417.4L330.1 415.3L327.1 415.8z" fill="#ff8383"/>
<path d="M285.4 409.3L288.3 408.8L286.5 406.0L283.5 406.3z" fill="#ff2c2c"/>
<path d="M321.2 417.4L324.2 416.5L322.3 414.3L319.4 414.9z" fill="#ff7979"/>
<path d="M356.5 429.4L359.4 429.2L357.6 427.5L354.7 427.6z" fill="#fff5f5"/>
<path d="M277.6 407.2L280.5 406.7L278.6 403.8L275.7 404.2z" fill="#ff1717"/>
<path d="M313.5 416.3L316.4 415.6L314.6 413.5L311.7 414.0z" fill="#ff6e6e"/>
<path d="M348.9 427.3L351.8 427.5L350.0 425.8L347.1 425.5z" fill="#ffdfdf"/>
<path d="M269.7 405.5L272.7 404.7L270.8 401.8L267.8 402.5z" fill="#ff0a0a"/>
<path d="M305.8 415.1L308.7 414.5L306.9 412.1L303.9 412.5z" fill="#ff6060"/>
<path d="M341.4 423.0L344.2 424.5L342.4 422.8L339.5 421.2z" fill="#ffbaba"/>
<path d="M262.0 405.0L264.9 403.6L262.9 400.7L260.0 402.1z" fill="#ff0a0a"/>
<path d="M298.0 413.6L301.0 413.0L299.1 410.4L296.1 410.8z" fill="#ff4f4f"/>
<path d="M333.7 419.5L336.7 419.7L334.8 417.8L331.9 417.4z" fill="#ff8f8f"/>
<path d="M290.2 411.8L293.2 411.3L291.3 408.5L288.3 408.8z" fill="#ff3d3d"/>
<path d="M326.0 419.3L329.0 418.1L327.1 415.8L324.2 416.5z" fill="#ff8282"/>
<path d="M361.2 430.9L364.1 430.4L362.3 428.8L359.4 429.2z" fill="#fffcfc"/>
<path d="M282.4 409.8L285.4 409.3L283.5 406.3L280.5 406.7z" fill="#ff2828"/>
<path d="M318.3 418.3L321.2 417.4L319.4 414.9L316.4 415.6z" fill="#ff7777"/>
<path d="M353.6 429.4L356.5 429.4L354.7 427.6L351.8 427.5z" fill="#ffecec"/>
<path d="M274.6 407.8L277.6 407.2L275.7 404.2L272.7 404.7z" fill="#ff1414"/>
<path d="M310.6 417.0L313.5 416.3L311.7 414.0L308.7 414.5z" fill="#ff6b6b"/>
<path d="M346.0 426.4L348.9 427.3L347.1 425.5L344.2 424.5z" fill="#ffd1d1"/>
<path d="M302.8 415.8L305.8 415.1L303.9 412.5L301.0 413.0z" fill="#ff5c5c"/>
<path d="M266.8 406.6L269.7 405.5L267.8 402.5L264.9 403.6z" fill="#ff0a0a"/>
<path d="M338.5 421.8L341.4 423.0L339.5 421.2L336.7 419.7z" fill="#ffa4a4"/>
<path d="M259.1 406.5L262.0 405.0L260.0 402.1L257.1 403.7z" fill="#ff0a0a"/>
<path d="M295.1 414.3L298.0 413.6L296.1 410.8L293.2 411.3z" fill="#ff4c4c"/>
<path d="M330.8 420.7L333.7 419.5L331.9 417.4L329.0 418.1z" fill="#ff8a8a"/>
<path d="M287.3 412.4L290.2 411.8L288.3 408.8L285.4 409.3z" fill="#ff3939"/>
<path d="M323.0 420.6L326.0 419.3L324.2 416.5L321.2 417.4z" fill="#ff8282"/>
<path d="M358.3 431.2L361.2 430.9L359.4 429.2L356.5 429.4z" fill="#fff6f6"/>
<path d="M279.5 410.3L282.4 409.8L280.5 406.7L277.6 407.2z" fill="#ff2424"/>
<path d="M315.3 419.2L318.3 418.3L316.4 415.6L313.5 416.3z" fill="#ff7676"/>
<path d="M350.7 429.3L353.6 429.4L351.8 427.5L348.9 427.3z" fill="#ffe2e2"/>
<path d="M271.7 408.6L274.6 407.8L272.7 404.7L269.7 405.5z" fill="#ff1212"/>
<path d="M307.6 417.9L310.6 417.0L308.7 414.5L305.8 415.1z" fill="#ff6868"/>
<path d="M343.2 425.0L346.0 426.4L344.2 424.5L341.4 423.0z" fill="#ffbdbd"/>
<path d="M263.9 407.9L266.8 406.6L264.9 403.6L262.0 405.0z" fill="#ff0a0a"/>
<path d="M299.9 416.6L302.8 415.8L301.0 413.0L298.0 413.6z" fill="#ff5a5a"/>
<path d="M335.6 421.8L338.5 421.8L336.7 419.7L333.7 419.5z" fill="#ff9494"/>
<path d="M256.2 408.1L259.1 406.5L257.1 403.7L254.2 405.5z" fill="#ff0b0b"/>
<path d="M292.1 415.0L295.1 414.3L293.2 411.3L290.2 411.8z" fill="#ff4949"/>
<path d="M327.8 422.4L330.8 420.7L329.0 418.1L326.0 419.3z" fill="#ff8c8c"/>
<path d="M363.0 432.6L365.9 432.0L364.1 430.4L361.2 430.9z" fill="#fffdfd"/>
<path d="M284.3 413.0L287.3 412.4L285.4 409.3L282.4 409.8z" fill="#ff3535"/>
<path d="M320.1 421.8L323.0 420.6L321.2 417.4L318.3 418.3z" fill="#ff8484"/>
<path d="M355.4 431.4L358.3 431.2L356.5 429.4L353.6 429.4z" fill="#ffefef"/>
<path d="M276.5 410.9L279.5 410.3L277.6 407.2L274.6 407.8z" fill="#ff2121"/>
<path d="M312.4 420.2L315.3 419.2L313.5 416.3L310.6 417.0z" fill="#ff7575"/>
<path d="M347.8 428.6L350.7 429.3L348.9 427.3L346.0 426.4z" fill="#ffd4d4"/>
<path d="M268.7 409.6L271.7 408.6L269.7 405.5L266.8 406.6z" fill="#ff1212"/>
<path d="M304.7 418.7L307.6 417.9L305.8 415.1L302.8 415.8z" fill="#ff6767"/>
<path d="M340.3 424.0L343.2 425.0L341.4 423.0L338.5 421.8z" fill="#ffa8a8"/>
<path d="M261.0 409.3L263.9 407.9L262.0 405.0L259.1 406.5z" fill="#ff0e0e"/>
<path d="M296.9 417.4L299.9 416.6L298.0 413.6L295.1 414.3z" fill="#ff5858"/>
<path d="M332.6 423.3L335.6 421.8L333.7 419.5L330.8 420.7z" fill="#ff9191"/>
<path d="M253.3 409.8L256.2 408.1L254.2 405.5L251.4 407.4z" fill="#ff1313"/>
<path d="M289.2 415.7L292.1 415.0L290.2 411.8L287.3 412.4z" fill="#ff4646"/>
<path d="M324.8 424.2L327.8 422.4L326.0 419.3L323.0 420.6z" fill="#ff9191"/>
<path d="M360.1 433.1L363.0 432.6L361.2 430.9L358.3 431.2z" fill="#fff8f8"/>
<path d="M281.4 413.6L284.3 413.0L282.4 409.8L279.5 410.3z" fill="#ff3232"/>
<path d="M317.1 422.9L320.1 421.8L318.3 418.3L315.3 419.2z" fill="#ff8484"/>
<path d="M352.5 431.4L355.4 431.4L353.6 429.4L350.7 429.3z" fill="#ffe6e6"/>
<path d="M273.6 411.7L276.5 410.9L274.6 407.8L271.7 408.6z" fill="#ff1f1f"/>
<path d="M309.4 421.1L312.4 420.2L310.6 417.0L307.6 417.9z" fill="#ff7474"/>
<path d="M345.0 427.5L347.8 428.6L346.0 426.4L343.2 425.0z" fill="#ffc2c2"/>
<path d="M265.8 410.9L268.7 409.6L266.8 406.6L263.9 407.9z" fill="#ff1515"/>
<path d="M301.7 419.7L304.7 418.7L302.8 415.8L299.9 416.6z" fill="#ff6666"/>
<path d="M337.4 424.2L340.3 424.0L338.5 421.8L335.6 421.8z" fill="#ff9a9a"/>
<path d="M258.1 410.8L261.0 409.3L259.1 406.5L256.2 408.1z" fill="#ff1414"/>
<path d="M294.0 418.2L296.9 417.4L295.1 414.3L292.1 415.0z" fill="#ff5656"/>
<path d="M329.6 425.4L332.6 423.3L330.8 420.7L327.8 422.4z" fill="#ff9797"/>
<path d="M364.8 434.4L367.8 433.6L365.9 432.0L363.0 432.6z" fill="#fffefe"/>
<path d="M250.4 411.8L253.3 409.8L251.4 407.4L248.5 409.7z" fill="#ff1d1d"/>
<path d="M286.2 416.4L289.2 415.7L287.3 412.4L284.3 413.0z" fill="#ff4444"/>
<path d="M321.9 425.6L324.8 424.2L323.0 420.6L320.1 421.8z" fill="#ff9595"/>
<path d="M357.2 433.4L360.1 433.1L358.3 431.2L355.4 431.4z" fill="#fff2f2"/>
<path d="M278.4 414.3L281.4 413.6L279.5 410.3L276.5 410.9z" fill="#ff2f2f"/>
<path d="M314.2 423.9L317.1 422.9L315.3 419.2L312.4 420.2z" fill="#ff8585"/>
<path d="M349.6 431.0L352.5 431.4L350.7 429.3L347.8 428.6z" fill="#ffdada"/>
<path d="M270.6 412.8L273.6 411.7L271.7 408.6L268.7 409.6z" fill="#ff1f1f"/>
<path d="M306.5 422.1L309.4 421.1L307.6 417.9L304.7 418.7z" fill="#ff7474"/>
<path d="M342.1 426.6L345.0 427.5L343.2 425.0L340.3 424.0z" fill="#ffaeae"/>
<path d="M262.9 412.3L265.8 410.9L263.9 407.9L261.0 409.3z" fill="#ff1919"/>
<path d="M298.8 420.6L301.7 419.7L299.9 416.6L296.9 417.4z" fill="#ff6565"/>
<path d="M334.4 425.9L337.4 424.2L335.6 421.8L332.6 423.3z" fill="#ff9898"/>
<path d="M255.1 412.4L258.1 410.8L256.2 408.1L253.3 409.8z" fill="#ff1b1b"/>
<path d="M291.0 419.1L294.0 418.2L292.1 415.0L289.2 415.7z" fill="#ff5555"/>
<path d="M326.6 427.5L329.6 425.4L327.8 422.4L324.8 424.2z" fill="#ffa0a0"/>
<path d="M361.9 435.0L364.8 434.4L363.0 432.6L360.1 433.1z" fill="#fffafa"/>
<path d="M247.6 414.4L250.4 411.8L248.5 409.7L245.7 412.5z" fill="#ff2c2c"/>
<path d="M283.3 417.1L286.2 416.4L284.3 413.0L281.4 413.6z" fill="#ff4141"/>
<path d="M318.9 426.8L321.9 425.6L320.1 421.8L317.1 422.9z" fill="#ff9898"/>
<path d="M354.3 433.7L357.2 433.4L355.4 431.4L352.5 431.4z" fill="#ffeaea"/>
<path d="M275.5 415.1L278.4 414.3L276.5 410.9L273.6 411.7z" fill="#ff2d2d"/>
<path d="M311.2 425.0L314.2 423.9L312.4 420.2L309.4 421.1z" fill="#ff8585"/>
<path d="M346.8 430.1L349.6 431.0L347.8 428.6L345.0 427.5z" fill="#ffc9c9"/>
<path d="M267.7 414.0L270.6 412.8L268.7 409.6L265.8 410.9z" fill="#ff2121"/>
<path d="M303.5 423.2L306.5 422.1L304.7 418.7L301.7 419.7z" fill="#ff7474"/>
<path d="M339.2 426.9L342.1 426.6L340.3 424.0L337.4 424.2z" fill="#ffa2a2"/>
<path d="M259.9 413.6L262.9 412.3L261.0 409.3L258.1 410.8z" fill="#ff1e1e"/>
<path d="M295.8 421.6L298.8 420.6L296.9 417.4L294.0 418.2z" fill="#ff6565"/>
<path d="M331.4 428.2L334.4 425.9L332.6 423.3L329.6 425.4z" fill="#ffa1a1"/>
<path d="M366.6 436.1L369.6 435.2L367.8 433.6L364.8 434.4z" fill="#fffefe"/>
<path d="M252.2 414.1L255.1 412.4L253.3 409.8L250.4 411.8z" fill="#ff2222"/>
<path d="M288.1 419.9L291.0 419.1L289.2 415.7L286.2 416.4z" fill="#ff5353"/>
<path d="M323.6 429.2L326.6 427.5L324.8 424.2L321.9 425.6z" fill="#ffa7a7"/>
<path d="M358.9 435.7L361.9 435.0L360.1 433.1L357.2 433.4z" fill="#fff6f6"/>
<path d="M244.7 417.0L247.6 414.4L245.7 412.5L243.0 415.9z" fill="#ff3e3e"/>
<path d="M280.3 417.8L283.3 417.1L281.4 413.6L278.4 414.3z" fill="#ff3f3f"/>
<path d="M316.0 427.9L318.9 426.8L317.1 422.9L314.2 423.9z" fill="#ff9999"/>
<path d="M351.4 433.5L354.3 433.7L352.5 431.4L349.6 431.0z" fill="#ffe0e0"/>
<path d="M272.5 416.1L275.5 415.1L273.6 411.7L270.6 412.8z" fill="#ff2d2d"/>
<path d="M308.3 426.0L311.2 425.0L309.4 421.1L306.5 422.1z" fill="#ff8686"/>
<path d="M343.9 429.5L346.8 430.1L345.0 427.5L342.1 426.6z" fill="#ffb8b8"/>
<path d="M264.8 415.2L267.7 414.0L265.8 410.9L262.9 412.3z" fill="#ff2525"/>
<path d="M300.6 424.1L303.5 423.2L301.7 419.7L298.8 420.6z" fill="#ff7474"/>
<path d="M336.2 428.6L339.2 426.9L337.4 424.2L334.4 425.9z" fill="#ffa1a1"/>
<path d="M257.0 415.0L259.9 413.6L258.1 410.8L255.1 412.4z" fill="#ff2323"/>
<path d="M292.9 422.5L295.8 421.6L294.0 418.2L291.0 419.1z" fill="#ff6464"/>
<path d="M328.4 430.6L331.4 428.2L329.6 425.4L326.6 427.5z" fill="#ffadad"/>
<path d="M363.7 437.0L366.6 436.1L364.8 434.4L361.9 435.0z" fill="#fffcfc"/>
<path d="M249.4 416.3L252.2 414.1L250.4 411.8L247.6 414.4z" fill="#ff2e2e"/>
<path d="M285.1 420.6L288.1 419.9L286.2 416.4L283.3 417.1z" fill="#ff5252"/>
<path d="M320.7 430.4L323.6 429.2L321.9 425.6L318.9 426.8z" fill="#ffabab"/>
<path d="M356.0 436.2L358.9 435.7L357.2 433.4L354.3 433.7z" fill="#fff0f0"/>
<path d="M242.2 423.0L244.7 417.0L243.0 415.9L240.4 421.9z" fill="#ff6060"/>
<path d="M277.4 418.6L280.3 417.8L278.4 414.3L275.5 415.1z" fill="#ff3d3d"/>
<path d="M313.0 429.0L316.0 427.9L314.2 423.9L311.2 425.0z" fill="#ff9a9a"/>
<path d="M348.5 432.9L351.4 433.5L349.6 431.0L346.8 430.1z" fill="#ffd2d2"/>
<path d="M269.6 417.2L272.5 416.1L270.6 412.8L267.7 414.0z" fill="#ff2f2f"/>
<path d="M305.3 427.0L308.3 426.0L306.5 422.1L303.5 423.2z" fill="#ff8787"/>
<path d="M341.0 429.8L343.9 429.5L342.1 426.6L339.2 426.9z" fill="#ffacac"/>
<path d="M261.8 416.5L264.8 415.2L262.9 412.3L259.9 413.6z" fill="#ff2929"/>
<path d="M297.6 425.1L300.6 424.1L298.8 420.6L295.8 421.6z" fill="#ff7575"/>
<path d="M333.2 431.1L336.2 428.6L334.4 425.9L331.4 428.2z" fill="#ffacac"/>
<path d="M368.4 437.7L371.4 436.7L369.6 435.2L366.6 436.1z" fill="#ffffff"/>
<path d="M254.1 416.4L257.0 415.0L255.1 412.4L252.2 414.1z" fill="#ff2929"/>
<path d="M289.9 423.4L292.9 422.5L291.0 419.1L288.1 419.9z" fill="#ff6464"/>
<path d="M325.4 432.5L328.4 430.6L326.6 427.5L323.6 429.2z" fill="#ffb7b7"/>
<path d="M360.7 437.8L363.7 437.0L361.9 435.0L358.9 435.7z" fill="#fffafa"/>
<path d="M246.5 418.5L249.4 416.3L247.6 414.4L244.7 417.0z" fill="#ff3c3c"/>
<path d="M282.2 421.4L285.1 420.6L283.3 417.1L280.3 417.8z" fill="#ff5050"/>
<path d="M317.7 431.5L320.7 430.4L318.9 426.8L316.0 427.9z" fill="#ffadad"/>
<path d="M353.1 436.5L356.0 436.2L354.3 433.7L351.4 433.5z" fill="#ffe9e9"/>
<path d="M239.7 430.4L242.2 423.0L240.4 421.9L238.0 428.8z" fill="#ff9595"/>
<path d="M274.4 419.5L277.4 418.6L275.5 415.1L272.5 416.1z" fill="#ff3d3d"/>
<path d="M310.1 430.0L313.0 429.0L311.2 425.0L308.3 426.0z" fill="#ff9b9b"/>
<path d="M345.6 432.6L348.5 432.9L346.8 430.1L343.9 429.5z" fill="#ffc3c3"/>
<path d="M266.6 418.3L269.6 417.2L267.7 414.0L264.8 415.2z" fill="#ff3131"/>
<path d="M302.4 427.9L305.3 427.0L303.5 423.2L300.6 424.1z" fill="#ff8787"/>
<path d="M338.0 431.5L341.0 429.8L339.2 426.9L336.2 428.6z" fill="#ffacac"/>
<path d="M258.9 417.7L261.8 416.5L259.9 413.6L257.0 415.0z" fill="#ff2d2d"/>
<path d="M294.7 426.0L297.6 425.1L295.8 421.6L292.9 422.5z" fill="#ff7575"/>
<path d="M330.1 433.7L333.2 431.1L331.4 428.2L328.4 430.6z" fill="#ffbaba"/>
<path d="M365.5 438.7L368.4 437.7L366.6 436.1L363.7 437.0z" fill="#fffefe"/>
<path d="M251.2 418.2L254.1 416.4L252.2 414.1L249.4 416.3z" fill="#ff3131"/>
<path d="M287.0 424.1L289.9 423.4L288.1 419.9L285.1 420.6z" fill="#ff6262"/>
<path d="M322.4 433.7L325.4 432.5L323.6 429.2L320.7 430.4z" fill="#ffbbbb"/>
<path d="M357.8 438.7L360.7 437.8L358.9 435.7L356.0 436.2z" fill="#fff7f7"/>
<path d="M243.9 424.4L246.5 418.5L244.7 417.0L242.2 423.0z" fill="#ff5b5b"/>
<path d="M279.2 422.2L282.2 421.4L280.3 417.8L277.4 418.6z" fill="#ff4e4e"/>
<path d="M314.8 432.6L317.7 431.5L316.0 427.9L313.0 429.0z" fill="#ffaeae"/>
<path d="M350.2 436.5L353.1 436.5L351.4 433.5L348.5 432.9z" fill="#ffdfdf"/>
<path d="M237.1 435.8L239.7 430.4L238.0 428.8L235.4 434.1z" fill="#ffc7c7"/>
<path d="M271.5 420.5L274.4 419.5L272.5 416.1L269.6 417.2z" fill="#ff3e3e"/>
<path d="M307.1 430.9L310.1 430.0L308.3 426.0L305.3 427.0z" fill="#ff9b9b"/>
<path d="M342.7 433.0L345.6 432.6L343.9 429.5L341.0 429.8z" fill="#ffb9b9"/>
<path d="M263.7 419.5L266.6 418.3L264.8 415.2L261.8 416.5z" fill="#ff3434"/>
<path d="M299.4 428.8L302.4 427.9L300.6 424.1L297.6 425.1z" fill="#ff8787"/>
<path d="M334.9 434.1L338.0 431.5L336.2 428.6L333.2 431.1z" fill="#ffb7b7"/>
<path d="M370.3 439.4L373.2 438.3L371.4 436.7L368.4 437.7z" fill="#ffffff"/>
<path d="M256.0 418.9L258.9 417.7L257.0 415.0L254.1 416.4z" fill="#ff3030"/>
<path d="M291.7 426.9L294.7 426.0L292.9 422.5L289.9 423.4z" fill="#ff7474"/>
<path d="M327.1 435.7L330.1 433.7L328.4 430.6L325.4 432.5z" fill="#ffc5c5"/>
<path d="M362.5 439.7L365.5 438.7L363.7 437.0L360.7 437.8z" fill="#fffdfd"/>
<path d="M248.3 420.1L251.2 418.2L249.4 416.3L246.5 418.5z" fill="#ff3c3c"/>
<path d="M284.0 424.9L287.0 424.1L285.1 420.6L282.2 421.4z" fill="#ff6161"/>
<path d="M319.5 434.9L322.4 433.7L320.7 430.4L317.7 431.5z" fill="#ffbebe"/>
<path d="M354.8 439.4L357.8 438.7L356.0 436.2L353.1 436.5z" fill="#fff3f3"/>
<path d="M241.4 432.0L243.9 424.4L242.2 423.0L239.7 430.4z" fill="#ff9191"/>
<path d="M311.8 433.6L314.8 432.6L313.0 429.0L310.1 430.0z" fill="#ffafaf"/>
<path d="M276.3 423.0L279.2 422.2L277.4 418.6L274.4 419.5z" fill="#ff4d4d"/>
<path d="M347.3 436.7L350.2 436.5L348.5 432.9L345.6 432.6z" fill="#ffd4d4"/>
<path d="M234.5 440.5L237.1 435.8L235.4 434.1L232.8 438.7z" fill="#ffeded"/>
<path d="M268.5 421.5L271.5 420.5L269.6 417.2L266.6 418.3z" fill="#ff3f3f"/>
<path d="M304.2 431.8L307.1 430.9L305.3 427.0L302.4 427.9z" fill="#ff9b9b"/>
<path d="M339.7 434.7L342.7 433.0L341.0 429.8L338.0 431.5z" fill="#ffbaba"/>
<path d="M260.8 420.6L263.7 419.5L261.8 416.5L258.9 417.7z" fill="#ff3737"/>
<path d="M296.5 429.7L299.4 428.8L297.6 425.1L294.7 426.0z" fill="#ff8686"/>
<path d="M331.9 436.8L334.9 434.1L333.2 431.1L330.1 433.7z" fill="#ffc6c6"/>
<path d="M367.3 440.4L370.3 439.4L368.4 437.7L365.5 438.7z" fill="#ffffff"/>
<path d="M253.0 420.3L256.0 418.9L254.1 416.4L251.2 418.2z" fill="#ff3535"/>
<path d="M288.8 427.6L291.7 426.9L289.9 423.4L287.0 424.1z" fill="#ff7373"/>
<path d="M324.2 437.0L327.1 435.7L325.4 432.5L322.4 433.7z" fill="#ffcaca"/>
<path d="M359.6 440.7L362.5 439.7L360.7 437.8L357.8 438.7z" fill="#fffcfc"/>
<path d="M245.7 426.0L248.3 420.1L246.5 418.5L243.9 424.4z" fill="#ff5858"/>
<path d="M281.1 425.6L284.0 424.9L282.2 421.4L279.2 422.2z" fill="#ff5f5f"/>
<path d="M316.5 436.0L319.5 434.9L317.7 431.5L314.8 432.6z" fill="#ffbfbf"/>
<path d="M351.9 440.0L354.8 439.4L353.1 436.5L350.2 436.5z" fill="#ffeeee"/>
<path d="M238.8 437.6L241.4 432.0L239.7 430.4L237.1 435.8z" fill="#ffc6c6"/>
<path d="M273.3 423.8L276.3 423.0L274.4 419.5L271.5 420.5z" fill="#ff4d4d"/>
<path d="M308.9 434.6L311.8 433.6L310.1 430.0L307.1 430.9z" fill="#ffafaf"/>
<path d="M344.4 437.4L347.3 436.7L345.6 432.6L342.7 433.0z" fill="#ffcdcd"/>
<path d="M265.6 422.6L268.5 421.5L266.6 418.3L263.7 419.5z" fill="#ff4141"/>
<path d="M301.2 432.6L304.2 431.8L302.4 427.9L299.4 428.8z" fill="#ff9a9a"/>
<path d="M336.7 437.2L339.7 434.7L338.0 431.5L334.9 434.1z" fill="#ffc4c4"/>
<path d="M257.8 421.6L260.8 420.6L258.9 417.7L256.0 418.9z" fill="#ff3939"/>
<path d="M293.5 430.5L296.5 429.7L294.7 426.0L291.7 426.9z" fill="#ff8686"/>
<path d="M328.9 438.8L331.9 436.8L330.1 433.7L327.1 435.7z" fill="#ffd3d3"/>
<path d="M364.3 441.4L367.3 440.4L365.5 438.7L362.5 439.7z" fill="#ffffff"/>
<path d="M250.1 421.9L253.0 420.3L251.2 418.2L248.3 420.1z" fill="#ff3d3d"/>
<path d="M285.8 428.3L288.8 427.6L287.0 424.1L284.0 424.9z" fill="#ff7171"/>
<path d="M321.2 438.2L324.2 437.0L322.4 433.7L319.5 434.9z" fill="#ffcdcd"/>
<path d="M356.6 441.6L359.6 440.7L357.8 438.7L354.8 439.4z" fill="#fffbfb"/>
<path d="M243.1 433.8L245.7 426.0L243.9 424.4L241.4 432.0z" fill="#ff8f8f"/>
<path d="M278.1 426.4L281.1 425.6L279.2 422.2L276.3 423.0z" fill="#ff5e5e"/>
<path d="M313.6 437.1L316.5 436.0L314.8 432.6L311.8 433.6z" fill="#ffc0c0"/>
<path d="M349.0 440.7L351.9 440.0L350.2 436.5L347.3 436.7z" fill="#ffe8e8"/>
<path d="M236.2 442.4L238.8 437.6L237.1 435.8L234.5 440.5z" fill="#ffeded"/>
<path d="M270.4 424.7L273.3 423.8L271.5 420.5L268.5 421.5z" fill="#ff4d4d"/>
<path d="M305.9 435.4L308.9 434.6L307.1 430.9L304.2 431.8z" fill="#ffaeae"/>
<path d="M341.4 438.8L344.4 437.4L342.7 433.0L339.7 434.7z" fill="#ffcdcd"/>
<path d="M262.6 423.6L265.6 422.6L263.7 419.5L260.8 420.6z" fill="#ff4242"/>
<path d="M298.3 433.4L301.2 432.6L299.4 428.8L296.5 429.7z" fill="#ff9999"/>
<path d="M333.6 439.8L336.7 437.2L334.9 434.1L331.9 436.8z" fill="#ffd3d3"/>
<path d="M254.9 422.7L257.8 421.6L256.0 418.9L253.0 420.3z" fill="#ff3c3c"/>
<path d="M290.6 431.1L293.5 430.5L291.7 426.9L288.8 427.6z" fill="#ff8484"/>
<path d="M325.9 440.1L328.9 438.8L327.1 435.7L324.2 437.0z" fill="#ffd9d9"/>
<path d="M361.3 442.5L364.3 441.4L362.5 439.7L359.6 440.7z" fill="#fffefe"/>
<path d="M247.4 427.7L250.1 421.9L248.3 420.1L245.7 426.0z" fill="#ff5757"/>
<path d="M282.9 429.0L285.8 428.3L284.0 424.9L281.1 425.6z" fill="#ff6f6f"/>
<path d="M318.3 439.3L321.2 438.2L319.5 434.9L316.5 436.0z" fill="#ffcfcf"/>
<path d="M353.6 442.5L356.6 441.6L354.8 439.4L351.9 440.0z" fill="#fff8f8"/>
<path d="M240.5 439.4L243.1 433.8L241.4 432.0L238.8 437.6z" fill="#ffc5c5"/>
<path d="M275.2 427.2L278.1 426.4L276.3 423.0L273.3 423.8z" fill="#ff5c5c"/>
<path d="M310.6 438.0L313.6 437.1L311.8 433.6L308.9 434.6z" fill="#ffc0c0"/>
<path d="M346.0 441.6L349.0 440.7L347.3 436.7L344.4 437.4z" fill="#ffe4e4"/>
<path d="M267.4 425.7L270.4 424.7L268.5 421.5L265.6 422.6z" fill="#ff4e4e"/>
<path d="M303.0 436.2L305.9 435.4L304.2 431.8L301.2 432.6z" fill="#ffadad"/>
<path d="M338.3 440.8L341.4 438.8L339.7 434.7L336.7 437.2z" fill="#ffd6d6"/>
<path d="M259.7 424.7L262.6 423.6L260.8 420.6L257.8 421.6z" fill="#ff4444"/>
<path d="M295.3 434.1L298.3 433.4L296.5 429.7L293.5 430.5z" fill="#ff9797"/>
<path d="M330.6 441.7L333.6 439.8L331.9 436.8L328.9 438.8z" fill="#ffdfdf"/>
<path d="M252.0 424.1L254.9 422.7L253.0 420.3L250.1 421.9z" fill="#ff4040"/>
<path d="M287.6 431.8L290.6 431.1L288.8 427.6L285.8 428.3z" fill="#ff8181"/>
<path d="M322.9 441.3L325.9 440.1L324.2 437.0L321.2 438.2z" fill="#ffdbdb"/>
<path d="M358.4 443.5L361.3 442.5L359.6 440.7L356.6 441.6z" fill="#fffefe"/>
<path d="M244.9 435.6L247.4 427.7L245.7 426.0L243.1 433.8z" fill="#ff8f8f"/>
<path d="M279.9 429.7L282.9 429.0L281.1 425.6L278.1 426.4z" fill="#ff6d6d"/>
<path d="M315.3 440.4L318.3 439.3L316.5 436.0L313.6 437.1z" fill="#ffcfcf"/>
<path d="M350.7 443.4L353.6 442.5L351.9 440.0L349.0 440.7z" fill="#fff6f6"/>
<path d="M237.8 444.2L240.5 439.4L238.8 437.6L236.2 442.4z" fill="#ffeded"/>
<path d="M272.2 427.9L275.2 427.2L273.3 423.8L270.4 424.7z" fill="#ff5b5b"/>
<path d="M307.7 438.9L310.6 438.0L308.9 434.6L305.9 435.4z" fill="#ffbfbf"/>
<path d="M343.0 442.7L346.0 441.6L344.4 437.4L341.4 438.8z" fill="#ffe4e4"/>
<path d="M264.5 426.7L267.4 425.7L265.6 422.6L262.6 423.6z" fill="#ff4f4f"/>
<path d="M300.0 436.9L303.0 436.2L301.2 432.6L298.3 433.4z" fill="#ffabab"/>
<path d="M335.3 442.9L338.3 440.8L336.7 437.2L333.6 439.8z" fill="#ffe1e1"/>
<path d="M256.7 425.7L259.7 424.7L257.8 421.6L254.9 422.7z" fill="#ff4545"/>
<path d="M292.4 434.6L295.3 434.1L293.5 430.5L290.6 431.1z" fill="#ff9595"/>
<path d="M327.6 442.9L330.6 441.7L328.9 438.8L325.9 440.1z" fill="#ffe5e5"/>
<path d="M249.2 429.9L252.0 424.1L250.1 421.9L247.4 427.7z" fill="#ff5959"/>
<path d="M284.7 432.4L287.6 431.8L285.8 428.3L282.9 429.0z" fill="#ff7f7f"/>
<path d="M320.0 442.5L322.9 441.3L321.2 438.2L318.3 439.3z" fill="#ffdddd"/>
<path d="M355.4 444.5L358.4 443.5L356.6 441.6L353.6 442.5z" fill="#fffdfd"/>
<path d="M242.2 441.2L244.9 435.6L243.1 433.8L240.5 439.4z" fill="#ffc5c5"/>
<path d="M277.0 430.4L279.9 429.7L278.1 426.4L275.2 427.2z" fill="#ff6b6b"/>
<path d="M312.4 441.4L315.3 440.4L313.6 437.1L310.6 438.0z" fill="#ffd0d0"/>
<path d="M347.7 444.4L350.7 443.4L349.0 440.7L346.0 441.6z" fill="#fff5f5"/>
<path d="M269.2 428.8L272.2 427.9L270.4 424.7L267.4 425.7z" fill="#ff5b5b"/>
<path d="M304.7 439.7L307.7 438.9L305.9 435.4L303.0 436.2z" fill="#ffbebe"/>
<path d="M340.0 444.1L343.0 442.7L341.4 438.8L338.3 440.8z" fill="#ffe9e9"/>
<path d="M261.5 427.8L264.5 426.7L262.6 423.6L259.7 424.7z" fill="#ff5050"/>
<path d="M297.1 437.6L300.0 436.9L298.3 433.4L295.3 434.1z" fill="#ffa9a9"/>
<path d="M332.3 444.4L335.3 442.9L333.6 439.8L330.6 441.7z" fill="#ffebeb"/>
<path d="M253.8 427.0L256.7 425.7L254.9 422.7L252.0 424.1z" fill="#ff4848"/>
<path d="M289.4 435.2L292.4 434.6L290.6 431.1L287.6 431.8z" fill="#ff9191"/>
<path d="M324.7 444.1L327.6 442.9L325.9 440.1L322.9 441.3z" fill="#ffe7e7"/>
<path d="M246.6 437.6L249.2 429.9L247.4 427.7L244.9 435.6z" fill="#ff9090"/>
<path d="M281.7 433.0L284.7 432.4L282.9 429.0L279.9 429.7z" fill="#ff7c7c"/>
<path d="M317.0 443.5L320.0 442.5L318.3 439.3L315.3 440.4z" fill="#ffdede"/>
<path d="M352.4 445.6L355.4 444.5L353.6 442.5L350.7 443.4z" fill="#fffdfd"/>
<path d="M239.5 446.1L242.2 441.2L240.5 439.4L237.8 444.2z" fill="#ffeded"/>
<path d="M274.0 431.1L277.0 430.4L275.2 427.2L272.2 427.9z" fill="#ff6969"/>
<path d="M309.4 442.3L312.4 441.4L310.6 438.0L307.7 438.9z" fill="#ffcfcf"/>
<path d="M344.7 445.5L347.7 444.4L346.0 441.6L343.0 442.7z" fill="#fff5f5"/>
<path d="M266.3 429.8L269.2 428.8L267.4 425.7L264.5 426.7z" fill="#ff5b5b"/>
<path d="M301.8 440.5L304.7 439.7L303.0 436.2L300.0 436.9z" fill="#ffbcbc"/>
<path d="M337.1 445.6L340.0 444.1L338.3 440.8L335.3 442.9z" fill="#ffefef"/>
<path d="M258.6 428.9L261.5 427.8L259.7 424.7L256.7 425.7z" fill="#ff5151"/>
<path d="M294.1 438.1L297.1 437.6L295.3 434.1L292.4 434.6z" fill="#ffa6a6"/>
<path d="M329.4 445.6L332.3 444.4L330.6 441.7L327.6 442.9z" fill="#ffefef"/>
<path d="M251.0 432.5L253.8 427.0L252.0 424.1L249.2 429.9z" fill="#ff6060"/>
<path d="M286.5 435.7L289.4 435.2L287.6 431.8L284.7 432.4z" fill="#ff8e8e"/>
<path d="M321.7 445.3L324.7 444.1L322.9 441.3L320.0 442.5z" fill="#ffe9e9"/>
<path d="M243.9 443.1L246.6 437.6L244.9 435.6L242.2 441.2z" fill="#ffc5c5"/>
<path d="M278.8 433.6L281.7 433.0L279.9 429.7L277.0 430.4z" fill="#ff7979"/>
<path d="M314.1 444.5L317.0 443.5L315.3 440.4L312.4 441.4z" fill="#ffdede"/>
<path d="M349.5 446.6L352.4 445.6L350.7 443.4L347.7 444.4z" fill="#fffdfd"/>
<path d="M271.1 431.9L274.0 431.1L272.2 427.9L269.2 428.8z" fill="#ff6868"/>
<path d="M306.5 443.2L309.4 442.3L307.7 438.9L304.7 439.7z" fill="#ffcece"/>
<path d="M341.8 446.6L344.7 445.5L343.0 442.7L340.0 444.1z" fill="#fff6f6"/>
<path d="M263.4 430.8L266.3 429.8L264.5 426.7L261.5 427.8z" fill="#ff5c5c"/>
<path d="M298.8 441.2L301.8 440.5L300.0 436.9L297.1 437.6z" fill="#ffbaba"/>
<path d="M334.1 446.8L337.1 445.6L335.3 442.9L332.3 444.4z" fill="#fff4f4"/>
<path d="M255.6 430.2L258.6 428.9L256.7 425.7L253.8 427.0z" fill="#ff5454"/>
<path d="M291.2 438.6L294.1 438.1L292.4 434.6L289.4 435.2z" fill="#ffa1a1"/>
<path d="M326.4 446.7L329.4 445.6L327.6 442.9L324.7 444.1z" fill="#fff0f0"/>
<path d="M248.4 439.9L251.0 432.5L249.2 429.9L246.6 437.6z" fill="#ff9494"/>
<path d="M283.5 436.3L286.5 435.7L284.7 432.4L281.7 433.0z" fill="#ff8b8b"/>
<path d="M318.8 446.3L321.7 445.3L320.0 442.5L317.0 443.5z" fill="#ffe9e9"/>
<path d="M241.2 447.9L243.9 443.1L242.2 441.2L239.5 446.1z" fill="#ffeded"/>
<path d="M275.8 434.3L278.8 433.6L277.0 430.4L274.0 431.1z" fill="#ff7777"/>
<path d="M311.1 445.5L314.1 444.5L312.4 441.4L309.4 442.3z" fill="#ffdede"/>
<path d="M346.5 447.6L349.5 446.6L347.7 444.4L344.7 445.5z" fill="#fffdfd"/>
<path d="M268.1 432.8L271.1 431.9L269.2 428.8L266.3 429.8z" fill="#ff6767"/>
<path d="M303.5 444.1L306.5 443.2L304.7 439.7L301.8 440.5z" fill="#ffcdcd"/>
<path d="M338.8 447.8L341.8 446.6L340.0 444.1L337.1 445.6z" fill="#fff9f9"/>
<path d="M260.4 431.9L263.4 430.8L261.5 427.8L258.6 428.9z" fill="#ff5d5d"/>
<path d="M295.9 441.6L298.8 441.2L297.1 437.6L294.1 438.1z" fill="#ffb6b6"/>
<path d="M331.1 447.9L334.1 446.8L332.3 444.4L329.4 445.6z" fill="#fff7f7"/>
<path d="M252.8 435.3L255.6 430.2L253.8 427.0L251.0 432.5z" fill="#ff6969"/>
<path d="M288.3 439.1L291.2 438.6L289.4 435.2L286.5 435.7z" fill="#ff9d9d"/>
<path d="M323.4 447.8L326.4 446.7L324.7 444.1L321.7 445.3z" fill="#fff2f2"/>
<path d="M245.6 445.2L248.4 439.9L246.6 437.6L243.9 443.1z" fill="#ffc8c8"/>
<path d="M280.6 436.8L283.5 436.3L281.7 433.0L278.8 433.6z" fill="#ff8787"/>
<path d="M315.8 447.3L318.8 446.3L317.0 443.5L314.1 444.5z" fill="#ffeaea"/>
<path d="M272.9 435.0L275.8 434.3L274.0 431.1L271.1 431.9z" fill="#ff7474"/>
<path d="M308.2 446.4L311.1 445.5L309.4 442.3L306.5 443.2z" fill="#ffdddd"/>
<path d="M343.5 448.7L346.5 447.6L344.7 445.5L341.8 446.6z" fill="#fffdfd"/>
<path d="M265.2 433.7L268.1 432.8L266.3 429.8L263.4 430.8z" fill="#ff6767"/>
<path d="M300.6 444.8L303.5 444.1L301.8 440.5L298.8 441.2z" fill="#ffcbcb"/>
<path d="M335.8 448.9L338.8 447.8L337.1 445.6L334.1 446.8z" fill="#fffbfb"/>
<path d="M257.5 433.1L260.4 431.9L258.6 428.9L255.6 430.2z" fill="#ff6060"/>
<path d="M293.0 442.0L295.9 441.6L294.1 438.1L291.2 438.6z" fill="#ffb1b1"/>
<path d="M328.1 449.0L331.1 447.9L329.4 445.6L326.4 446.7z" fill="#fff7f7"/>
<path d="M250.1 442.3L252.8 435.3L251.0 432.5L248.4 439.9z" fill="#ff9b9b"/>
<path d="M320.5 448.8L323.4 447.8L321.7 445.3L318.8 446.3z" fill="#fff2f2"/>
<path d="M285.3 439.6L288.3 439.1L286.5 435.7L283.5 436.3z" fill="#ff9999"/>
<path d="M242.9 449.7L245.6 445.2L243.9 443.1L241.2 447.9z" fill="#ffeeee"/>
<path d="M277.6 437.4L280.6 436.8L278.8 433.6L275.8 434.3z" fill="#ff8484"/>
<path d="M312.8 448.3L315.8 447.3L314.1 444.5L311.1 445.5z" fill="#ffeaea"/>
<path d="M269.9 435.8L272.9 435.0L271.1 431.9L268.1 432.8z" fill="#ff7373"/>
<path d="M305.2 447.4L308.2 446.4L306.5 443.2L303.5 444.1z" fill="#ffdddd"/>
<path d="M340.6 449.7L343.5 448.7L341.8 446.6L338.8 447.8z" fill="#fffefe"/>
<path d="M262.2 434.7L265.2 433.7L263.4 430.8L260.4 431.9z" fill="#ff6868"/>
<path d="M297.6 445.2L300.6 444.8L298.8 441.2L295.9 441.6z" fill="#ffc7c7"/>
<path d="M332.9 449.9L335.8 448.9L334.1 446.8L331.1 447.9z" fill="#fffcfc"/>
<path d="M254.6 437.9L257.5 433.1L255.6 430.2L252.8 435.3z" fill="#ff7474"/>
<path d="M290.0 442.5L293.0 442.0L291.2 438.6L288.3 439.1z" fill="#ffacac"/>
<path d="M325.2 450.0L328.1 449.0L326.4 446.7L323.4 447.8z" fill="#fff8f8"/>
<path d="M247.3 447.3L250.1 442.3L248.4 439.9L245.6 445.2z" fill="#ffcbcb"/>
<path d="M282.3 440.1L285.3 439.6L283.5 436.3L280.6 436.8z" fill="#ff9595"/>
<path d="M317.5 449.8L320.5 448.8L318.8 446.3L315.8 447.3z" fill="#fff2f2"/>
<path d="M274.7 438.1L277.6 437.4L275.8 434.3L272.9 435.0z" fill="#ff8181"/>
<path d="M309.9 449.3L312.8 448.3L311.1 445.5L308.2 446.4z" fill="#ffe9e9"/>
<path d="M267.0 436.6L269.9 435.8L268.1 432.8L265.2 433.7z" fill="#ff7272"/>
<path d="M302.3 448.2L305.2 447.4L303.5 444.1L300.6 444.8z" fill="#ffdbdb"/>
<path d="M337.6 450.7L340.6 449.7L338.8 447.8L335.8 448.9z" fill="#fffefe"/>
<path d="M259.3 435.8L262.2 434.7L260.4 431.9L257.5 433.1z" fill="#ff6a6a"/>
<path d="M294.7 445.5L297.6 445.2L295.9 441.6L293.0 442.0z" fill="#ffc2c2"/>
<path d="M329.9 451.0L332.9 449.9L331.1 447.9L328.1 449.0z" fill="#fffcfc"/>
<path d="M251.9 444.6L254.6 437.9L252.8 435.3L250.1 442.3z" fill="#ffa1a1"/>
<path d="M287.1 442.9L290.0 442.5L288.3 439.1L285.3 439.6z" fill="#ffa8a8"/>
<path d="M322.2 451.0L325.2 450.0L323.4 447.8L320.5 448.8z" fill="#fff8f8"/>
<path d="M244.5 451.6L247.3 447.3L245.6 445.2L242.9 449.7z" fill="#ffefef"/>
<path d="M279.4 440.6L282.3 440.1L280.6 436.8L277.6 437.4z" fill="#ff9191"/>
<path d="M314.6 450.8L317.5 449.8L315.8 447.3L312.8 448.3z" fill="#fff2f2"/>
<path d="M271.7 438.7L274.7 438.1L272.9 435.0L269.9 435.8z" fill="#ff7f7f"/>
<path d="M306.9 450.3L309.9 449.3L308.2 446.4L305.2 447.4z" fill="#ffe9e9"/>
<path d="M264.0 437.5L267.0 436.6L265.2 433.7L262.2 434.7z" fill="#ff7272"/>
<path d="M299.3 448.6L302.3 448.2L300.6 444.8L297.6 445.2z" fill="#ffd7d7"/>
<path d="M334.6 451.8L337.6 450.7L335.8 448.9L332.9 449.9z" fill="#fffefe"/>
<path d="M256.4 440.4L259.3 435.8L257.5 433.1L254.6 437.9z" fill="#ff7c7c"/>
<path d="M291.7 445.9L294.7 445.5L293.0 442.0L290.0 442.5z" fill="#ffbcbc"/>
<path d="M326.9 452.0L329.9 451.0L328.1 449.0L325.2 450.0z" fill="#fffcfc"/>
<path d="M249.0 449.3L251.9 444.6L250.1 442.3L247.3 447.3z" fill="#ffcfcf"/>
<path d="M284.1 443.3L287.1 442.9L285.3 439.6L282.3 440.1z" fill="#ffa3a3"/>
<path d="M319.3 452.1L322.2 451.0L320.5 448.8L317.5 449.8z" fill="#fff8f8"/>
<path d="M276.4 441.2L279.4 440.6L277.6 437.4L274.7 438.1z" fill="#ff8e8e"/>
<path d="M311.6 451.8L314.6 450.8L312.8 448.3L309.9 449.3z" fill="#fff2f2"/>
<path d="M268.7 439.4L271.7 438.7L269.9 435.8L267.0 436.6z" fill="#ff7d7d"/>
<path d="M304.0 451.2L306.9 450.3L305.2 447.4L302.3 448.2z" fill="#ffe8e8"/>
<path d="M261.1 438.5L264.0 437.5L262.2 434.7L259.3 435.8z" fill="#ff7272"/>
<path d="M296.4 448.9L299.3 448.6L297.6 445.2L294.7 445.5z" fill="#ffd2d2"/>
<path d="M331.6 452.8L334.6 451.8L332.9 449.9L329.9 451.0z" fill="#fffefe"/>
<path d="M253.6 446.8L256.4 440.4L254.6 437.9L251.9 444.6z" fill="#ffa7a7"/>
<path d="M288.8 446.2L291.7 445.9L290.0 442.5L287.1 442.9z" fill="#ffb7b7"/>
<path d="M324.0 453.0L326.9 452.0L325.2 450.0L322.2 451.0z" fill="#fffcfc"/>
<path d="M246.2 453.4L249.0 449.3L247.3 447.3L244.5 451.6z" fill="#fff0f0"/>
<path d="M281.2 443.7L284.1 443.3L282.3 440.1L279.4 440.6z" fill="#ff9e9e"/>
<path d="M316.3 453.1L319.3 452.1L317.5 449.8L314.6 450.8z" fill="#fff8f8"/>
<path d="M273.5 441.7L276.4 441.2L274.7 438.1L271.7 438.7z" fill="#ff8a8a"/>
<path d="M308.7 452.9L311.6 451.8L309.9 449.3L306.9 450.3z" fill="#fff2f2"/>
<path d="M265.8 440.2L268.7 439.4L267.0 436.6L264.0 437.5z" fill="#ff7b7b"/>
<path d="M301.0 451.7L304.0 451.2L302.3 448.2L299.3 448.6z" fill="#ffe5e5"/>
<path d="M258.2 442.9L261.1 438.5L259.3 435.8L256.4 440.4z" fill="#ff8383"/>
<path d="M293.5 449.3L296.4 448.9L294.7 445.5L291.7 445.9z" fill="#ffcccc"/>
<path d="M328.7 453.8L331.6 452.8L329.9 451.0L326.9 452.0z" fill="#fffefe"/>
<path d="M250.7 451.3L253.6 446.8L251.9 444.6L249.0 449.3z" fill="#ffd2d2"/>
<path d="M285.9 446.5L288.8 446.2L287.1 442.9L284.1 443.3z" fill="#ffb1b1"/>
<path d="M321.0 454.1L324.0 453.0L322.2 451.0L319.3 452.1z" fill="#fffcfc"/>
<path d="M278.2 444.2L281.2 443.7L279.4 440.6L276.4 441.2z" fill="#ff9a9a"/>
<path d="M313.3 454.1L316.3 453.1L314.6 450.8L311.6 451.8z" fill="#fff8f8"/>
<path d="M270.5 442.3L273.5 441.7L271.7 438.7L268.7 439.4z" fill="#ff8787"/>
<path d="M305.7 453.8L308.7 452.9L306.9 450.3L304.0 451.2z" fill="#fff2f2"/>
<path d="M262.8 441.1L265.8 440.2L264.0 437.5L261.1 438.5z" fill="#ff7b7b"/>
<path d="M298.1 452.1L301.0 451.7L299.3 448.6L296.4 448.9z" fill="#ffe0e0"/>
<path d="M255.3 449.0L258.2 442.9L256.4 440.4L253.6 446.8z" fill="#ffacac"/>
<path d="M290.5 449.6L293.5 449.3L291.7 445.9L288.8 446.2z" fill="#ffc6c6"/>
<path d="M325.7 454.9L328.7 453.8L326.9 452.0L324.0 453.0z" fill="#fffefe"/>
<path d="M247.9 455.3L250.7 451.3L249.0 449.3L246.2 453.4z" fill="#fff1f1"/>
<path d="M282.9 446.8L285.9 446.5L284.1 443.3L281.2 443.7z" fill="#ffabab"/>
<path d="M318.0 455.1L321.0 454.1L319.3 452.1L316.3 453.1z" fill="#fffcfc"/>
<path d="M275.2 444.7L278.2 444.2L276.4 441.2L273.5 441.7z" fill="#ff9696"/>
<path d="M310.4 455.1L313.3 454.1L311.6 451.8L308.7 452.9z" fill="#fff9f9"/>
<path d="M267.6 443.0L270.5 442.3L268.7 439.4L265.8 440.2z" fill="#ff8585"/>
<path d="M302.7 454.5L305.7 453.8L304.0 451.2L301.0 451.7z" fill="#fff0f0"/>
<path d="M259.9 445.3L262.8 441.1L261.1 438.5L258.2 442.9z" fill="#ff8a8a"/>
<path d="M295.2 452.6L298.1 452.1L296.4 448.9L293.5 449.3z" fill="#ffdada"/>
<path d="M252.4 453.3L255.3 449.0L253.6 446.8L250.7 451.3z" fill="#ffd4d4"/>
<path d="M287.6 449.7L290.5 449.6L288.8 446.2L285.9 446.5z" fill="#ffbfbf"/>
<path d="M322.7 455.9L325.7 454.9L324.0 453.0L321.0 454.1z" fill="#fffefe"/>
<path d="M280.0 447.1L282.9 446.8L281.2 443.7L278.2 444.2z" fill="#ffa6a6"/>
<path d="M315.1 456.1L318.0 455.1L316.3 453.1L313.3 454.1z" fill="#fffcfc"/>
<path d="M272.3 445.1L275.2 444.7L273.5 441.7L270.5 442.3z" fill="#ff9292"/>
<path d="M307.4 456.1L310.4 455.1L308.7 452.9L305.7 453.8z" fill="#fff8f8"/>
<path d="M264.6 443.8L267.6 443.0L265.8 440.2L262.8 441.1z" fill="#ff8383"/>
<path d="M299.8 455.2L302.7 454.5L301.0 451.7L298.1 452.1z" fill="#ffecec"/>
<path d="M257.0 451.2L259.9 445.3L258.2 442.9L255.3 449.0z" fill="#ffb0b0"/>
<path d="M292.2 452.9L295.2 452.6L293.5 449.3L290.5 449.6z" fill="#ffd4d4"/>
<path d="M249.6 457.1L252.4 453.3L250.7 451.3L247.9 455.3z" fill="#fff2f2"/>
<path d="M284.6 449.9L287.6 449.7L285.9 446.5L282.9 446.8z" fill="#ffb8b8"/>
<path d="M319.8 456.9L322.7 455.9L321.0 454.1L318.0 455.1z" fill="#fffefe"/>
<path d="M277.0 447.5L280.0 447.1L278.2 444.2L275.2 444.7z" fill="#ffa1a1"/>
<path d="M312.1 457.1L315.1 456.1L313.3 454.1L310.4 455.1z" fill="#fffcfc"/>
<path d="M269.3 445.7L272.3 445.1L270.5 442.3L267.6 443.0z" fill="#ff8e8e"/>
<path d="M304.5 457.0L307.4 456.1L305.7 453.8L302.7 454.5z" fill="#fff7f7"/>
<path d="M261.7 447.8L264.6 443.8L262.8 441.1L259.9 445.3z" fill="#ff9191"/>
<path d="M296.9 455.8L299.8 455.2L298.1 452.1L295.2 452.6z" fill="#ffe8e8"/>
<path d="M254.1 455.3L257.0 451.2L255.3 449.0L252.4 453.3z" fill="#ffd7d7"/>
<path d="M289.3 453.1L292.2 452.9L290.5 449.6L287.6 449.7z" fill="#ffcdcd"/>
<path d="M281.7 450.2L284.6 449.9L282.9 446.8L280.0 447.1z" fill="#ffb2b2"/>
<path d="M316.8 458.0L319.8 456.9L318.0 455.1L315.1 456.1z" fill="#fffefe"/>
<path d="M274.0 447.9L277.0 447.5L275.2 444.7L272.3 445.1z" fill="#ff9b9b"/>
<path d="M309.1 458.2L312.1 457.1L310.4 455.1L307.4 456.1z" fill="#fffcfc"/>
<path d="M266.4 446.5L269.3 445.7L267.6 443.0L264.6 443.8z" fill="#ff8c8c"/>
<path d="M301.5 457.9L304.5 457.0L302.7 454.5L299.8 455.2z" fill="#fff5f5"/>
<path d="M258.7 453.4L261.7 447.8L259.9 445.3L257.0 451.2z" fill="#ffb5b5"/>
<path d="M293.9 456.4L296.9 455.8L295.2 452.6L292.2 452.9z" fill="#ffe3e3"/>
<path d="M251.2 459.0L254.1 455.3L252.4 453.3L249.6 457.1z" fill="#fff2f2"/>
<path d="M286.3 453.3L289.3 453.1L287.6 449.7L284.6 449.9z" fill="#ffc6c6"/>
<path d="M278.7 450.5L281.7 450.2L280.0 447.1L277.0 447.5z" fill="#ffacac"/>
<path d="M313.8 459.0L316.8 458.0L315.1 456.1L312.1 457.1z" fill="#fffefe"/>
<path d="M271.1 448.4L274.0 447.9L272.3 445.1L269.3 445.7z" fill="#ff9797"/>
<path d="M306.2 459.1L309.1 458.2L307.4 456.1L304.5 457.0z" fill="#fffcfc"/>
<path d="M263.4 450.3L266.4 446.5L264.6 443.8L261.7 447.8z" fill="#ff9898"/>
<path d="M298.5 458.7L301.5 457.9L299.8 455.2L296.9 455.8z" fill="#fff3f3"/>
<path d="M255.8 457.3L258.7 453.4L257.0 451.2L254.1 455.3z" fill="#ffd9d9"/>
<path d="M291.0 457.0L293.9 456.4L292.2 452.9L289.3 453.1z" fill="#ffdede"/>
<path d="M283.4 453.6L286.3 453.3L284.6 449.9L281.7 450.2z" fill="#ffbfbf"/>
<path d="M275.8 450.8L278.7 450.5L277.0 447.5L274.0 447.9z" fill="#ffa5a5"/>
<path d="M310.9 460.0L313.8 459.0L312.1 457.1L309.1 458.2z" fill="#fffefe"/>
<path d="M268.1 449.2L271.1 448.4L269.3 445.7L266.4 446.5z" fill="#ff9494"/>
<path d="M303.2 460.1L306.2 459.1L304.5 457.0L301.5 457.9z" fill="#fffbfb"/>
<path d="M260.5 455.5L263.4 450.3L261.7 447.8L258.7 453.4z" fill="#ffbaba"/>
<path d="M295.6 459.6L298.5 458.7L296.9 455.8L293.9 456.4z" fill="#fff0f0"/>
<path d="M252.9 460.8L255.8 457.3L254.1 455.3L251.2 459.0z" fill="#fff3f3"/>
<path d="M288.0 457.4L291.0 457.0L289.3 453.1L286.3 453.3z" fill="#ffd8d8"/>
<path d="M280.5 453.8L283.4 453.6L281.7 450.2L278.7 450.5z" fill="#ffb9b9"/>
<path d="M272.8 451.2L275.8 450.8L274.0 447.9L271.1 448.4z" fill="#ffa0a0"/>
<path d="M307.9 461.1L310.9 460.0L309.1 458.2L306.2 459.1z" fill="#fffefe"/>
<path d="M265.1 452.7L268.1 449.2L266.4 446.5L263.4 450.3z" fill="#ff9f9f"/>
<path d="M300.2 461.1L303.2 460.1L301.5 457.9L298.5 458.7z" fill="#fffafa"/>
<path d="M257.5 459.3L260.5 455.5L258.7 453.4L255.8 457.3z" fill="#ffdcdc"/>
<path d="M292.6 460.4L295.6 459.6L293.9 456.4L291.0 457.0z" fill="#ffeded"/>
<path d="M285.1 458.0L288.0 457.4L286.3 453.3L283.4 453.6z" fill="#ffd2d2"/>
<path d="M277.5 454.1L280.5 453.8L278.7 450.5L275.8 450.8z" fill="#ffb2b2"/>
<path d="M269.9 452.0L272.8 451.2L271.1 448.4L268.1 449.2z" fill="#ff9d9d"/>
<path d="M304.9 462.1L307.9 461.1L306.2 459.1L303.2 460.1z" fill="#fffefe"/>
<path d="M262.2 457.7L265.1 452.7L263.4 450.3L260.5 455.5z" fill="#ffbfbf"/>
<path d="M297.3 462.1L300.2 461.1L298.5 458.7L295.6 459.6z" fill="#fff9f9"/>
<path d="M254.6 462.6L257.5 459.3L255.8 457.3L252.9 460.8z" fill="#fff4f4"/>
<path d="M289.7 461.2L292.6 460.4L291.0 457.0L288.0 457.4z" fill="#ffeaea"/>
<path d="M282.1 458.5L285.1 458.0L283.4 453.6L280.5 453.8z" fill="#ffcccc"/>
<path d="M274.5 454.5L277.5 454.1L275.8 450.8L272.8 451.2z" fill="#ffacac"/>
<path d="M266.9 455.3L269.9 452.0L268.1 449.2L265.1 452.7z" fill="#ffa7a7"/>
<path d="M302.0 463.1L304.9 462.1L303.2 460.1L300.2 461.1z" fill="#fffefe"/>
<path d="M259.2 461.3L262.2 457.7L260.5 455.5L257.5 459.3z" fill="#ffdede"/>
<path d="M294.3 463.1L297.3 462.1L295.6 459.6L292.6 460.4z" fill="#fff8f8"/>
<path d="M286.7 462.1L289.7 461.2L288.0 457.4L285.1 458.0z" fill="#ffe7e7"/>
<path d="M279.2 458.9L282.1 458.5L280.5 453.8L277.5 454.1z" fill="#ffc6c6"/>
<path d="M271.6 455.2L274.5 454.5L272.8 451.2L269.9 452.0z" fill="#ffa8a8"/>
<path d="M263.9 460.0L266.9 455.3L265.1 452.7L262.2 457.7z" fill="#ffc4c4"/>
<path d="M299.0 464.2L302.0 463.1L300.2 461.1L297.3 462.1z" fill="#fffefe"/>
<path d="M256.3 464.5L259.2 461.3L257.5 459.3L254.6 462.6z" fill="#fff5f5"/>
<path d="M291.4 464.0L294.3 463.1L292.6 460.4L289.7 461.2z" fill="#fff7f7"/>
<path d="M283.8 462.9L286.7 462.1L285.1 458.0L282.1 458.5z" fill="#ffe4e4"/>
<path d="M276.2 459.5L279.2 458.9L277.5 454.1L274.5 454.5z" fill="#ffc1c1"/>
<path d="M268.6 458.3L271.6 455.2L269.9 452.0L266.9 455.3z" fill="#ffb1b1"/>
<path d="M260.9 463.3L263.9 460.0L262.2 457.7L259.2 461.3z" fill="#ffe1e1"/>
<path d="M296.0 465.2L299.0 464.2L297.3 462.1L294.3 463.1z" fill="#fffdfd"/>
<path d="M288.4 465.0L291.4 464.0L289.7 461.2L286.7 462.1z" fill="#fff6f6"/>
<path d="M280.8 463.7L283.8 462.9L282.1 458.5L279.2 458.9z" fill="#ffe1e1"/>
<path d="M273.3 460.4L276.2 459.5L274.5 454.5L271.6 455.2z" fill="#ffbebe"/>
<path d="M265.6 462.4L268.6 458.3L266.9 455.3L263.9 460.0z" fill="#ffcaca"/>
<path d="M257.9 466.3L260.9 463.3L259.2 461.3L256.3 464.5z" fill="#fff5f5"/>
<path d="M293.0 466.2L296.0 465.2L294.3 463.1L291.4 464.0z" fill="#fffdfd"/>
<path d="M285.4 465.9L288.4 465.0L286.7 462.1L283.8 462.9z" fill="#fff5f5"/>
<path d="M277.8 464.6L280.8 463.7L279.2 458.9L276.2 459.5z" fill="#ffdede"/>
<path d="M270.3 462.7L273.3 460.4L271.6 455.2L268.6 458.3z" fill="#ffc4c4"/>
<path d="M262.6 465.5L265.6 462.4L263.9 460.0L260.9 463.3z" fill="#ffe4e4"/>
<path d="M290.1 467.3L293.0 466.2L291.4 464.0L288.4 465.0z" fill="#fffdfd"/>
<path d="M282.5 466.9L285.4 465.9L283.8 462.9L280.8 463.7z" fill="#fff3f3"/>
<path d="M274.9 465.5L277.8 464.6L276.2 459.5L273.3 460.4z" fill="#ffdcdc"/>
<path d="M267.3 465.6L270.3 462.7L268.6 458.3L265.6 462.4z" fill="#ffd7d7"/>
<path d="M259.6 468.2L262.6 465.5L260.9 463.3L257.9 466.3z" fill="#fff7f7"/>
<path d="M287.1 468.3L290.1 467.3L288.4 465.0L285.4 465.9z" fill="#fffdfd"/>
<path d="M279.5 467.9L282.5 466.9L280.8 463.7L277.8 464.6z" fill="#fff2f2"/>
<path d="M271.9 467.1L274.9 465.5L273.3 460.4L270.3 462.7z" fill="#ffdfdf"/>
<path d="M264.3 467.9L267.3 465.6L265.6 462.4L262.6 465.5z" fill="#ffebeb"/>
<path d="M284.1 469.4L287.1 468.3L285.4 465.9L282.5 466.9z" fill="#fffcfc"/>
<path d="M276.5 468.9L279.5 467.9L277.8 464.6L274.9 465.5z" fill="#fff2f2"/>
<path d="M268.9 468.9L271.9 467.1L270.3 462.7L267.3 465.6z" fill="#ffeaea"/>
<path d="M261.3 470.0L264.3 467.9L262.6 465.5L259.6 468.2z" fill="#fff9f9"/>
<path d="M281.2 470.4L284.1 469.4L282.5 466.9L279.5 467.9z" fill="#fffcfc"/>
<path d="M273.6 470.1L276.5 468.9L274.9 465.5L271.9 467.1z" fill="#fff3f3"/>
<path d="M265.9 470.4L268.9 468.9L267.3 465.6L264.3 467.9z" fill="#fff4f4"/>
<path d="M278.2 471.4L281.2 470.4L279.5 467.9L276.5 468.9z" fill="#fffcfc"/>
<path d="M270.6 471.4L273.6 470.1L271.9 467.1L268.9 468.9z" fill="#fff7f7"/>
<path d="M263.0 471.9L265.9 470.4L264.3 467.9L261.3 470.0z" fill="#fffcfc"/>
<path d="M275.2 472.5L278.2 471.4L276.5 468.9L273.6 470.1z" fill="#fffcfc"/>
<path d="M267.6 472.5L270.6 471.4L268.9 468.9L265.9 470.4z" fill="#fffbfb"/>
<path d="M272.3 473.5L275.2 472.5L273.6 470.1L270.6 471.4z" fill="#fffdfd"/>
<path d="M264.6 473.7L267.6 472.5L265.9 470.4L263.0 471.9z" fill="#fffefe"/>
<path d="M269.3 474.5L272.3 473.5L270.6 471.4L267.6 472.5z" fill="#fffefe"/>
<path d="M266.3 475.6L269.3 474.5L267.6 472.5L264.6 473.7z" fill="#ffffff"/>
</g>
<path d="M265.4 504.0L370.7 466.1" stroke="#222" stroke-width="0.6"/>
<path d="M265.4 504.0L235.0 466.2" stroke="#222" stroke-width="0.6"/>
<path d="M235.0 466.2L230.5 409.4" stroke="#222" stroke-width="0.6"/>
<path d="M230.5 409.4L336.5 378.1" stroke="#222" stroke-width="0.6"/>
<path d="M336.5 378.1L375.9 408.8" stroke="#222" stroke-width="0.6"/>
<path d="M375.9 408.8L370.7 466.1" stroke="#222" stroke-width="0.6"/>
<path d="M234.7 462.0h-3.6" stroke="#222" stroke-width="0.5"/>
<text x="230.1" y="463.9" font-size="5.3" text-anchor="end" fill="#334">−40</text>
<path d="M233.7 450.3h-3.6" stroke="#222" stroke-width="0.5"/>
<text x="229.1" y="452.2" font-size="5.3" text-anchor="end" fill="#334">−20</text>
<path d="M232.8 438.7h-3.6" stroke="#222" stroke-width="0.5"/>
<text x="228.2" y="440.6" font-size="5.3" text-anchor="end" fill="#334">0</text>
<path d="M231.9 427.0h-3.6" stroke="#222" stroke-width="0.5"/>
<text x="227.3" y="428.9" font-size="5.3" text-anchor="end" fill="#334">20</text>
<path d="M231.0 415.3h-3.6" stroke="#222" stroke-width="0.5"/>
<text x="226.4" y="417.2" font-size="5.3" text-anchor="end" fill="#334">40</text>
<path d="M277.1 499.8l0.5 2.2" stroke="#222" stroke-width="0.5"/>
<text x="278.7" y="506.9" font-size="5.3" text-anchor="middle" fill="#334">0.078</text>
<path d="M288.8 495.6l0.5 2.2" stroke="#222" stroke-width="0.5"/>
<text x="290.4" y="502.7" font-size="5.3" text-anchor="middle" fill="#334">0.156</text>
<path d="M300.5 491.4l0.5 2.2" stroke="#222" stroke-width="0.5"/>
<text x="302.1" y="498.5" font-size="5.3" text-anchor="middle" fill="#334">0.312</text>
<path d="M312.2 487.2l0.5 2.2" stroke="#222" stroke-width="0.5"/>
<text x="313.8" y="494.3" font-size="5.3" text-anchor="middle" fill="#334">0.625</text>
<path d="M323.9 482.9l0.5 2.2" stroke="#222" stroke-width="0.5"/>
<text x="325.5" y="490.0" font-size="5.3" text-anchor="middle" fill="#334">1.25</text>
<path d="M335.6 478.7l0.5 2.2" stroke="#222" stroke-width="0.5"/>
<text x="337.2" y="485.8" font-size="5.3" text-anchor="middle" fill="#334">2.5</text>
<path d="M347.3 474.5l0.5 2.2" stroke="#222" stroke-width="0.5"/>
<text x="348.9" y="481.6" font-size="5.3" text-anchor="middle" fill="#334">5</text>
<path d="M359.0 470.3l0.5 2.2" stroke="#222" stroke-width="0.5"/>
<text x="360.6" y="477.4" font-size="5.3" text-anchor="middle" fill="#334">10</text>
<path d="M370.7 466.1l0.5 2.2" stroke="#222" stroke-width="0.5"/>
<text x="372.3" y="473.2" font-size="5.3" text-anchor="middle" fill="#334">20</text>
<path d="M259.3 496.4l-2.6 2.6" stroke="#222" stroke-width="0.5"/>
<text x="260.1" y="505.8" font-size="5.3" text-anchor="end" fill="#334">9.604</text>
<path d="M253.2 488.9l-2.6 2.6" stroke="#222" stroke-width="0.5"/>
<text x="253.5" y="497.9" font-size="5.3" text-anchor="end" fill="#334">13.72</text>
<path d="M247.2 481.3l-2.6 2.6" stroke="#222" stroke-width="0.5"/>
<text x="246.1" y="490.0" font-size="5.3" text-anchor="end" fill="#334">19.6</text>
<path d="M241.1 473.8l-2.6 2.6" stroke="#222" stroke-width="0.5"/>
<text x="238.2" y="482.6" font-size="5.3" text-anchor="end" fill="#334">28</text>
<path d="M235.0 466.2l-2.6 2.6" stroke="#222" stroke-width="0.5"/>
<text x="232.1" y="475.6" font-size="5.3" text-anchor="end" fill="#334">40</text>
<text x="325.5" y="497.0" font-size="6.6" text-anchor="middle" textLength="39.0" lengthAdjust="spacingAndGlyphs" fill="#334" transform="rotate(-21.5 325.5 497.0)">BYL719 (uM)</text>
<text x="234.6" y="499.0" font-size="6.6" text-anchor="middle" textLength="46.0" lengthAdjust="spacingAndGlyphs" fill="#334" transform="rotate(48 234.6 499.0)">MDL−800 (uM)</text>
<text x="430.4" y="303.9" font-size="12.3" textLength="9.0" lengthAdjust="spacingAndGlyphs">D</text>
<rect x="436.3" y="331.9" width="247.1" height="148.5" fill="none" stroke="#111" stroke-width="1.3"/>
<path d="M436.3 369.0H683.4" stroke="#111" stroke-width="1.3"/>
<path d="M436.3 406.3H683.4" stroke="#111" stroke-width="1.3"/>
<path d="M436.3 443.5H683.4" stroke="#111" stroke-width="1.3"/>
<path d="M559.7 331.9V480.4" stroke="#111" stroke-width="1.3"/>
<text x="498.0" y="354.4" font-size="16" text-anchor="middle" textLength="58.9" lengthAdjust="spacingAndGlyphs" fill="#111">Cell line</text>
<text x="621.5" y="354.4" font-size="16" text-anchor="middle" textLength="103.2" lengthAdjust="spacingAndGlyphs" fill="#111">Synergy score</text>
<text x="498.0" y="391.3" font-size="16" text-anchor="middle" textLength="69.8" lengthAdjust="spacingAndGlyphs" fill="#111">KYSE-180</text>
<text x="621.5" y="391.3" font-size="16" text-anchor="middle" textLength="51.0" lengthAdjust="spacingAndGlyphs" fill="#111">18.618</text>
<text x="498.0" y="428.4" font-size="16" text-anchor="middle" textLength="52.7" lengthAdjust="spacingAndGlyphs" fill="#111">CAL-27</text>
<text x="621.5" y="428.4" font-size="16" text-anchor="middle" textLength="41.2" lengthAdjust="spacingAndGlyphs" fill="#111">6.071</text>
<text x="498.0" y="465.6" font-size="16" text-anchor="middle" textLength="85.2" lengthAdjust="spacingAndGlyphs" fill="#111">Detroit 562</text>
<text x="621.5" y="465.6" font-size="16" text-anchor="middle" textLength="31.8" lengthAdjust="spacingAndGlyphs" fill="#111">2.64</text>
<text x="10.2" y="565.5" font-size="14" textLength="7.0" lengthAdjust="spacingAndGlyphs">E</text>
<text x="176.5" y="588.0" font-size="17" text-anchor="middle" font-weight="bold" textLength="80.8" lengthAdjust="spacingAndGlyphs">KYSE-180</text>
<path d="M74.1 611.1V817.2H280.7" fill="none" stroke="#000" stroke-width="1.9"/>
<path d="M68.1 817.2H74.1" stroke="#000" stroke-width="1.7"/>
<text x="65.9" y="821.5" font-size="12.2" text-anchor="end" font-weight="bold">0</text>
<path d="M68.1 776.1H74.1" stroke="#000" stroke-width="1.7"/>
<text x="65.9" y="780.4" font-size="12.2" text-anchor="end" font-weight="bold">100</text>
<path d="M68.1 735.0H74.1" stroke="#000" stroke-width="1.7"/>
<text x="65.9" y="739.3" font-size="12.2" text-anchor="end" font-weight="bold">200</text>
<path d="M68.1 694.0H74.1" stroke="#000" stroke-width="1.7"/>
<text x="65.9" y="698.3" font-size="12.2" text-anchor="end" font-weight="bold">300</text>
<path d="M68.1 652.9H74.1" stroke="#000" stroke-width="1.7"/>
<text x="65.9" y="657.2" font-size="12.2" text-anchor="end" font-weight="bold">400</text>
<path d="M68.1 611.8H74.1" stroke="#000" stroke-width="1.7"/>
<text x="65.9" y="616.1" font-size="12.2" text-anchor="end" font-weight="bold">500</text>
<path d="M74.1 817.2V821.7" stroke="#000" stroke-width="1.7"/>
<text x="74.1" y="837.8" font-size="12.2" text-anchor="middle" font-weight="bold">0</text>
<path d="M132.6 817.2V821.7" stroke="#000" stroke-width="1.7"/>
<text x="132.6" y="837.8" font-size="12.2" text-anchor="middle" font-weight="bold">10</text>
<path d="M191.1 817.2V821.7" stroke="#000" stroke-width="1.7"/>
<text x="191.1" y="837.8" font-size="12.2" text-anchor="middle" font-weight="bold">20</text>
<path d="M249.6 817.2V821.7" stroke="#000" stroke-width="1.7"/>
<text x="249.6" y="837.8" font-size="12.2" text-anchor="middle" font-weight="bold">30</text>
<text x="177.4" y="858.9" font-size="14.3" text-anchor="middle" font-weight="bold" textLength="34.0" lengthAdjust="spacingAndGlyphs">Days</text>
<text x="34.8" y="715.5" font-size="15" font-weight="bold" text-anchor="middle" transform="rotate(-90 34.8 715.5)" textLength="147.5" lengthAdjust="spacingAndGlyphs">Tumor volume (mm<tspan font-size="10" dy="-6">3</tspan><tspan dy="6">)</tspan></text>
<path d="M74.1 766.6V768.6M71.5 766.6h5.2M71.5 768.6h5.2M97.5 753.4V764.9M94.9 753.4h5.2M94.9 764.9h5.2M115.0 739.0V749.7M112.4 739.0h5.2M112.4 749.7h5.2M132.6 717.4V726.4M130.0 717.4h5.2M130.0 726.4h5.2M156.0 716.3V729.4M153.4 716.3h5.2M153.4 729.4h5.2M173.5 707.9V721.5M170.9 707.9h5.2M170.9 721.5h5.2M196.9 688.8V701.6M194.3 688.8h5.2M194.3 701.6h5.2M214.5 691.9V705.9M211.9 691.9h5.2M211.9 705.9h5.2M232.0 661.5V681.2M229.4 661.5h5.2M229.4 681.2h5.2M249.6 650.8V677.1M247.0 650.8h5.2M247.0 677.1h5.2" stroke="#000000" stroke-width="1.5" fill="none"/>
<polyline points="74.1,767.6 97.5,759.1 115.0,744.3 132.6,721.9 156.0,722.8 173.5,714.7 196.9,695.2 214.5,698.9 232.0,671.4 249.6,664.0" fill="none" stroke="#000000" stroke-width="1.8" stroke-linejoin="round"/>
<circle cx="74.1" cy="767.6" r="2.7" fill="#000000"/>
<circle cx="97.5" cy="759.1" r="2.7" fill="#000000"/>
<circle cx="115.0" cy="744.3" r="2.7" fill="#000000"/>
<circle cx="132.6" cy="721.9" r="2.7" fill="#000000"/>
<circle cx="156.0" cy="722.8" r="2.7" fill="#000000"/>
<circle cx="173.5" cy="714.7" r="2.7" fill="#000000"/>
<circle cx="196.9" cy="695.2" r="2.7" fill="#000000"/>
<circle cx="214.5" cy="698.9" r="2.7" fill="#000000"/>
<circle cx="232.0" cy="671.4" r="2.7" fill="#000000"/>
<circle cx="249.6" cy="664.0" r="2.7" fill="#000000"/>
<path d="M74.1 766.1V772.2M71.5 766.1h5.2M71.5 772.2h5.2M97.5 762.4V767.7M94.9 762.4h5.2M94.9 767.7h5.2M115.0 751.7V761.1M112.4 751.7h5.2M112.4 761.1h5.2M132.6 759.5V770.6M130.0 759.5h5.2M130.0 770.6h5.2M156.0 739.9V751.8M153.4 739.9h5.2M153.4 751.8h5.2M173.5 742.5V752.4M170.9 742.5h5.2M170.9 752.4h5.2M196.9 736.4V747.7M194.3 736.4h5.2M194.3 747.7h5.2M214.5 730.5V740.0M211.9 730.5h5.2M211.9 740.0h5.2M232.0 727.0V741.4M229.4 727.0h5.2M229.4 741.4h5.2M249.6 710.4V724.4M247.0 710.4h5.2M247.0 724.4h5.2" stroke="#3f8e84" stroke-width="1.5" fill="none"/>
<polyline points="74.1,769.1 97.5,765.0 115.0,756.4 132.6,765.0 156.0,745.8 173.5,747.4 196.9,742.0 214.5,735.2 232.0,734.2 249.6,717.4" fill="none" stroke="#3f8e84" stroke-width="1.8" stroke-linejoin="round"/>
<polygon points="74.1,766.2 76.8,771.1 71.4,771.1" fill="#3f8e84"/>
<polygon points="97.5,762.1 100.2,767.0 94.8,767.0" fill="#3f8e84"/>
<polygon points="115.0,753.5 117.7,758.3 112.3,758.3" fill="#3f8e84"/>
<polygon points="132.6,762.1 135.3,767.0 129.9,767.0" fill="#3f8e84"/>
<polygon points="156.0,742.9 158.7,747.8 153.3,747.8" fill="#3f8e84"/>
<polygon points="173.5,744.5 176.2,749.4 170.8,749.4" fill="#3f8e84"/>
<polygon points="196.9,739.1 199.6,744.0 194.2,744.0" fill="#3f8e84"/>
<polygon points="214.5,732.3 217.2,737.2 211.8,737.2" fill="#3f8e84"/>
<polygon points="232.0,731.3 234.7,736.2 229.3,736.2" fill="#3f8e84"/>
<polygon points="249.6,714.5 252.3,719.3 246.9,719.3" fill="#3f8e84"/>
<path d="M74.1 771.4V775.9M71.5 771.4h5.2M71.5 775.9h5.2M97.5 775.3V785.2M94.9 775.3h5.2M94.9 785.2h5.2M115.0 764.2V774.1M112.4 764.2h5.2M112.4 774.1h5.2M132.6 758.9V769.5M130.0 758.9h5.2M130.0 769.5h5.2M156.0 751.8V765.7M153.4 751.8h5.2M153.4 765.7h5.2M173.5 747.0V761.0M170.9 747.0h5.2M170.9 761.0h5.2M196.9 739.4V754.6M194.3 739.4h5.2M194.3 754.6h5.2M214.5 732.0V748.0M211.9 732.0h5.2M211.9 748.0h5.2M232.0 709.8V729.1M229.4 709.8h5.2M229.4 729.1h5.2M249.6 701.4V728.5M247.0 701.4h5.2M247.0 728.5h5.2" stroke="#c98ac8" stroke-width="1.5" fill="none"/>
<polyline points="74.1,773.7 97.5,780.2 115.0,769.1 132.6,764.2 156.0,758.7 173.5,754.0 196.9,747.0 214.5,740.0 232.0,719.4 249.6,714.9" fill="none" stroke="#c98ac8" stroke-width="1.8" stroke-linejoin="round"/>
<rect x="71.4" y="771.0" width="5.4" height="5.4" fill="#c98ac8"/>
<rect x="94.8" y="777.5" width="5.4" height="5.4" fill="#c98ac8"/>
<rect x="112.3" y="766.4" width="5.4" height="5.4" fill="#c98ac8"/>
<rect x="129.9" y="761.5" width="5.4" height="5.4" fill="#c98ac8"/>
<rect x="153.3" y="756.0" width="5.4" height="5.4" fill="#c98ac8"/>
<rect x="170.8" y="751.3" width="5.4" height="5.4" fill="#c98ac8"/>
<rect x="194.2" y="744.3" width="5.4" height="5.4" fill="#c98ac8"/>
<rect x="211.8" y="737.3" width="5.4" height="5.4" fill="#c98ac8"/>
<rect x="229.3" y="716.7" width="5.4" height="5.4" fill="#c98ac8"/>
<rect x="246.9" y="712.2" width="5.4" height="5.4" fill="#c98ac8"/>
<path d="M74.1 775.9V784.5M71.5 775.9h5.2M71.5 784.5h5.2M97.5 779.4V788.4M94.9 779.4h5.2M94.9 788.4h5.2M115.0 777.1V786.6M112.4 777.1h5.2M112.4 786.6h5.2M132.6 774.7V786.6M130.0 774.7h5.2M130.0 786.6h5.2M156.0 767.7V780.4M153.4 767.7h5.2M153.4 780.4h5.2M173.5 772.8V785.2M170.9 772.8h5.2M170.9 785.2h5.2M196.9 758.3V771.8M194.3 758.3h5.2M194.3 771.8h5.2M214.5 760.5V773.7M211.9 760.5h5.2M211.9 773.7h5.2M232.0 751.9V765.9M229.4 751.9h5.2M229.4 765.9h5.2M249.6 748.0V764.8M247.0 748.0h5.2M247.0 764.8h5.2" stroke="#80184c" stroke-width="1.5" fill="none"/>
<polyline points="74.1,780.2 97.5,783.9 115.0,781.9 132.6,780.6 156.0,774.1 173.5,779.0 196.9,765.0 214.5,767.1 232.0,758.9 249.6,756.4" fill="none" stroke="#80184c" stroke-width="1.8" stroke-linejoin="round"/>
<polygon points="74.1,783.1 76.8,778.3 71.4,778.3" fill="#80184c"/>
<polygon points="97.5,786.8 100.2,782.0 94.8,782.0" fill="#80184c"/>
<polygon points="115.0,784.8 117.7,779.9 112.3,779.9" fill="#80184c"/>
<polygon points="132.6,783.6 135.3,778.7 129.9,778.7" fill="#80184c"/>
<polygon points="156.0,777.0 158.7,772.1 153.3,772.1" fill="#80184c"/>
<polygon points="173.5,781.9 176.2,777.1 170.8,777.1" fill="#80184c"/>
<polygon points="196.9,767.9 199.6,763.1 194.2,763.1" fill="#80184c"/>
<polygon points="214.5,770.0 217.2,765.1 211.8,765.1" fill="#80184c"/>
<polygon points="232.0,761.8 234.7,756.9 229.3,756.9" fill="#80184c"/>
<polygon points="249.6,759.3 252.3,754.5 246.9,754.5" fill="#80184c"/>
<path d="M88.0 617.9h19.2" stroke="#000000" stroke-width="1.8"/>
<circle cx="97.6" cy="617.9" r="2.7" fill="#000000"/>
<text x="118.3" y="621.4" font-size="9.9" textLength="33.0" lengthAdjust="spacingAndGlyphs" fill="#111">Vehicle</text>
<path d="M88.0 633.1h19.2" stroke="#c98ac8" stroke-width="1.8"/>
<rect x="94.9" y="630.4" width="5.4" height="5.4" fill="#c98ac8"/>
<text x="118.3" y="636.6" font-size="9.9" textLength="40.3" lengthAdjust="spacingAndGlyphs" fill="#111">MDL-800</text>
<path d="M88.0 648.3h19.2" stroke="#3f8e84" stroke-width="1.8"/>
<polygon points="97.6,645.4 100.3,650.2 94.9,650.2" fill="#3f8e84"/>
<text x="118.3" y="651.8" font-size="9.9" textLength="35.5" lengthAdjust="spacingAndGlyphs" fill="#111">BYL719</text>
<path d="M88.0 663.5h19.2" stroke="#80184c" stroke-width="1.8"/>
<polygon points="97.6,666.4 100.3,661.6 94.9,661.6" fill="#80184c"/>
<text x="118.3" y="667.0" font-size="9.9" textLength="55.6" lengthAdjust="spacingAndGlyphs" fill="#111">Combination</text>
<path d="M260.4 717.4H267.5V756.6H260.4" fill="none" stroke="#000" stroke-width="1.8"/>
<path d="M276.70 741.15L276.70 735.45M274.23 739.72L279.17 736.88M279.17 739.72L274.23 736.88" stroke="#000" stroke-width="1.3" fill="none"/>
<path d="M277.3 713.9H284.6V756.6H277.3" fill="none" stroke="#000" stroke-width="1.8"/>
<path d="M293.10 739.35L293.10 733.65M290.63 737.92L295.57 735.08M295.57 737.92L290.63 735.08M300.60 739.35L300.60 733.65M298.13 737.92L303.07 735.08M303.07 737.92L298.13 735.08" stroke="#000" stroke-width="1.3" fill="none"/>
<path d="M302.1 663.3H309.5V756.6H302.1" fill="none" stroke="#000" stroke-width="1.8"/>
<path d="M318.40 714.15L318.40 708.45M315.93 712.72L320.87 709.88M320.87 712.72L315.93 709.88M326.00 714.15L326.00 708.45M323.53 712.72L328.47 709.88M328.47 712.72L323.53 709.88M333.60 714.15L333.60 708.45M331.13 712.72L336.07 709.88M336.07 712.72L331.13 709.88M341.20 714.15L341.20 708.45M338.73 712.72L343.67 709.88M343.67 712.72L338.73 709.88" stroke="#000" stroke-width="1.3" fill="none"/>
<text x="518.6" y="588.0" font-size="17" text-anchor="middle" font-weight="bold" textLength="59.4" lengthAdjust="spacingAndGlyphs">CAL-27</text>
<path d="M415.9 612.7V816.8H622.6" fill="none" stroke="#000" stroke-width="1.9"/>
<path d="M409.9 816.8H415.9" stroke="#000" stroke-width="1.7"/>
<text x="407.7" y="821.1" font-size="12.2" text-anchor="end" font-weight="bold">0</text>
<path d="M409.9 749.0H415.9" stroke="#000" stroke-width="1.7"/>
<text x="407.7" y="753.3" font-size="12.2" text-anchor="end" font-weight="bold">100</text>
<path d="M409.9 681.2H415.9" stroke="#000" stroke-width="1.7"/>
<text x="407.7" y="685.5" font-size="12.2" text-anchor="end" font-weight="bold">200</text>
<path d="M409.9 613.4H415.9" stroke="#000" stroke-width="1.7"/>
<text x="407.7" y="617.7" font-size="12.2" text-anchor="end" font-weight="bold">300</text>
<path d="M415.9 816.8V821.3" stroke="#000" stroke-width="1.7"/>
<text x="415.9" y="837.8" font-size="12.2" text-anchor="middle" font-weight="bold">0</text>
<path d="M467.5 816.8V821.3" stroke="#000" stroke-width="1.7"/>
<text x="467.5" y="837.8" font-size="12.2" text-anchor="middle" font-weight="bold">5</text>
<path d="M519.0 816.8V821.3" stroke="#000" stroke-width="1.7"/>
<text x="519.0" y="837.8" font-size="12.2" text-anchor="middle" font-weight="bold">10</text>
<path d="M570.6 816.8V821.3" stroke="#000" stroke-width="1.7"/>
<text x="570.6" y="837.8" font-size="12.2" text-anchor="middle" font-weight="bold">15</text>
<path d="M622.2 816.8V821.3" stroke="#000" stroke-width="1.7"/>
<text x="622.2" y="837.8" font-size="12.2" text-anchor="middle" font-weight="bold">20</text>
<text x="519.2" y="858.9" font-size="14.3" text-anchor="middle" font-weight="bold" textLength="34.0" lengthAdjust="spacingAndGlyphs">Days</text>
<text x="376.6" y="716.1" font-size="15" font-weight="bold" text-anchor="middle" transform="rotate(-90 376.6 716.1)" textLength="147.5" lengthAdjust="spacingAndGlyphs">Tumor volume (mm<tspan font-size="10" dy="-6">3</tspan><tspan dy="6">)</tspan></text>
<path d="M415.9 794.8V798.2M413.3 794.8h5.2M413.3 798.2h5.2M446.8 776.8V784.9M444.2 776.8h5.2M444.2 784.9h5.2M467.5 759.5V770.4M464.9 759.5h5.2M464.9 770.4h5.2M488.1 744.9V755.8M485.5 744.9h5.2M485.5 755.8h5.2M519.0 726.6V742.9M516.4 726.6h5.2M516.4 742.9h5.2M529.4 715.1V725.9M526.8 715.1h5.2M526.8 725.9h5.2M539.7 697.5V713.7M537.1 697.5h5.2M537.1 713.7h5.2M560.3 665.3V687.0M557.7 665.3h5.2M557.7 687.0h5.2M591.3 637.9V662.3M588.7 637.9h5.2M588.7 662.3h5.2" stroke="#000000" stroke-width="1.5" fill="none"/>
<polyline points="415.9,796.5 446.8,780.9 467.5,764.9 488.1,750.4 519.0,734.8 529.4,720.5 539.7,705.6 560.3,676.1 591.3,650.1" fill="none" stroke="#000000" stroke-width="1.8" stroke-linejoin="round"/>
<circle cx="415.9" cy="796.5" r="2.7" fill="#000000"/>
<circle cx="446.8" cy="780.9" r="2.7" fill="#000000"/>
<circle cx="467.5" cy="764.9" r="2.7" fill="#000000"/>
<circle cx="488.1" cy="750.4" r="2.7" fill="#000000"/>
<circle cx="519.0" cy="734.8" r="2.7" fill="#000000"/>
<circle cx="529.4" cy="720.5" r="2.7" fill="#000000"/>
<circle cx="539.7" cy="705.6" r="2.7" fill="#000000"/>
<circle cx="560.3" cy="676.1" r="2.7" fill="#000000"/>
<circle cx="591.3" cy="650.1" r="2.7" fill="#000000"/>
<path d="M415.9 796.8V800.2M413.3 796.8h5.2M413.3 800.2h5.2M446.8 789.7V797.1M444.2 789.7h5.2M444.2 797.1h5.2M467.5 774.1V782.2M464.9 774.1h5.2M464.9 782.2h5.2M488.1 767.3V775.4M485.5 767.3h5.2M485.5 775.4h5.2M519.0 753.7V770.0M516.4 753.7h5.2M516.4 770.0h5.2M529.4 736.1V752.4M526.8 736.1h5.2M526.8 752.4h5.2M539.7 715.1V731.4M537.1 715.1h5.2M537.1 731.4h5.2M560.3 708.3V720.5M557.7 708.3h5.2M557.7 720.5h5.2M591.3 691.7V705.9M588.7 691.7h5.2M588.7 705.9h5.2" stroke="#3f8e84" stroke-width="1.5" fill="none"/>
<polyline points="415.9,798.5 446.8,793.4 467.5,778.2 488.1,771.4 519.0,761.9 529.4,744.3 539.7,723.2 560.3,714.4 591.3,698.8" fill="none" stroke="#3f8e84" stroke-width="1.8" stroke-linejoin="round"/>
<polygon points="415.9,795.6 418.6,800.4 413.2,800.4" fill="#3f8e84"/>
<polygon points="446.8,790.5 449.5,795.4 444.1,795.4" fill="#3f8e84"/>
<polygon points="467.5,775.2 470.2,780.1 464.8,780.1" fill="#3f8e84"/>
<polygon points="488.1,768.5 490.8,773.3 485.4,773.3" fill="#3f8e84"/>
<polygon points="519.0,759.0 521.8,763.8 516.3,763.8" fill="#3f8e84"/>
<polygon points="529.4,741.3 532.1,746.2 526.7,746.2" fill="#3f8e84"/>
<polygon points="539.7,720.3 542.4,725.2 537.0,725.2" fill="#3f8e84"/>
<polygon points="560.3,711.5 563.0,716.4 557.6,716.4" fill="#3f8e84"/>
<polygon points="591.3,695.9 594.0,700.8 588.6,700.8" fill="#3f8e84"/>
<path d="M415.9 797.1V801.2M413.3 797.1h5.2M413.3 801.2h5.2M446.8 782.2V790.4M444.2 782.2h5.2M444.2 790.4h5.2M467.5 773.1V782.6M464.9 773.1h5.2M464.9 782.6h5.2M488.1 765.9V776.8M485.5 765.9h5.2M485.5 776.8h5.2M519.0 741.1V754.7M516.4 741.1h5.2M516.4 754.7h5.2M529.4 731.4V743.6M526.8 731.4h5.2M526.8 743.6h5.2M539.7 720.1V735.0M537.1 720.1h5.2M537.1 735.0h5.2M560.3 700.2V717.8M557.7 700.2h5.2M557.7 717.8h5.2M591.3 668.7V688.3M588.7 668.7h5.2M588.7 688.3h5.2" stroke="#c98ac8" stroke-width="1.5" fill="none"/>
<polyline points="415.9,799.2 446.8,786.3 467.5,777.8 488.1,771.4 519.0,747.9 529.4,737.5 539.7,727.6 560.3,709.0 591.3,678.5" fill="none" stroke="#c98ac8" stroke-width="1.8" stroke-linejoin="round"/>
<rect x="413.2" y="796.5" width="5.4" height="5.4" fill="#c98ac8"/>
<rect x="444.1" y="783.6" width="5.4" height="5.4" fill="#c98ac8"/>
<rect x="464.8" y="775.1" width="5.4" height="5.4" fill="#c98ac8"/>
<rect x="485.4" y="768.7" width="5.4" height="5.4" fill="#c98ac8"/>
<rect x="516.3" y="745.2" width="5.4" height="5.4" fill="#c98ac8"/>
<rect x="526.7" y="734.8" width="5.4" height="5.4" fill="#c98ac8"/>
<rect x="537.0" y="724.9" width="5.4" height="5.4" fill="#c98ac8"/>
<rect x="557.6" y="706.3" width="5.4" height="5.4" fill="#c98ac8"/>
<rect x="588.6" y="675.8" width="5.4" height="5.4" fill="#c98ac8"/>
<path d="M415.9 797.5V800.9M413.3 797.5h5.2M413.3 800.9h5.2M446.8 789.7V796.5M444.2 789.7h5.2M444.2 796.5h5.2M467.5 789.3V797.5M464.9 789.3h5.2M464.9 797.5h5.2M488.1 785.1V794.6M485.5 785.1h5.2M485.5 794.6h5.2M519.0 764.9V779.8M516.4 764.9h5.2M516.4 779.8h5.2M529.4 760.8V777.1M526.8 760.8h5.2M526.8 777.1h5.2M539.7 755.1V771.4M537.1 755.1h5.2M537.1 771.4h5.2M560.3 748.3V771.4M557.7 748.3h5.2M557.7 771.4h5.2M591.3 727.6V756.8M588.7 727.6h5.2M588.7 756.8h5.2" stroke="#80184c" stroke-width="1.5" fill="none"/>
<polyline points="415.9,799.2 446.8,793.1 467.5,793.4 488.1,789.9 519.0,772.4 529.4,768.9 539.7,763.2 560.3,759.8 591.3,742.2" fill="none" stroke="#80184c" stroke-width="1.8" stroke-linejoin="round"/>
<polygon points="415.9,802.1 418.6,797.2 413.2,797.2" fill="#80184c"/>
<polygon points="446.8,796.0 449.5,791.1 444.1,791.1" fill="#80184c"/>
<polygon points="467.5,796.3 470.2,791.5 464.8,791.5" fill="#80184c"/>
<polygon points="488.1,792.8 490.8,787.9 485.4,787.9" fill="#80184c"/>
<polygon points="519.0,775.3 521.8,770.4 516.3,770.4" fill="#80184c"/>
<polygon points="529.4,771.8 532.1,767.0 526.7,767.0" fill="#80184c"/>
<polygon points="539.7,766.2 542.4,761.3 537.0,761.3" fill="#80184c"/>
<polygon points="560.3,762.8 563.0,757.9 557.6,757.9" fill="#80184c"/>
<polygon points="591.3,745.1 594.0,740.3 588.6,740.3" fill="#80184c"/>
<path d="M430.4 617.5h19.2" stroke="#000000" stroke-width="1.8"/>
<circle cx="440.0" cy="617.5" r="2.7" fill="#000000"/>
<text x="460.7" y="621.0" font-size="9.9" textLength="33.0" lengthAdjust="spacingAndGlyphs" fill="#111">Vehicle</text>
<path d="M430.4 632.7h19.2" stroke="#c98ac8" stroke-width="1.8"/>
<rect x="437.3" y="630.0" width="5.4" height="5.4" fill="#c98ac8"/>
<text x="460.7" y="636.2" font-size="9.9" textLength="40.3" lengthAdjust="spacingAndGlyphs" fill="#111">MDL-800</text>
<path d="M430.4 647.9h19.2" stroke="#3f8e84" stroke-width="1.8"/>
<polygon points="440.0,645.0 442.7,649.8 437.3,649.8" fill="#3f8e84"/>
<text x="460.7" y="651.4" font-size="9.9" textLength="35.5" lengthAdjust="spacingAndGlyphs" fill="#111">BYL719</text>
<path d="M430.4 663.1h19.2" stroke="#80184c" stroke-width="1.8"/>
<polygon points="440.0,666.0 442.7,661.2 437.3,661.2" fill="#80184c"/>
<text x="460.7" y="666.6" font-size="9.9" textLength="55.6" lengthAdjust="spacingAndGlyphs" fill="#111">Combination</text>
<path d="M603.1 699.6H610.1V741.4H603.1" fill="none" stroke="#000" stroke-width="1.8"/>
<path d="M618.90 724.75L618.90 719.05M616.43 723.32L621.37 720.48M621.37 723.32L616.43 720.48" stroke="#000" stroke-width="1.3" fill="none"/>
<path d="M619.7 678.3H626.7V741.4H619.7" fill="none" stroke="#000" stroke-width="1.8"/>
<path d="M636.00 714.05L636.00 708.35M633.53 712.62L638.47 709.78M638.47 712.62L633.53 709.78" stroke="#000" stroke-width="1.3" fill="none"/>
<path d="M641.7 647.7H648.7V741.4H641.7" fill="none" stroke="#000" stroke-width="1.8"/>
<path d="M657.70 698.95L657.70 693.25M655.23 697.52L660.17 694.68M660.17 697.52L655.23 694.68M665.50 698.95L665.50 693.25M663.03 697.52L667.97 694.68M667.97 697.52L663.03 694.68M673.40 698.95L673.40 693.25M670.93 697.52L675.87 694.68M675.87 697.52L670.93 694.68M681.30 698.95L681.30 693.25M678.83 697.52L683.77 694.68M683.77 697.52L678.83 694.68" stroke="#000" stroke-width="1.3" fill="none"/>
</svg></body></html>
